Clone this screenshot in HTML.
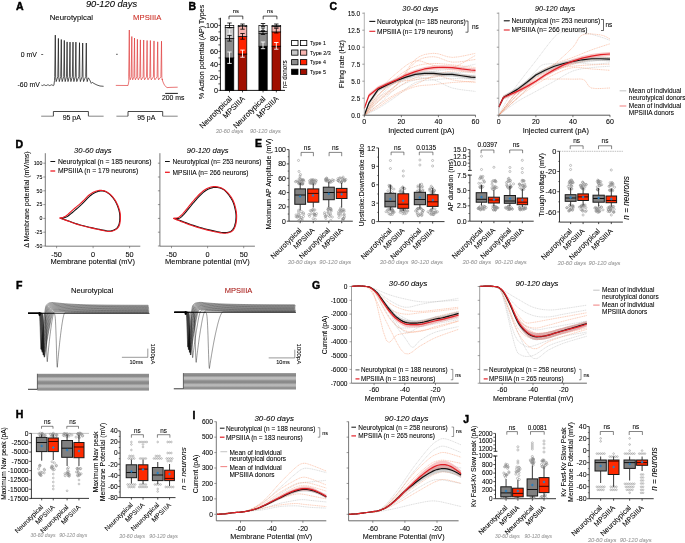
<!DOCTYPE html>
<html><head><meta charset="utf-8"><style>
html,body{margin:0;padding:0;background:#fff;overflow:hidden}
svg{display:block;will-change:transform}
text{font-family:"Liberation Sans", sans-serif}
</style></head><body>
<svg width="685" height="543" viewBox="0 0 685 543">
<rect width="685" height="543" fill="#fff"/>
<text x="16.00" y="10.20" font-size="10.5" text-anchor="start" fill="#000" stroke="#000" stroke-width="0.45" font-weight="bold">A</text>
<text x="111.50" y="6.60" font-size="9.3" text-anchor="middle" fill="#000" stroke="#000" stroke-width="0.07" font-style="italic">90-120 days</text>
<text x="71.40" y="20.00" font-size="7.8" text-anchor="middle" fill="#000" stroke="#000" stroke-width="0.07">Neurotypical</text>
<text x="147.20" y="20.00" font-size="7.7" text-anchor="middle" fill="#cc2b22" stroke="#cc2b22" stroke-width="0.07">MPSIIIA</text>
<text x="36.80" y="56.60" font-size="6.9" text-anchor="end" fill="#000" stroke="#000" stroke-width="0.07">0 mV</text>
<text x="39.80" y="87.30" font-size="6.9" text-anchor="end" fill="#000" stroke="#000" stroke-width="0.07">-60 mV</text>
<line x1="41.20" y1="54.50" x2="43.20" y2="54.50" stroke="#000" stroke-width="0.6"/>
<line x1="116.00" y1="54.30" x2="117.80" y2="54.30" stroke="#000" stroke-width="0.6"/>
<polyline points="41.40,85.20 42.10,85.57 42.80,85.48 43.50,85.03 44.20,84.80 44.90,85.07 45.60,85.50 46.30,85.56 47.00,85.16 47.70,84.82 48.40,84.95 49.10,85.40 49.80,85.60 50.50,85.29 51.20,84.87 51.90,84.86 52.60,85.28 53.30,85.59 53.90,85.20 54.50,80.60 54.70,76.50 55.30,35.10 55.65,77.50 56.20,81.60 57.80,76.50 58.40,38.40 58.75,77.50 59.30,81.60 60.70,76.50 61.30,39.50 61.65,77.50 62.20,81.60 63.70,76.50 64.30,40.40 64.65,77.50 65.20,81.60 66.50,76.50 67.10,41.90 67.45,77.50 68.00,81.60 69.40,76.50 70.00,42.10 70.35,77.50 70.90,81.60 72.40,76.50 73.00,42.10 73.35,77.50 73.90,81.60 75.30,76.50 75.90,42.10 76.25,77.50 76.80,81.60 78.90,76.50 79.50,42.70 79.85,77.50 80.40,81.60 82.10,76.50 82.70,43.00 83.05,77.50 83.60,81.60 85.70,76.50 86.30,43.00 86.65,77.50 87.20,81.60 88.30,77.80 89.50,79.50 91.30,83.40 92.30,82.30 94.00,83.50 97.00,85.00 100.00,86.00 103.60,86.30" stroke="#111" stroke-width="0.7" fill="none" stroke-linejoin="round"/>
<polyline points="115.80,85.40 128.00,85.50 128.90,81.00 128.70,76.80 129.30,30.00 129.65,77.50 130.20,79.80 131.20,76.80 131.80,36.50 132.15,77.50 132.70,79.80 133.90,76.80 134.50,38.00 134.85,77.50 135.40,79.80 136.80,76.80 137.40,39.30 137.75,77.50 138.30,79.80 139.80,76.80 140.40,39.90 140.75,77.50 141.30,79.80 143.10,76.80 143.70,40.00 144.05,77.50 144.60,79.80 146.50,76.80 147.10,40.50 147.45,77.50 148.00,79.80 149.80,76.80 150.40,40.50 150.75,77.50 151.30,79.80 153.40,76.80 154.00,40.90 154.35,77.50 154.90,79.80 157.10,76.80 157.70,41.80 158.05,77.50 158.60,79.80 160.90,76.80 161.50,41.20 161.85,77.50 162.40,79.80 162.10,79.00 163.00,82.00 164.60,85.40 167.00,87.60 170.00,87.40 177.70,87.20" stroke="#e03c3c" stroke-width="0.7" fill="none" stroke-linejoin="round"/>
<line x1="165.20" y1="93.40" x2="177.90" y2="93.40" stroke="#000" stroke-width="0.9"/>
<text x="173.20" y="100.00" font-size="6.9" text-anchor="middle" fill="#000" stroke="#000" stroke-width="0.07">200 ms</text>
<polyline points="41.20,116.20 53.40,116.20" stroke="#666" stroke-width="0.8" fill="none" stroke-linejoin="round"/>
<polyline points="53.40,116.20 53.40,111.50 88.40,111.50 88.40,116.20" stroke="#1a1a1a" stroke-width="0.8" fill="none" stroke-linejoin="round"/>
<polyline points="88.40,116.20 103.60,116.20" stroke="#666" stroke-width="0.8" fill="none" stroke-linejoin="round"/>
<text x="71.80" y="119.50" font-size="7" text-anchor="middle" fill="#000" stroke="#000" stroke-width="0.07">95 pA</text>
<polyline points="116.40,116.20 128.00,116.20" stroke="#666" stroke-width="0.8" fill="none" stroke-linejoin="round"/>
<polyline points="128.00,116.20 128.00,111.50 162.70,111.50 162.70,116.20" stroke="#1a1a1a" stroke-width="0.8" fill="none" stroke-linejoin="round"/>
<polyline points="162.70,116.20 177.70,116.20" stroke="#666" stroke-width="0.8" fill="none" stroke-linejoin="round"/>
<text x="146.30" y="119.50" font-size="7" text-anchor="middle" fill="#000" stroke="#000" stroke-width="0.07">95 pA</text>
<text x="188.60" y="9.80" font-size="10.5" text-anchor="start" fill="#000" stroke="#000" stroke-width="0.45" font-weight="bold">B</text>
<line x1="220.40" y1="17.80" x2="220.40" y2="90.70" stroke="#000" stroke-width="0.9"/>
<line x1="220.00" y1="90.40" x2="285.00" y2="90.40" stroke="#000" stroke-width="0.9"/>
<line x1="218.40" y1="90.40" x2="220.40" y2="90.40" stroke="#000" stroke-width="0.7"/>
<line x1="218.40" y1="83.90" x2="220.40" y2="83.90" stroke="#000" stroke-width="0.7"/>
<line x1="218.40" y1="77.40" x2="220.40" y2="77.40" stroke="#000" stroke-width="0.7"/>
<line x1="218.40" y1="70.90" x2="220.40" y2="70.90" stroke="#000" stroke-width="0.7"/>
<line x1="218.40" y1="64.40" x2="220.40" y2="64.40" stroke="#000" stroke-width="0.7"/>
<line x1="218.40" y1="57.90" x2="220.40" y2="57.90" stroke="#000" stroke-width="0.7"/>
<line x1="218.40" y1="51.40" x2="220.40" y2="51.40" stroke="#000" stroke-width="0.7"/>
<line x1="218.40" y1="44.90" x2="220.40" y2="44.90" stroke="#000" stroke-width="0.7"/>
<line x1="218.40" y1="38.40" x2="220.40" y2="38.40" stroke="#000" stroke-width="0.7"/>
<line x1="218.40" y1="31.90" x2="220.40" y2="31.90" stroke="#000" stroke-width="0.7"/>
<line x1="218.40" y1="25.40" x2="220.40" y2="25.40" stroke="#000" stroke-width="0.7"/>
<line x1="218.40" y1="18.90" x2="220.40" y2="18.90" stroke="#000" stroke-width="0.7"/>
<text x="217.90" y="92.90" font-size="7.2" text-anchor="end" fill="#000" stroke="#000" stroke-width="0.07">0</text>
<text x="217.90" y="79.90" font-size="7.2" text-anchor="end" fill="#000" stroke="#000" stroke-width="0.07">20</text>
<text x="217.90" y="66.90" font-size="7.2" text-anchor="end" fill="#000" stroke="#000" stroke-width="0.07">40</text>
<text x="217.90" y="53.90" font-size="7.2" text-anchor="end" fill="#000" stroke="#000" stroke-width="0.07">60</text>
<text x="217.90" y="40.90" font-size="7.2" text-anchor="end" fill="#000" stroke="#000" stroke-width="0.07">80</text>
<text x="217.90" y="27.90" font-size="7.2" text-anchor="end" fill="#000" stroke="#000" stroke-width="0.07">100</text>
<text x="204.20" y="52.00" font-size="7.2" text-anchor="middle" fill="#000" stroke="#000" stroke-width="0.07" transform="rotate(-90 204.20 52.00)">% Action potential (AP) Types</text>
<rect x="225.20" y="57.90" width="8.60" height="32.50" fill="#000" stroke="#000" stroke-width="0.7"/>
<rect x="225.20" y="38.40" width="8.60" height="19.50" fill="#8c8c8c" stroke="#000" stroke-width="0.7"/>
<rect x="225.20" y="27.35" width="8.60" height="11.05" fill="#c8c8c8" stroke="#000" stroke-width="0.7"/>
<rect x="225.20" y="25.40" width="8.60" height="1.95" fill="#fff" stroke="#000" stroke-width="0.7"/>
<line x1="229.50" y1="90.40" x2="229.50" y2="92.40" stroke="#000" stroke-width="0.7"/>
<rect x="238.20" y="54.00" width="8.60" height="36.40" fill="#a00f00" stroke="#000" stroke-width="0.7"/>
<rect x="238.20" y="36.45" width="8.60" height="17.55" fill="#ff2200" stroke="#000" stroke-width="0.7"/>
<rect x="238.20" y="26.38" width="8.60" height="10.08" fill="#f7b5b0" stroke="#000" stroke-width="0.7"/>
<rect x="238.20" y="25.40" width="8.60" height="0.97" fill="#fff" stroke="#000" stroke-width="0.7"/>
<line x1="242.50" y1="90.40" x2="242.50" y2="92.40" stroke="#000" stroke-width="0.7"/>
<rect x="258.90" y="46.20" width="8.30" height="44.20" fill="#000" stroke="#000" stroke-width="0.7"/>
<rect x="258.90" y="33.20" width="8.30" height="13.00" fill="#8c8c8c" stroke="#000" stroke-width="0.7"/>
<rect x="258.90" y="31.25" width="8.30" height="1.95" fill="#c8c8c8" stroke="#000" stroke-width="0.7"/>
<rect x="258.90" y="25.40" width="8.30" height="5.85" fill="#fff" stroke="#000" stroke-width="0.7"/>
<line x1="263.05" y1="90.40" x2="263.05" y2="92.40" stroke="#000" stroke-width="0.7"/>
<rect x="272.00" y="46.20" width="8.70" height="44.20" fill="#a00f00" stroke="#000" stroke-width="0.7"/>
<rect x="272.00" y="31.90" width="8.70" height="14.30" fill="#ff2200" stroke="#000" stroke-width="0.7"/>
<rect x="272.00" y="26.38" width="8.70" height="5.53" fill="#f7b5b0" stroke="#000" stroke-width="0.7"/>
<rect x="272.00" y="25.40" width="8.70" height="0.97" fill="#fff" stroke="#000" stroke-width="0.7"/>
<line x1="276.35" y1="90.40" x2="276.35" y2="92.40" stroke="#000" stroke-width="0.7"/>
<line x1="229.50" y1="52.00" x2="229.50" y2="63.40" stroke="#fff" stroke-width="0.9"/>
<line x1="227.30" y1="52.00" x2="231.70" y2="52.00" stroke="#fff" stroke-width="0.9"/>
<line x1="227.30" y1="63.40" x2="231.70" y2="63.40" stroke="#fff" stroke-width="0.9"/>
<line x1="229.50" y1="35.40" x2="229.50" y2="41.10" stroke="#000" stroke-width="0.8"/>
<line x1="227.30" y1="35.40" x2="231.70" y2="35.40" stroke="#000" stroke-width="0.8"/>
<line x1="227.30" y1="41.10" x2="231.70" y2="41.10" stroke="#000" stroke-width="0.8"/>
<line x1="229.50" y1="29.00" x2="229.50" y2="34.00" stroke="#fff" stroke-width="0.7"/>
<line x1="227.30" y1="29.00" x2="231.70" y2="29.00" stroke="#fff" stroke-width="0.7"/>
<line x1="227.30" y1="34.00" x2="231.70" y2="34.00" stroke="#fff" stroke-width="0.7"/>
<line x1="229.50" y1="23.00" x2="229.50" y2="27.80" stroke="#000" stroke-width="0.8"/>
<line x1="227.30" y1="23.00" x2="231.70" y2="23.00" stroke="#000" stroke-width="0.8"/>
<line x1="227.30" y1="27.80" x2="231.70" y2="27.80" stroke="#000" stroke-width="0.8"/>
<line x1="242.50" y1="50.10" x2="242.50" y2="57.20" stroke="#fff" stroke-width="0.9"/>
<line x1="240.30" y1="50.10" x2="244.70" y2="50.10" stroke="#fff" stroke-width="0.9"/>
<line x1="240.30" y1="57.20" x2="244.70" y2="57.20" stroke="#fff" stroke-width="0.9"/>
<line x1="242.50" y1="33.50" x2="242.50" y2="39.20" stroke="#000" stroke-width="0.8"/>
<line x1="240.30" y1="33.50" x2="244.70" y2="33.50" stroke="#000" stroke-width="0.8"/>
<line x1="240.30" y1="39.20" x2="244.70" y2="39.20" stroke="#000" stroke-width="0.8"/>
<line x1="242.50" y1="27.00" x2="242.50" y2="31.00" stroke="#f7b5b0" stroke-width="0.7"/>
<line x1="240.30" y1="27.00" x2="244.70" y2="27.00" stroke="#f7b5b0" stroke-width="0.7"/>
<line x1="240.30" y1="31.00" x2="244.70" y2="31.00" stroke="#f7b5b0" stroke-width="0.7"/>
<line x1="242.50" y1="24.00" x2="242.50" y2="29.20" stroke="#000" stroke-width="0.8"/>
<line x1="240.30" y1="24.00" x2="244.70" y2="24.00" stroke="#000" stroke-width="0.8"/>
<line x1="240.30" y1="29.20" x2="244.70" y2="29.20" stroke="#000" stroke-width="0.8"/>
<line x1="263.00" y1="42.00" x2="263.00" y2="48.70" stroke="#fff" stroke-width="0.9"/>
<line x1="260.80" y1="42.00" x2="265.20" y2="42.00" stroke="#fff" stroke-width="0.9"/>
<line x1="260.80" y1="48.70" x2="265.20" y2="48.70" stroke="#fff" stroke-width="0.9"/>
<line x1="263.00" y1="31.50" x2="263.00" y2="34.50" stroke="#000" stroke-width="0.8"/>
<line x1="260.80" y1="31.50" x2="265.20" y2="31.50" stroke="#000" stroke-width="0.8"/>
<line x1="260.80" y1="34.50" x2="265.20" y2="34.50" stroke="#000" stroke-width="0.8"/>
<line x1="263.00" y1="28.00" x2="263.00" y2="30.40" stroke="#000" stroke-width="0.8"/>
<line x1="260.80" y1="28.00" x2="265.20" y2="28.00" stroke="#000" stroke-width="0.8"/>
<line x1="260.80" y1="30.40" x2="265.20" y2="30.40" stroke="#000" stroke-width="0.8"/>
<line x1="263.00" y1="23.50" x2="263.00" y2="26.50" stroke="#000" stroke-width="0.8"/>
<line x1="260.80" y1="23.50" x2="265.20" y2="23.50" stroke="#000" stroke-width="0.8"/>
<line x1="260.80" y1="26.50" x2="265.20" y2="26.50" stroke="#000" stroke-width="0.8"/>
<line x1="276.30" y1="42.50" x2="276.30" y2="49.20" stroke="#fff" stroke-width="0.9"/>
<line x1="274.10" y1="42.50" x2="278.50" y2="42.50" stroke="#fff" stroke-width="0.9"/>
<line x1="274.10" y1="49.20" x2="278.50" y2="49.20" stroke="#fff" stroke-width="0.9"/>
<line x1="276.30" y1="28.30" x2="276.30" y2="33.00" stroke="#000" stroke-width="0.8"/>
<line x1="274.10" y1="28.30" x2="278.50" y2="28.30" stroke="#000" stroke-width="0.8"/>
<line x1="274.10" y1="33.00" x2="278.50" y2="33.00" stroke="#000" stroke-width="0.8"/>
<line x1="276.30" y1="24.00" x2="276.30" y2="27.00" stroke="#000" stroke-width="0.8"/>
<line x1="274.10" y1="24.00" x2="278.50" y2="24.00" stroke="#000" stroke-width="0.8"/>
<line x1="274.10" y1="27.00" x2="278.50" y2="27.00" stroke="#000" stroke-width="0.8"/>
<polyline points="229.00,19.30 229.00,16.10 242.80,16.10 242.80,19.30" stroke="#000" stroke-width="0.7" fill="none" stroke-linejoin="round"/>
<polyline points="263.20,19.30 263.20,16.10 276.90,16.10 276.90,19.30" stroke="#000" stroke-width="0.7" fill="none" stroke-linejoin="round"/>
<text x="235.90" y="12.60" font-size="5.9" text-anchor="middle" fill="#000" stroke="#000" stroke-width="0.07">ns</text>
<text x="270.00" y="12.60" font-size="5.9" text-anchor="middle" fill="#000" stroke="#000" stroke-width="0.07">ns</text>
<rect x="291.60" y="40.40" width="6.40" height="5.20" fill="#fff" stroke="#000" stroke-width="0.8"/>
<rect x="300.40" y="40.40" width="6.40" height="5.20" fill="#fff" stroke="#000" stroke-width="0.8"/>
<text x="309.90" y="45.00" font-size="5.9" text-anchor="start" fill="#000" stroke="#000" stroke-width="0.07" textLength="16.0" lengthAdjust="spacingAndGlyphs">Type 1</text>
<rect x="291.60" y="50.00" width="6.40" height="5.20" fill="#c8c8c8" stroke="#000" stroke-width="0.8"/>
<rect x="300.40" y="50.00" width="6.40" height="5.20" fill="#f7b5b0" stroke="#000" stroke-width="0.8"/>
<text x="309.90" y="54.60" font-size="5.9" text-anchor="start" fill="#000" stroke="#000" stroke-width="0.07" textLength="21.0" lengthAdjust="spacingAndGlyphs">Type 2/3</text>
<rect x="291.60" y="59.60" width="6.40" height="5.20" fill="#8c8c8c" stroke="#000" stroke-width="0.8"/>
<rect x="300.40" y="59.60" width="6.40" height="5.20" fill="#ff2200" stroke="#000" stroke-width="0.8"/>
<text x="309.90" y="64.20" font-size="5.9" text-anchor="start" fill="#000" stroke="#000" stroke-width="0.07" textLength="16.0" lengthAdjust="spacingAndGlyphs">Type 4</text>
<rect x="291.60" y="69.20" width="6.40" height="5.20" fill="#000" stroke="#000" stroke-width="0.8"/>
<rect x="300.40" y="69.20" width="6.40" height="5.20" fill="#a00f00" stroke="#000" stroke-width="0.8"/>
<text x="309.90" y="73.80" font-size="5.9" text-anchor="start" fill="#000" stroke="#000" stroke-width="0.07" textLength="16.0" lengthAdjust="spacingAndGlyphs">Type 5</text>
<text x="287.20" y="74.50" font-size="6.3" text-anchor="middle" fill="#000" stroke="#000" stroke-width="0.07" transform="rotate(-90 287.20 74.50)">n= donors</text>
<text x="232.40" y="99.20" font-size="7.6" text-anchor="end" fill="#000" stroke="#000" stroke-width="0.07" transform="rotate(-45 232.40 99.20)">Neurotypical</text>
<text x="245.40" y="99.20" font-size="7.6" text-anchor="end" fill="#000" stroke="#000" stroke-width="0.07" transform="rotate(-45 245.40 99.20)">MPSIIIA</text>
<text x="266.00" y="99.20" font-size="7.6" text-anchor="end" fill="#000" stroke="#000" stroke-width="0.07" transform="rotate(-45 266.00 99.20)">Neurotypical</text>
<text x="279.20" y="99.20" font-size="7.6" text-anchor="end" fill="#000" stroke="#000" stroke-width="0.07" transform="rotate(-45 279.20 99.20)">MPSIIIA</text>
<text x="229.50" y="133.00" font-size="5.6" text-anchor="middle" fill="#999999" stroke="#999999" stroke-width="0.07" font-style="italic">30-60 days</text>
<text x="265.40" y="133.00" font-size="5.6" text-anchor="middle" fill="#999999" stroke="#999999" stroke-width="0.07" font-style="italic">90-120 days</text>
<text x="329.40" y="10.40" font-size="10.5" text-anchor="start" fill="#000" stroke="#000" stroke-width="0.45" font-weight="bold">C</text>
<polyline points="364.30,115.20 366.69,112.84 370.09,109.46 374.07,105.56 378.20,101.60 382.50,97.35 387.17,92.68 391.99,88.21 396.73,84.60 401.36,81.98 405.99,80.01 410.62,78.64 415.26,77.80 419.89,77.55 424.52,77.89 429.16,78.69 433.79,79.84 438.31,81.56 442.76,83.84 447.36,86.15 452.32,88.00 458.33,89.26 465.06,90.21 471.21,90.90 475.48,91.40" stroke="#b8b8b8" stroke-width="0.45" fill="none" stroke-linejoin="round" stroke-dasharray="1.2,0.6"/>
<polyline points="364.30,115.20 366.69,114.11 370.09,112.56 374.07,110.64 378.20,108.40 382.50,105.75 387.17,102.70 391.99,99.44 396.73,96.16 401.36,92.60 405.99,88.77 410.62,85.23 415.26,82.56 419.89,81.08 424.52,80.44 429.16,80.17 433.79,79.84 438.31,79.36 442.76,78.95 447.36,78.64 452.32,78.48 458.33,78.52 465.06,78.73 471.21,78.99 475.48,79.16" stroke="#b8b8b8" stroke-width="0.45" fill="none" stroke-linejoin="round" stroke-dasharray="1.2,0.6"/>
<polyline points="364.30,115.20 366.69,112.15 370.09,107.76 374.07,102.85 378.20,98.20 382.50,93.71 387.17,89.06 391.99,84.73 396.73,81.20 401.36,78.70 405.99,76.95 410.62,75.62 415.26,74.40 419.89,73.28 424.52,72.40 429.16,71.67 433.79,71.00 438.31,70.46 442.76,70.07 447.36,69.63 452.32,68.96 458.33,67.85 465.06,66.45 471.21,65.12 475.48,64.20" stroke="#b8b8b8" stroke-width="0.45" fill="none" stroke-linejoin="round" stroke-dasharray="1.2,0.6"/>
<polyline points="364.30,115.20 366.69,111.41 370.09,105.94 374.07,100.00 378.20,94.80 382.50,90.49 387.17,86.47 391.99,82.88 396.73,79.84 401.36,77.38 405.99,75.42 410.62,73.98 415.26,73.04 419.89,72.81 424.52,73.21 429.16,73.87 433.79,74.40 438.31,74.79 442.76,75.21 447.36,75.56 452.32,75.76 458.33,75.72 465.06,75.51 471.21,75.25 475.48,75.08" stroke="#b8b8b8" stroke-width="0.45" fill="none" stroke-linejoin="round" stroke-dasharray="1.2,0.6"/>
<polyline points="364.30,115.20 366.69,113.53 370.09,111.16 374.07,108.27 378.20,105.00 382.50,101.02 387.17,96.37 391.99,91.79 396.73,88.00 401.36,85.21 405.99,83.03 410.62,81.29 415.26,79.84 419.89,78.81 424.52,78.23 429.16,77.77 433.79,77.12 438.31,76.13 442.76,75.00 447.36,73.90 452.32,73.04 458.33,72.48 465.06,72.10 471.21,71.86 475.48,71.68" stroke="#b8b8b8" stroke-width="0.45" fill="none" stroke-linejoin="round" stroke-dasharray="1.2,0.6"/>
<polyline points="364.30,115.20 366.69,112.07 370.09,107.55 374.07,102.61 378.20,98.20 382.50,94.83 387.17,91.91 391.99,88.73 396.73,84.60 401.36,78.68 405.99,71.55 410.62,64.66 415.26,59.44 419.89,56.33 424.52,54.55 429.16,53.69 433.79,53.32 438.31,53.81 442.76,55.23 447.36,56.71 452.32,57.40 458.33,56.86 465.06,55.62 471.21,54.24 475.48,53.32" stroke="#f7936a" stroke-width="0.45" fill="none" stroke-linejoin="round" stroke-dasharray="1.2,0.6"/>
<polyline points="364.30,115.20 366.69,110.80 370.09,104.45 374.07,97.53 378.20,91.40 382.50,86.28 387.17,81.50 391.99,77.07 396.73,73.04 401.36,69.15 405.99,65.47 410.62,62.52 415.26,60.80 419.89,60.86 424.52,62.29 429.16,64.16 433.79,65.56 438.31,66.60 442.76,67.64 447.36,68.16 452.32,67.60 458.33,65.26 465.06,61.61 471.21,57.89 475.48,55.36" stroke="#f7936a" stroke-width="0.45" fill="none" stroke-linejoin="round" stroke-dasharray="1.2,0.6"/>
<polyline points="364.30,115.20 366.69,112.76 370.09,109.25 374.07,105.32 378.20,101.60 382.50,98.12 387.17,94.59 391.99,91.16 396.73,88.00 401.36,85.05 405.99,82.26 410.62,79.79 415.26,77.80 419.89,76.26 424.52,75.12 429.16,74.47 433.79,74.40 438.31,75.20 442.76,76.74 447.36,78.46 452.32,79.84 458.33,80.78 465.06,81.54 471.21,82.13 475.48,82.56" stroke="#f7936a" stroke-width="0.45" fill="none" stroke-linejoin="round" stroke-dasharray="1.2,0.6"/>
<polyline points="364.30,115.20 366.69,113.40 370.09,110.82 374.07,107.88 378.20,105.00 382.50,102.14 387.17,99.13 391.99,96.17 396.73,93.44 401.36,91.04 405.99,88.85 410.62,86.75 415.26,84.60 419.89,82.29 424.52,79.92 429.16,77.68 433.79,75.76 438.31,74.12 442.76,72.70 447.36,71.62 452.32,71.00 458.33,71.08 465.06,71.72 471.21,72.51 475.48,73.04" stroke="#f7936a" stroke-width="0.45" fill="none" stroke-linejoin="round" stroke-dasharray="1.2,0.6"/>
<polyline points="364.30,115.20 366.69,111.78 370.09,106.87 374.07,101.37 378.20,96.16 382.50,91.21 387.17,86.13 391.99,81.31 396.73,77.12 401.36,73.64 405.99,70.66 410.62,68.20 415.26,66.24 419.89,64.89 424.52,64.12 429.16,63.72 433.79,63.52 438.31,63.54 442.76,63.86 447.36,64.35 452.32,64.88 458.33,65.53 465.06,66.33 471.21,67.08 475.48,67.60" stroke="#f7936a" stroke-width="0.45" fill="none" stroke-linejoin="round" stroke-dasharray="1.2,0.6"/>
<polyline points="364.30,115.20 366.69,111.34 370.09,105.77 374.07,99.80 378.20,94.80 382.50,90.94 387.17,87.58 391.99,84.76 396.73,82.56 401.36,81.21 405.99,80.60 410.62,80.30 415.26,79.84 419.89,79.16 424.52,78.48 429.16,77.80 433.79,77.12 438.31,76.31 442.76,75.42 447.36,74.70 452.32,74.40 458.33,74.76 465.06,75.59 471.21,76.50 475.48,77.12" stroke="#f7936a" stroke-width="0.45" fill="none" stroke-linejoin="round" stroke-dasharray="1.2,0.6"/>
<polyline points="364.30,115.20 366.69,112.51 370.09,108.66 374.07,104.33 378.20,100.24 382.50,96.69 387.17,93.27 391.99,89.59 396.73,85.28 401.36,79.66 405.99,73.12 410.62,66.89 415.26,62.16 419.89,59.30 424.52,57.66 429.16,56.90 433.79,56.72 438.31,57.51 442.76,59.27 447.36,61.12 452.32,62.16 458.33,61.99 465.06,61.14 471.21,60.12 475.48,59.44" stroke="#f7936a" stroke-width="0.45" fill="none" stroke-linejoin="round" stroke-dasharray="1.2,0.6"/>
<polyline points="364.30,115.20 366.69,113.83 370.09,111.88 374.07,109.56 378.20,107.04 382.50,104.17 387.17,100.92 391.99,97.67 396.73,94.80 401.36,92.33 405.99,90.08 410.62,88.15 415.26,86.64 419.89,85.70 424.52,85.24 429.16,84.97 433.79,84.60 438.31,84.07 442.76,83.54 447.36,83.02 452.32,82.56 458.33,82.14 465.06,81.75 471.21,81.43 475.48,81.20" stroke="#f7936a" stroke-width="0.45" fill="none" stroke-linejoin="round" stroke-dasharray="1.2,0.6"/>
<path d="M364.30,113.16 L368.93,100.92 L378.20,87.32 L387.46,82.56 L396.73,78.48 L405.99,75.08 L415.26,72.36 L424.52,71.34 L433.79,71.34 L443.05,72.36 L452.32,72.36 L461.58,73.72 L470.85,75.08 L475.48,75.42 L475.48,79.50 L470.85,79.16 L461.58,77.80 L452.32,76.44 L443.05,76.44 L433.79,75.42 L424.52,75.42 L415.26,76.44 L405.99,79.16 L396.73,82.56 L387.46,86.64 L378.20,91.40 L368.93,105.00 L364.30,117.24Z" stroke="none" stroke-width="0" fill="#9a9a9a" fill-opacity="0.45"/>
<path d="M364.30,106.36 L368.93,93.44 L378.20,85.96 L387.46,81.88 L396.73,77.80 L405.99,73.04 L415.26,69.64 L424.52,66.92 L433.79,65.56 L443.05,65.22 L452.32,65.56 L461.58,66.92 L470.85,67.94 L475.48,68.28 L475.48,72.36 L470.85,72.02 L461.58,71.00 L452.32,69.64 L443.05,69.30 L433.79,69.64 L424.52,71.00 L415.26,73.72 L405.99,77.12 L396.73,81.88 L387.46,85.96 L378.20,90.04 L368.93,97.52 L364.30,110.44Z" stroke="none" stroke-width="0" fill="#f08080" fill-opacity="0.45"/>
<polyline points="364.30,115.20 368.93,102.96 378.20,89.36 387.46,84.60 396.73,80.52 405.99,77.12 415.26,74.40 424.52,73.38 433.79,73.38 443.05,74.40 452.32,74.40 461.58,75.76 470.85,77.12 475.48,77.46" stroke="#111" stroke-width="1.2" fill="none" stroke-linejoin="round"/>
<polyline points="364.30,108.40 368.93,95.48 378.20,88.00 387.46,83.92 396.73,79.84 405.99,75.08 415.26,71.68 424.52,68.96 433.79,67.60 443.05,67.26 452.32,67.60 461.58,68.96 470.85,69.98 475.48,70.32" stroke="#e21f26" stroke-width="1.2" fill="none" stroke-linejoin="round"/>
<line x1="364.30" y1="12.50" x2="364.30" y2="115.20" stroke="#a0a0a0" stroke-width="0.8"/>
<line x1="362.30" y1="115.20" x2="364.30" y2="115.20" stroke="#777" stroke-width="0.7"/>
<text x="360.20" y="117.50" font-size="6.4" text-anchor="end" fill="#000" stroke="#000" stroke-width="0.07">0.0</text>
<line x1="362.30" y1="98.20" x2="364.30" y2="98.20" stroke="#777" stroke-width="0.7"/>
<text x="360.20" y="100.50" font-size="6.4" text-anchor="end" fill="#000" stroke="#000" stroke-width="0.07">2.5</text>
<line x1="362.30" y1="81.20" x2="364.30" y2="81.20" stroke="#777" stroke-width="0.7"/>
<text x="360.20" y="83.50" font-size="6.4" text-anchor="end" fill="#000" stroke="#000" stroke-width="0.07">5.0</text>
<line x1="362.30" y1="64.20" x2="364.30" y2="64.20" stroke="#777" stroke-width="0.7"/>
<text x="360.20" y="66.50" font-size="6.4" text-anchor="end" fill="#000" stroke="#000" stroke-width="0.07">7.5</text>
<line x1="362.30" y1="47.20" x2="364.30" y2="47.20" stroke="#777" stroke-width="0.7"/>
<text x="360.20" y="49.50" font-size="6.4" text-anchor="end" fill="#000" stroke="#000" stroke-width="0.07">10.0</text>
<line x1="362.30" y1="30.20" x2="364.30" y2="30.20" stroke="#777" stroke-width="0.7"/>
<text x="360.20" y="32.50" font-size="6.4" text-anchor="end" fill="#000" stroke="#000" stroke-width="0.07">12.5</text>
<line x1="362.30" y1="13.20" x2="364.30" y2="13.20" stroke="#777" stroke-width="0.7"/>
<text x="360.20" y="15.50" font-size="6.4" text-anchor="end" fill="#000" stroke="#000" stroke-width="0.07">15.0</text>
<line x1="364.30" y1="115.20" x2="475.60" y2="115.20" stroke="#444" stroke-width="0.9"/>
<line x1="364.30" y1="115.20" x2="364.30" y2="117.20" stroke="#444" stroke-width="0.7"/>
<text x="364.30" y="124.00" font-size="7.0" text-anchor="middle" fill="#000" stroke="#000" stroke-width="0.07">0</text>
<line x1="401.36" y1="115.20" x2="401.36" y2="117.20" stroke="#444" stroke-width="0.7"/>
<text x="401.36" y="124.00" font-size="7.0" text-anchor="middle" fill="#000" stroke="#000" stroke-width="0.07">20</text>
<line x1="438.42" y1="115.20" x2="438.42" y2="117.20" stroke="#444" stroke-width="0.7"/>
<text x="438.42" y="124.00" font-size="7.0" text-anchor="middle" fill="#000" stroke="#000" stroke-width="0.07">40</text>
<line x1="475.48" y1="115.20" x2="475.48" y2="117.20" stroke="#444" stroke-width="0.7"/>
<text x="475.48" y="124.00" font-size="7.0" text-anchor="middle" fill="#000" stroke="#000" stroke-width="0.07">60</text>
<text x="421.30" y="133.20" font-size="7.3" text-anchor="middle" fill="#000" stroke="#000" stroke-width="0.07">Injected current (pA)</text>
<text x="420.40" y="11.10" font-size="7.3" text-anchor="middle" fill="#000" stroke="#000" stroke-width="0.07" font-style="italic">30-60 days</text>
<line x1="369.30" y1="21.40" x2="375.30" y2="21.40" stroke="#111" stroke-width="1.1"/>
<line x1="369.30" y1="31.30" x2="375.30" y2="31.30" stroke="#e21f26" stroke-width="1.1"/>
<text x="376.90" y="23.70" font-size="6.6" text-anchor="start" fill="#000" stroke="#000" stroke-width="0.07">Neurotypical (n= 185 neurons)</text>
<text x="376.90" y="33.60" font-size="6.6" text-anchor="start" fill="#000" stroke="#000" stroke-width="0.07">MPSIIIA (n= 179 neurons)</text>
<polyline points="465.50,21.00 468.00,21.00 468.00,32.20 465.50,32.20" stroke="#000" stroke-width="0.6" fill="none" stroke-linejoin="round"/>
<text x="472.00" y="29.00" font-size="6.5" text-anchor="start" fill="#000" stroke="#000" stroke-width="0.07">ns</text>
<polyline points="498.80,115.20 500.46,112.07 502.85,107.55 505.53,102.61 508.06,98.20 510.16,94.80 512.12,91.83 514.36,88.64 517.33,84.60 521.31,79.37 526.02,73.34 531.01,66.99 535.86,60.80 540.71,54.40 545.70,47.71 550.41,41.61 554.39,37.00 557.14,34.36 559.02,33.13 560.90,32.65 563.65,32.24 567.64,31.79 572.34,31.65 577.34,31.79 582.19,32.24 587.03,33.13 592.03,34.41 596.73,35.79 600.72,37.00 603.90,38.03 606.51,39.00 608.53,39.82 609.98,40.40" stroke="#b8b8b8" stroke-width="0.45" fill="none" stroke-linejoin="round" stroke-dasharray="1.2,0.6"/>
<polyline points="498.80,115.20 502.13,112.15 506.91,107.76 512.26,102.85 517.33,98.20 521.96,93.79 526.60,89.27 531.23,84.97 535.86,81.20 540.49,78.09 545.12,75.46 549.76,73.15 554.39,71.00 559.02,68.98 563.65,67.17 568.29,65.58 572.92,64.20 577.55,63.03 582.19,62.08 586.82,61.33 591.45,60.80 596.52,60.56 601.87,60.59 606.65,60.72 609.98,60.80" stroke="#b8b8b8" stroke-width="0.45" fill="none" stroke-linejoin="round" stroke-dasharray="1.2,0.6"/>
<polyline points="498.80,115.20 502.13,112.68 506.91,109.04 512.26,105.08 517.33,101.60 521.96,98.81 526.60,96.29 531.23,93.87 535.86,91.40 540.49,88.85 545.12,86.30 549.76,83.75 554.39,81.20 559.02,78.49 563.65,75.67 568.29,73.07 572.92,71.00 577.55,69.62 582.19,68.75 586.82,68.15 591.45,67.60 596.52,67.08 601.87,66.71 606.65,66.44 609.98,66.24" stroke="#b8b8b8" stroke-width="0.45" fill="none" stroke-linejoin="round" stroke-dasharray="1.2,0.6"/>
<polyline points="498.80,115.20 502.13,111.50 506.91,106.19 512.26,100.28 517.33,94.80 521.96,89.74 526.60,84.64 531.23,79.87 535.86,75.76 540.49,72.43 545.12,69.68 549.76,67.42 554.39,65.56 559.02,64.10 563.65,63.10 568.29,62.47 572.92,62.16 577.55,62.37 582.19,63.05 586.82,63.80 591.45,64.20 596.52,64.07 601.87,63.65 606.65,63.16 609.98,62.84" stroke="#b8b8b8" stroke-width="0.45" fill="none" stroke-linejoin="round" stroke-dasharray="1.2,0.6"/>
<polyline points="498.80,115.20 502.13,110.84 506.91,104.58 512.26,97.67 517.33,91.40 522.18,85.74 527.17,80.14 531.88,75.06 535.86,71.00 538.39,68.20 539.91,66.37 541.72,65.15 545.12,64.20 550.55,63.70 557.29,63.73 564.89,63.83 572.92,63.52 582.40,62.51 593.19,61.10 603.10,59.71 609.98,58.76" stroke="#b8b8b8" stroke-width="0.45" fill="none" stroke-linejoin="round" stroke-dasharray="1.2,0.6"/>
<polyline points="498.80,115.20 502.13,111.45 506.91,106.06 512.26,100.14 517.33,94.80 521.96,90.23 526.60,85.88 531.23,81.73 535.86,77.80 540.49,74.24 545.12,71.00 549.76,67.76 554.39,64.20 559.24,60.08 564.23,55.62 568.94,51.20 572.92,47.20 575.67,43.52 577.55,40.02 579.43,37.05 582.19,34.96 586.38,34.00 591.45,33.94 596.52,34.39 600.72,34.96 603.90,35.79 606.51,37.00 608.53,38.21 609.98,39.04" stroke="#f7936a" stroke-width="0.45" fill="none" stroke-linejoin="round" stroke-dasharray="1.2,0.6"/>
<polyline points="498.80,115.20 502.13,110.76 506.91,104.36 512.26,97.43 517.33,91.40 521.96,86.51 526.60,82.05 531.23,78.01 535.86,74.40 540.49,71.29 545.12,68.66 549.76,66.35 554.39,64.20 559.02,62.28 563.65,60.63 568.29,59.07 572.92,57.40 577.55,55.55 582.19,53.62 586.82,51.71 591.45,49.92 596.52,48.15 601.87,46.39 606.65,44.87 609.98,43.80" stroke="#f7936a" stroke-width="0.45" fill="none" stroke-linejoin="round" stroke-dasharray="1.2,0.6"/>
<polyline points="498.80,115.20 502.13,112.15 506.91,107.76 512.26,102.85 517.33,98.20 522.18,93.60 527.17,88.77 531.88,84.40 535.86,81.20 538.39,79.59 539.91,79.12 541.72,79.18 545.12,79.16 551.16,79.00 558.91,78.99 566.71,79.06 572.92,79.16 576.96,79.11 579.75,78.99 581.91,79.13 584.04,79.84 585.89,81.55 587.28,83.96 588.90,86.36 591.45,88.00 595.74,88.57 601.18,88.51 606.39,88.19 609.98,88.00" stroke="#f7936a" stroke-width="0.45" fill="none" stroke-linejoin="round" stroke-dasharray="1.2,0.6"/>
<polyline points="498.80,115.20 502.13,110.68 506.91,104.15 512.26,97.19 517.33,91.40 521.96,87.17 526.60,83.67 531.23,80.63 535.86,77.80 540.49,75.11 545.12,72.70 549.76,70.63 554.39,68.96 559.02,67.82 563.65,67.13 568.29,66.68 572.92,66.24 577.55,65.79 582.19,65.43 586.82,65.14 591.45,64.88 596.52,64.65 601.87,64.45 606.65,64.31 609.98,64.20" stroke="#f7936a" stroke-width="0.45" fill="none" stroke-linejoin="round" stroke-dasharray="1.2,0.6"/>
<polyline points="498.80,115.20 502.13,112.07 506.91,107.55 512.26,102.61 517.33,98.20 521.96,94.48 526.60,90.98 531.23,87.68 535.86,84.60 540.49,81.73 545.12,79.08 549.76,76.63 554.39,74.40 559.02,72.27 563.65,70.28 568.29,68.65 572.92,67.60 577.55,67.37 582.19,67.77 586.82,68.43 591.45,68.96 596.52,69.33 601.87,69.73 606.65,70.08 609.98,70.32" stroke="#f7936a" stroke-width="0.45" fill="none" stroke-linejoin="round" stroke-dasharray="1.2,0.6"/>
<polyline points="498.80,115.20 502.13,111.38 506.91,105.85 512.26,99.90 517.33,94.80 521.96,90.84 526.60,87.36 531.23,84.20 535.86,81.20 540.49,78.33 545.12,75.67 549.76,73.23 554.39,71.00 559.02,69.01 563.65,67.26 568.29,65.68 572.92,64.20 577.55,62.80 582.19,61.52 586.82,60.39 591.45,59.44 596.52,58.69 601.87,58.12 606.65,57.70 609.98,57.40" stroke="#f7936a" stroke-width="0.45" fill="none" stroke-linejoin="round" stroke-dasharray="1.2,0.6"/>
<path d="M498.80,105.00 L503.43,95.48 L508.06,92.76 L517.33,87.32 L526.60,80.52 L535.86,73.04 L545.12,68.28 L554.39,64.20 L563.65,61.48 L572.92,59.44 L582.19,57.74 L591.45,56.72 L600.72,56.72 L609.98,57.06 L609.98,61.14 L600.72,60.80 L591.45,60.80 L582.19,61.82 L572.92,63.52 L563.65,65.56 L554.39,68.28 L545.12,72.36 L535.86,77.12 L526.60,84.60 L517.33,91.40 L508.06,96.84 L503.43,99.56 L498.80,109.08Z" stroke="none" stroke-width="0" fill="#9a9a9a" fill-opacity="0.45"/>
<path d="M498.80,105.00 L503.43,95.48 L508.06,93.44 L517.33,89.36 L526.60,84.60 L535.86,79.16 L545.12,73.04 L554.39,67.60 L563.65,62.84 L572.92,59.10 L582.19,56.04 L591.45,54.00 L600.72,52.64 L609.98,51.96 L609.98,56.04 L600.72,56.72 L591.45,58.08 L582.19,60.12 L572.92,63.18 L563.65,66.92 L554.39,71.68 L545.12,77.12 L535.86,83.24 L526.60,88.68 L517.33,93.44 L508.06,97.52 L503.43,99.56 L498.80,109.08Z" stroke="none" stroke-width="0" fill="#f08080" fill-opacity="0.45"/>
<polyline points="498.80,107.04 503.43,97.52 508.06,94.80 517.33,89.36 526.60,82.56 535.86,75.08 545.12,70.32 554.39,66.24 563.65,63.52 572.92,61.48 582.19,59.78 591.45,58.76 600.72,58.76 609.98,59.10" stroke="#111" stroke-width="1.2" fill="none" stroke-linejoin="round"/>
<polyline points="498.80,107.04 503.43,97.52 508.06,95.48 517.33,91.40 526.60,86.64 535.86,81.20 545.12,75.08 554.39,69.64 563.65,64.88 572.92,61.14 582.19,58.08 591.45,56.04 600.72,54.68 609.98,54.00" stroke="#e21f26" stroke-width="1.2" fill="none" stroke-linejoin="round"/>
<line x1="498.80" y1="12.50" x2="498.80" y2="115.20" stroke="#a0a0a0" stroke-width="0.8"/>
<line x1="496.80" y1="115.20" x2="498.80" y2="115.20" stroke="#777" stroke-width="0.7"/>
<line x1="496.80" y1="98.20" x2="498.80" y2="98.20" stroke="#777" stroke-width="0.7"/>
<line x1="496.80" y1="81.20" x2="498.80" y2="81.20" stroke="#777" stroke-width="0.7"/>
<line x1="496.80" y1="64.20" x2="498.80" y2="64.20" stroke="#777" stroke-width="0.7"/>
<line x1="496.80" y1="47.20" x2="498.80" y2="47.20" stroke="#777" stroke-width="0.7"/>
<line x1="496.80" y1="30.20" x2="498.80" y2="30.20" stroke="#777" stroke-width="0.7"/>
<line x1="496.80" y1="13.20" x2="498.80" y2="13.20" stroke="#777" stroke-width="0.7"/>
<line x1="498.80" y1="115.20" x2="610.10" y2="115.20" stroke="#444" stroke-width="0.9"/>
<line x1="498.80" y1="115.20" x2="498.80" y2="117.20" stroke="#444" stroke-width="0.7"/>
<text x="498.80" y="124.00" font-size="7.0" text-anchor="middle" fill="#000" stroke="#000" stroke-width="0.07">0</text>
<line x1="535.86" y1="115.20" x2="535.86" y2="117.20" stroke="#444" stroke-width="0.7"/>
<text x="535.86" y="124.00" font-size="7.0" text-anchor="middle" fill="#000" stroke="#000" stroke-width="0.07">20</text>
<line x1="572.92" y1="115.20" x2="572.92" y2="117.20" stroke="#444" stroke-width="0.7"/>
<text x="572.92" y="124.00" font-size="7.0" text-anchor="middle" fill="#000" stroke="#000" stroke-width="0.07">40</text>
<line x1="609.98" y1="115.20" x2="609.98" y2="117.20" stroke="#444" stroke-width="0.7"/>
<text x="609.98" y="124.00" font-size="7.0" text-anchor="middle" fill="#000" stroke="#000" stroke-width="0.07">60</text>
<text x="555.80" y="133.20" font-size="7.3" text-anchor="middle" fill="#000" stroke="#000" stroke-width="0.07">Injected current (pA)</text>
<text x="555.00" y="11.10" font-size="7.3" text-anchor="middle" fill="#000" stroke="#000" stroke-width="0.07" font-style="italic">90-120 days</text>
<line x1="503.80" y1="20.80" x2="509.80" y2="20.80" stroke="#111" stroke-width="1.1"/>
<line x1="503.80" y1="30.00" x2="509.80" y2="30.00" stroke="#e21f26" stroke-width="1.1"/>
<text x="511.40" y="23.10" font-size="6.6" text-anchor="start" fill="#000" stroke="#000" stroke-width="0.07">Neurotypical (n= 253 neurons)</text>
<text x="511.40" y="32.30" font-size="6.6" text-anchor="start" fill="#000" stroke="#000" stroke-width="0.07">MPSIIIA (n= 266 neurons)</text>
<polyline points="601.00,19.50 603.50,19.50 603.50,30.50 601.00,30.50" stroke="#000" stroke-width="0.6" fill="none" stroke-linejoin="round"/>
<text x="605.50" y="27.00" font-size="6.5" text-anchor="start" fill="#000" stroke="#000" stroke-width="0.07">ns</text>
<line x1="619.60" y1="90.80" x2="626.30" y2="90.80" stroke="#c8c8c8" stroke-width="1.1"/>
<line x1="619.60" y1="106.00" x2="626.30" y2="106.00" stroke="#f28a8a" stroke-width="1.1"/>
<text x="628.80" y="92.60" font-size="6.5" text-anchor="start" fill="#000" stroke="#000" stroke-width="0.07">Mean of individual</text>
<text x="628.80" y="99.90" font-size="6.5" text-anchor="start" fill="#000" stroke="#000" stroke-width="0.07">neurotypical donors</text>
<text x="628.80" y="107.80" font-size="6.5" text-anchor="start" fill="#000" stroke="#000" stroke-width="0.07">Mean of individual</text>
<text x="628.80" y="115.20" font-size="6.5" text-anchor="start" fill="#000" stroke="#000" stroke-width="0.07">MPSIIIA donors</text>
<text x="344.20" y="64.00" font-size="7.2" text-anchor="middle" fill="#000" stroke="#000" stroke-width="0.07" transform="rotate(-90 344.20 64.00)">Firing rate (Hz)</text>
<text x="15.50" y="147.60" font-size="10.5" text-anchor="start" fill="#000" stroke="#000" stroke-width="0.45" font-weight="bold">D</text>
<line x1="45.30" y1="153.20" x2="45.30" y2="246.20" stroke="#555" stroke-width="0.8"/>
<line x1="45.30" y1="246.20" x2="140.30" y2="246.20" stroke="#555" stroke-width="0.8"/>
<line x1="43.30" y1="163.20" x2="45.30" y2="163.20" stroke="#555" stroke-width="0.6"/>
<text x="42.30" y="165.00" font-size="5.2" text-anchor="end" fill="#000" stroke="#000" stroke-width="0.07">100</text>
<line x1="43.30" y1="177.00" x2="45.30" y2="177.00" stroke="#555" stroke-width="0.6"/>
<text x="42.30" y="178.80" font-size="5.2" text-anchor="end" fill="#000" stroke="#000" stroke-width="0.07">75</text>
<line x1="43.30" y1="190.80" x2="45.30" y2="190.80" stroke="#555" stroke-width="0.6"/>
<text x="42.30" y="192.60" font-size="5.2" text-anchor="end" fill="#000" stroke="#000" stroke-width="0.07">50</text>
<line x1="43.30" y1="204.60" x2="45.30" y2="204.60" stroke="#555" stroke-width="0.6"/>
<text x="42.30" y="206.40" font-size="5.2" text-anchor="end" fill="#000" stroke="#000" stroke-width="0.07">25</text>
<line x1="43.30" y1="218.40" x2="45.30" y2="218.40" stroke="#555" stroke-width="0.6"/>
<text x="42.30" y="220.20" font-size="5.2" text-anchor="end" fill="#000" stroke="#000" stroke-width="0.07">0</text>
<line x1="43.30" y1="232.20" x2="45.30" y2="232.20" stroke="#555" stroke-width="0.6"/>
<text x="42.30" y="234.00" font-size="5.2" text-anchor="end" fill="#000" stroke="#000" stroke-width="0.07">-25</text>
<line x1="43.30" y1="246.00" x2="45.30" y2="246.00" stroke="#555" stroke-width="0.6"/>
<text x="42.30" y="247.80" font-size="5.2" text-anchor="end" fill="#000" stroke="#000" stroke-width="0.07">-50</text>
<line x1="56.60" y1="246.20" x2="56.60" y2="248.20" stroke="#555" stroke-width="0.6"/>
<text x="56.60" y="256.60" font-size="7.3" text-anchor="middle" fill="#000" stroke="#000" stroke-width="0.07">-50</text>
<line x1="93.10" y1="246.20" x2="93.10" y2="248.20" stroke="#555" stroke-width="0.6"/>
<text x="93.10" y="256.60" font-size="7.3" text-anchor="middle" fill="#000" stroke="#000" stroke-width="0.07">0</text>
<line x1="129.60" y1="246.20" x2="129.60" y2="248.20" stroke="#555" stroke-width="0.6"/>
<text x="129.60" y="256.60" font-size="7.3" text-anchor="middle" fill="#000" stroke="#000" stroke-width="0.07">50</text>
<polyline points="60.61,218.12 61.27,218.03 62.16,217.95 63.22,217.83 64.39,217.62 65.61,217.28 66.82,216.74 68.05,215.98 69.36,215.03 70.72,213.93 72.11,212.76 73.49,211.56 74.85,210.40 76.20,209.25 77.57,208.07 78.93,206.86 80.28,205.64 81.61,204.43 82.88,203.22 84.11,201.98 85.31,200.70 86.48,199.41 87.62,198.18 88.74,197.04 89.81,196.04 90.86,195.20 91.86,194.47 92.83,193.84 93.78,193.28 94.72,192.79 95.66,192.35 96.59,191.94 97.51,191.60 98.42,191.32 99.32,191.11 100.22,190.97 101.13,190.91 102.04,190.92 102.95,190.99 103.87,191.14 104.78,191.37 105.69,191.69 106.60,192.12 107.53,192.68 108.47,193.34 109.41,194.10 110.34,194.93 111.23,195.83 112.08,196.76 112.89,197.75 113.68,198.80 114.44,199.92 115.16,201.08 115.84,202.28 116.46,203.50 117.04,204.77 117.58,206.11 118.08,207.48 118.53,208.86 118.92,210.21 119.23,211.50 119.48,212.73 119.66,213.92 119.77,215.08 119.83,216.23 119.85,217.37 119.82,218.51 119.75,219.69 119.64,220.90 119.48,222.10 119.26,223.26 118.99,224.34 118.65,225.30 118.25,226.14 117.79,226.88 117.28,227.54 116.70,228.14 116.06,228.67 115.36,229.16 114.60,229.62 113.76,230.02 112.86,230.37 111.91,230.65 110.92,230.86 109.89,230.99 108.86,231.01 107.84,230.95 106.77,230.81 105.62,230.62 104.34,230.37 102.88,230.10 101.21,229.79 99.33,229.41 97.33,228.98 95.27,228.53 93.20,228.07 91.20,227.62 89.26,227.18 87.31,226.73 85.37,226.28 83.42,225.80 81.47,225.30 79.52,224.75 77.51,224.12 75.41,223.42 73.32,222.69 71.29,221.97 69.42,221.30 67.77,220.72 66.32,220.22 65.02,219.78 63.87,219.39 62.87,219.04 62.02,218.75 61.34,218.51 60.89,218.34 60.65,218.23 60.58,218.18 60.59,218.16 60.63,218.14 60.61,218.12" stroke="#111" stroke-width="1.1" fill="none" stroke-linejoin="round"/>
<polyline points="59.37,218.01 60.02,217.88 60.89,217.73 61.93,217.54 63.08,217.25 64.29,216.82 65.51,216.19 66.75,215.32 68.08,214.24 69.47,213.01 70.89,211.71 72.30,210.41 73.68,209.18 75.05,208.02 76.43,206.86 77.81,205.70 79.17,204.55 80.50,203.39 81.78,202.23 83.03,201.02 84.24,199.76 85.43,198.51 86.58,197.30 87.70,196.18 88.79,195.22 89.84,194.40 90.85,193.70 91.83,193.10 92.79,192.57 93.74,192.11 94.71,191.68 95.67,191.30 96.64,190.96 97.59,190.69 98.55,190.48 99.51,190.35 100.47,190.30 101.44,190.34 102.41,190.44 103.38,190.61 104.36,190.88 105.33,191.23 106.31,191.68 107.31,192.25 108.32,192.92 109.34,193.68 110.34,194.52 111.31,195.42 112.23,196.38 113.10,197.40 113.94,198.50 114.75,199.67 115.52,200.88 116.24,202.13 116.90,203.39 117.51,204.69 118.09,206.05 118.61,207.44 119.08,208.84 119.49,210.20 119.82,211.50 120.07,212.73 120.25,213.92 120.37,215.07 120.42,216.21 120.43,217.35 120.40,218.51 120.34,219.71 120.23,220.96 120.07,222.20 119.86,223.40 119.58,224.52 119.23,225.52 118.81,226.40 118.33,227.18 117.77,227.89 117.16,228.52 116.48,229.09 115.73,229.61 114.91,230.07 114.00,230.48 113.03,230.83 112.01,231.11 110.96,231.31 109.89,231.43 108.84,231.45 107.81,231.38 106.75,231.23 105.61,231.03 104.33,230.77 102.88,230.49 101.21,230.16 99.33,229.76 97.33,229.31 95.27,228.84 93.20,228.36 91.20,227.89 89.26,227.45 87.31,227.01 85.37,226.56 83.42,226.09 81.47,225.58 79.52,225.02 77.51,224.39 75.43,223.67 73.35,222.92 71.33,222.18 69.45,221.49 67.77,220.88 66.27,220.36 64.90,219.89 63.66,219.47 62.56,219.10 61.62,218.78 60.83,218.51 60.26,218.31 59.89,218.19 59.67,218.11 59.55,218.07 59.47,218.05 59.37,218.01" stroke="#ee1c24" stroke-width="1.1" fill="none" stroke-linejoin="round"/>
<text x="92.80" y="153.20" font-size="7.6" text-anchor="middle" fill="#000" stroke="#000" stroke-width="0.07" font-style="italic">30-60 days</text>
<line x1="50.40" y1="161.50" x2="55.20" y2="161.50" stroke="#111" stroke-width="1.0"/>
<line x1="50.40" y1="171.00" x2="55.20" y2="171.00" stroke="#ee1c24" stroke-width="1.3"/>
<text x="57.90" y="163.70" font-size="6.8" text-anchor="start" fill="#000" stroke="#000" stroke-width="0.07">Neurotypical (n = 185 neurons)</text>
<text x="57.90" y="173.40" font-size="6.8" text-anchor="start" fill="#000" stroke="#000" stroke-width="0.07">MPSIIIA (n = 179 neurons)</text>
<text x="92.80" y="263.50" font-size="7.5" text-anchor="middle" fill="#000" stroke="#000" stroke-width="0.07">Membrane potential (mV)</text>
<line x1="159.90" y1="153.20" x2="159.90" y2="246.20" stroke="#555" stroke-width="0.8"/>
<line x1="159.90" y1="246.20" x2="254.90" y2="246.20" stroke="#555" stroke-width="0.8"/>
<line x1="157.90" y1="163.20" x2="159.90" y2="163.20" stroke="#555" stroke-width="0.6"/>
<line x1="157.90" y1="177.00" x2="159.90" y2="177.00" stroke="#555" stroke-width="0.6"/>
<line x1="157.90" y1="190.80" x2="159.90" y2="190.80" stroke="#555" stroke-width="0.6"/>
<line x1="157.90" y1="204.60" x2="159.90" y2="204.60" stroke="#555" stroke-width="0.6"/>
<line x1="157.90" y1="218.40" x2="159.90" y2="218.40" stroke="#555" stroke-width="0.6"/>
<line x1="157.90" y1="232.20" x2="159.90" y2="232.20" stroke="#555" stroke-width="0.6"/>
<line x1="157.90" y1="246.00" x2="159.90" y2="246.00" stroke="#555" stroke-width="0.6"/>
<line x1="171.50" y1="246.20" x2="171.50" y2="248.20" stroke="#555" stroke-width="0.6"/>
<text x="171.50" y="256.60" font-size="7.3" text-anchor="middle" fill="#000" stroke="#000" stroke-width="0.07">-50</text>
<line x1="207.60" y1="246.20" x2="207.60" y2="248.20" stroke="#555" stroke-width="0.6"/>
<text x="207.60" y="256.60" font-size="7.3" text-anchor="middle" fill="#000" stroke="#000" stroke-width="0.07">0</text>
<line x1="243.70" y1="246.20" x2="243.70" y2="248.20" stroke="#555" stroke-width="0.6"/>
<text x="243.70" y="256.60" font-size="7.3" text-anchor="middle" fill="#000" stroke="#000" stroke-width="0.07">50</text>
<polyline points="174.30,218.40 174.83,218.42 175.58,218.49 176.45,218.54 177.38,218.56 178.29,218.49 179.10,218.30 179.80,217.99 180.45,217.60 181.08,217.12 181.71,216.57 182.38,215.92 183.10,215.20 183.89,214.37 184.72,213.43 185.58,212.41 186.46,211.33 187.37,210.22 188.30,209.10 189.26,207.94 190.25,206.73 191.26,205.48 192.28,204.22 193.30,202.99 194.30,201.80 195.28,200.66 196.25,199.53 197.22,198.43 198.19,197.35 199.18,196.30 200.20,195.30 201.23,194.31 202.27,193.34 203.32,192.41 204.41,191.52 205.53,190.71 206.70,190.00 207.93,189.36 209.23,188.78 210.56,188.27 211.92,187.86 213.27,187.56 214.60,187.40 215.95,187.38 217.34,187.49 218.73,187.71 220.08,188.03 221.35,188.43 222.50,188.90 223.50,189.44 224.38,190.05 225.17,190.75 225.93,191.54 226.69,192.42 227.50,193.40 228.38,194.50 229.31,195.73 230.24,197.06 231.14,198.44 231.97,199.87 232.70,201.30 233.32,202.78 233.86,204.34 234.33,205.94 234.74,207.53 235.10,209.06 235.40,210.50 235.64,211.82 235.83,213.05 235.95,214.23 236.02,215.39 236.04,216.57 236.00,217.80 235.92,219.11 235.78,220.49 235.59,221.88 235.35,223.24 235.05,224.53 234.70,225.70 234.29,226.76 233.84,227.76 233.34,228.68 232.77,229.52 232.13,230.26 231.40,230.90 230.57,231.41 229.66,231.82 228.68,232.13 227.63,232.35 226.53,232.51 225.40,232.60 224.26,232.62 223.13,232.57 221.95,232.44 220.67,232.25 219.23,232.00 217.60,231.70 215.71,231.33 213.60,230.89 211.33,230.39 208.99,229.85 206.66,229.28 204.40,228.70 202.18,228.09 199.93,227.44 197.68,226.76 195.47,226.06 193.33,225.37 191.30,224.70 189.34,224.02 187.42,223.32 185.57,222.62 183.82,221.96 182.22,221.34 180.80,220.80 179.55,220.34 178.46,219.93 177.51,219.58 176.69,219.28 175.99,219.02 175.40,218.80 174.95,218.63 174.67,218.53 174.51,218.47 174.43,218.44 174.37,218.42 174.30,218.40" stroke="#111" stroke-width="1.1" fill="none" stroke-linejoin="round"/>
<polyline points="173.10,218.40 173.66,218.33 174.44,218.25 175.35,218.14 176.32,218.00 177.27,217.79 178.10,217.50 178.81,217.15 179.46,216.74 180.09,216.27 180.71,215.74 181.37,215.11 182.10,214.40 182.89,213.57 183.71,212.63 184.57,211.61 185.46,210.53 186.37,209.42 187.30,208.30 188.25,207.14 189.24,205.93 190.25,204.67 191.27,203.42 192.29,202.19 193.30,201.00 194.28,199.86 195.25,198.73 196.22,197.62 197.19,196.55 198.19,195.50 199.20,194.50 200.24,193.51 201.27,192.54 202.33,191.60 203.41,190.72 204.53,189.91 205.70,189.20 206.94,188.56 208.23,187.98 209.56,187.47 210.92,187.06 212.27,186.76 213.60,186.60 214.93,186.57 216.28,186.67 217.63,186.87 218.96,187.19 220.26,187.60 221.50,188.10 222.69,188.70 223.85,189.40 224.97,190.20 226.05,191.09 227.09,192.06 228.10,193.10 229.07,194.24 230.03,195.47 230.94,196.79 231.81,198.16 232.60,199.58 233.30,201.00 233.92,202.47 234.47,204.02 234.94,205.60 235.35,207.18 235.70,208.72 236.00,210.20 236.25,211.59 236.43,212.93 236.55,214.23 236.62,215.52 236.64,216.80 236.60,218.10 236.52,219.45 236.38,220.84 236.20,222.22 235.95,223.57 235.66,224.84 235.30,226.00 234.91,227.06 234.47,228.05 233.99,228.97 233.42,229.80 232.77,230.55 232.00,231.20 231.11,231.75 230.09,232.21 228.98,232.58 227.81,232.87 226.61,233.07 225.40,233.20 224.23,233.24 223.09,233.19 221.91,233.06 220.64,232.86 219.23,232.60 217.60,232.30 215.71,231.93 213.60,231.49 211.33,230.99 208.99,230.45 206.66,229.88 204.40,229.30 202.18,228.69 199.93,228.04 197.68,227.36 195.47,226.66 193.33,225.97 191.30,225.30 189.35,224.63 187.46,223.94 185.64,223.26 183.91,222.60 182.29,221.97 180.80,221.40 179.41,220.86 178.11,220.35 176.91,219.88 175.85,219.45 174.94,219.09 174.20,218.80 173.69,218.60 173.39,218.49 173.24,218.44 173.18,218.42 173.16,218.42 173.10,218.40" stroke="#ee1c24" stroke-width="1.1" fill="none" stroke-linejoin="round"/>
<text x="207.60" y="153.20" font-size="7.6" text-anchor="middle" fill="#000" stroke="#000" stroke-width="0.07" font-style="italic">90-120 days</text>
<line x1="165.00" y1="161.50" x2="169.80" y2="161.50" stroke="#111" stroke-width="1.0"/>
<line x1="165.00" y1="172.30" x2="169.80" y2="172.30" stroke="#ee1c24" stroke-width="1.3"/>
<text x="172.50" y="163.70" font-size="6.6" text-anchor="start" fill="#000" stroke="#000" stroke-width="0.07">Neurotypical (n= 253 neurons)</text>
<text x="172.50" y="174.70" font-size="6.6" text-anchor="start" fill="#000" stroke="#000" stroke-width="0.07">MPSIIIA (n= 266 neurons)</text>
<text x="207.40" y="263.50" font-size="7.5" text-anchor="middle" fill="#000" stroke="#000" stroke-width="0.07">Membrane potential (mV)</text>
<text x="29.20" y="199.60" font-size="7.0" text-anchor="middle" fill="#000" stroke="#000" stroke-width="0.07" transform="rotate(-90 29.20 199.60)">Δ Membrane potential (mV/ms)</text>
<text x="255.00" y="146.80" font-size="10.5" text-anchor="start" fill="#000" stroke="#000" stroke-width="0.45" font-weight="bold">E</text>
<line x1="289.00" y1="149.60" x2="289.00" y2="221.20" stroke="#222" stroke-width="0.9"/>
<line x1="286.80" y1="221.20" x2="289.00" y2="221.20" stroke="#222" stroke-width="0.8"/>
<line x1="286.80" y1="206.88" x2="289.00" y2="206.88" stroke="#222" stroke-width="0.8"/>
<line x1="286.80" y1="192.56" x2="289.00" y2="192.56" stroke="#222" stroke-width="0.8"/>
<line x1="286.80" y1="178.24" x2="289.00" y2="178.24" stroke="#222" stroke-width="0.8"/>
<line x1="286.80" y1="163.92" x2="289.00" y2="163.92" stroke="#222" stroke-width="0.8"/>
<line x1="286.80" y1="149.60" x2="289.00" y2="149.60" stroke="#222" stroke-width="0.8"/>
<line x1="287.70" y1="214.04" x2="289.00" y2="214.04" stroke="#222" stroke-width="0.6"/>
<line x1="287.70" y1="199.72" x2="289.00" y2="199.72" stroke="#222" stroke-width="0.6"/>
<line x1="287.70" y1="185.40" x2="289.00" y2="185.40" stroke="#222" stroke-width="0.6"/>
<line x1="287.70" y1="171.08" x2="289.00" y2="171.08" stroke="#222" stroke-width="0.6"/>
<line x1="287.70" y1="156.76" x2="289.00" y2="156.76" stroke="#222" stroke-width="0.6"/>
<text x="285.80" y="223.68" font-size="6.9" text-anchor="end" fill="#000" stroke="#000" stroke-width="0.07">0</text>
<text x="285.80" y="209.36" font-size="6.9" text-anchor="end" fill="#000" stroke="#000" stroke-width="0.07">20</text>
<text x="285.80" y="195.04" font-size="6.9" text-anchor="end" fill="#000" stroke="#000" stroke-width="0.07">40</text>
<text x="285.80" y="180.72" font-size="6.9" text-anchor="end" fill="#000" stroke="#000" stroke-width="0.07">60</text>
<text x="285.80" y="166.40" font-size="6.9" text-anchor="end" fill="#000" stroke="#000" stroke-width="0.07">80</text>
<text x="285.80" y="152.08" font-size="6.9" text-anchor="end" fill="#000" stroke="#000" stroke-width="0.07">100</text>
<line x1="289.00" y1="221.20" x2="352.80" y2="221.20" stroke="#222" stroke-width="0.9"/>
<line x1="300.20" y1="221.20" x2="300.20" y2="223.20" stroke="#222" stroke-width="0.8"/>
<line x1="313.25" y1="221.20" x2="313.25" y2="223.20" stroke="#222" stroke-width="0.8"/>
<line x1="328.80" y1="221.20" x2="328.80" y2="223.20" stroke="#222" stroke-width="0.8"/>
<line x1="341.65" y1="221.20" x2="341.65" y2="223.20" stroke="#222" stroke-width="0.8"/>
<circle cx="301.77" cy="183.60" r="1.05" fill="none" stroke="#8a8a8a" stroke-width="0.5"/>
<circle cx="297.94" cy="180.89" r="1.05" fill="none" stroke="#8a8a8a" stroke-width="0.5"/>
<circle cx="299.23" cy="181.47" r="1.05" fill="none" stroke="#8a8a8a" stroke-width="0.5"/>
<circle cx="298.86" cy="183.22" r="1.05" fill="none" stroke="#8a8a8a" stroke-width="0.5"/>
<circle cx="301.04" cy="181.25" r="1.05" fill="none" stroke="#8a8a8a" stroke-width="0.5"/>
<circle cx="300.22" cy="184.01" r="1.05" fill="none" stroke="#8a8a8a" stroke-width="0.5"/>
<circle cx="302.15" cy="180.00" r="1.05" fill="none" stroke="#8a8a8a" stroke-width="0.5"/>
<circle cx="297.98" cy="182.16" r="1.05" fill="none" stroke="#8a8a8a" stroke-width="0.5"/>
<circle cx="302.74" cy="184.02" r="1.05" fill="none" stroke="#8a8a8a" stroke-width="0.5"/>
<circle cx="302.81" cy="183.39" r="1.05" fill="none" stroke="#8a8a8a" stroke-width="0.5"/>
<circle cx="302.04" cy="180.18" r="1.05" fill="none" stroke="#8a8a8a" stroke-width="0.5"/>
<circle cx="301.19" cy="183.95" r="1.05" fill="none" stroke="#8a8a8a" stroke-width="0.5"/>
<circle cx="296.21" cy="181.22" r="1.05" fill="none" stroke="#8a8a8a" stroke-width="0.5"/>
<circle cx="301.26" cy="180.98" r="1.05" fill="none" stroke="#8a8a8a" stroke-width="0.5"/>
<circle cx="302.64" cy="184.04" r="1.05" fill="none" stroke="#8a8a8a" stroke-width="0.5"/>
<circle cx="303.88" cy="181.25" r="1.05" fill="none" stroke="#8a8a8a" stroke-width="0.5"/>
<circle cx="302.45" cy="179.87" r="1.05" fill="none" stroke="#8a8a8a" stroke-width="0.5"/>
<circle cx="295.46" cy="181.71" r="1.05" fill="none" stroke="#8a8a8a" stroke-width="0.5"/>
<circle cx="299.43" cy="182.81" r="1.05" fill="none" stroke="#8a8a8a" stroke-width="0.5"/>
<circle cx="301.26" cy="183.48" r="1.05" fill="none" stroke="#8a8a8a" stroke-width="0.5"/>
<circle cx="300.17" cy="178.21" r="1.05" fill="none" stroke="#8a8a8a" stroke-width="0.5"/>
<circle cx="298.72" cy="183.75" r="1.05" fill="none" stroke="#8a8a8a" stroke-width="0.5"/>
<circle cx="303.23" cy="180.28" r="1.05" fill="none" stroke="#8a8a8a" stroke-width="0.5"/>
<circle cx="300.64" cy="179.42" r="1.05" fill="none" stroke="#8a8a8a" stroke-width="0.5"/>
<circle cx="303.52" cy="179.73" r="1.05" fill="none" stroke="#8a8a8a" stroke-width="0.5"/>
<circle cx="299.86" cy="183.34" r="1.05" fill="none" stroke="#8a8a8a" stroke-width="0.5"/>
<circle cx="299.28" cy="178.71" r="1.05" fill="none" stroke="#8a8a8a" stroke-width="0.5"/>
<circle cx="315.27" cy="180.10" r="1.05" fill="none" stroke="#8a8a8a" stroke-width="0.5"/>
<circle cx="311.52" cy="182.94" r="1.05" fill="none" stroke="#8a8a8a" stroke-width="0.5"/>
<circle cx="312.73" cy="181.73" r="1.05" fill="none" stroke="#8a8a8a" stroke-width="0.5"/>
<circle cx="315.69" cy="182.43" r="1.05" fill="none" stroke="#8a8a8a" stroke-width="0.5"/>
<circle cx="310.75" cy="179.92" r="1.05" fill="none" stroke="#8a8a8a" stroke-width="0.5"/>
<circle cx="312.83" cy="183.26" r="1.05" fill="none" stroke="#8a8a8a" stroke-width="0.5"/>
<circle cx="309.72" cy="182.93" r="1.05" fill="none" stroke="#8a8a8a" stroke-width="0.5"/>
<circle cx="315.39" cy="181.50" r="1.05" fill="none" stroke="#8a8a8a" stroke-width="0.5"/>
<circle cx="316.36" cy="180.53" r="1.05" fill="none" stroke="#8a8a8a" stroke-width="0.5"/>
<circle cx="310.73" cy="183.56" r="1.05" fill="none" stroke="#8a8a8a" stroke-width="0.5"/>
<circle cx="313.43" cy="179.61" r="1.05" fill="none" stroke="#8a8a8a" stroke-width="0.5"/>
<circle cx="312.67" cy="183.73" r="1.05" fill="none" stroke="#8a8a8a" stroke-width="0.5"/>
<circle cx="312.72" cy="180.47" r="1.05" fill="none" stroke="#8a8a8a" stroke-width="0.5"/>
<circle cx="312.00" cy="179.63" r="1.05" fill="none" stroke="#8a8a8a" stroke-width="0.5"/>
<circle cx="313.21" cy="181.47" r="1.05" fill="none" stroke="#8a8a8a" stroke-width="0.5"/>
<circle cx="311.36" cy="180.55" r="1.05" fill="none" stroke="#8a8a8a" stroke-width="0.5"/>
<circle cx="312.97" cy="180.48" r="1.05" fill="none" stroke="#8a8a8a" stroke-width="0.5"/>
<circle cx="309.55" cy="180.80" r="1.05" fill="none" stroke="#8a8a8a" stroke-width="0.5"/>
<circle cx="313.60" cy="183.27" r="1.05" fill="none" stroke="#8a8a8a" stroke-width="0.5"/>
<circle cx="310.55" cy="182.39" r="1.05" fill="none" stroke="#8a8a8a" stroke-width="0.5"/>
<circle cx="314.77" cy="183.97" r="1.05" fill="none" stroke="#8a8a8a" stroke-width="0.5"/>
<circle cx="330.90" cy="182.30" r="1.05" fill="none" stroke="#8a8a8a" stroke-width="0.5"/>
<circle cx="326.79" cy="178.25" r="1.05" fill="none" stroke="#8a8a8a" stroke-width="0.5"/>
<circle cx="330.26" cy="181.76" r="1.05" fill="none" stroke="#8a8a8a" stroke-width="0.5"/>
<circle cx="327.22" cy="181.01" r="1.05" fill="none" stroke="#8a8a8a" stroke-width="0.5"/>
<circle cx="329.76" cy="180.73" r="1.05" fill="none" stroke="#8a8a8a" stroke-width="0.5"/>
<circle cx="325.61" cy="180.62" r="1.05" fill="none" stroke="#8a8a8a" stroke-width="0.5"/>
<circle cx="327.79" cy="179.94" r="1.05" fill="none" stroke="#8a8a8a" stroke-width="0.5"/>
<circle cx="332.55" cy="181.25" r="1.05" fill="none" stroke="#8a8a8a" stroke-width="0.5"/>
<circle cx="329.01" cy="182.27" r="1.05" fill="none" stroke="#8a8a8a" stroke-width="0.5"/>
<circle cx="326.56" cy="180.00" r="1.05" fill="none" stroke="#8a8a8a" stroke-width="0.5"/>
<circle cx="326.63" cy="178.16" r="1.05" fill="none" stroke="#8a8a8a" stroke-width="0.5"/>
<circle cx="327.00" cy="180.09" r="1.05" fill="none" stroke="#8a8a8a" stroke-width="0.5"/>
<circle cx="332.27" cy="179.71" r="1.05" fill="none" stroke="#8a8a8a" stroke-width="0.5"/>
<circle cx="329.41" cy="180.37" r="1.05" fill="none" stroke="#8a8a8a" stroke-width="0.5"/>
<circle cx="325.43" cy="179.06" r="1.05" fill="none" stroke="#8a8a8a" stroke-width="0.5"/>
<circle cx="325.83" cy="179.46" r="1.05" fill="none" stroke="#8a8a8a" stroke-width="0.5"/>
<circle cx="333.90" cy="180.30" r="1.05" fill="none" stroke="#8a8a8a" stroke-width="0.5"/>
<circle cx="326.20" cy="181.04" r="1.05" fill="none" stroke="#8a8a8a" stroke-width="0.5"/>
<circle cx="341.96" cy="178.31" r="1.05" fill="none" stroke="#8a8a8a" stroke-width="0.5"/>
<circle cx="342.56" cy="179.03" r="1.05" fill="none" stroke="#8a8a8a" stroke-width="0.5"/>
<circle cx="337.83" cy="180.44" r="1.05" fill="none" stroke="#8a8a8a" stroke-width="0.5"/>
<circle cx="343.10" cy="177.07" r="1.05" fill="none" stroke="#8a8a8a" stroke-width="0.5"/>
<circle cx="339.69" cy="178.43" r="1.05" fill="none" stroke="#8a8a8a" stroke-width="0.5"/>
<circle cx="341.53" cy="182.48" r="1.05" fill="none" stroke="#8a8a8a" stroke-width="0.5"/>
<circle cx="341.50" cy="181.60" r="1.05" fill="none" stroke="#8a8a8a" stroke-width="0.5"/>
<circle cx="338.64" cy="180.51" r="1.05" fill="none" stroke="#8a8a8a" stroke-width="0.5"/>
<circle cx="344.84" cy="180.49" r="1.05" fill="none" stroke="#8a8a8a" stroke-width="0.5"/>
<circle cx="344.08" cy="179.88" r="1.05" fill="none" stroke="#8a8a8a" stroke-width="0.5"/>
<circle cx="338.07" cy="180.69" r="1.05" fill="none" stroke="#8a8a8a" stroke-width="0.5"/>
<circle cx="342.30" cy="181.17" r="1.05" fill="none" stroke="#8a8a8a" stroke-width="0.5"/>
<circle cx="337.95" cy="178.66" r="1.05" fill="none" stroke="#8a8a8a" stroke-width="0.5"/>
<circle cx="341.49" cy="181.76" r="1.05" fill="none" stroke="#8a8a8a" stroke-width="0.5"/>
<circle cx="344.54" cy="180.95" r="1.05" fill="none" stroke="#8a8a8a" stroke-width="0.5"/>
<circle cx="344.89" cy="180.93" r="1.05" fill="none" stroke="#8a8a8a" stroke-width="0.5"/>
<circle cx="344.37" cy="179.17" r="1.05" fill="none" stroke="#8a8a8a" stroke-width="0.5"/>
<circle cx="345.86" cy="179.45" r="1.05" fill="none" stroke="#8a8a8a" stroke-width="0.5"/>
<circle cx="339.38" cy="181.83" r="1.05" fill="none" stroke="#8a8a8a" stroke-width="0.5"/>
<circle cx="340.00" cy="177.75" r="1.05" fill="none" stroke="#8a8a8a" stroke-width="0.5"/>
<circle cx="341.36" cy="182.31" r="1.05" fill="none" stroke="#8a8a8a" stroke-width="0.5"/>
<circle cx="299.53" cy="216.37" r="1.05" fill="none" stroke="#8a8a8a" stroke-width="0.5"/>
<circle cx="297.44" cy="216.44" r="1.05" fill="none" stroke="#8a8a8a" stroke-width="0.5"/>
<circle cx="302.29" cy="218.98" r="1.05" fill="none" stroke="#8a8a8a" stroke-width="0.5"/>
<circle cx="297.33" cy="217.26" r="1.05" fill="none" stroke="#8a8a8a" stroke-width="0.5"/>
<circle cx="298.46" cy="215.82" r="1.05" fill="none" stroke="#8a8a8a" stroke-width="0.5"/>
<circle cx="303.48" cy="212.90" r="1.05" fill="none" stroke="#8a8a8a" stroke-width="0.5"/>
<circle cx="298.29" cy="220.96" r="1.05" fill="none" stroke="#8a8a8a" stroke-width="0.5"/>
<circle cx="300.81" cy="219.49" r="1.05" fill="none" stroke="#8a8a8a" stroke-width="0.5"/>
<circle cx="298.28" cy="214.32" r="1.05" fill="none" stroke="#8a8a8a" stroke-width="0.5"/>
<circle cx="299.85" cy="217.49" r="1.05" fill="none" stroke="#8a8a8a" stroke-width="0.5"/>
<circle cx="301.50" cy="217.61" r="1.05" fill="none" stroke="#8a8a8a" stroke-width="0.5"/>
<circle cx="301.75" cy="211.64" r="1.05" fill="none" stroke="#8a8a8a" stroke-width="0.5"/>
<circle cx="302.25" cy="220.81" r="1.05" fill="none" stroke="#8a8a8a" stroke-width="0.5"/>
<circle cx="296.12" cy="216.82" r="1.05" fill="none" stroke="#8a8a8a" stroke-width="0.5"/>
<circle cx="298.67" cy="210.24" r="1.05" fill="none" stroke="#8a8a8a" stroke-width="0.5"/>
<circle cx="299.24" cy="220.36" r="1.05" fill="none" stroke="#8a8a8a" stroke-width="0.5"/>
<circle cx="303.66" cy="214.15" r="1.05" fill="none" stroke="#8a8a8a" stroke-width="0.5"/>
<circle cx="300.59" cy="213.60" r="1.05" fill="none" stroke="#8a8a8a" stroke-width="0.5"/>
<circle cx="296.04" cy="214.91" r="1.05" fill="none" stroke="#8a8a8a" stroke-width="0.5"/>
<circle cx="303.40" cy="216.51" r="1.05" fill="none" stroke="#8a8a8a" stroke-width="0.5"/>
<circle cx="298.52" cy="211.89" r="1.05" fill="none" stroke="#8a8a8a" stroke-width="0.5"/>
<circle cx="313.83" cy="213.75" r="1.05" fill="none" stroke="#8a8a8a" stroke-width="0.5"/>
<circle cx="313.08" cy="218.70" r="1.05" fill="none" stroke="#8a8a8a" stroke-width="0.5"/>
<circle cx="314.15" cy="214.33" r="1.05" fill="none" stroke="#8a8a8a" stroke-width="0.5"/>
<circle cx="313.33" cy="210.94" r="1.05" fill="none" stroke="#8a8a8a" stroke-width="0.5"/>
<circle cx="315.81" cy="215.61" r="1.05" fill="none" stroke="#8a8a8a" stroke-width="0.5"/>
<circle cx="312.21" cy="209.99" r="1.05" fill="none" stroke="#8a8a8a" stroke-width="0.5"/>
<circle cx="314.88" cy="209.95" r="1.05" fill="none" stroke="#8a8a8a" stroke-width="0.5"/>
<circle cx="309.61" cy="216.28" r="1.05" fill="none" stroke="#8a8a8a" stroke-width="0.5"/>
<circle cx="315.28" cy="219.31" r="1.05" fill="none" stroke="#8a8a8a" stroke-width="0.5"/>
<circle cx="314.23" cy="215.87" r="1.05" fill="none" stroke="#8a8a8a" stroke-width="0.5"/>
<circle cx="310.29" cy="210.65" r="1.05" fill="none" stroke="#8a8a8a" stroke-width="0.5"/>
<circle cx="308.85" cy="214.55" r="1.05" fill="none" stroke="#8a8a8a" stroke-width="0.5"/>
<circle cx="311.57" cy="211.00" r="1.05" fill="none" stroke="#8a8a8a" stroke-width="0.5"/>
<circle cx="313.09" cy="209.32" r="1.05" fill="none" stroke="#8a8a8a" stroke-width="0.5"/>
<circle cx="316.54" cy="213.63" r="1.05" fill="none" stroke="#8a8a8a" stroke-width="0.5"/>
<circle cx="314.67" cy="214.45" r="1.05" fill="none" stroke="#8a8a8a" stroke-width="0.5"/>
<circle cx="314.93" cy="214.25" r="1.05" fill="none" stroke="#8a8a8a" stroke-width="0.5"/>
<circle cx="311.07" cy="213.80" r="1.05" fill="none" stroke="#8a8a8a" stroke-width="0.5"/>
<circle cx="330.38" cy="213.83" r="1.05" fill="none" stroke="#8a8a8a" stroke-width="0.5"/>
<circle cx="325.84" cy="216.26" r="1.05" fill="none" stroke="#8a8a8a" stroke-width="0.5"/>
<circle cx="328.26" cy="207.94" r="1.05" fill="none" stroke="#8a8a8a" stroke-width="0.5"/>
<circle cx="331.14" cy="211.28" r="1.05" fill="none" stroke="#8a8a8a" stroke-width="0.5"/>
<circle cx="329.61" cy="216.57" r="1.05" fill="none" stroke="#8a8a8a" stroke-width="0.5"/>
<circle cx="330.35" cy="214.89" r="1.05" fill="none" stroke="#8a8a8a" stroke-width="0.5"/>
<circle cx="328.44" cy="209.65" r="1.05" fill="none" stroke="#8a8a8a" stroke-width="0.5"/>
<circle cx="331.30" cy="209.86" r="1.05" fill="none" stroke="#8a8a8a" stroke-width="0.5"/>
<circle cx="330.35" cy="208.55" r="1.05" fill="none" stroke="#8a8a8a" stroke-width="0.5"/>
<circle cx="329.75" cy="208.75" r="1.05" fill="none" stroke="#8a8a8a" stroke-width="0.5"/>
<circle cx="328.01" cy="212.08" r="1.05" fill="none" stroke="#8a8a8a" stroke-width="0.5"/>
<circle cx="325.86" cy="218.50" r="1.05" fill="none" stroke="#8a8a8a" stroke-width="0.5"/>
<circle cx="330.83" cy="208.57" r="1.05" fill="none" stroke="#8a8a8a" stroke-width="0.5"/>
<circle cx="324.61" cy="214.26" r="1.05" fill="none" stroke="#8a8a8a" stroke-width="0.5"/>
<circle cx="330.72" cy="220.34" r="1.05" fill="none" stroke="#8a8a8a" stroke-width="0.5"/>
<circle cx="328.37" cy="209.23" r="1.05" fill="none" stroke="#8a8a8a" stroke-width="0.5"/>
<circle cx="327.71" cy="209.52" r="1.05" fill="none" stroke="#8a8a8a" stroke-width="0.5"/>
<circle cx="325.83" cy="215.69" r="1.05" fill="none" stroke="#8a8a8a" stroke-width="0.5"/>
<circle cx="325.25" cy="216.65" r="1.05" fill="none" stroke="#8a8a8a" stroke-width="0.5"/>
<circle cx="330.78" cy="209.97" r="1.05" fill="none" stroke="#8a8a8a" stroke-width="0.5"/>
<circle cx="328.06" cy="212.89" r="1.05" fill="none" stroke="#8a8a8a" stroke-width="0.5"/>
<circle cx="328.59" cy="215.37" r="1.05" fill="none" stroke="#8a8a8a" stroke-width="0.5"/>
<circle cx="324.61" cy="212.68" r="1.05" fill="none" stroke="#8a8a8a" stroke-width="0.5"/>
<circle cx="332.32" cy="217.02" r="1.05" fill="none" stroke="#8a8a8a" stroke-width="0.5"/>
<circle cx="343.01" cy="211.22" r="1.05" fill="none" stroke="#8a8a8a" stroke-width="0.5"/>
<circle cx="344.47" cy="216.83" r="1.05" fill="none" stroke="#8a8a8a" stroke-width="0.5"/>
<circle cx="339.91" cy="210.25" r="1.05" fill="none" stroke="#8a8a8a" stroke-width="0.5"/>
<circle cx="340.01" cy="209.74" r="1.05" fill="none" stroke="#8a8a8a" stroke-width="0.5"/>
<circle cx="338.90" cy="217.49" r="1.05" fill="none" stroke="#8a8a8a" stroke-width="0.5"/>
<circle cx="338.80" cy="214.81" r="1.05" fill="none" stroke="#8a8a8a" stroke-width="0.5"/>
<circle cx="341.12" cy="211.69" r="1.05" fill="none" stroke="#8a8a8a" stroke-width="0.5"/>
<circle cx="342.32" cy="218.86" r="1.05" fill="none" stroke="#8a8a8a" stroke-width="0.5"/>
<circle cx="340.68" cy="207.99" r="1.05" fill="none" stroke="#8a8a8a" stroke-width="0.5"/>
<circle cx="343.86" cy="209.74" r="1.05" fill="none" stroke="#8a8a8a" stroke-width="0.5"/>
<circle cx="343.64" cy="218.49" r="1.05" fill="none" stroke="#8a8a8a" stroke-width="0.5"/>
<circle cx="343.19" cy="218.71" r="1.05" fill="none" stroke="#8a8a8a" stroke-width="0.5"/>
<circle cx="343.05" cy="220.33" r="1.05" fill="none" stroke="#8a8a8a" stroke-width="0.5"/>
<circle cx="344.21" cy="211.19" r="1.05" fill="none" stroke="#8a8a8a" stroke-width="0.5"/>
<circle cx="344.25" cy="214.23" r="1.05" fill="none" stroke="#8a8a8a" stroke-width="0.5"/>
<circle cx="340.98" cy="215.25" r="1.05" fill="none" stroke="#8a8a8a" stroke-width="0.5"/>
<circle cx="341.04" cy="212.61" r="1.05" fill="none" stroke="#8a8a8a" stroke-width="0.5"/>
<circle cx="338.57" cy="211.94" r="1.05" fill="none" stroke="#8a8a8a" stroke-width="0.5"/>
<circle cx="343.55" cy="218.62" r="1.05" fill="none" stroke="#8a8a8a" stroke-width="0.5"/>
<circle cx="342.47" cy="220.81" r="1.05" fill="none" stroke="#8a8a8a" stroke-width="0.5"/>
<circle cx="344.05" cy="215.12" r="1.05" fill="none" stroke="#8a8a8a" stroke-width="0.5"/>
<circle cx="342.68" cy="209.58" r="1.05" fill="none" stroke="#8a8a8a" stroke-width="0.5"/>
<circle cx="338.53" cy="213.65" r="1.05" fill="none" stroke="#8a8a8a" stroke-width="0.5"/>
<circle cx="341.80" cy="210.47" r="1.05" fill="none" stroke="#8a8a8a" stroke-width="0.5"/>
<circle cx="298.50" cy="160.40" r="1.05" fill="none" stroke="#8a8a8a" stroke-width="0.5"/>
<circle cx="299.00" cy="171.50" r="1.05" fill="none" stroke="#8a8a8a" stroke-width="0.5"/>
<circle cx="300.50" cy="174.50" r="1.05" fill="none" stroke="#8a8a8a" stroke-width="0.5"/>
<circle cx="300.00" cy="176.00" r="1.05" fill="none" stroke="#8a8a8a" stroke-width="0.5"/>
<line x1="300.20" y1="183.10" x2="300.20" y2="188.90" stroke="#222" stroke-width="0.9"/>
<line x1="300.20" y1="204.30" x2="300.20" y2="210.50" stroke="#222" stroke-width="0.9"/>
<rect x="294.80" y="188.90" width="10.80" height="15.40" fill="#808080" stroke="#1a1a1a" stroke-width="1.0"/>
<line x1="294.80" y1="195.00" x2="305.60" y2="195.00" stroke="#111" stroke-width="1.0"/>
<path d="M298.60,196.40 L300.10,194.90 L301.60,196.40 L300.10,197.90Z" fill="#2a7fc0"/>
<line x1="313.25" y1="183.50" x2="313.25" y2="188.90" stroke="#222" stroke-width="0.9"/>
<line x1="313.25" y1="202.20" x2="313.25" y2="207.50" stroke="#222" stroke-width="0.9"/>
<rect x="307.70" y="188.90" width="11.10" height="13.30" fill="#ff2a00" stroke="#1a1a1a" stroke-width="1.0"/>
<line x1="307.70" y1="193.40" x2="318.80" y2="193.40" stroke="#3a0800" stroke-width="1.0"/>
<path d="M311.50,195.50 L313.00,194.00 L314.50,195.50 L313.00,197.00Z" fill="#2a7fc0"/>
<line x1="328.80" y1="182.00" x2="328.80" y2="187.20" stroke="#222" stroke-width="0.9"/>
<line x1="328.80" y1="199.70" x2="328.80" y2="207.50" stroke="#222" stroke-width="0.9"/>
<rect x="323.30" y="187.20" width="11.00" height="12.50" fill="#808080" stroke="#1a1a1a" stroke-width="1.0"/>
<line x1="323.30" y1="192.50" x2="334.30" y2="192.50" stroke="#111" stroke-width="1.0"/>
<path d="M327.30,193.80 L328.80,192.30 L330.30,193.80 L328.80,195.30Z" fill="#2a7fc0"/>
<line x1="341.65" y1="183.00" x2="341.65" y2="188.40" stroke="#222" stroke-width="0.9"/>
<line x1="341.65" y1="198.50" x2="341.65" y2="207.50" stroke="#222" stroke-width="0.9"/>
<rect x="336.30" y="188.40" width="10.70" height="10.10" fill="#ff2a00" stroke="#1a1a1a" stroke-width="1.0"/>
<line x1="336.30" y1="192.20" x2="347.00" y2="192.20" stroke="#3a0800" stroke-width="1.0"/>
<path d="M340.10,194.30 L341.60,192.80 L343.10,194.30 L341.60,195.80Z" fill="#2a7fc0"/>
<polyline points="301.10,156.20 301.10,152.40 313.40,152.40 313.40,156.20" stroke="#333" stroke-width="0.6" fill="none" stroke-linejoin="round"/>
<text x="307.25" y="150.00" font-size="6.5" text-anchor="middle" fill="#000" stroke="#000" stroke-width="0.07">ns</text>
<polyline points="329.10,156.20 329.10,152.40 341.70,152.40 341.70,156.20" stroke="#333" stroke-width="0.6" fill="none" stroke-linejoin="round"/>
<text x="335.40" y="150.00" font-size="6.5" text-anchor="middle" fill="#000" stroke="#000" stroke-width="0.07">ns</text>
<text x="271.10" y="184.00" font-size="7.0" text-anchor="middle" fill="#000" stroke="#000" stroke-width="0.07" transform="rotate(-90 271.10 184.00)">Maximum AP Amplitude (mV)</text>
<text x="302.00" y="230.80" font-size="7.25" text-anchor="end" fill="#000" stroke="#000" stroke-width="0.07" transform="rotate(-45 302.00 230.80)">Neurotypical</text>
<text x="315.05" y="230.80" font-size="7.25" text-anchor="end" fill="#000" stroke="#000" stroke-width="0.07" transform="rotate(-45 315.05 230.80)">MPSIIIA</text>
<text x="330.60" y="230.80" font-size="7.25" text-anchor="end" fill="#000" stroke="#000" stroke-width="0.07" transform="rotate(-45 330.60 230.80)">Neurotypical</text>
<text x="343.45" y="230.80" font-size="7.25" text-anchor="end" fill="#000" stroke="#000" stroke-width="0.07" transform="rotate(-45 343.45 230.80)">MPSIIIA</text>
<text x="302.00" y="264.20" font-size="5.8" text-anchor="middle" fill="#999999" stroke="#999999" stroke-width="0.07" font-style="italic">30-60 days</text>
<text x="335.30" y="264.20" font-size="5.8" text-anchor="middle" fill="#999999" stroke="#999999" stroke-width="0.07" font-style="italic">90-120 days</text>
<line x1="378.50" y1="147.90" x2="378.50" y2="221.60" stroke="#222" stroke-width="0.9"/>
<line x1="376.30" y1="221.60" x2="378.50" y2="221.60" stroke="#222" stroke-width="0.8"/>
<line x1="376.30" y1="203.18" x2="378.50" y2="203.18" stroke="#222" stroke-width="0.8"/>
<line x1="376.30" y1="184.76" x2="378.50" y2="184.76" stroke="#222" stroke-width="0.8"/>
<line x1="376.30" y1="166.34" x2="378.50" y2="166.34" stroke="#222" stroke-width="0.8"/>
<line x1="376.30" y1="147.92" x2="378.50" y2="147.92" stroke="#222" stroke-width="0.8"/>
<line x1="377.20" y1="212.39" x2="378.50" y2="212.39" stroke="#222" stroke-width="0.6"/>
<line x1="377.20" y1="193.97" x2="378.50" y2="193.97" stroke="#222" stroke-width="0.6"/>
<line x1="377.20" y1="175.55" x2="378.50" y2="175.55" stroke="#222" stroke-width="0.6"/>
<line x1="377.20" y1="157.13" x2="378.50" y2="157.13" stroke="#222" stroke-width="0.6"/>
<text x="375.30" y="224.26" font-size="7.4" text-anchor="end" fill="#000" stroke="#000" stroke-width="0.07">0</text>
<text x="375.30" y="205.84" font-size="7.4" text-anchor="end" fill="#000" stroke="#000" stroke-width="0.07">3</text>
<text x="375.30" y="187.42" font-size="7.4" text-anchor="end" fill="#000" stroke="#000" stroke-width="0.07">6</text>
<text x="375.30" y="169.00" font-size="7.4" text-anchor="end" fill="#000" stroke="#000" stroke-width="0.07">9</text>
<text x="375.30" y="150.58" font-size="7.4" text-anchor="end" fill="#000" stroke="#000" stroke-width="0.07">12</text>
<line x1="378.50" y1="221.60" x2="444.50" y2="221.60" stroke="#222" stroke-width="0.9"/>
<line x1="390.35" y1="221.60" x2="390.35" y2="223.60" stroke="#222" stroke-width="0.8"/>
<line x1="403.25" y1="221.60" x2="403.25" y2="223.60" stroke="#222" stroke-width="0.8"/>
<line x1="419.90" y1="221.60" x2="419.90" y2="223.60" stroke="#222" stroke-width="0.8"/>
<line x1="432.65" y1="221.60" x2="432.65" y2="223.60" stroke="#222" stroke-width="0.8"/>
<circle cx="391.12" cy="194.06" r="1.05" fill="none" stroke="#8a8a8a" stroke-width="0.5"/>
<circle cx="392.57" cy="192.67" r="1.05" fill="none" stroke="#8a8a8a" stroke-width="0.5"/>
<circle cx="391.13" cy="187.60" r="1.05" fill="none" stroke="#8a8a8a" stroke-width="0.5"/>
<circle cx="391.89" cy="194.05" r="1.05" fill="none" stroke="#8a8a8a" stroke-width="0.5"/>
<circle cx="387.92" cy="190.73" r="1.05" fill="none" stroke="#8a8a8a" stroke-width="0.5"/>
<circle cx="393.90" cy="189.12" r="1.05" fill="none" stroke="#8a8a8a" stroke-width="0.5"/>
<circle cx="389.59" cy="186.03" r="1.05" fill="none" stroke="#8a8a8a" stroke-width="0.5"/>
<circle cx="390.16" cy="194.50" r="1.05" fill="none" stroke="#8a8a8a" stroke-width="0.5"/>
<circle cx="389.39" cy="187.09" r="1.05" fill="none" stroke="#8a8a8a" stroke-width="0.5"/>
<circle cx="389.68" cy="194.09" r="1.05" fill="none" stroke="#8a8a8a" stroke-width="0.5"/>
<circle cx="391.29" cy="189.27" r="1.05" fill="none" stroke="#8a8a8a" stroke-width="0.5"/>
<circle cx="390.31" cy="193.06" r="1.05" fill="none" stroke="#8a8a8a" stroke-width="0.5"/>
<circle cx="390.64" cy="185.81" r="1.05" fill="none" stroke="#8a8a8a" stroke-width="0.5"/>
<circle cx="388.91" cy="185.35" r="1.05" fill="none" stroke="#8a8a8a" stroke-width="0.5"/>
<circle cx="391.33" cy="186.90" r="1.05" fill="none" stroke="#8a8a8a" stroke-width="0.5"/>
<circle cx="404.16" cy="188.32" r="1.05" fill="none" stroke="#8a8a8a" stroke-width="0.5"/>
<circle cx="403.11" cy="192.08" r="1.05" fill="none" stroke="#8a8a8a" stroke-width="0.5"/>
<circle cx="404.80" cy="188.73" r="1.05" fill="none" stroke="#8a8a8a" stroke-width="0.5"/>
<circle cx="403.31" cy="193.46" r="1.05" fill="none" stroke="#8a8a8a" stroke-width="0.5"/>
<circle cx="401.14" cy="191.04" r="1.05" fill="none" stroke="#8a8a8a" stroke-width="0.5"/>
<circle cx="402.83" cy="187.03" r="1.05" fill="none" stroke="#8a8a8a" stroke-width="0.5"/>
<circle cx="400.14" cy="191.68" r="1.05" fill="none" stroke="#8a8a8a" stroke-width="0.5"/>
<circle cx="401.85" cy="193.35" r="1.05" fill="none" stroke="#8a8a8a" stroke-width="0.5"/>
<circle cx="400.75" cy="188.86" r="1.05" fill="none" stroke="#8a8a8a" stroke-width="0.5"/>
<circle cx="404.02" cy="194.98" r="1.05" fill="none" stroke="#8a8a8a" stroke-width="0.5"/>
<circle cx="403.76" cy="194.00" r="1.05" fill="none" stroke="#8a8a8a" stroke-width="0.5"/>
<circle cx="402.64" cy="187.27" r="1.05" fill="none" stroke="#8a8a8a" stroke-width="0.5"/>
<circle cx="400.17" cy="190.98" r="1.05" fill="none" stroke="#8a8a8a" stroke-width="0.5"/>
<circle cx="418.60" cy="193.58" r="1.05" fill="none" stroke="#8a8a8a" stroke-width="0.5"/>
<circle cx="421.62" cy="184.24" r="1.05" fill="none" stroke="#8a8a8a" stroke-width="0.5"/>
<circle cx="418.00" cy="185.84" r="1.05" fill="none" stroke="#8a8a8a" stroke-width="0.5"/>
<circle cx="418.88" cy="190.51" r="1.05" fill="none" stroke="#8a8a8a" stroke-width="0.5"/>
<circle cx="418.75" cy="192.90" r="1.05" fill="none" stroke="#8a8a8a" stroke-width="0.5"/>
<circle cx="419.25" cy="193.59" r="1.05" fill="none" stroke="#8a8a8a" stroke-width="0.5"/>
<circle cx="422.96" cy="190.01" r="1.05" fill="none" stroke="#8a8a8a" stroke-width="0.5"/>
<circle cx="422.55" cy="190.85" r="1.05" fill="none" stroke="#8a8a8a" stroke-width="0.5"/>
<circle cx="417.17" cy="191.08" r="1.05" fill="none" stroke="#8a8a8a" stroke-width="0.5"/>
<circle cx="420.29" cy="192.81" r="1.05" fill="none" stroke="#8a8a8a" stroke-width="0.5"/>
<circle cx="417.97" cy="187.11" r="1.05" fill="none" stroke="#8a8a8a" stroke-width="0.5"/>
<circle cx="420.29" cy="192.50" r="1.05" fill="none" stroke="#8a8a8a" stroke-width="0.5"/>
<circle cx="420.95" cy="193.38" r="1.05" fill="none" stroke="#8a8a8a" stroke-width="0.5"/>
<circle cx="420.14" cy="193.61" r="1.05" fill="none" stroke="#8a8a8a" stroke-width="0.5"/>
<circle cx="420.59" cy="190.98" r="1.05" fill="none" stroke="#8a8a8a" stroke-width="0.5"/>
<circle cx="422.51" cy="186.58" r="1.05" fill="none" stroke="#8a8a8a" stroke-width="0.5"/>
<circle cx="421.65" cy="187.12" r="1.05" fill="none" stroke="#8a8a8a" stroke-width="0.5"/>
<circle cx="420.45" cy="193.55" r="1.05" fill="none" stroke="#8a8a8a" stroke-width="0.5"/>
<circle cx="434.42" cy="194.32" r="1.05" fill="none" stroke="#8a8a8a" stroke-width="0.5"/>
<circle cx="430.88" cy="194.03" r="1.05" fill="none" stroke="#8a8a8a" stroke-width="0.5"/>
<circle cx="432.10" cy="191.33" r="1.05" fill="none" stroke="#8a8a8a" stroke-width="0.5"/>
<circle cx="429.78" cy="190.77" r="1.05" fill="none" stroke="#8a8a8a" stroke-width="0.5"/>
<circle cx="432.37" cy="187.73" r="1.05" fill="none" stroke="#8a8a8a" stroke-width="0.5"/>
<circle cx="432.41" cy="187.99" r="1.05" fill="none" stroke="#8a8a8a" stroke-width="0.5"/>
<circle cx="431.22" cy="186.22" r="1.05" fill="none" stroke="#8a8a8a" stroke-width="0.5"/>
<circle cx="432.18" cy="192.39" r="1.05" fill="none" stroke="#8a8a8a" stroke-width="0.5"/>
<circle cx="434.51" cy="190.61" r="1.05" fill="none" stroke="#8a8a8a" stroke-width="0.5"/>
<circle cx="429.69" cy="189.23" r="1.05" fill="none" stroke="#8a8a8a" stroke-width="0.5"/>
<circle cx="433.12" cy="193.05" r="1.05" fill="none" stroke="#8a8a8a" stroke-width="0.5"/>
<circle cx="433.44" cy="191.92" r="1.05" fill="none" stroke="#8a8a8a" stroke-width="0.5"/>
<circle cx="432.17" cy="194.74" r="1.05" fill="none" stroke="#8a8a8a" stroke-width="0.5"/>
<circle cx="431.92" cy="192.84" r="1.05" fill="none" stroke="#8a8a8a" stroke-width="0.5"/>
<circle cx="433.83" cy="191.15" r="1.05" fill="none" stroke="#8a8a8a" stroke-width="0.5"/>
<circle cx="430.06" cy="188.83" r="1.05" fill="none" stroke="#8a8a8a" stroke-width="0.5"/>
<circle cx="434.35" cy="190.27" r="1.05" fill="none" stroke="#8a8a8a" stroke-width="0.5"/>
<circle cx="432.27" cy="191.32" r="1.05" fill="none" stroke="#8a8a8a" stroke-width="0.5"/>
<circle cx="388.27" cy="211.73" r="1.05" fill="none" stroke="#8a8a8a" stroke-width="0.5"/>
<circle cx="391.04" cy="208.68" r="1.05" fill="none" stroke="#8a8a8a" stroke-width="0.5"/>
<circle cx="388.71" cy="209.76" r="1.05" fill="none" stroke="#8a8a8a" stroke-width="0.5"/>
<circle cx="391.63" cy="210.88" r="1.05" fill="none" stroke="#8a8a8a" stroke-width="0.5"/>
<circle cx="390.19" cy="214.43" r="1.05" fill="none" stroke="#8a8a8a" stroke-width="0.5"/>
<circle cx="392.43" cy="214.46" r="1.05" fill="none" stroke="#8a8a8a" stroke-width="0.5"/>
<circle cx="387.29" cy="209.96" r="1.05" fill="none" stroke="#8a8a8a" stroke-width="0.5"/>
<circle cx="392.44" cy="209.46" r="1.05" fill="none" stroke="#8a8a8a" stroke-width="0.5"/>
<circle cx="394.15" cy="212.10" r="1.05" fill="none" stroke="#8a8a8a" stroke-width="0.5"/>
<circle cx="391.04" cy="214.33" r="1.05" fill="none" stroke="#8a8a8a" stroke-width="0.5"/>
<circle cx="386.06" cy="211.71" r="1.05" fill="none" stroke="#8a8a8a" stroke-width="0.5"/>
<circle cx="391.70" cy="208.64" r="1.05" fill="none" stroke="#8a8a8a" stroke-width="0.5"/>
<circle cx="392.51" cy="212.53" r="1.05" fill="none" stroke="#8a8a8a" stroke-width="0.5"/>
<circle cx="392.01" cy="211.89" r="1.05" fill="none" stroke="#8a8a8a" stroke-width="0.5"/>
<circle cx="393.76" cy="212.33" r="1.05" fill="none" stroke="#8a8a8a" stroke-width="0.5"/>
<circle cx="390.32" cy="209.17" r="1.05" fill="none" stroke="#8a8a8a" stroke-width="0.5"/>
<circle cx="392.98" cy="210.36" r="1.05" fill="none" stroke="#8a8a8a" stroke-width="0.5"/>
<circle cx="388.94" cy="213.76" r="1.05" fill="none" stroke="#8a8a8a" stroke-width="0.5"/>
<circle cx="389.03" cy="208.98" r="1.05" fill="none" stroke="#8a8a8a" stroke-width="0.5"/>
<circle cx="392.52" cy="210.39" r="1.05" fill="none" stroke="#8a8a8a" stroke-width="0.5"/>
<circle cx="392.66" cy="210.96" r="1.05" fill="none" stroke="#8a8a8a" stroke-width="0.5"/>
<circle cx="401.59" cy="209.06" r="1.05" fill="none" stroke="#8a8a8a" stroke-width="0.5"/>
<circle cx="404.91" cy="210.96" r="1.05" fill="none" stroke="#8a8a8a" stroke-width="0.5"/>
<circle cx="400.98" cy="209.69" r="1.05" fill="none" stroke="#8a8a8a" stroke-width="0.5"/>
<circle cx="405.06" cy="210.16" r="1.05" fill="none" stroke="#8a8a8a" stroke-width="0.5"/>
<circle cx="404.69" cy="209.74" r="1.05" fill="none" stroke="#8a8a8a" stroke-width="0.5"/>
<circle cx="400.22" cy="212.31" r="1.05" fill="none" stroke="#8a8a8a" stroke-width="0.5"/>
<circle cx="402.73" cy="211.68" r="1.05" fill="none" stroke="#8a8a8a" stroke-width="0.5"/>
<circle cx="407.85" cy="211.06" r="1.05" fill="none" stroke="#8a8a8a" stroke-width="0.5"/>
<circle cx="400.71" cy="209.47" r="1.05" fill="none" stroke="#8a8a8a" stroke-width="0.5"/>
<circle cx="402.78" cy="213.70" r="1.05" fill="none" stroke="#8a8a8a" stroke-width="0.5"/>
<circle cx="402.13" cy="209.99" r="1.05" fill="none" stroke="#8a8a8a" stroke-width="0.5"/>
<circle cx="407.20" cy="210.82" r="1.05" fill="none" stroke="#8a8a8a" stroke-width="0.5"/>
<circle cx="401.34" cy="210.05" r="1.05" fill="none" stroke="#8a8a8a" stroke-width="0.5"/>
<circle cx="403.69" cy="211.92" r="1.05" fill="none" stroke="#8a8a8a" stroke-width="0.5"/>
<circle cx="404.85" cy="213.77" r="1.05" fill="none" stroke="#8a8a8a" stroke-width="0.5"/>
<circle cx="400.72" cy="210.78" r="1.05" fill="none" stroke="#8a8a8a" stroke-width="0.5"/>
<circle cx="406.27" cy="213.18" r="1.05" fill="none" stroke="#8a8a8a" stroke-width="0.5"/>
<circle cx="404.31" cy="209.15" r="1.05" fill="none" stroke="#8a8a8a" stroke-width="0.5"/>
<circle cx="418.44" cy="208.62" r="1.05" fill="none" stroke="#8a8a8a" stroke-width="0.5"/>
<circle cx="423.06" cy="210.43" r="1.05" fill="none" stroke="#8a8a8a" stroke-width="0.5"/>
<circle cx="422.17" cy="211.97" r="1.05" fill="none" stroke="#8a8a8a" stroke-width="0.5"/>
<circle cx="419.95" cy="208.80" r="1.05" fill="none" stroke="#8a8a8a" stroke-width="0.5"/>
<circle cx="420.04" cy="214.74" r="1.05" fill="none" stroke="#8a8a8a" stroke-width="0.5"/>
<circle cx="421.74" cy="215.56" r="1.05" fill="none" stroke="#8a8a8a" stroke-width="0.5"/>
<circle cx="415.53" cy="210.97" r="1.05" fill="none" stroke="#8a8a8a" stroke-width="0.5"/>
<circle cx="417.22" cy="214.04" r="1.05" fill="none" stroke="#8a8a8a" stroke-width="0.5"/>
<circle cx="420.88" cy="208.08" r="1.05" fill="none" stroke="#8a8a8a" stroke-width="0.5"/>
<circle cx="421.95" cy="214.74" r="1.05" fill="none" stroke="#8a8a8a" stroke-width="0.5"/>
<circle cx="418.49" cy="215.63" r="1.05" fill="none" stroke="#8a8a8a" stroke-width="0.5"/>
<circle cx="417.95" cy="208.65" r="1.05" fill="none" stroke="#8a8a8a" stroke-width="0.5"/>
<circle cx="418.19" cy="215.82" r="1.05" fill="none" stroke="#8a8a8a" stroke-width="0.5"/>
<circle cx="416.96" cy="209.28" r="1.05" fill="none" stroke="#8a8a8a" stroke-width="0.5"/>
<circle cx="417.71" cy="208.39" r="1.05" fill="none" stroke="#8a8a8a" stroke-width="0.5"/>
<circle cx="417.03" cy="210.82" r="1.05" fill="none" stroke="#8a8a8a" stroke-width="0.5"/>
<circle cx="423.32" cy="210.48" r="1.05" fill="none" stroke="#8a8a8a" stroke-width="0.5"/>
<circle cx="421.86" cy="209.34" r="1.05" fill="none" stroke="#8a8a8a" stroke-width="0.5"/>
<circle cx="420.41" cy="213.91" r="1.05" fill="none" stroke="#8a8a8a" stroke-width="0.5"/>
<circle cx="422.44" cy="212.61" r="1.05" fill="none" stroke="#8a8a8a" stroke-width="0.5"/>
<circle cx="417.39" cy="212.70" r="1.05" fill="none" stroke="#8a8a8a" stroke-width="0.5"/>
<circle cx="433.90" cy="212.21" r="1.05" fill="none" stroke="#8a8a8a" stroke-width="0.5"/>
<circle cx="431.22" cy="213.81" r="1.05" fill="none" stroke="#8a8a8a" stroke-width="0.5"/>
<circle cx="435.96" cy="212.74" r="1.05" fill="none" stroke="#8a8a8a" stroke-width="0.5"/>
<circle cx="431.00" cy="214.41" r="1.05" fill="none" stroke="#8a8a8a" stroke-width="0.5"/>
<circle cx="433.64" cy="212.74" r="1.05" fill="none" stroke="#8a8a8a" stroke-width="0.5"/>
<circle cx="437.46" cy="211.77" r="1.05" fill="none" stroke="#8a8a8a" stroke-width="0.5"/>
<circle cx="432.10" cy="211.93" r="1.05" fill="none" stroke="#8a8a8a" stroke-width="0.5"/>
<circle cx="433.31" cy="214.63" r="1.05" fill="none" stroke="#8a8a8a" stroke-width="0.5"/>
<circle cx="431.15" cy="210.46" r="1.05" fill="none" stroke="#8a8a8a" stroke-width="0.5"/>
<circle cx="428.04" cy="211.72" r="1.05" fill="none" stroke="#8a8a8a" stroke-width="0.5"/>
<circle cx="434.78" cy="212.45" r="1.05" fill="none" stroke="#8a8a8a" stroke-width="0.5"/>
<circle cx="435.92" cy="211.27" r="1.05" fill="none" stroke="#8a8a8a" stroke-width="0.5"/>
<circle cx="432.93" cy="214.53" r="1.05" fill="none" stroke="#8a8a8a" stroke-width="0.5"/>
<circle cx="429.55" cy="212.93" r="1.05" fill="none" stroke="#8a8a8a" stroke-width="0.5"/>
<circle cx="434.97" cy="208.86" r="1.05" fill="none" stroke="#8a8a8a" stroke-width="0.5"/>
<circle cx="430.45" cy="210.35" r="1.05" fill="none" stroke="#8a8a8a" stroke-width="0.5"/>
<circle cx="434.00" cy="214.33" r="1.05" fill="none" stroke="#8a8a8a" stroke-width="0.5"/>
<circle cx="431.64" cy="209.30" r="1.05" fill="none" stroke="#8a8a8a" stroke-width="0.5"/>
<circle cx="431.02" cy="210.08" r="1.05" fill="none" stroke="#8a8a8a" stroke-width="0.5"/>
<circle cx="432.75" cy="208.54" r="1.05" fill="none" stroke="#8a8a8a" stroke-width="0.5"/>
<circle cx="431.81" cy="210.48" r="1.05" fill="none" stroke="#8a8a8a" stroke-width="0.5"/>
<circle cx="390.40" cy="160.50" r="1.05" fill="none" stroke="#8a8a8a" stroke-width="0.5"/>
<circle cx="390.40" cy="168.50" r="1.05" fill="none" stroke="#8a8a8a" stroke-width="0.5"/>
<circle cx="403.30" cy="171.00" r="1.05" fill="none" stroke="#8a8a8a" stroke-width="0.5"/>
<circle cx="403.30" cy="176.00" r="1.05" fill="none" stroke="#8a8a8a" stroke-width="0.5"/>
<circle cx="419.90" cy="160.00" r="1.05" fill="none" stroke="#8a8a8a" stroke-width="0.5"/>
<circle cx="419.90" cy="165.00" r="1.05" fill="none" stroke="#8a8a8a" stroke-width="0.5"/>
<circle cx="432.60" cy="160.50" r="1.05" fill="none" stroke="#8a8a8a" stroke-width="0.5"/>
<circle cx="432.60" cy="166.00" r="1.05" fill="none" stroke="#8a8a8a" stroke-width="0.5"/>
<line x1="390.35" y1="184.70" x2="390.35" y2="193.30" stroke="#222" stroke-width="0.9"/>
<line x1="390.35" y1="206.90" x2="390.35" y2="210.40" stroke="#222" stroke-width="0.9"/>
<rect x="384.90" y="193.30" width="10.90" height="13.60" fill="#808080" stroke="#1a1a1a" stroke-width="1.0"/>
<line x1="384.90" y1="201.30" x2="395.80" y2="201.30" stroke="#111" stroke-width="1.0"/>
<path d="M388.90,199.00 L390.40,197.50 L391.90,199.00 L390.40,200.50Z" fill="#2a7fc0"/>
<line x1="403.25" y1="187.00" x2="403.25" y2="193.80" stroke="#222" stroke-width="0.9"/>
<line x1="403.25" y1="208.30" x2="403.25" y2="211.00" stroke="#222" stroke-width="0.9"/>
<rect x="397.80" y="193.80" width="10.90" height="14.50" fill="#ff2a00" stroke="#1a1a1a" stroke-width="1.0"/>
<line x1="397.80" y1="204.20" x2="408.70" y2="204.20" stroke="#3a0800" stroke-width="1.0"/>
<path d="M401.70,200.70 L403.20,199.20 L404.70,200.70 L403.20,202.20Z" fill="#2a7fc0"/>
<line x1="419.90" y1="183.50" x2="419.90" y2="192.30" stroke="#222" stroke-width="0.9"/>
<line x1="419.90" y1="204.70" x2="419.90" y2="208.50" stroke="#222" stroke-width="0.9"/>
<rect x="414.30" y="192.30" width="11.20" height="12.40" fill="#808080" stroke="#1a1a1a" stroke-width="1.0"/>
<line x1="414.30" y1="199.50" x2="425.50" y2="199.50" stroke="#111" stroke-width="1.0"/>
<path d="M418.30,197.60 L419.80,196.10 L421.30,197.60 L419.80,199.10Z" fill="#2a7fc0"/>
<line x1="432.65" y1="188.00" x2="432.65" y2="194.70" stroke="#222" stroke-width="0.9"/>
<line x1="432.65" y1="206.40" x2="432.65" y2="209.00" stroke="#222" stroke-width="0.9"/>
<rect x="427.20" y="194.70" width="10.90" height="11.70" fill="#ff2a00" stroke="#1a1a1a" stroke-width="1.0"/>
<line x1="427.20" y1="201.80" x2="438.10" y2="201.80" stroke="#3a0800" stroke-width="1.0"/>
<path d="M431.40,199.90 L432.90,198.40 L434.40,199.90 L432.90,201.40Z" fill="#2a7fc0"/>
<polyline points="391.10,155.20 391.10,152.10 403.90,152.10 403.90,155.20" stroke="#333" stroke-width="0.6" fill="none" stroke-linejoin="round"/>
<text x="397.50" y="149.70" font-size="6.5" text-anchor="middle" fill="#000" stroke="#000" stroke-width="0.07">ns</text>
<polyline points="419.30,155.20 419.30,152.10 432.90,152.10 432.90,155.20" stroke="#333" stroke-width="0.6" fill="none" stroke-linejoin="round"/>
<text x="426.10" y="149.70" font-size="6.5" text-anchor="middle" fill="#000" stroke="#000" stroke-width="0.07">0.0135</text>
<text x="364.20" y="185.00" font-size="7.0" text-anchor="middle" fill="#000" stroke="#000" stroke-width="0.07" transform="rotate(-90 364.20 185.00)">Upstroke:Downstroke ratio</text>
<text x="392.15" y="231.20" font-size="7.25" text-anchor="end" fill="#000" stroke="#000" stroke-width="0.07" transform="rotate(-45 392.15 231.20)">Neurotypical</text>
<text x="405.05" y="231.20" font-size="7.25" text-anchor="end" fill="#000" stroke="#000" stroke-width="0.07" transform="rotate(-45 405.05 231.20)">MPSIIIA</text>
<text x="421.70" y="231.20" font-size="7.25" text-anchor="end" fill="#000" stroke="#000" stroke-width="0.07" transform="rotate(-45 421.70 231.20)">Neurotypical</text>
<text x="434.45" y="231.20" font-size="7.25" text-anchor="end" fill="#000" stroke="#000" stroke-width="0.07" transform="rotate(-45 434.45 231.20)">MPSIIIA</text>
<text x="394.00" y="264.40" font-size="5.8" text-anchor="middle" fill="#999999" stroke="#999999" stroke-width="0.07" font-style="italic">30-60 days</text>
<text x="427.00" y="264.40" font-size="5.8" text-anchor="middle" fill="#999999" stroke="#999999" stroke-width="0.07" font-style="italic">90-120 days</text>
<line x1="469.90" y1="149.60" x2="469.90" y2="170.40" stroke="#222" stroke-width="0.9"/>
<line x1="469.90" y1="175.10" x2="469.90" y2="221.20" stroke="#222" stroke-width="0.9"/>
<line x1="468.00" y1="170.40" x2="471.80" y2="170.40" stroke="#222" stroke-width="0.9"/>
<line x1="468.00" y1="175.10" x2="471.80" y2="175.10" stroke="#222" stroke-width="0.9"/>
<line x1="468.40" y1="153.00" x2="469.90" y2="153.00" stroke="#222" stroke-width="0.6"/>
<line x1="468.40" y1="159.80" x2="469.90" y2="159.80" stroke="#222" stroke-width="0.6"/>
<line x1="468.40" y1="166.60" x2="469.90" y2="166.60" stroke="#222" stroke-width="0.6"/>
<line x1="468.40" y1="213.51" x2="469.90" y2="213.51" stroke="#222" stroke-width="0.6"/>
<line x1="468.40" y1="198.14" x2="469.90" y2="198.14" stroke="#222" stroke-width="0.6"/>
<line x1="468.40" y1="182.76" x2="469.90" y2="182.76" stroke="#222" stroke-width="0.6"/>
<line x1="467.70" y1="221.20" x2="469.90" y2="221.20" stroke="#222" stroke-width="0.8"/>
<text x="466.70" y="223.70" font-size="6.9" text-anchor="end" fill="#000" stroke="#000" stroke-width="0.07">0.0</text>
<line x1="467.70" y1="205.82" x2="469.90" y2="205.82" stroke="#222" stroke-width="0.8"/>
<text x="466.70" y="208.32" font-size="6.9" text-anchor="end" fill="#000" stroke="#000" stroke-width="0.07">2.5</text>
<line x1="467.70" y1="190.45" x2="469.90" y2="190.45" stroke="#222" stroke-width="0.8"/>
<text x="466.70" y="192.95" font-size="6.9" text-anchor="end" fill="#000" stroke="#000" stroke-width="0.07">5.0</text>
<line x1="467.70" y1="175.07" x2="469.90" y2="175.07" stroke="#222" stroke-width="0.8"/>
<text x="466.70" y="177.57" font-size="6.9" text-anchor="end" fill="#000" stroke="#000" stroke-width="0.07">7.5</text>
<line x1="467.70" y1="163.20" x2="469.90" y2="163.20" stroke="#222" stroke-width="0.8"/>
<text x="466.70" y="165.70" font-size="6.9" text-anchor="end" fill="#000" stroke="#000" stroke-width="0.07">10.0</text>
<line x1="467.70" y1="156.40" x2="469.90" y2="156.40" stroke="#222" stroke-width="0.8"/>
<text x="466.70" y="158.90" font-size="6.9" text-anchor="end" fill="#000" stroke="#000" stroke-width="0.07">12.5</text>
<line x1="467.70" y1="149.60" x2="469.90" y2="149.60" stroke="#222" stroke-width="0.8"/>
<text x="466.70" y="152.10" font-size="6.9" text-anchor="end" fill="#000" stroke="#000" stroke-width="0.07">15.0</text>
<line x1="469.90" y1="221.20" x2="533.70" y2="221.20" stroke="#222" stroke-width="0.9"/>
<line x1="481.50" y1="221.20" x2="481.50" y2="223.20" stroke="#222" stroke-width="0.8"/>
<line x1="493.90" y1="221.20" x2="493.90" y2="223.20" stroke="#222" stroke-width="0.8"/>
<line x1="509.90" y1="221.20" x2="509.90" y2="223.20" stroke="#222" stroke-width="0.8"/>
<line x1="522.35" y1="221.20" x2="522.35" y2="223.20" stroke="#222" stroke-width="0.8"/>
<circle cx="484.39" cy="181.50" r="1.05" fill="none" stroke="#8a8a8a" stroke-width="0.5"/>
<circle cx="480.73" cy="176.38" r="1.05" fill="none" stroke="#8a8a8a" stroke-width="0.5"/>
<circle cx="482.09" cy="187.54" r="1.05" fill="none" stroke="#8a8a8a" stroke-width="0.5"/>
<circle cx="480.82" cy="177.54" r="1.05" fill="none" stroke="#8a8a8a" stroke-width="0.5"/>
<circle cx="481.24" cy="186.56" r="1.05" fill="none" stroke="#8a8a8a" stroke-width="0.5"/>
<circle cx="482.89" cy="176.34" r="1.05" fill="none" stroke="#8a8a8a" stroke-width="0.5"/>
<circle cx="482.13" cy="177.56" r="1.05" fill="none" stroke="#8a8a8a" stroke-width="0.5"/>
<circle cx="481.23" cy="183.43" r="1.05" fill="none" stroke="#8a8a8a" stroke-width="0.5"/>
<circle cx="480.34" cy="187.54" r="1.05" fill="none" stroke="#8a8a8a" stroke-width="0.5"/>
<circle cx="478.78" cy="183.26" r="1.05" fill="none" stroke="#8a8a8a" stroke-width="0.5"/>
<circle cx="480.24" cy="187.59" r="1.05" fill="none" stroke="#8a8a8a" stroke-width="0.5"/>
<circle cx="484.14" cy="182.16" r="1.05" fill="none" stroke="#8a8a8a" stroke-width="0.5"/>
<circle cx="479.75" cy="186.60" r="1.05" fill="none" stroke="#8a8a8a" stroke-width="0.5"/>
<circle cx="483.01" cy="186.53" r="1.05" fill="none" stroke="#8a8a8a" stroke-width="0.5"/>
<circle cx="483.11" cy="179.79" r="1.05" fill="none" stroke="#8a8a8a" stroke-width="0.5"/>
<circle cx="479.63" cy="178.72" r="1.05" fill="none" stroke="#8a8a8a" stroke-width="0.5"/>
<circle cx="480.58" cy="177.95" r="1.05" fill="none" stroke="#8a8a8a" stroke-width="0.5"/>
<circle cx="481.31" cy="185.91" r="1.05" fill="none" stroke="#8a8a8a" stroke-width="0.5"/>
<circle cx="492.04" cy="184.19" r="1.05" fill="none" stroke="#8a8a8a" stroke-width="0.5"/>
<circle cx="495.90" cy="181.83" r="1.05" fill="none" stroke="#8a8a8a" stroke-width="0.5"/>
<circle cx="495.29" cy="186.36" r="1.05" fill="none" stroke="#8a8a8a" stroke-width="0.5"/>
<circle cx="493.02" cy="186.08" r="1.05" fill="none" stroke="#8a8a8a" stroke-width="0.5"/>
<circle cx="494.34" cy="188.05" r="1.05" fill="none" stroke="#8a8a8a" stroke-width="0.5"/>
<circle cx="494.76" cy="188.59" r="1.05" fill="none" stroke="#8a8a8a" stroke-width="0.5"/>
<circle cx="493.61" cy="189.23" r="1.05" fill="none" stroke="#8a8a8a" stroke-width="0.5"/>
<circle cx="492.25" cy="181.71" r="1.05" fill="none" stroke="#8a8a8a" stroke-width="0.5"/>
<circle cx="491.94" cy="187.95" r="1.05" fill="none" stroke="#8a8a8a" stroke-width="0.5"/>
<circle cx="494.69" cy="187.20" r="1.05" fill="none" stroke="#8a8a8a" stroke-width="0.5"/>
<circle cx="494.98" cy="180.65" r="1.05" fill="none" stroke="#8a8a8a" stroke-width="0.5"/>
<circle cx="495.20" cy="180.36" r="1.05" fill="none" stroke="#8a8a8a" stroke-width="0.5"/>
<circle cx="492.55" cy="189.25" r="1.05" fill="none" stroke="#8a8a8a" stroke-width="0.5"/>
<circle cx="495.26" cy="187.99" r="1.05" fill="none" stroke="#8a8a8a" stroke-width="0.5"/>
<circle cx="494.65" cy="181.38" r="1.05" fill="none" stroke="#8a8a8a" stroke-width="0.5"/>
<circle cx="495.72" cy="181.36" r="1.05" fill="none" stroke="#8a8a8a" stroke-width="0.5"/>
<circle cx="496.89" cy="187.58" r="1.05" fill="none" stroke="#8a8a8a" stroke-width="0.5"/>
<circle cx="493.22" cy="180.59" r="1.05" fill="none" stroke="#8a8a8a" stroke-width="0.5"/>
<circle cx="506.72" cy="185.03" r="1.05" fill="none" stroke="#8a8a8a" stroke-width="0.5"/>
<circle cx="508.27" cy="181.03" r="1.05" fill="none" stroke="#8a8a8a" stroke-width="0.5"/>
<circle cx="510.92" cy="186.10" r="1.05" fill="none" stroke="#8a8a8a" stroke-width="0.5"/>
<circle cx="508.14" cy="187.81" r="1.05" fill="none" stroke="#8a8a8a" stroke-width="0.5"/>
<circle cx="506.47" cy="182.64" r="1.05" fill="none" stroke="#8a8a8a" stroke-width="0.5"/>
<circle cx="509.93" cy="180.41" r="1.05" fill="none" stroke="#8a8a8a" stroke-width="0.5"/>
<circle cx="508.85" cy="178.29" r="1.05" fill="none" stroke="#8a8a8a" stroke-width="0.5"/>
<circle cx="510.20" cy="185.15" r="1.05" fill="none" stroke="#8a8a8a" stroke-width="0.5"/>
<circle cx="510.38" cy="180.42" r="1.05" fill="none" stroke="#8a8a8a" stroke-width="0.5"/>
<circle cx="507.40" cy="186.90" r="1.05" fill="none" stroke="#8a8a8a" stroke-width="0.5"/>
<circle cx="510.91" cy="186.86" r="1.05" fill="none" stroke="#8a8a8a" stroke-width="0.5"/>
<circle cx="507.66" cy="181.74" r="1.05" fill="none" stroke="#8a8a8a" stroke-width="0.5"/>
<circle cx="509.31" cy="188.53" r="1.05" fill="none" stroke="#8a8a8a" stroke-width="0.5"/>
<circle cx="508.24" cy="179.02" r="1.05" fill="none" stroke="#8a8a8a" stroke-width="0.5"/>
<circle cx="510.39" cy="187.32" r="1.05" fill="none" stroke="#8a8a8a" stroke-width="0.5"/>
<circle cx="511.07" cy="186.88" r="1.05" fill="none" stroke="#8a8a8a" stroke-width="0.5"/>
<circle cx="513.54" cy="183.90" r="1.05" fill="none" stroke="#8a8a8a" stroke-width="0.5"/>
<circle cx="510.26" cy="182.16" r="1.05" fill="none" stroke="#8a8a8a" stroke-width="0.5"/>
<circle cx="510.48" cy="187.12" r="1.05" fill="none" stroke="#8a8a8a" stroke-width="0.5"/>
<circle cx="510.25" cy="187.48" r="1.05" fill="none" stroke="#8a8a8a" stroke-width="0.5"/>
<circle cx="507.14" cy="185.75" r="1.05" fill="none" stroke="#8a8a8a" stroke-width="0.5"/>
<circle cx="523.05" cy="180.42" r="1.05" fill="none" stroke="#8a8a8a" stroke-width="0.5"/>
<circle cx="522.18" cy="181.58" r="1.05" fill="none" stroke="#8a8a8a" stroke-width="0.5"/>
<circle cx="524.22" cy="187.39" r="1.05" fill="none" stroke="#8a8a8a" stroke-width="0.5"/>
<circle cx="522.34" cy="184.99" r="1.05" fill="none" stroke="#8a8a8a" stroke-width="0.5"/>
<circle cx="522.12" cy="180.21" r="1.05" fill="none" stroke="#8a8a8a" stroke-width="0.5"/>
<circle cx="524.75" cy="184.10" r="1.05" fill="none" stroke="#8a8a8a" stroke-width="0.5"/>
<circle cx="524.29" cy="186.02" r="1.05" fill="none" stroke="#8a8a8a" stroke-width="0.5"/>
<circle cx="519.95" cy="184.77" r="1.05" fill="none" stroke="#8a8a8a" stroke-width="0.5"/>
<circle cx="523.84" cy="189.36" r="1.05" fill="none" stroke="#8a8a8a" stroke-width="0.5"/>
<circle cx="519.58" cy="184.13" r="1.05" fill="none" stroke="#8a8a8a" stroke-width="0.5"/>
<circle cx="522.32" cy="185.64" r="1.05" fill="none" stroke="#8a8a8a" stroke-width="0.5"/>
<circle cx="522.88" cy="188.50" r="1.05" fill="none" stroke="#8a8a8a" stroke-width="0.5"/>
<circle cx="522.95" cy="185.57" r="1.05" fill="none" stroke="#8a8a8a" stroke-width="0.5"/>
<circle cx="519.26" cy="184.15" r="1.05" fill="none" stroke="#8a8a8a" stroke-width="0.5"/>
<circle cx="524.03" cy="180.67" r="1.05" fill="none" stroke="#8a8a8a" stroke-width="0.5"/>
<circle cx="521.38" cy="189.23" r="1.05" fill="none" stroke="#8a8a8a" stroke-width="0.5"/>
<circle cx="522.45" cy="189.78" r="1.05" fill="none" stroke="#8a8a8a" stroke-width="0.5"/>
<circle cx="523.85" cy="181.13" r="1.05" fill="none" stroke="#8a8a8a" stroke-width="0.5"/>
<circle cx="525.48" cy="186.43" r="1.05" fill="none" stroke="#8a8a8a" stroke-width="0.5"/>
<circle cx="519.79" cy="187.47" r="1.05" fill="none" stroke="#8a8a8a" stroke-width="0.5"/>
<circle cx="524.32" cy="186.85" r="1.05" fill="none" stroke="#8a8a8a" stroke-width="0.5"/>
<circle cx="479.09" cy="207.74" r="1.05" fill="none" stroke="#8a8a8a" stroke-width="0.5"/>
<circle cx="479.27" cy="208.37" r="1.05" fill="none" stroke="#8a8a8a" stroke-width="0.5"/>
<circle cx="486.21" cy="207.63" r="1.05" fill="none" stroke="#8a8a8a" stroke-width="0.5"/>
<circle cx="480.55" cy="205.88" r="1.05" fill="none" stroke="#8a8a8a" stroke-width="0.5"/>
<circle cx="478.12" cy="208.54" r="1.05" fill="none" stroke="#8a8a8a" stroke-width="0.5"/>
<circle cx="483.47" cy="206.19" r="1.05" fill="none" stroke="#8a8a8a" stroke-width="0.5"/>
<circle cx="480.71" cy="209.91" r="1.05" fill="none" stroke="#8a8a8a" stroke-width="0.5"/>
<circle cx="484.56" cy="206.35" r="1.05" fill="none" stroke="#8a8a8a" stroke-width="0.5"/>
<circle cx="482.35" cy="206.98" r="1.05" fill="none" stroke="#8a8a8a" stroke-width="0.5"/>
<circle cx="482.72" cy="208.23" r="1.05" fill="none" stroke="#8a8a8a" stroke-width="0.5"/>
<circle cx="483.90" cy="209.62" r="1.05" fill="none" stroke="#8a8a8a" stroke-width="0.5"/>
<circle cx="484.08" cy="208.62" r="1.05" fill="none" stroke="#8a8a8a" stroke-width="0.5"/>
<circle cx="482.46" cy="209.07" r="1.05" fill="none" stroke="#8a8a8a" stroke-width="0.5"/>
<circle cx="478.91" cy="207.44" r="1.05" fill="none" stroke="#8a8a8a" stroke-width="0.5"/>
<circle cx="484.70" cy="206.70" r="1.05" fill="none" stroke="#8a8a8a" stroke-width="0.5"/>
<circle cx="478.40" cy="208.65" r="1.05" fill="none" stroke="#8a8a8a" stroke-width="0.5"/>
<circle cx="480.30" cy="209.60" r="1.05" fill="none" stroke="#8a8a8a" stroke-width="0.5"/>
<circle cx="481.18" cy="208.62" r="1.05" fill="none" stroke="#8a8a8a" stroke-width="0.5"/>
<circle cx="493.92" cy="206.97" r="1.05" fill="none" stroke="#8a8a8a" stroke-width="0.5"/>
<circle cx="495.88" cy="206.65" r="1.05" fill="none" stroke="#8a8a8a" stroke-width="0.5"/>
<circle cx="494.27" cy="206.93" r="1.05" fill="none" stroke="#8a8a8a" stroke-width="0.5"/>
<circle cx="493.38" cy="209.71" r="1.05" fill="none" stroke="#8a8a8a" stroke-width="0.5"/>
<circle cx="494.95" cy="209.87" r="1.05" fill="none" stroke="#8a8a8a" stroke-width="0.5"/>
<circle cx="495.16" cy="208.19" r="1.05" fill="none" stroke="#8a8a8a" stroke-width="0.5"/>
<circle cx="492.60" cy="208.34" r="1.05" fill="none" stroke="#8a8a8a" stroke-width="0.5"/>
<circle cx="493.50" cy="209.99" r="1.05" fill="none" stroke="#8a8a8a" stroke-width="0.5"/>
<circle cx="495.43" cy="209.94" r="1.05" fill="none" stroke="#8a8a8a" stroke-width="0.5"/>
<circle cx="492.81" cy="206.11" r="1.05" fill="none" stroke="#8a8a8a" stroke-width="0.5"/>
<circle cx="497.07" cy="207.91" r="1.05" fill="none" stroke="#8a8a8a" stroke-width="0.5"/>
<circle cx="494.64" cy="206.71" r="1.05" fill="none" stroke="#8a8a8a" stroke-width="0.5"/>
<circle cx="496.39" cy="207.47" r="1.05" fill="none" stroke="#8a8a8a" stroke-width="0.5"/>
<circle cx="495.22" cy="209.71" r="1.05" fill="none" stroke="#8a8a8a" stroke-width="0.5"/>
<circle cx="495.60" cy="206.77" r="1.05" fill="none" stroke="#8a8a8a" stroke-width="0.5"/>
<circle cx="497.13" cy="207.75" r="1.05" fill="none" stroke="#8a8a8a" stroke-width="0.5"/>
<circle cx="497.96" cy="207.88" r="1.05" fill="none" stroke="#8a8a8a" stroke-width="0.5"/>
<circle cx="495.30" cy="209.94" r="1.05" fill="none" stroke="#8a8a8a" stroke-width="0.5"/>
<circle cx="507.94" cy="209.42" r="1.05" fill="none" stroke="#8a8a8a" stroke-width="0.5"/>
<circle cx="509.78" cy="208.54" r="1.05" fill="none" stroke="#8a8a8a" stroke-width="0.5"/>
<circle cx="509.45" cy="209.30" r="1.05" fill="none" stroke="#8a8a8a" stroke-width="0.5"/>
<circle cx="508.15" cy="209.22" r="1.05" fill="none" stroke="#8a8a8a" stroke-width="0.5"/>
<circle cx="509.53" cy="209.48" r="1.05" fill="none" stroke="#8a8a8a" stroke-width="0.5"/>
<circle cx="508.91" cy="206.64" r="1.05" fill="none" stroke="#8a8a8a" stroke-width="0.5"/>
<circle cx="505.84" cy="208.21" r="1.05" fill="none" stroke="#8a8a8a" stroke-width="0.5"/>
<circle cx="505.52" cy="207.36" r="1.05" fill="none" stroke="#8a8a8a" stroke-width="0.5"/>
<circle cx="508.25" cy="206.24" r="1.05" fill="none" stroke="#8a8a8a" stroke-width="0.5"/>
<circle cx="508.32" cy="206.81" r="1.05" fill="none" stroke="#8a8a8a" stroke-width="0.5"/>
<circle cx="509.32" cy="208.72" r="1.05" fill="none" stroke="#8a8a8a" stroke-width="0.5"/>
<circle cx="512.26" cy="209.00" r="1.05" fill="none" stroke="#8a8a8a" stroke-width="0.5"/>
<circle cx="512.34" cy="209.13" r="1.05" fill="none" stroke="#8a8a8a" stroke-width="0.5"/>
<circle cx="511.51" cy="208.02" r="1.05" fill="none" stroke="#8a8a8a" stroke-width="0.5"/>
<circle cx="510.15" cy="209.09" r="1.05" fill="none" stroke="#8a8a8a" stroke-width="0.5"/>
<circle cx="510.02" cy="206.50" r="1.05" fill="none" stroke="#8a8a8a" stroke-width="0.5"/>
<circle cx="506.70" cy="207.86" r="1.05" fill="none" stroke="#8a8a8a" stroke-width="0.5"/>
<circle cx="508.23" cy="206.32" r="1.05" fill="none" stroke="#8a8a8a" stroke-width="0.5"/>
<circle cx="525.82" cy="208.66" r="1.05" fill="none" stroke="#8a8a8a" stroke-width="0.5"/>
<circle cx="524.42" cy="208.10" r="1.05" fill="none" stroke="#8a8a8a" stroke-width="0.5"/>
<circle cx="522.45" cy="209.78" r="1.05" fill="none" stroke="#8a8a8a" stroke-width="0.5"/>
<circle cx="524.05" cy="209.07" r="1.05" fill="none" stroke="#8a8a8a" stroke-width="0.5"/>
<circle cx="519.62" cy="209.50" r="1.05" fill="none" stroke="#8a8a8a" stroke-width="0.5"/>
<circle cx="525.45" cy="207.09" r="1.05" fill="none" stroke="#8a8a8a" stroke-width="0.5"/>
<circle cx="520.61" cy="209.11" r="1.05" fill="none" stroke="#8a8a8a" stroke-width="0.5"/>
<circle cx="519.92" cy="209.10" r="1.05" fill="none" stroke="#8a8a8a" stroke-width="0.5"/>
<circle cx="521.84" cy="207.76" r="1.05" fill="none" stroke="#8a8a8a" stroke-width="0.5"/>
<circle cx="519.82" cy="207.30" r="1.05" fill="none" stroke="#8a8a8a" stroke-width="0.5"/>
<circle cx="523.86" cy="208.28" r="1.05" fill="none" stroke="#8a8a8a" stroke-width="0.5"/>
<circle cx="523.65" cy="207.61" r="1.05" fill="none" stroke="#8a8a8a" stroke-width="0.5"/>
<circle cx="520.41" cy="209.94" r="1.05" fill="none" stroke="#8a8a8a" stroke-width="0.5"/>
<circle cx="519.24" cy="207.47" r="1.05" fill="none" stroke="#8a8a8a" stroke-width="0.5"/>
<circle cx="521.64" cy="208.87" r="1.05" fill="none" stroke="#8a8a8a" stroke-width="0.5"/>
<circle cx="519.92" cy="208.04" r="1.05" fill="none" stroke="#8a8a8a" stroke-width="0.5"/>
<circle cx="524.14" cy="209.22" r="1.05" fill="none" stroke="#8a8a8a" stroke-width="0.5"/>
<circle cx="525.50" cy="208.07" r="1.05" fill="none" stroke="#8a8a8a" stroke-width="0.5"/>
<circle cx="481.50" cy="156.20" r="1.05" fill="none" stroke="#8a8a8a" stroke-width="0.5"/>
<circle cx="481.50" cy="169.50" r="1.05" fill="none" stroke="#8a8a8a" stroke-width="0.5"/>
<circle cx="493.90" cy="167.30" r="1.05" fill="none" stroke="#8a8a8a" stroke-width="0.5"/>
<circle cx="509.90" cy="167.50" r="1.05" fill="none" stroke="#8a8a8a" stroke-width="0.5"/>
<circle cx="509.90" cy="171.50" r="1.05" fill="none" stroke="#8a8a8a" stroke-width="0.5"/>
<circle cx="522.30" cy="160.30" r="1.05" fill="none" stroke="#8a8a8a" stroke-width="0.5"/>
<circle cx="522.30" cy="168.50" r="1.05" fill="none" stroke="#8a8a8a" stroke-width="0.5"/>
<circle cx="522.30" cy="172.50" r="1.05" fill="none" stroke="#8a8a8a" stroke-width="0.5"/>
<line x1="481.50" y1="185.00" x2="481.50" y2="192.70" stroke="#222" stroke-width="0.9"/>
<line x1="481.50" y1="202.20" x2="481.50" y2="205.50" stroke="#222" stroke-width="0.9"/>
<rect x="476.20" y="192.70" width="10.60" height="9.50" fill="#808080" stroke="#1a1a1a" stroke-width="1.0"/>
<line x1="476.20" y1="199.30" x2="486.80" y2="199.30" stroke="#111" stroke-width="1.0"/>
<path d="M480.00,197.00 L481.50,195.50 L483.00,197.00 L481.50,198.50Z" fill="#2a7fc0"/>
<line x1="493.90" y1="190.00" x2="493.90" y2="197.20" stroke="#222" stroke-width="0.9"/>
<line x1="493.90" y1="203.00" x2="493.90" y2="206.00" stroke="#222" stroke-width="0.9"/>
<rect x="488.40" y="197.20" width="11.00" height="5.80" fill="#ff2a00" stroke="#1a1a1a" stroke-width="1.0"/>
<line x1="488.40" y1="200.00" x2="499.40" y2="200.00" stroke="#3a0800" stroke-width="1.0"/>
<path d="M492.50,199.50 L494.00,198.00 L495.50,199.50 L494.00,201.00Z" fill="#2a7fc0"/>
<line x1="509.90" y1="186.00" x2="509.90" y2="195.50" stroke="#222" stroke-width="0.9"/>
<line x1="509.90" y1="203.30" x2="509.90" y2="206.00" stroke="#222" stroke-width="0.9"/>
<rect x="504.30" y="195.50" width="11.20" height="7.80" fill="#808080" stroke="#1a1a1a" stroke-width="1.0"/>
<line x1="504.30" y1="201.00" x2="515.50" y2="201.00" stroke="#111" stroke-width="1.0"/>
<path d="M508.50,198.50 L510.00,197.00 L511.50,198.50 L510.00,200.00Z" fill="#2a7fc0"/>
<line x1="522.35" y1="189.00" x2="522.35" y2="198.00" stroke="#222" stroke-width="0.9"/>
<line x1="522.35" y1="204.70" x2="522.35" y2="207.00" stroke="#222" stroke-width="0.9"/>
<rect x="517.10" y="198.00" width="10.50" height="6.70" fill="#ff2a00" stroke="#1a1a1a" stroke-width="1.0"/>
<line x1="517.10" y1="202.20" x2="527.60" y2="202.20" stroke="#3a0800" stroke-width="1.0"/>
<path d="M520.80,200.00 L522.30,198.50 L523.80,200.00 L522.30,201.50Z" fill="#2a7fc0"/>
<polyline points="481.10,153.20 481.10,150.00 493.90,150.00 493.90,153.20" stroke="#333" stroke-width="0.6" fill="none" stroke-linejoin="round"/>
<text x="487.50" y="146.60" font-size="6.5" text-anchor="middle" fill="#000" stroke="#000" stroke-width="0.07">0.0397</text>
<polyline points="509.70,153.20 509.70,150.00 522.60,150.00 522.60,153.20" stroke="#333" stroke-width="0.6" fill="none" stroke-linejoin="round"/>
<text x="516.15" y="146.60" font-size="6.5" text-anchor="middle" fill="#000" stroke="#000" stroke-width="0.07">ns</text>
<text x="453.00" y="185.00" font-size="7.0" text-anchor="middle" fill="#000" stroke="#000" stroke-width="0.07" transform="rotate(-90 453.00 185.00)">AP duration (ms)</text>
<text x="483.30" y="230.80" font-size="7.25" text-anchor="end" fill="#000" stroke="#000" stroke-width="0.07" transform="rotate(-45 483.30 230.80)">Neurotypical</text>
<text x="495.70" y="230.80" font-size="7.25" text-anchor="end" fill="#000" stroke="#000" stroke-width="0.07" transform="rotate(-45 495.70 230.80)">MPSIIIA</text>
<text x="511.70" y="230.80" font-size="7.25" text-anchor="end" fill="#000" stroke="#000" stroke-width="0.07" transform="rotate(-45 511.70 230.80)">Neurotypical</text>
<text x="524.15" y="230.80" font-size="7.25" text-anchor="end" fill="#000" stroke="#000" stroke-width="0.07" transform="rotate(-45 524.15 230.80)">MPSIIIA</text>
<text x="476.80" y="264.40" font-size="5.8" text-anchor="middle" fill="#999999" stroke="#999999" stroke-width="0.07" font-style="italic">30-60 days</text>
<text x="510.80" y="264.40" font-size="5.8" text-anchor="middle" fill="#999999" stroke="#999999" stroke-width="0.07" font-style="italic">90-120 days</text>
<line x1="559.50" y1="151.30" x2="622.90" y2="151.30" stroke="#b0b0b0" stroke-width="0.8" stroke-dasharray="1.5,0.8"/>
<line x1="559.50" y1="151.30" x2="559.50" y2="222.10" stroke="#222" stroke-width="0.9"/>
<line x1="557.30" y1="151.30" x2="559.50" y2="151.30" stroke="#222" stroke-width="0.8"/>
<line x1="557.30" y1="171.50" x2="559.50" y2="171.50" stroke="#222" stroke-width="0.8"/>
<line x1="557.30" y1="191.70" x2="559.50" y2="191.70" stroke="#222" stroke-width="0.8"/>
<line x1="557.30" y1="211.90" x2="559.50" y2="211.90" stroke="#222" stroke-width="0.8"/>
<line x1="558.20" y1="161.40" x2="559.50" y2="161.40" stroke="#222" stroke-width="0.6"/>
<line x1="558.20" y1="181.60" x2="559.50" y2="181.60" stroke="#222" stroke-width="0.6"/>
<line x1="558.20" y1="201.80" x2="559.50" y2="201.80" stroke="#222" stroke-width="0.6"/>
<line x1="558.20" y1="222.00" x2="559.50" y2="222.00" stroke="#222" stroke-width="0.6"/>
<text x="556.30" y="153.96" font-size="7.4" text-anchor="end" fill="#000" stroke="#000" stroke-width="0.07">0</text>
<text x="556.30" y="174.16" font-size="7.4" text-anchor="end" fill="#000" stroke="#000" stroke-width="0.07">-20</text>
<text x="556.30" y="194.36" font-size="7.4" text-anchor="end" fill="#000" stroke="#000" stroke-width="0.07">-40</text>
<text x="556.30" y="214.56" font-size="7.4" text-anchor="end" fill="#000" stroke="#000" stroke-width="0.07">-60</text>
<line x1="559.50" y1="222.10" x2="622.90" y2="222.10" stroke="#222" stroke-width="0.9"/>
<line x1="570.65" y1="222.10" x2="570.65" y2="224.10" stroke="#222" stroke-width="0.8"/>
<line x1="583.10" y1="222.10" x2="583.10" y2="224.10" stroke="#222" stroke-width="0.8"/>
<line x1="598.65" y1="222.10" x2="598.65" y2="224.10" stroke="#222" stroke-width="0.8"/>
<line x1="611.30" y1="222.10" x2="611.30" y2="224.10" stroke="#222" stroke-width="0.8"/>
<circle cx="571.13" cy="183.08" r="1.05" fill="none" stroke="#8a8a8a" stroke-width="0.5"/>
<circle cx="572.43" cy="182.66" r="1.05" fill="none" stroke="#8a8a8a" stroke-width="0.5"/>
<circle cx="569.35" cy="184.67" r="1.05" fill="none" stroke="#8a8a8a" stroke-width="0.5"/>
<circle cx="571.88" cy="188.97" r="1.05" fill="none" stroke="#8a8a8a" stroke-width="0.5"/>
<circle cx="571.41" cy="188.60" r="1.05" fill="none" stroke="#8a8a8a" stroke-width="0.5"/>
<circle cx="570.10" cy="181.85" r="1.05" fill="none" stroke="#8a8a8a" stroke-width="0.5"/>
<circle cx="572.27" cy="182.39" r="1.05" fill="none" stroke="#8a8a8a" stroke-width="0.5"/>
<circle cx="571.61" cy="180.09" r="1.05" fill="none" stroke="#8a8a8a" stroke-width="0.5"/>
<circle cx="569.71" cy="181.67" r="1.05" fill="none" stroke="#8a8a8a" stroke-width="0.5"/>
<circle cx="571.84" cy="186.29" r="1.05" fill="none" stroke="#8a8a8a" stroke-width="0.5"/>
<circle cx="571.10" cy="185.12" r="1.05" fill="none" stroke="#8a8a8a" stroke-width="0.5"/>
<circle cx="571.37" cy="185.89" r="1.05" fill="none" stroke="#8a8a8a" stroke-width="0.5"/>
<circle cx="569.80" cy="181.08" r="1.05" fill="none" stroke="#8a8a8a" stroke-width="0.5"/>
<circle cx="570.88" cy="180.20" r="1.05" fill="none" stroke="#8a8a8a" stroke-width="0.5"/>
<circle cx="569.09" cy="182.95" r="1.05" fill="none" stroke="#8a8a8a" stroke-width="0.5"/>
<circle cx="573.24" cy="182.74" r="1.05" fill="none" stroke="#8a8a8a" stroke-width="0.5"/>
<circle cx="572.44" cy="181.28" r="1.05" fill="none" stroke="#8a8a8a" stroke-width="0.5"/>
<circle cx="569.42" cy="189.03" r="1.05" fill="none" stroke="#8a8a8a" stroke-width="0.5"/>
<circle cx="569.17" cy="188.30" r="1.05" fill="none" stroke="#8a8a8a" stroke-width="0.5"/>
<circle cx="568.14" cy="186.46" r="1.05" fill="none" stroke="#8a8a8a" stroke-width="0.5"/>
<circle cx="570.61" cy="183.18" r="1.05" fill="none" stroke="#8a8a8a" stroke-width="0.5"/>
<circle cx="583.55" cy="185.96" r="1.05" fill="none" stroke="#8a8a8a" stroke-width="0.5"/>
<circle cx="582.19" cy="188.48" r="1.05" fill="none" stroke="#8a8a8a" stroke-width="0.5"/>
<circle cx="584.32" cy="184.57" r="1.05" fill="none" stroke="#8a8a8a" stroke-width="0.5"/>
<circle cx="581.99" cy="185.89" r="1.05" fill="none" stroke="#8a8a8a" stroke-width="0.5"/>
<circle cx="581.89" cy="185.24" r="1.05" fill="none" stroke="#8a8a8a" stroke-width="0.5"/>
<circle cx="583.74" cy="183.34" r="1.05" fill="none" stroke="#8a8a8a" stroke-width="0.5"/>
<circle cx="583.90" cy="189.15" r="1.05" fill="none" stroke="#8a8a8a" stroke-width="0.5"/>
<circle cx="582.00" cy="187.08" r="1.05" fill="none" stroke="#8a8a8a" stroke-width="0.5"/>
<circle cx="580.46" cy="185.47" r="1.05" fill="none" stroke="#8a8a8a" stroke-width="0.5"/>
<circle cx="581.91" cy="187.83" r="1.05" fill="none" stroke="#8a8a8a" stroke-width="0.5"/>
<circle cx="586.00" cy="184.33" r="1.05" fill="none" stroke="#8a8a8a" stroke-width="0.5"/>
<circle cx="586.22" cy="184.72" r="1.05" fill="none" stroke="#8a8a8a" stroke-width="0.5"/>
<circle cx="584.90" cy="186.94" r="1.05" fill="none" stroke="#8a8a8a" stroke-width="0.5"/>
<circle cx="580.91" cy="187.02" r="1.05" fill="none" stroke="#8a8a8a" stroke-width="0.5"/>
<circle cx="581.65" cy="187.70" r="1.05" fill="none" stroke="#8a8a8a" stroke-width="0.5"/>
<circle cx="580.45" cy="185.26" r="1.05" fill="none" stroke="#8a8a8a" stroke-width="0.5"/>
<circle cx="582.60" cy="182.47" r="1.05" fill="none" stroke="#8a8a8a" stroke-width="0.5"/>
<circle cx="582.71" cy="182.11" r="1.05" fill="none" stroke="#8a8a8a" stroke-width="0.5"/>
<circle cx="597.37" cy="189.28" r="1.05" fill="none" stroke="#8a8a8a" stroke-width="0.5"/>
<circle cx="597.73" cy="189.71" r="1.05" fill="none" stroke="#8a8a8a" stroke-width="0.5"/>
<circle cx="601.72" cy="184.65" r="1.05" fill="none" stroke="#8a8a8a" stroke-width="0.5"/>
<circle cx="598.70" cy="183.56" r="1.05" fill="none" stroke="#8a8a8a" stroke-width="0.5"/>
<circle cx="600.85" cy="181.62" r="1.05" fill="none" stroke="#8a8a8a" stroke-width="0.5"/>
<circle cx="597.55" cy="189.85" r="1.05" fill="none" stroke="#8a8a8a" stroke-width="0.5"/>
<circle cx="598.53" cy="181.23" r="1.05" fill="none" stroke="#8a8a8a" stroke-width="0.5"/>
<circle cx="600.82" cy="185.19" r="1.05" fill="none" stroke="#8a8a8a" stroke-width="0.5"/>
<circle cx="599.24" cy="183.43" r="1.05" fill="none" stroke="#8a8a8a" stroke-width="0.5"/>
<circle cx="597.28" cy="181.60" r="1.05" fill="none" stroke="#8a8a8a" stroke-width="0.5"/>
<circle cx="598.83" cy="180.79" r="1.05" fill="none" stroke="#8a8a8a" stroke-width="0.5"/>
<circle cx="599.52" cy="185.63" r="1.05" fill="none" stroke="#8a8a8a" stroke-width="0.5"/>
<circle cx="597.91" cy="189.36" r="1.05" fill="none" stroke="#8a8a8a" stroke-width="0.5"/>
<circle cx="598.41" cy="183.43" r="1.05" fill="none" stroke="#8a8a8a" stroke-width="0.5"/>
<circle cx="597.93" cy="189.46" r="1.05" fill="none" stroke="#8a8a8a" stroke-width="0.5"/>
<circle cx="598.21" cy="182.90" r="1.05" fill="none" stroke="#8a8a8a" stroke-width="0.5"/>
<circle cx="597.28" cy="186.90" r="1.05" fill="none" stroke="#8a8a8a" stroke-width="0.5"/>
<circle cx="599.78" cy="181.73" r="1.05" fill="none" stroke="#8a8a8a" stroke-width="0.5"/>
<circle cx="599.23" cy="185.75" r="1.05" fill="none" stroke="#8a8a8a" stroke-width="0.5"/>
<circle cx="597.81" cy="180.14" r="1.05" fill="none" stroke="#8a8a8a" stroke-width="0.5"/>
<circle cx="598.08" cy="181.02" r="1.05" fill="none" stroke="#8a8a8a" stroke-width="0.5"/>
<circle cx="609.75" cy="186.01" r="1.05" fill="none" stroke="#8a8a8a" stroke-width="0.5"/>
<circle cx="611.24" cy="190.18" r="1.05" fill="none" stroke="#8a8a8a" stroke-width="0.5"/>
<circle cx="612.32" cy="182.78" r="1.05" fill="none" stroke="#8a8a8a" stroke-width="0.5"/>
<circle cx="610.13" cy="182.68" r="1.05" fill="none" stroke="#8a8a8a" stroke-width="0.5"/>
<circle cx="611.80" cy="182.67" r="1.05" fill="none" stroke="#8a8a8a" stroke-width="0.5"/>
<circle cx="611.83" cy="189.58" r="1.05" fill="none" stroke="#8a8a8a" stroke-width="0.5"/>
<circle cx="613.15" cy="184.00" r="1.05" fill="none" stroke="#8a8a8a" stroke-width="0.5"/>
<circle cx="610.53" cy="189.84" r="1.05" fill="none" stroke="#8a8a8a" stroke-width="0.5"/>
<circle cx="612.32" cy="184.46" r="1.05" fill="none" stroke="#8a8a8a" stroke-width="0.5"/>
<circle cx="612.74" cy="190.75" r="1.05" fill="none" stroke="#8a8a8a" stroke-width="0.5"/>
<circle cx="612.25" cy="189.89" r="1.05" fill="none" stroke="#8a8a8a" stroke-width="0.5"/>
<circle cx="611.91" cy="184.05" r="1.05" fill="none" stroke="#8a8a8a" stroke-width="0.5"/>
<circle cx="612.32" cy="185.85" r="1.05" fill="none" stroke="#8a8a8a" stroke-width="0.5"/>
<circle cx="608.97" cy="186.39" r="1.05" fill="none" stroke="#8a8a8a" stroke-width="0.5"/>
<circle cx="609.35" cy="190.08" r="1.05" fill="none" stroke="#8a8a8a" stroke-width="0.5"/>
<circle cx="610.19" cy="185.07" r="1.05" fill="none" stroke="#8a8a8a" stroke-width="0.5"/>
<circle cx="609.94" cy="190.70" r="1.05" fill="none" stroke="#8a8a8a" stroke-width="0.5"/>
<circle cx="614.53" cy="187.20" r="1.05" fill="none" stroke="#8a8a8a" stroke-width="0.5"/>
<circle cx="569.57" cy="210.46" r="1.05" fill="none" stroke="#8a8a8a" stroke-width="0.5"/>
<circle cx="567.07" cy="207.76" r="1.05" fill="none" stroke="#8a8a8a" stroke-width="0.5"/>
<circle cx="569.20" cy="210.97" r="1.05" fill="none" stroke="#8a8a8a" stroke-width="0.5"/>
<circle cx="571.45" cy="209.04" r="1.05" fill="none" stroke="#8a8a8a" stroke-width="0.5"/>
<circle cx="569.96" cy="209.29" r="1.05" fill="none" stroke="#8a8a8a" stroke-width="0.5"/>
<circle cx="569.76" cy="207.28" r="1.05" fill="none" stroke="#8a8a8a" stroke-width="0.5"/>
<circle cx="569.74" cy="205.44" r="1.05" fill="none" stroke="#8a8a8a" stroke-width="0.5"/>
<circle cx="572.77" cy="206.65" r="1.05" fill="none" stroke="#8a8a8a" stroke-width="0.5"/>
<circle cx="566.74" cy="207.68" r="1.05" fill="none" stroke="#8a8a8a" stroke-width="0.5"/>
<circle cx="569.95" cy="205.19" r="1.05" fill="none" stroke="#8a8a8a" stroke-width="0.5"/>
<circle cx="568.60" cy="210.91" r="1.05" fill="none" stroke="#8a8a8a" stroke-width="0.5"/>
<circle cx="573.27" cy="207.70" r="1.05" fill="none" stroke="#8a8a8a" stroke-width="0.5"/>
<circle cx="572.36" cy="205.73" r="1.05" fill="none" stroke="#8a8a8a" stroke-width="0.5"/>
<circle cx="572.47" cy="210.30" r="1.05" fill="none" stroke="#8a8a8a" stroke-width="0.5"/>
<circle cx="573.15" cy="205.80" r="1.05" fill="none" stroke="#8a8a8a" stroke-width="0.5"/>
<circle cx="572.74" cy="206.37" r="1.05" fill="none" stroke="#8a8a8a" stroke-width="0.5"/>
<circle cx="570.80" cy="209.78" r="1.05" fill="none" stroke="#8a8a8a" stroke-width="0.5"/>
<circle cx="572.62" cy="209.51" r="1.05" fill="none" stroke="#8a8a8a" stroke-width="0.5"/>
<circle cx="584.08" cy="207.27" r="1.05" fill="none" stroke="#8a8a8a" stroke-width="0.5"/>
<circle cx="585.15" cy="205.06" r="1.05" fill="none" stroke="#8a8a8a" stroke-width="0.5"/>
<circle cx="586.27" cy="210.76" r="1.05" fill="none" stroke="#8a8a8a" stroke-width="0.5"/>
<circle cx="580.87" cy="206.84" r="1.05" fill="none" stroke="#8a8a8a" stroke-width="0.5"/>
<circle cx="581.62" cy="205.38" r="1.05" fill="none" stroke="#8a8a8a" stroke-width="0.5"/>
<circle cx="583.95" cy="205.17" r="1.05" fill="none" stroke="#8a8a8a" stroke-width="0.5"/>
<circle cx="585.84" cy="207.56" r="1.05" fill="none" stroke="#8a8a8a" stroke-width="0.5"/>
<circle cx="582.03" cy="210.32" r="1.05" fill="none" stroke="#8a8a8a" stroke-width="0.5"/>
<circle cx="582.15" cy="206.17" r="1.05" fill="none" stroke="#8a8a8a" stroke-width="0.5"/>
<circle cx="583.77" cy="205.21" r="1.05" fill="none" stroke="#8a8a8a" stroke-width="0.5"/>
<circle cx="580.82" cy="206.33" r="1.05" fill="none" stroke="#8a8a8a" stroke-width="0.5"/>
<circle cx="582.75" cy="211.22" r="1.05" fill="none" stroke="#8a8a8a" stroke-width="0.5"/>
<circle cx="585.41" cy="211.62" r="1.05" fill="none" stroke="#8a8a8a" stroke-width="0.5"/>
<circle cx="581.02" cy="209.65" r="1.05" fill="none" stroke="#8a8a8a" stroke-width="0.5"/>
<circle cx="581.59" cy="206.03" r="1.05" fill="none" stroke="#8a8a8a" stroke-width="0.5"/>
<circle cx="583.19" cy="210.16" r="1.05" fill="none" stroke="#8a8a8a" stroke-width="0.5"/>
<circle cx="579.32" cy="207.09" r="1.05" fill="none" stroke="#8a8a8a" stroke-width="0.5"/>
<circle cx="582.19" cy="207.46" r="1.05" fill="none" stroke="#8a8a8a" stroke-width="0.5"/>
<circle cx="599.13" cy="206.48" r="1.05" fill="none" stroke="#8a8a8a" stroke-width="0.5"/>
<circle cx="597.98" cy="212.43" r="1.05" fill="none" stroke="#8a8a8a" stroke-width="0.5"/>
<circle cx="597.42" cy="209.54" r="1.05" fill="none" stroke="#8a8a8a" stroke-width="0.5"/>
<circle cx="600.02" cy="210.81" r="1.05" fill="none" stroke="#8a8a8a" stroke-width="0.5"/>
<circle cx="602.99" cy="209.89" r="1.05" fill="none" stroke="#8a8a8a" stroke-width="0.5"/>
<circle cx="597.42" cy="210.57" r="1.05" fill="none" stroke="#8a8a8a" stroke-width="0.5"/>
<circle cx="599.83" cy="208.47" r="1.05" fill="none" stroke="#8a8a8a" stroke-width="0.5"/>
<circle cx="596.44" cy="210.50" r="1.05" fill="none" stroke="#8a8a8a" stroke-width="0.5"/>
<circle cx="598.31" cy="211.26" r="1.05" fill="none" stroke="#8a8a8a" stroke-width="0.5"/>
<circle cx="595.80" cy="211.02" r="1.05" fill="none" stroke="#8a8a8a" stroke-width="0.5"/>
<circle cx="594.75" cy="208.06" r="1.05" fill="none" stroke="#8a8a8a" stroke-width="0.5"/>
<circle cx="596.36" cy="208.71" r="1.05" fill="none" stroke="#8a8a8a" stroke-width="0.5"/>
<circle cx="596.29" cy="208.25" r="1.05" fill="none" stroke="#8a8a8a" stroke-width="0.5"/>
<circle cx="599.46" cy="211.54" r="1.05" fill="none" stroke="#8a8a8a" stroke-width="0.5"/>
<circle cx="598.63" cy="208.27" r="1.05" fill="none" stroke="#8a8a8a" stroke-width="0.5"/>
<circle cx="601.50" cy="207.20" r="1.05" fill="none" stroke="#8a8a8a" stroke-width="0.5"/>
<circle cx="599.03" cy="211.89" r="1.05" fill="none" stroke="#8a8a8a" stroke-width="0.5"/>
<circle cx="601.39" cy="207.00" r="1.05" fill="none" stroke="#8a8a8a" stroke-width="0.5"/>
<circle cx="595.61" cy="207.41" r="1.05" fill="none" stroke="#8a8a8a" stroke-width="0.5"/>
<circle cx="597.51" cy="208.72" r="1.05" fill="none" stroke="#8a8a8a" stroke-width="0.5"/>
<circle cx="596.53" cy="211.53" r="1.05" fill="none" stroke="#8a8a8a" stroke-width="0.5"/>
<circle cx="611.32" cy="207.96" r="1.05" fill="none" stroke="#8a8a8a" stroke-width="0.5"/>
<circle cx="610.93" cy="209.95" r="1.05" fill="none" stroke="#8a8a8a" stroke-width="0.5"/>
<circle cx="611.18" cy="210.11" r="1.05" fill="none" stroke="#8a8a8a" stroke-width="0.5"/>
<circle cx="608.28" cy="209.63" r="1.05" fill="none" stroke="#8a8a8a" stroke-width="0.5"/>
<circle cx="609.95" cy="206.77" r="1.05" fill="none" stroke="#8a8a8a" stroke-width="0.5"/>
<circle cx="608.04" cy="211.46" r="1.05" fill="none" stroke="#8a8a8a" stroke-width="0.5"/>
<circle cx="610.64" cy="208.47" r="1.05" fill="none" stroke="#8a8a8a" stroke-width="0.5"/>
<circle cx="610.66" cy="209.87" r="1.05" fill="none" stroke="#8a8a8a" stroke-width="0.5"/>
<circle cx="613.90" cy="211.99" r="1.05" fill="none" stroke="#8a8a8a" stroke-width="0.5"/>
<circle cx="608.47" cy="209.98" r="1.05" fill="none" stroke="#8a8a8a" stroke-width="0.5"/>
<circle cx="613.32" cy="212.13" r="1.05" fill="none" stroke="#8a8a8a" stroke-width="0.5"/>
<circle cx="614.25" cy="209.25" r="1.05" fill="none" stroke="#8a8a8a" stroke-width="0.5"/>
<circle cx="613.81" cy="212.19" r="1.05" fill="none" stroke="#8a8a8a" stroke-width="0.5"/>
<circle cx="609.33" cy="207.60" r="1.05" fill="none" stroke="#8a8a8a" stroke-width="0.5"/>
<circle cx="609.79" cy="211.62" r="1.05" fill="none" stroke="#8a8a8a" stroke-width="0.5"/>
<circle cx="607.90" cy="207.92" r="1.05" fill="none" stroke="#8a8a8a" stroke-width="0.5"/>
<circle cx="609.43" cy="211.34" r="1.05" fill="none" stroke="#8a8a8a" stroke-width="0.5"/>
<circle cx="612.01" cy="207.19" r="1.05" fill="none" stroke="#8a8a8a" stroke-width="0.5"/>
<circle cx="612.78" cy="206.59" r="1.05" fill="none" stroke="#8a8a8a" stroke-width="0.5"/>
<circle cx="613.73" cy="206.57" r="1.05" fill="none" stroke="#8a8a8a" stroke-width="0.5"/>
<circle cx="609.23" cy="206.92" r="1.05" fill="none" stroke="#8a8a8a" stroke-width="0.5"/>
<circle cx="570.60" cy="165.40" r="1.05" fill="none" stroke="#8a8a8a" stroke-width="0.5"/>
<circle cx="570.60" cy="169.50" r="1.05" fill="none" stroke="#8a8a8a" stroke-width="0.5"/>
<circle cx="583.10" cy="215.00" r="1.05" fill="none" stroke="#8a8a8a" stroke-width="0.5"/>
<circle cx="611.30" cy="170.00" r="1.05" fill="none" stroke="#8a8a8a" stroke-width="0.5"/>
<circle cx="611.30" cy="184.00" r="1.05" fill="none" stroke="#8a8a8a" stroke-width="0.5"/>
<circle cx="611.30" cy="215.00" r="1.05" fill="none" stroke="#8a8a8a" stroke-width="0.5"/>
<line x1="570.65" y1="187.70" x2="570.65" y2="194.70" stroke="#222" stroke-width="0.9"/>
<line x1="570.65" y1="201.30" x2="570.65" y2="205.90" stroke="#222" stroke-width="0.9"/>
<rect x="565.20" y="194.70" width="10.90" height="6.60" fill="#808080" stroke="#1a1a1a" stroke-width="1.0"/>
<line x1="565.20" y1="198.00" x2="576.10" y2="198.00" stroke="#111" stroke-width="1.0"/>
<path d="M569.10,197.50 L570.60,196.00 L572.10,197.50 L570.60,199.00Z" fill="#2a7fc0"/>
<line x1="583.10" y1="187.70" x2="583.10" y2="193.90" stroke="#222" stroke-width="0.9"/>
<line x1="583.10" y1="200.50" x2="583.10" y2="205.50" stroke="#222" stroke-width="0.9"/>
<rect x="577.80" y="193.90" width="10.60" height="6.60" fill="#ff2a00" stroke="#1a1a1a" stroke-width="1.0"/>
<line x1="577.80" y1="196.90" x2="588.40" y2="196.90" stroke="#3a0800" stroke-width="1.0"/>
<path d="M581.60,197.00 L583.10,195.50 L584.60,197.00 L583.10,198.50Z" fill="#2a7fc0"/>
<line x1="598.65" y1="188.00" x2="598.65" y2="195.20" stroke="#222" stroke-width="0.9"/>
<line x1="598.65" y1="202.20" x2="598.65" y2="206.50" stroke="#222" stroke-width="0.9"/>
<rect x="593.00" y="195.20" width="11.30" height="7.00" fill="#808080" stroke="#1a1a1a" stroke-width="1.0"/>
<line x1="593.00" y1="198.50" x2="604.30" y2="198.50" stroke="#111" stroke-width="1.0"/>
<path d="M597.10,198.00 L598.60,196.50 L600.10,198.00 L598.60,199.50Z" fill="#2a7fc0"/>
<line x1="611.30" y1="188.50" x2="611.30" y2="196.00" stroke="#222" stroke-width="0.9"/>
<line x1="611.30" y1="202.70" x2="611.30" y2="206.50" stroke="#222" stroke-width="0.9"/>
<rect x="606.00" y="196.00" width="10.60" height="6.70" fill="#ff2a00" stroke="#1a1a1a" stroke-width="1.0"/>
<line x1="606.00" y1="200.50" x2="616.60" y2="200.50" stroke="#3a0800" stroke-width="1.0"/>
<path d="M609.80,199.00 L611.30,197.50 L612.80,199.00 L611.30,200.50Z" fill="#2a7fc0"/>
<polyline points="570.20,149.10 570.20,145.80 583.10,145.80 583.10,149.10" stroke="#333" stroke-width="0.6" fill="none" stroke-linejoin="round"/>
<text x="576.65" y="143.30" font-size="6.5" text-anchor="middle" fill="#000" stroke="#000" stroke-width="0.07">ns</text>
<polyline points="598.50,149.10 598.50,145.80 611.60,145.80 611.60,149.10" stroke="#333" stroke-width="0.6" fill="none" stroke-linejoin="round"/>
<text x="605.05" y="143.30" font-size="6.5" text-anchor="middle" fill="#000" stroke="#000" stroke-width="0.07">ns</text>
<text x="543.50" y="185.00" font-size="7.0" text-anchor="middle" fill="#000" stroke="#000" stroke-width="0.07" transform="rotate(-90 543.50 185.00)">Trough voltage (mV)</text>
<text x="572.45" y="231.70" font-size="7.25" text-anchor="end" fill="#000" stroke="#000" stroke-width="0.07" transform="rotate(-45 572.45 231.70)">Neurotypical</text>
<text x="584.90" y="231.70" font-size="7.25" text-anchor="end" fill="#000" stroke="#000" stroke-width="0.07" transform="rotate(-45 584.90 231.70)">MPSIIIA</text>
<text x="600.45" y="231.70" font-size="7.25" text-anchor="end" fill="#000" stroke="#000" stroke-width="0.07" transform="rotate(-45 600.45 231.70)">Neurotypical</text>
<text x="613.10" y="231.70" font-size="7.25" text-anchor="end" fill="#000" stroke="#000" stroke-width="0.07" transform="rotate(-45 613.10 231.70)">MPSIIIA</text>
<text x="571.80" y="264.80" font-size="5.8" text-anchor="middle" fill="#999999" stroke="#999999" stroke-width="0.07" font-style="italic">30-60 days</text>
<text x="604.50" y="264.80" font-size="5.8" text-anchor="middle" fill="#999999" stroke="#999999" stroke-width="0.07" font-style="italic">90-120 days</text>
<text x="629.20" y="197.90" font-size="8.2" text-anchor="middle" fill="#000" stroke="#000" stroke-width="0.07" font-style="italic" transform="rotate(-90 629.20 197.90)">n = neurons</text>
<text x="15.90" y="288.60" font-size="10.5" text-anchor="start" fill="#000" stroke="#000" stroke-width="0.45" font-weight="bold">F</text>
<text x="92.20" y="293.30" font-size="7.6" text-anchor="middle" fill="#000" stroke="#000" stroke-width="0.07">Neurotypical</text>
<text x="238.50" y="293.20" font-size="7.5" text-anchor="middle" fill="#a81a16" stroke="#a81a16" stroke-width="0.07">MPSIIIA</text>
<polyline points="28.00,313.30 38.50,313.30 38.50,313.30 38.70,313.30 38.90,313.30 39.10,313.30 39.30,313.30 39.50,313.30 39.70,313.30 39.90,313.30 40.10,313.30 40.30,313.30 40.50,313.30 40.70,313.30 40.90,313.30 41.10,313.30 41.30,313.30 41.50,313.30 41.70,313.30 41.90,313.30 42.10,313.30 42.30,313.30 42.50,313.30 42.70,313.30 42.90,313.30 43.10,313.30 43.30,313.30 43.50,313.30 43.70,313.30 43.90,313.30 44.10,313.30 44.30,313.30 44.50,313.30 44.70,313.30 44.90,313.30 45.10,313.30 45.30,313.30 45.50,313.30 45.70,313.30 45.90,313.30 46.10,313.30 46.30,313.30 46.50,313.30 46.70,313.30 46.90,313.30 47.10,313.30 47.30,313.30 47.50,313.30 47.70,313.30 47.90,313.30 48.10,313.30 48.30,313.30 48.50,313.30 48.70,313.30 48.90,313.30 49.10,313.30 49.30,313.30 49.50,313.30 49.70,313.30 49.90,313.30 50.10,313.30 50.30,313.30 50.50,313.30 50.70,313.30 50.90,313.30 51.10,313.30 51.30,313.30 51.50,313.30 51.70,313.30 51.90,313.30 52.10,313.30 52.30,313.30 52.50,313.30 52.70,313.30 52.90,313.30 53.10,313.30 53.30,313.30 53.50,313.31 53.70,313.33 53.90,313.36 54.10,313.43 54.30,313.56 54.50,313.82 54.70,314.29 54.90,315.09 55.10,316.38 55.30,318.36 55.50,321.24 55.70,325.17 55.90,330.23 56.10,336.33 56.30,343.18 56.50,350.28 56.70,356.94 56.90,362.42 57.10,366.04 57.30,367.30 57.50,365.01 57.70,362.77 57.90,360.56 58.10,358.38 58.30,356.25 58.50,354.15 58.70,352.10 58.90,350.08 59.10,348.11 59.30,346.18 59.50,344.28 59.70,342.43 59.90,340.63 60.10,338.87 60.30,337.15 60.50,335.47 60.70,333.85 60.90,332.27 61.10,330.73 61.30,329.25 61.50,327.79 61.70,326.35 61.90,324.96 62.10,323.64 62.30,322.37 62.50,321.17 62.70,320.03 62.90,318.95 63.10,317.95 63.30,317.01 63.50,316.14 63.70,315.36 63.90,314.65 64.10,314.03 64.30,313.51 64.50,313.10 64.70,312.83 64.90,312.77 65.10,312.76 65.30,312.75 65.50,312.75 65.70,312.74 65.90,312.74 66.10,312.73 66.30,312.73 66.50,312.72 66.70,312.72 66.90,312.72 67.10,312.72 67.30,312.72 67.50,312.71 67.70,312.71 67.90,312.71 68.10,312.71 68.30,312.71 68.50,312.71 68.70,312.71 68.90,312.71 69.10,312.71 69.30,312.71 69.50,312.71 69.70,312.71 69.90,312.72 70.10,312.72 70.30,312.72 70.50,312.72 70.70,312.72 70.90,312.72 72.40,312.73 73.90,312.74 75.40,312.75 76.90,312.76 78.40,312.77 79.90,312.78 81.40,312.78 82.90,312.79 84.40,312.80 85.90,312.80 87.40,312.81 88.90,312.81 90.40,312.82 91.90,312.82 93.40,312.83 94.90,312.83 96.40,312.83 97.90,312.84 99.40,312.84 100.90,312.84 102.40,312.85 103.90,312.85 105.40,312.85 106.90,312.85 108.40,312.86 109.90,312.86 111.40,312.86 112.90,312.86 114.40,312.86 115.90,312.86 117.40,312.86 118.90,312.87 120.40,312.87 121.90,312.87 123.40,312.87 124.90,312.87 126.40,312.87 127.90,312.87 129.40,312.87 130.90,312.87 132.40,312.87 133.90,312.87 135.40,312.87 136.90,312.88 138.40,312.88 139.90,312.88 141.40,312.88 142.90,312.88 144.40,312.88 145.90,312.88 147.40,312.88 148.90,312.88" stroke="#000" stroke-width="0.4" fill="none" stroke-linejoin="round"/>
<polyline points="28.00,313.30 38.50,313.30 38.50,313.30 38.70,313.30 38.90,313.30 39.10,313.30 39.30,313.30 39.50,313.30 39.70,313.30 39.90,313.30 40.10,313.30 40.30,313.30 40.50,313.30 40.70,313.30 40.90,313.30 41.10,313.30 41.30,313.30 41.50,313.30 41.70,313.30 41.90,313.30 42.10,313.30 42.30,313.30 42.50,313.30 42.70,313.30 42.90,313.30 43.10,313.30 43.30,313.30 43.50,313.30 43.70,313.31 43.90,313.32 44.10,313.34 44.30,313.39 44.50,313.51 44.70,313.74 44.90,314.19 45.10,314.98 45.30,316.31 45.50,318.40 45.70,321.48 45.90,325.71 46.10,331.11 46.30,337.47 46.50,344.33 46.70,350.99 46.90,356.61 47.10,360.37 47.30,361.70 47.50,359.51 47.70,357.35 47.90,355.23 48.10,353.16 48.30,351.12 48.50,349.12 48.70,347.17 48.90,345.25 49.10,343.38 49.30,341.55 49.50,339.77 49.70,338.02 49.90,336.33 50.10,334.67 50.30,333.07 50.50,331.51 50.70,330.00 50.90,328.54 51.10,327.13 51.30,325.65 51.50,324.20 51.70,322.82 51.90,321.50 52.10,320.26 52.30,319.09 52.50,317.99 52.70,316.96 52.90,316.02 53.10,315.15 53.30,314.37 53.50,313.67 53.70,313.08 53.90,312.58 54.10,312.22 54.30,312.02 54.50,312.00 54.70,311.97 54.90,311.95 55.10,311.94 55.30,311.92 55.50,311.91 55.70,311.90 55.90,311.89 56.10,311.88 56.30,311.87 56.50,311.87 56.70,311.86 56.90,311.86 57.10,311.86 57.30,311.86 57.50,311.85 57.70,311.85 57.90,311.85 58.10,311.85 58.30,311.86 58.50,311.86 58.70,311.86 58.90,311.86 59.10,311.86 59.30,311.87 59.50,311.87 59.70,311.87 59.90,311.87 60.10,311.88 60.30,311.88 61.80,311.91 63.30,311.94 64.80,311.97 66.30,312.00 67.80,312.02 69.30,312.05 70.80,312.07 72.30,312.09 73.80,312.11 75.30,312.13 76.80,312.15 78.30,312.17 79.80,312.18 81.30,312.19 82.80,312.21 84.30,312.22 85.80,312.23 87.30,312.24 88.80,312.25 90.30,312.26 91.80,312.27 93.30,312.27 94.80,312.28 96.30,312.29 97.80,312.29 99.30,312.30 100.80,312.30 102.30,312.31 103.80,312.31 105.30,312.32 106.80,312.32 108.30,312.32 109.80,312.33 111.30,312.33 112.80,312.33 114.30,312.34 115.80,312.34 117.30,312.34 118.80,312.34 120.30,312.35 121.80,312.35 123.30,312.35 124.80,312.35 126.30,312.35 127.80,312.35 129.30,312.35 130.80,312.36 132.30,312.36 133.80,312.36 135.30,312.36 136.80,312.36 138.30,312.36 139.80,312.36 141.30,312.36 142.80,312.36 144.30,312.36 145.80,312.36 147.30,312.36 148.80,312.36" stroke="#000" stroke-width="0.4" fill="none" stroke-linejoin="round"/>
<polyline points="28.00,313.30 38.50,313.30 38.50,313.30 38.70,313.30 38.90,313.30 39.10,313.30 39.30,313.30 39.50,313.30 39.70,313.30 39.90,313.30 40.10,313.30 40.30,313.30 40.50,313.30 40.70,313.30 40.90,313.30 41.10,313.30 41.30,313.30 41.50,313.30 41.70,313.30 41.90,313.31 42.10,313.32 42.30,313.36 42.50,313.49 42.70,313.81 42.90,314.55 43.10,316.05 43.30,318.79 43.50,323.22 43.70,329.56 43.90,337.44 44.10,345.76 44.30,352.85 44.50,356.96 44.70,356.76 44.90,355.29 45.10,353.84 45.30,352.41 45.50,350.99 45.70,349.60 45.90,348.23 46.10,346.87 46.30,345.54 46.50,344.23 46.70,342.94 46.90,341.67 47.10,340.42 47.30,339.19 47.50,337.98 47.70,336.79 47.90,335.63 48.10,334.49 48.30,333.37 48.50,332.27 48.70,331.20 48.90,330.15 49.10,329.13 49.30,328.13 49.50,327.15 49.70,326.20 49.90,325.18 50.10,324.05 50.30,322.97 50.50,321.93 50.70,320.94 50.90,319.99 51.10,319.09 51.30,318.23 51.50,317.42 51.70,316.65 51.90,315.92 52.10,315.23 52.30,314.60 52.50,314.00 52.70,313.46 52.90,312.96 53.10,312.51 53.30,312.11 53.50,311.76 53.70,311.48 53.90,311.27 54.10,311.15 54.30,311.14 54.50,311.12 54.70,311.11 54.90,311.09 55.10,311.08 55.30,311.08 55.50,311.07 55.70,311.07 55.90,311.06 56.10,311.06 56.30,311.06 56.50,311.06 56.70,311.06 56.90,311.06 57.10,311.06 57.30,311.06 57.50,311.06 57.70,311.07 57.90,311.07 58.10,311.08 58.30,311.08 58.50,311.08 58.70,311.09 58.90,311.09 59.10,311.10 59.30,311.10 59.50,311.11 59.70,311.12 59.90,311.12 60.10,311.13 61.60,311.17 63.10,311.21 64.60,311.26 66.10,311.30 67.60,311.33 69.10,311.37 70.60,311.40 72.10,311.43 73.60,311.46 75.10,311.49 76.60,311.51 78.10,311.53 79.60,311.55 81.10,311.57 82.60,311.59 84.10,311.61 85.60,311.62 87.10,311.64 88.60,311.65 90.10,311.66 91.60,311.67 93.10,311.68 94.60,311.69 96.10,311.70 97.60,311.71 99.10,311.72 100.60,311.73 102.10,311.73 103.60,311.74 105.10,311.74 106.60,311.75 108.10,311.75 109.60,311.76 111.10,311.76 112.60,311.77 114.10,311.77 115.60,311.77 117.10,311.78 118.60,311.78 120.10,311.78 121.60,311.79 123.10,311.79 124.60,311.79 126.10,311.79 127.60,311.79 129.10,311.80 130.60,311.80 132.10,311.80 133.60,311.80 135.10,311.80 136.60,311.80 138.10,311.80 139.60,311.81 141.10,311.81 142.60,311.81 144.10,311.81 145.60,311.81 147.10,311.81 148.60,311.81" stroke="#000" stroke-width="0.4" fill="none" stroke-linejoin="round"/>
<polyline points="28.00,313.30 38.50,313.30 38.50,313.30 38.70,313.30 38.90,313.30 39.10,313.30 39.30,313.30 39.50,313.30 39.70,313.30 39.90,313.30 40.10,313.30 40.30,313.30 40.50,313.30 40.70,313.30 40.90,313.30 41.10,313.30 41.30,313.30 41.50,313.30 41.70,313.32 41.90,313.35 42.10,313.46 42.30,313.73 42.50,314.36 42.70,315.68 42.90,318.15 43.10,322.24 43.30,328.25 43.50,335.93 43.70,344.35 43.90,351.88 44.10,356.74 44.30,357.33 44.50,355.77 44.70,354.24 44.90,352.72 45.10,351.23 45.30,349.76 45.50,348.31 45.70,346.88 45.90,345.48 46.10,344.10 46.30,342.74 46.50,341.40 46.70,340.09 46.90,338.80 47.10,337.53 47.30,336.29 47.50,335.08 47.70,333.89 47.90,332.72 48.10,331.58 48.30,330.47 48.50,329.38 48.70,328.32 48.90,327.29 49.10,326.28 49.30,325.17 49.50,323.91 49.70,322.71 49.90,321.57 50.10,320.48 50.30,319.45 50.50,318.47 50.70,317.54 50.90,316.66 51.10,315.83 51.30,315.05 51.50,314.33 51.70,313.65 51.90,313.02 52.10,312.45 52.30,311.95 52.50,311.50 52.70,311.11 52.90,310.79 53.10,310.55 53.30,310.43 53.50,310.40 53.70,310.37 53.90,310.35 54.10,310.33 54.30,310.31 54.50,310.30 54.70,310.29 54.90,310.28 55.10,310.27 55.30,310.27 55.50,310.26 55.70,310.26 55.90,310.26 56.10,310.26 56.30,310.26 56.50,310.26 56.70,310.27 56.90,310.27 57.10,310.27 57.30,310.28 57.50,310.28 57.70,310.29 57.90,310.29 58.10,310.30 58.30,310.30 58.50,310.31 58.70,310.32 58.90,310.32 59.10,310.33 59.30,310.34 60.80,310.39 62.30,310.45 63.80,310.51 65.30,310.56 66.80,310.61 68.30,310.65 69.80,310.69 71.30,310.73 72.80,310.77 74.30,310.80 75.80,310.84 77.30,310.86 78.80,310.89 80.30,310.92 81.80,310.94 83.30,310.96 84.80,310.98 86.30,311.00 87.80,311.02 89.30,311.03 90.80,311.05 92.30,311.06 93.80,311.07 95.30,311.09 96.80,311.10 98.30,311.11 99.80,311.12 101.30,311.12 102.80,311.13 104.30,311.14 105.80,311.15 107.30,311.15 108.80,311.16 110.30,311.17 111.80,311.17 113.30,311.18 114.80,311.18 116.30,311.18 117.80,311.19 119.30,311.19 120.80,311.19 122.30,311.20 123.80,311.20 125.30,311.20 126.80,311.21 128.30,311.21 129.80,311.21 131.30,311.21 132.80,311.21 134.30,311.22 135.80,311.22 137.30,311.22 138.80,311.22 140.30,311.22 141.80,311.22 143.30,311.22 144.80,311.22 146.30,311.23 147.80,311.23 149.30,311.23" stroke="#000" stroke-width="0.4" fill="none" stroke-linejoin="round"/>
<polyline points="28.00,313.30 38.50,313.30 38.50,313.30 38.70,313.30 38.90,313.30 39.10,313.30 39.30,313.30 39.50,313.30 39.70,313.30 39.90,313.30 40.10,313.30 40.30,313.30 40.50,313.30 40.70,313.30 40.90,313.30 41.10,313.30 41.30,313.31 41.50,313.34 41.70,313.42 41.90,313.64 42.10,314.15 42.30,315.24 42.50,317.34 42.70,320.90 42.90,326.25 43.10,333.31 43.30,341.29 43.50,348.78 43.70,354.04 43.90,355.54 44.10,353.98 44.30,352.44 44.50,350.92 44.70,349.42 44.90,347.94 45.10,346.49 45.30,345.07 45.50,343.66 45.70,342.28 45.90,340.93 46.10,339.60 46.30,338.29 46.50,337.01 46.70,335.75 46.90,334.52 47.10,333.32 47.30,332.14 47.50,330.99 47.70,329.87 47.90,328.77 48.10,327.71 48.30,326.67 48.50,325.66 48.70,324.49 48.90,323.16 49.10,321.90 49.30,320.70 49.50,319.56 49.70,318.48 49.90,317.47 50.10,316.51 50.30,315.60 50.50,314.76 50.70,313.97 50.90,313.23 51.10,312.56 51.30,311.94 51.50,311.38 51.70,310.88 51.90,310.45 52.10,310.10 52.30,309.84 52.50,309.71 52.70,309.66 52.90,309.63 53.10,309.59 53.30,309.56 53.50,309.54 53.70,309.52 53.90,309.50 54.10,309.49 54.30,309.48 54.50,309.47 54.70,309.46 54.90,309.45 55.10,309.45 55.30,309.45 55.50,309.45 55.70,309.45 55.90,309.45 56.10,309.45 56.30,309.46 56.50,309.46 56.70,309.47 56.90,309.47 57.10,309.48 57.30,309.48 57.50,309.49 57.70,309.50 57.90,309.51 58.10,309.51 58.30,309.52 58.50,309.53 60.00,309.60 61.50,309.67 63.00,309.73 64.50,309.80 66.00,309.86 67.50,309.91 69.00,309.97 70.50,310.01 72.00,310.06 73.50,310.10 75.00,310.14 76.50,310.17 78.00,310.21 79.50,310.24 81.00,310.27 82.50,310.29 84.00,310.32 85.50,310.34 87.00,310.36 88.50,310.38 90.00,310.40 91.50,310.42 93.00,310.43 94.50,310.45 96.00,310.46 97.50,310.47 99.00,310.48 100.50,310.50 102.00,310.51 103.50,310.51 105.00,310.52 106.50,310.53 108.00,310.54 109.50,310.55 111.00,310.55 112.50,310.56 114.00,310.56 115.50,310.57 117.00,310.57 118.50,310.58 120.00,310.58 121.50,310.59 123.00,310.59 124.50,310.59 126.00,310.60 127.50,310.60 129.00,310.60 130.50,310.60 132.00,310.61 133.50,310.61 135.00,310.61 136.50,310.61 138.00,310.61 139.50,310.61 141.00,310.62 142.50,310.62 144.00,310.62 145.50,310.62 147.00,310.62 148.50,310.62" stroke="#000" stroke-width="0.4" fill="none" stroke-linejoin="round"/>
<polyline points="28.00,313.30 38.50,313.30 38.50,313.30 38.70,313.30 38.90,313.30 39.10,313.30 39.30,313.30 39.50,313.30 39.70,313.30 39.90,313.30 40.10,313.30 40.30,313.30 40.50,313.30 40.70,313.30 40.90,313.31 41.10,313.33 41.30,313.39 41.50,313.57 41.70,314.00 41.90,314.93 42.10,316.74 42.30,319.91 42.50,324.79 42.70,331.39 42.90,339.12 43.10,346.68 43.30,352.39 43.50,354.78 43.70,353.34 43.90,351.75 44.10,350.18 44.30,348.63 44.50,347.11 44.70,345.61 44.90,344.14 45.10,342.70 45.30,341.28 45.50,339.89 45.70,338.52 45.90,337.18 46.10,335.87 46.30,334.59 46.50,333.33 46.70,332.11 46.90,330.91 47.10,329.75 47.30,328.61 47.50,327.50 47.70,326.43 47.90,325.39 48.10,324.14 48.30,322.70 48.50,321.34 48.70,320.06 48.90,318.85 49.10,317.70 49.30,316.63 49.50,315.62 49.70,314.67 49.90,313.79 50.10,312.98 50.30,312.23 50.50,311.54 50.70,310.92 50.90,310.37 51.10,309.89 51.30,309.49 51.50,309.19 51.70,309.02 51.90,308.95 52.10,308.89 52.30,308.84 52.50,308.80 52.70,308.76 52.90,308.73 53.10,308.71 53.30,308.69 53.50,308.67 53.70,308.65 53.90,308.64 54.10,308.63 54.30,308.63 54.50,308.62 54.70,308.62 54.90,308.62 55.10,308.62 55.30,308.62 55.50,308.62 55.70,308.63 55.90,308.63 56.10,308.64 56.30,308.64 56.50,308.65 56.70,308.66 56.90,308.67 57.10,308.68 57.30,308.68 57.50,308.69 57.70,308.70 59.20,308.78 60.70,308.86 62.20,308.94 63.70,309.02 65.20,309.09 66.70,309.15 68.20,309.22 69.70,309.27 71.20,309.33 72.70,309.38 74.20,309.42 75.70,309.47 77.20,309.50 78.70,309.54 80.20,309.58 81.70,309.61 83.20,309.64 84.70,309.66 86.20,309.69 87.70,309.71 89.20,309.73 90.70,309.75 92.20,309.77 93.70,309.79 95.20,309.81 96.70,309.82 98.20,309.83 99.70,309.85 101.20,309.86 102.70,309.87 104.20,309.88 105.70,309.89 107.20,309.90 108.70,309.91 110.20,309.91 111.70,309.92 113.20,309.93 114.70,309.93 116.20,309.94 117.70,309.95 119.20,309.95 120.70,309.95 122.20,309.96 123.70,309.96 125.20,309.97 126.70,309.97 128.20,309.97 129.70,309.98 131.20,309.98 132.70,309.98 134.20,309.98 135.70,309.98 137.20,309.99 138.70,309.99 140.20,309.99 141.70,309.99 143.20,309.99 144.70,309.99 146.20,310.00 147.70,310.00 149.20,310.00" stroke="#000" stroke-width="0.4" fill="none" stroke-linejoin="round"/>
<polyline points="28.00,313.30 38.50,313.30 38.50,313.30 38.70,313.30 38.90,313.30 39.10,313.30 39.30,313.30 39.50,313.30 39.70,313.30 39.90,313.30 40.10,313.30 40.30,313.30 40.50,313.31 40.70,313.32 40.90,313.38 41.10,313.52 41.30,313.88 41.50,314.69 41.70,316.31 41.90,319.19 42.10,323.74 42.30,330.07 42.50,337.71 42.70,345.49 42.90,351.75 43.10,354.91 43.30,353.89 43.50,352.19 43.70,350.51 43.90,348.86 44.10,347.24 44.30,345.65 44.50,344.08 44.70,342.55 44.90,341.05 45.10,339.57 45.30,338.13 45.50,336.71 45.70,335.33 45.90,333.98 46.10,332.66 46.30,331.38 46.50,330.13 46.70,328.91 46.90,327.72 47.10,326.58 47.30,325.46 47.50,324.09 47.70,322.52 47.90,321.03 48.10,319.64 48.30,318.32 48.50,317.09 48.70,315.93 48.90,314.85 49.10,313.84 49.30,312.91 49.50,312.05 49.70,311.27 49.90,310.56 50.10,309.94 50.30,309.39 50.50,308.94 50.70,308.60 50.90,308.40 51.10,308.31 51.30,308.22 51.50,308.14 51.70,308.07 51.90,308.00 52.10,307.95 52.30,307.91 52.50,307.88 52.70,307.86 52.90,307.84 53.10,307.82 53.30,307.81 53.50,307.79 53.70,307.79 53.90,307.78 54.10,307.78 54.30,307.77 54.50,307.77 54.70,307.78 54.90,307.78 55.10,307.78 55.30,307.79 55.50,307.79 55.70,307.80 55.90,307.81 56.10,307.82 56.30,307.83 56.50,307.84 56.70,307.85 56.90,307.86 58.40,307.95 59.90,308.04 61.40,308.13 62.90,308.22 64.40,308.30 65.90,308.38 67.40,308.45 68.90,308.52 70.40,308.58 71.90,308.64 73.40,308.69 74.90,308.74 76.40,308.78 77.90,308.83 79.40,308.87 80.90,308.90 82.40,308.94 83.90,308.97 85.40,309.00 86.90,309.03 88.40,309.05 89.90,309.07 91.40,309.10 92.90,309.12 94.40,309.13 95.90,309.15 97.40,309.17 98.90,309.18 100.40,309.20 101.90,309.21 103.40,309.22 104.90,309.23 106.40,309.24 107.90,309.25 109.40,309.26 110.90,309.27 112.40,309.28 113.90,309.28 115.40,309.29 116.90,309.30 118.40,309.30 119.90,309.31 121.40,309.31 122.90,309.32 124.40,309.32 125.90,309.32 127.40,309.33 128.90,309.33 130.40,309.33 131.90,309.34 133.40,309.34 134.90,309.34 136.40,309.34 137.90,309.35 139.40,309.35 140.90,309.35 142.40,309.35 143.90,309.35 145.40,309.36 146.90,309.36 148.40,309.36" stroke="#000" stroke-width="0.4" fill="none" stroke-linejoin="round"/>
<polyline points="28.00,313.30 38.50,313.30 38.50,313.30 38.70,313.30 38.90,313.30 39.10,313.30 39.30,313.30 39.50,313.30 39.70,313.30 39.90,313.30 40.10,313.30 40.30,313.32 40.50,313.36 40.70,313.47 40.90,313.76 41.10,314.42 41.30,315.77 41.50,318.23 41.70,322.21 41.90,327.90 42.10,334.98 42.30,342.46 42.50,348.83 42.70,352.51 42.90,352.13 43.10,350.40 43.30,348.71 43.50,347.05 43.70,345.41 43.90,343.81 44.10,342.24 44.30,340.70 44.50,339.19 44.70,337.71 44.90,336.27 45.10,334.86 45.30,333.48 45.50,332.14 45.70,330.83 45.90,329.56 46.10,328.32 46.30,327.13 46.50,325.97 46.70,324.84 46.90,323.39 47.10,321.74 47.30,320.19 47.50,318.73 47.70,317.37 47.90,316.09 48.10,314.90 48.30,313.79 48.50,312.77 48.70,311.83 48.90,310.97 49.10,310.20 49.30,309.51 49.50,308.92 49.70,308.42 49.90,308.04 50.10,307.82 50.30,307.70 50.50,307.59 50.70,307.49 50.90,307.40 51.10,307.31 51.30,307.24 51.50,307.17 51.70,307.11 51.90,307.06 52.10,307.02 52.30,306.99 52.50,306.97 52.70,306.95 52.90,306.94 53.10,306.93 53.30,306.92 53.50,306.92 53.70,306.92 53.90,306.92 54.10,306.92 54.30,306.92 54.50,306.93 54.70,306.93 54.90,306.94 55.10,306.95 55.30,306.96 55.50,306.96 55.70,306.98 55.90,306.99 56.10,307.00 57.60,307.09 59.10,307.20 60.60,307.30 62.10,307.40 63.60,307.50 65.10,307.58 66.60,307.67 68.10,307.74 69.60,307.81 71.10,307.88 72.60,307.94 74.10,308.00 75.60,308.05 77.10,308.10 78.60,308.14 80.10,308.18 81.60,308.22 83.10,308.26 84.60,308.29 86.10,308.32 87.60,308.35 89.10,308.38 90.60,308.40 92.10,308.43 93.60,308.45 95.10,308.47 96.60,308.49 98.10,308.50 99.60,308.52 101.10,308.53 102.60,308.55 104.10,308.56 105.60,308.57 107.10,308.58 108.60,308.59 110.10,308.60 111.60,308.61 113.10,308.62 114.60,308.63 116.10,308.63 117.60,308.64 119.10,308.65 120.60,308.65 122.10,308.66 123.60,308.66 125.10,308.67 126.60,308.67 128.10,308.67 129.60,308.68 131.10,308.68 132.60,308.68 134.10,308.69 135.60,308.69 137.10,308.69 138.60,308.69 140.10,308.70 141.60,308.70 143.10,308.70 144.60,308.70 146.10,308.70 147.60,308.70 149.10,308.71" stroke="#000" stroke-width="0.4" fill="none" stroke-linejoin="round"/>
<polyline points="28.00,313.30 38.50,313.30 38.50,313.30 38.70,313.30 38.90,313.30 39.10,313.30 39.30,313.30 39.50,313.30 39.70,313.30 39.90,313.31 40.10,313.34 40.30,313.44 40.50,313.67 40.70,314.22 40.90,315.38 41.10,317.53 41.30,321.10 41.50,326.33 41.70,333.03 41.90,340.37 42.10,346.94 42.30,351.17 42.50,351.55 42.70,349.75 42.90,347.99 43.10,346.25 43.30,344.55 43.50,342.89 43.70,341.25 43.90,339.66 44.10,338.09 44.30,336.57 44.50,335.08 44.70,333.63 44.90,332.21 45.10,330.84 45.30,329.50 45.50,328.21 45.70,326.95 45.90,325.74 46.10,324.57 46.30,323.00 46.50,321.24 46.70,319.58 46.90,318.04 47.10,316.59 47.30,315.25 47.50,314.00 47.70,312.85 47.90,311.79 48.10,310.83 48.30,309.96 48.50,309.19 48.70,308.52 48.90,307.96 49.10,307.53 49.30,307.28 49.50,307.13 49.70,306.99 49.90,306.87 50.10,306.76 50.30,306.66 50.50,306.56 50.70,306.48 50.90,306.40 51.10,306.34 51.30,306.27 51.50,306.22 51.70,306.17 51.90,306.12 52.10,306.09 52.30,306.08 52.50,306.06 52.70,306.06 52.90,306.05 53.10,306.05 53.30,306.05 53.50,306.05 53.70,306.05 53.90,306.06 54.10,306.06 54.30,306.07 54.50,306.08 54.70,306.09 54.90,306.10 55.10,306.11 55.30,306.12 56.80,306.23 58.30,306.34 59.80,306.46 61.30,306.57 62.80,306.68 64.30,306.78 65.80,306.87 67.30,306.95 68.80,307.03 70.30,307.11 71.80,307.18 73.30,307.24 74.80,307.30 76.30,307.35 77.80,307.41 79.30,307.45 80.80,307.50 82.30,307.54 83.80,307.57 85.30,307.61 86.80,307.64 88.30,307.67 89.80,307.70 91.30,307.73 92.80,307.75 94.30,307.77 95.80,307.79 97.30,307.81 98.80,307.83 100.30,307.85 101.80,307.86 103.30,307.88 104.80,307.89 106.30,307.90 107.80,307.91 109.30,307.92 110.80,307.93 112.30,307.94 113.80,307.95 115.30,307.96 116.80,307.97 118.30,307.97 119.80,307.98 121.30,307.98 122.80,307.99 124.30,307.99 125.80,308.00 127.30,308.00 128.80,308.01 130.30,308.01 131.80,308.01 133.30,308.02 134.80,308.02 136.30,308.02 137.80,308.03 139.30,308.03 140.80,308.03 142.30,308.03 143.80,308.03 145.30,308.04 146.80,308.04 148.30,308.04" stroke="#000" stroke-width="0.4" fill="none" stroke-linejoin="round"/>
<polyline points="28.00,313.30 38.50,313.30 38.50,313.30 38.70,313.30 38.90,313.30 39.10,313.30 39.30,313.30 39.50,313.31 39.70,313.34 39.90,313.41 40.10,313.61 40.30,314.08 40.50,315.09 40.70,317.02 40.90,320.31 41.10,325.25 41.30,331.75 41.50,339.11 41.70,346.02 41.90,350.87 42.10,352.20 42.30,350.26 42.50,348.35 42.70,346.47 42.90,344.64 43.10,342.85 43.30,341.09 43.50,339.38 43.70,337.71 43.90,336.08 44.10,334.49 44.30,332.95 44.50,331.45 44.70,329.99 44.90,328.58 45.10,327.22 45.30,325.91 45.50,324.64 45.70,322.91 45.90,320.99 46.10,319.20 46.30,317.53 46.50,315.98 46.70,314.54 46.90,313.21 47.10,311.99 47.30,310.88 47.50,309.87 47.70,308.99 47.90,308.22 48.10,307.57 48.30,307.08 48.50,306.80 48.70,306.61 48.90,306.44 49.10,306.29 49.30,306.15 49.50,306.03 49.70,305.91 49.90,305.81 50.10,305.72 50.30,305.63 50.50,305.56 50.70,305.49 50.90,305.43 51.10,305.37 51.30,305.32 51.50,305.28 51.70,305.23 51.90,305.20 52.10,305.17 52.30,305.17 52.50,305.16 52.70,305.16 52.90,305.16 53.10,305.17 53.30,305.17 53.50,305.18 53.70,305.19 53.90,305.20 54.10,305.21 54.30,305.22 54.50,305.23 56.00,305.34 57.50,305.47 59.00,305.60 60.50,305.72 62.00,305.84 63.50,305.95 65.00,306.06 66.50,306.15 68.00,306.24 69.50,306.32 71.00,306.40 72.50,306.47 74.00,306.54 75.50,306.60 77.00,306.65 78.50,306.71 80.00,306.76 81.50,306.80 83.00,306.84 84.50,306.88 86.00,306.92 87.50,306.95 89.00,306.98 90.50,307.01 92.00,307.04 93.50,307.06 95.00,307.09 96.50,307.11 98.00,307.13 99.50,307.15 101.00,307.16 102.50,307.18 104.00,307.19 105.50,307.21 107.00,307.22 108.50,307.23 110.00,307.24 111.50,307.25 113.00,307.26 114.50,307.27 116.00,307.28 117.50,307.29 119.00,307.29 120.50,307.30 122.00,307.31 123.50,307.31 125.00,307.32 126.50,307.32 128.00,307.33 129.50,307.33 131.00,307.33 132.50,307.34 134.00,307.34 135.50,307.34 137.00,307.35 138.50,307.35 140.00,307.35 141.50,307.35 143.00,307.36 144.50,307.36 146.00,307.36 147.50,307.36 149.00,307.36" stroke="#000" stroke-width="0.4" fill="none" stroke-linejoin="round"/>
<polyline points="28.00,313.30 38.50,313.30 38.50,313.30 38.70,313.30 38.90,313.30 39.10,313.31 39.30,313.33 39.50,313.38 39.70,313.54 39.90,313.92 40.10,314.75 40.30,316.37 40.50,319.19 40.70,323.54 40.90,329.43 41.10,336.32 41.30,343.06 41.50,348.15 41.70,350.28 41.90,348.51 42.10,346.56 42.30,344.65 42.50,342.79 42.70,340.97 42.90,339.19 43.10,337.46 43.30,335.77 43.50,334.13 43.70,332.54 43.90,330.99 44.10,329.49 44.30,328.05 44.50,326.65 44.70,325.31 44.90,324.02 45.10,322.18 45.30,320.17 45.50,318.31 45.70,316.58 45.90,314.97 46.10,313.49 46.30,312.14 46.50,310.90 46.70,309.79 46.90,308.81 47.10,307.95 47.30,307.24 47.50,306.69 47.70,306.36 47.90,306.14 48.10,305.93 48.30,305.75 48.50,305.58 48.70,305.43 48.90,305.29 49.10,305.17 49.30,305.06 49.50,304.96 49.70,304.86 49.90,304.78 50.10,304.71 50.30,304.64 50.50,304.58 50.70,304.52 50.90,304.47 51.10,304.43 51.30,304.38 51.50,304.35 51.70,304.31 51.90,304.28 52.10,304.27 52.30,304.27 52.50,304.27 52.70,304.28 52.90,304.29 53.10,304.29 53.30,304.30 53.50,304.32 53.70,304.33 55.20,304.45 56.70,304.58 58.20,304.73 59.70,304.86 61.20,304.99 62.70,305.11 64.20,305.23 65.70,305.33 67.20,305.43 68.70,305.52 70.20,305.61 71.70,305.69 73.20,305.76 74.70,305.83 76.20,305.89 77.70,305.95 79.20,306.00 80.70,306.05 82.20,306.10 83.70,306.14 85.20,306.18 86.70,306.22 88.20,306.26 89.70,306.29 91.20,306.32 92.70,306.34 94.20,306.37 95.70,306.39 97.20,306.42 98.70,306.44 100.20,306.46 101.70,306.47 103.20,306.49 104.70,306.50 106.20,306.52 107.70,306.53 109.20,306.54 110.70,306.55 112.20,306.56 113.70,306.57 115.20,306.58 116.70,306.59 118.20,306.60 119.70,306.61 121.20,306.61 122.70,306.62 124.20,306.63 125.70,306.63 127.20,306.64 128.70,306.64 130.20,306.64 131.70,306.65 133.20,306.65 134.70,306.65 136.20,306.66 137.70,306.66 139.20,306.66 140.70,306.67 142.20,306.67 143.70,306.67 145.20,306.67 146.70,306.67 148.20,306.68" stroke="#000" stroke-width="0.4" fill="none" stroke-linejoin="round"/>
<polyline points="28.00,313.30 38.50,313.30 38.50,313.30 38.70,313.31 38.90,313.32 39.10,313.37 39.30,313.49 39.50,313.80 39.70,314.50 39.90,315.90 40.10,318.38 40.30,322.32 40.50,327.79 40.70,334.38 40.90,341.10 41.10,346.51 41.30,349.24 41.50,347.93 41.70,345.86 41.90,343.85 42.10,341.88 42.30,339.97 42.50,338.10 42.70,336.28 42.90,334.52 43.10,332.81 43.30,331.16 43.50,329.56 43.70,328.01 43.90,326.53 44.10,325.10 44.30,323.74 44.50,321.74 44.70,319.61 44.90,317.63 45.10,315.80 45.30,314.11 45.50,312.57 45.70,311.17 45.90,309.90 46.10,308.78 46.30,307.81 46.50,306.99 46.70,306.36 46.90,305.99 47.10,305.72 47.30,305.48 47.50,305.26 47.70,305.06 47.90,304.87 48.10,304.71 48.30,304.56 48.50,304.43 48.70,304.30 48.90,304.19 49.10,304.09 49.30,304.00 49.50,303.92 49.70,303.85 49.90,303.78 50.10,303.72 50.30,303.67 50.50,303.62 50.70,303.57 50.90,303.53 51.10,303.49 51.30,303.46 51.50,303.43 51.70,303.40 51.90,303.38 52.10,303.37 52.30,303.38 52.50,303.39 52.70,303.40 52.90,303.41 54.40,303.53 55.90,303.68 57.40,303.84 58.90,303.99 60.40,304.13 61.90,304.26 63.40,304.39 64.90,304.50 66.40,304.61 67.90,304.71 69.40,304.81 70.90,304.89 72.40,304.97 73.90,305.05 75.40,305.12 76.90,305.18 78.40,305.24 79.90,305.30 81.40,305.35 82.90,305.39 84.40,305.44 85.90,305.48 87.40,305.52 88.90,305.55 90.40,305.58 91.90,305.61 93.40,305.64 94.90,305.67 96.40,305.69 97.90,305.72 99.40,305.74 100.90,305.76 102.40,305.77 103.90,305.79 105.40,305.81 106.90,305.82 108.40,305.83 109.90,305.85 111.40,305.86 112.90,305.87 114.40,305.88 115.90,305.89 117.40,305.89 118.90,305.90 120.40,305.91 121.90,305.92 123.40,305.92 124.90,305.93 126.40,305.93 127.90,305.94 129.40,305.94 130.90,305.95 132.40,305.95 133.90,305.96 135.40,305.96 136.90,305.96 138.40,305.97 139.90,305.97 141.40,305.97 142.90,305.97 144.40,305.98 145.90,305.98 147.40,305.98 148.90,305.98" stroke="#000" stroke-width="0.4" fill="none" stroke-linejoin="round"/>
<polyline points="28.00,313.30 38.50,313.30 38.50,313.32 38.70,313.35 38.90,313.46 39.10,313.72 39.30,314.33 39.50,315.56 39.70,317.82 39.90,321.47 40.10,326.69 40.30,333.18 40.50,340.03 40.70,345.87 40.90,349.25 41.10,348.54 41.30,346.27 41.50,344.05 41.70,341.90 41.90,339.80 42.10,337.76 42.30,335.78 42.50,333.87 42.70,332.02 42.90,330.24 43.10,328.53 43.30,326.88 43.50,325.31 43.70,323.81 43.90,321.59 44.10,319.27 44.30,317.13 44.50,315.16 44.70,313.36 44.90,311.72 45.10,310.24 45.30,308.93 45.50,307.80 45.70,306.85 45.90,306.12 46.10,305.70 46.30,305.37 46.50,305.08 46.70,304.82 46.90,304.58 47.10,304.36 47.30,304.16 47.50,303.99 47.70,303.83 47.90,303.68 48.10,303.55 48.30,303.43 48.50,303.32 48.70,303.23 48.90,303.14 49.10,303.06 49.30,302.99 49.50,302.92 49.70,302.86 49.90,302.81 50.10,302.76 50.30,302.72 50.50,302.68 50.70,302.64 50.90,302.61 51.10,302.58 51.30,302.55 51.50,302.53 51.70,302.51 51.90,302.49 52.10,302.48 53.60,302.61 55.10,302.77 56.60,302.93 58.10,303.10 59.60,303.25 61.10,303.40 62.60,303.53 64.10,303.66 65.60,303.78 67.10,303.89 68.60,303.99 70.10,304.09 71.60,304.17 73.10,304.26 74.60,304.33 76.10,304.40 77.60,304.47 79.10,304.53 80.60,304.58 82.10,304.63 83.60,304.68 85.10,304.73 86.60,304.77 88.10,304.81 89.60,304.84 91.10,304.88 92.60,304.91 94.10,304.93 95.60,304.96 97.10,304.99 98.60,305.01 100.10,305.03 101.60,305.05 103.10,305.07 104.60,305.08 106.10,305.10 107.60,305.11 109.10,305.13 110.60,305.14 112.10,305.15 113.60,305.16 115.10,305.17 116.60,305.18 118.10,305.19 119.60,305.20 121.10,305.21 122.60,305.21 124.10,305.22 125.60,305.22 127.10,305.23 128.60,305.23 130.10,305.24 131.60,305.24 133.10,305.25 134.60,305.25 136.10,305.26 137.60,305.26 139.10,305.26 140.60,305.26 142.10,305.27 143.60,305.27 145.10,305.27 146.60,305.27 148.10,305.28" stroke="#000" stroke-width="0.4" fill="none" stroke-linejoin="round"/>
<line x1="28.00" y1="313.30" x2="149.50" y2="313.30" stroke="#000" stroke-width="0.8"/>
<ellipse cx="39.60" cy="313.90" rx="1.2" ry="2.0" fill="#000"/>
<polyline points="174.30,312.30 184.60,312.30 184.60,312.30 184.80,312.30 185.00,312.30 185.20,312.30 185.40,312.30 185.60,312.30 185.80,312.30 186.00,312.30 186.20,312.30 186.40,312.30 186.60,312.30 186.80,312.30 187.00,312.30 187.20,312.30 187.40,312.30 187.60,312.30 187.80,312.30 188.00,312.30 188.20,312.30 188.40,312.30 188.60,312.30 188.80,312.30 189.00,312.30 189.20,312.30 189.40,312.30 189.60,312.30 189.80,312.30 190.00,312.30 190.20,312.30 190.40,312.30 190.60,312.30 190.80,312.30 191.00,312.30 191.20,312.30 191.40,312.30 191.60,312.30 191.80,312.30 192.00,312.30 192.20,312.30 192.40,312.30 192.60,312.30 192.80,312.30 193.00,312.30 193.20,312.30 193.40,312.30 193.60,312.30 193.80,312.30 194.00,312.30 194.20,312.30 194.40,312.30 194.60,312.30 194.80,312.30 195.00,312.30 195.20,312.30 195.40,312.30 195.60,312.30 195.80,312.30 196.00,312.30 196.20,312.30 196.40,312.30 196.60,312.30 196.80,312.30 197.00,312.30 197.20,312.30 197.40,312.30 197.60,312.30 197.80,312.30 198.00,312.30 198.20,312.30 198.40,312.30 198.60,312.30 198.80,312.30 199.00,312.30 199.20,312.30 199.40,312.30 199.60,312.30 199.80,312.30 200.00,312.30 200.20,312.30 200.40,312.30 200.60,312.30 200.80,312.30 201.00,312.30 201.20,312.30 201.40,312.30 201.60,312.30 201.80,312.30 202.00,312.30 202.20,312.30 202.40,312.30 202.60,312.30 202.80,312.30 203.00,312.30 203.20,312.30 203.40,312.30 203.60,312.30 203.80,312.30 204.00,312.30 204.20,312.30 204.40,312.30 204.60,312.30 204.80,312.30 205.00,312.31 205.20,312.32 205.40,312.35 205.60,312.39 205.80,312.48 206.00,312.63 206.20,312.89 206.40,313.33 206.60,314.02 206.80,315.09 207.00,316.64 207.20,318.84 207.40,321.80 207.60,325.62 207.80,330.31 208.00,335.82 208.20,341.93 208.40,348.33 208.60,354.59 208.80,360.19 209.00,364.64 209.20,367.51 209.40,368.50 209.60,367.17 209.80,365.86 210.00,364.56 210.20,363.27 210.40,361.99 210.60,360.72 210.80,359.47 211.00,358.23 211.20,357.00 211.40,355.78 211.60,354.58 211.80,353.39 212.00,352.21 212.20,351.05 212.40,349.89 212.60,348.75 212.80,347.63 213.00,346.52 213.20,345.42 213.40,344.33 213.60,343.26 213.80,342.20 214.00,341.16 214.20,340.12 214.40,339.11 214.60,338.11 214.80,337.12 215.00,336.15 215.20,335.19 215.40,334.24 215.60,333.31 215.80,332.40 216.00,331.50 216.20,330.62 216.40,329.75 216.60,328.90 216.80,328.07 217.00,327.20 217.20,326.35 217.40,325.52 217.60,324.71 217.80,323.92 218.00,323.16 218.20,322.41 218.40,321.69 218.60,320.99 218.80,320.31 219.00,319.65 219.20,319.01 219.40,318.39 219.60,317.79 219.80,317.22 220.00,316.67 220.20,316.14 220.40,315.64 220.60,315.16 220.80,314.70 221.00,314.27 221.20,313.87 221.40,313.50 221.60,313.15 221.80,312.84 222.00,312.55 222.20,312.31 222.40,312.10 222.60,311.94 222.80,311.83 223.00,311.81 223.20,311.80 223.40,311.80 223.60,311.80 223.80,311.80 224.00,311.80 224.20,311.80 224.40,311.80 224.60,311.80 224.80,311.80 225.00,311.80 225.20,311.80 225.40,311.80 225.60,311.80 225.80,311.80 226.00,311.80 226.20,311.81 226.40,311.81 226.60,311.81 226.80,311.81 227.00,311.81 227.20,311.81 227.40,311.81 227.60,311.81 227.80,311.81 228.00,311.81 228.20,311.81 228.40,311.81 228.60,311.81 228.80,311.81 229.00,311.82 230.50,311.82 232.00,311.83 233.50,311.83 235.00,311.84 236.50,311.84 238.00,311.85 239.50,311.85 241.00,311.86 242.50,311.86 244.00,311.86 245.50,311.87 247.00,311.87 248.50,311.87 250.00,311.87 251.50,311.88 253.00,311.88 254.50,311.88 256.00,311.88 257.50,311.88 259.00,311.89 260.50,311.89 262.00,311.89 263.50,311.89 265.00,311.89 266.50,311.89 268.00,311.89 269.50,311.90 271.00,311.90 272.50,311.90 274.00,311.90 275.50,311.90 277.00,311.90 278.50,311.90 280.00,311.90 281.50,311.90 283.00,311.90 284.50,311.90 286.00,311.90 287.50,311.90 289.00,311.90 290.50,311.90 292.00,311.90 293.50,311.90 295.00,311.90" stroke="#000" stroke-width="0.4" fill="none" stroke-linejoin="round"/>
<polyline points="174.30,312.30 184.60,312.30 184.60,312.30 184.80,312.30 185.00,312.30 185.20,312.30 185.40,312.30 185.60,312.30 185.80,312.30 186.00,312.30 186.20,312.30 186.40,312.30 186.60,312.30 186.80,312.30 187.00,312.30 187.20,312.30 187.40,312.30 187.60,312.30 187.80,312.30 188.00,312.30 188.20,312.30 188.40,312.30 188.60,312.30 188.80,312.30 189.00,312.30 189.20,312.30 189.40,312.30 189.60,312.30 189.80,312.30 190.00,312.30 190.20,312.30 190.40,312.30 190.60,312.30 190.80,312.30 191.00,312.30 191.20,312.30 191.40,312.30 191.60,312.30 191.80,312.30 192.00,312.30 192.20,312.30 192.40,312.31 192.60,312.32 192.80,312.35 193.00,312.42 193.20,312.54 193.40,312.78 193.60,313.22 193.80,313.96 194.00,315.16 194.20,317.00 194.40,319.67 194.60,323.31 194.80,328.01 195.00,333.67 195.20,340.02 195.40,346.61 195.60,352.79 195.80,357.87 196.00,361.23 196.20,362.40 196.40,360.63 196.60,358.89 196.80,357.16 197.00,355.47 197.20,353.79 197.40,352.15 197.60,350.53 197.80,348.93 198.00,347.36 198.20,345.81 198.40,344.29 198.60,342.80 198.80,341.34 199.00,339.90 199.20,338.49 199.40,337.10 199.60,335.75 199.80,334.42 200.00,333.13 200.20,331.86 200.40,330.62 200.60,329.42 200.80,328.24 201.00,327.10 201.20,325.95 201.40,324.73 201.60,323.56 201.80,322.43 202.00,321.36 202.20,320.33 202.40,319.34 202.60,318.40 202.80,317.51 203.00,316.67 203.20,315.87 203.40,315.13 203.60,314.43 203.80,313.79 204.00,313.20 204.20,312.66 204.40,312.19 204.60,311.78 204.80,311.45 205.00,311.20 205.20,311.07 205.40,311.06 205.60,311.05 205.80,311.04 206.00,311.03 206.20,311.03 206.40,311.02 206.60,311.01 206.80,311.01 207.00,311.01 207.20,311.01 207.40,311.00 207.60,311.00 207.80,311.00 208.00,311.00 208.20,311.00 208.40,311.00 208.60,311.00 208.80,311.01 209.00,311.01 209.20,311.01 209.40,311.01 209.60,311.01 209.80,311.02 210.00,311.02 210.20,311.02 210.40,311.02 210.60,311.03 210.80,311.03 211.00,311.03 211.20,311.04 211.40,311.04 212.90,311.06 214.40,311.09 215.90,311.11 217.40,311.14 218.90,311.16 220.40,311.18 221.90,311.19 223.40,311.21 224.90,311.23 226.40,311.24 227.90,311.25 229.40,311.27 230.90,311.28 232.40,311.29 233.90,311.30 235.40,311.31 236.90,311.32 238.40,311.33 239.90,311.33 241.40,311.34 242.90,311.35 244.40,311.35 245.90,311.36 247.40,311.36 248.90,311.37 250.40,311.37 251.90,311.38 253.40,311.38 254.90,311.38 256.40,311.39 257.90,311.39 259.40,311.39 260.90,311.40 262.40,311.40 263.90,311.40 265.40,311.40 266.90,311.40 268.40,311.41 269.90,311.41 271.40,311.41 272.90,311.41 274.40,311.41 275.90,311.41 277.40,311.41 278.90,311.42 280.40,311.42 281.90,311.42 283.40,311.42 284.90,311.42 286.40,311.42 287.90,311.42 289.40,311.42 290.90,311.42 292.40,311.42 293.90,311.42 295.40,311.42" stroke="#000" stroke-width="0.4" fill="none" stroke-linejoin="round"/>
<polyline points="174.30,312.30 184.60,312.30 184.60,312.30 184.80,312.30 185.00,312.30 185.20,312.30 185.40,312.30 185.60,312.30 185.80,312.30 186.00,312.30 186.20,312.30 186.40,312.30 186.60,312.30 186.80,312.30 187.00,312.30 187.20,312.30 187.40,312.30 187.60,312.30 187.80,312.30 188.00,312.30 188.20,312.30 188.40,312.30 188.60,312.30 188.80,312.30 189.00,312.30 189.20,312.30 189.40,312.31 189.60,312.32 189.80,312.34 190.00,312.41 190.20,312.56 190.40,312.88 190.60,313.50 190.80,314.62 191.00,316.50 191.20,319.43 191.40,323.63 191.60,329.15 191.80,335.75 192.00,342.85 192.20,349.55 192.40,354.82 192.60,357.72 192.80,357.24 193.00,355.54 193.20,353.87 193.40,352.22 193.60,350.59 193.80,348.99 194.00,347.42 194.20,345.87 194.40,344.35 194.60,342.85 194.80,341.39 195.00,339.95 195.20,338.53 195.40,337.15 195.60,335.79 195.80,334.46 196.00,333.16 196.20,331.90 196.40,330.66 196.60,329.45 196.80,328.27 197.00,327.12 197.20,326.01 197.40,324.90 197.60,323.64 197.80,322.43 198.00,321.28 198.20,320.17 198.40,319.12 198.60,318.13 198.80,317.18 199.00,316.28 199.20,315.44 199.40,314.65 199.60,313.92 199.80,313.23 200.00,312.61 200.20,312.05 200.40,311.54 200.60,311.11 200.80,310.75 201.00,310.48 201.20,310.34 201.40,310.32 201.60,310.30 201.80,310.28 202.00,310.26 202.20,310.25 202.40,310.24 202.60,310.23 202.80,310.22 203.00,310.21 203.20,310.21 203.40,310.20 203.60,310.20 203.80,310.20 204.00,310.20 204.20,310.20 204.40,310.20 204.60,310.20 204.80,310.20 205.00,310.21 205.20,310.21 205.40,310.21 205.60,310.22 205.80,310.22 206.00,310.22 206.20,310.23 206.40,310.23 206.60,310.24 206.80,310.24 207.00,310.25 207.20,310.25 207.40,310.26 208.90,310.30 210.40,310.34 211.90,310.38 213.40,310.42 214.90,310.45 216.40,310.49 217.90,310.52 219.40,310.54 220.90,310.57 222.40,310.60 223.90,310.62 225.40,310.64 226.90,310.66 228.40,310.68 229.90,310.69 231.40,310.71 232.90,310.72 234.40,310.74 235.90,310.75 237.40,310.76 238.90,310.77 240.40,310.78 241.90,310.79 243.40,310.80 244.90,310.81 246.40,310.82 247.90,310.82 249.40,310.83 250.90,310.84 252.40,310.84 253.90,310.85 255.40,310.85 256.90,310.85 258.40,310.86 259.90,310.86 261.40,310.87 262.90,310.87 264.40,310.87 265.90,310.88 267.40,310.88 268.90,310.88 270.40,310.88 271.90,310.88 273.40,310.89 274.90,310.89 276.40,310.89 277.90,310.89 279.40,310.89 280.90,310.89 282.40,310.90 283.90,310.90 285.40,310.90 286.90,310.90 288.40,310.90 289.90,310.90 291.40,310.90 292.90,310.90 294.40,310.90 295.90,310.90" stroke="#000" stroke-width="0.4" fill="none" stroke-linejoin="round"/>
<polyline points="174.30,312.30 184.60,312.30 184.60,312.30 184.80,312.30 185.00,312.30 185.20,312.30 185.40,312.30 185.60,312.30 185.80,312.30 186.00,312.30 186.20,312.30 186.40,312.30 186.60,312.30 186.80,312.30 187.00,312.30 187.20,312.30 187.40,312.30 187.60,312.30 187.80,312.30 188.00,312.30 188.20,312.31 188.40,312.33 188.60,312.41 188.80,312.61 189.00,313.08 189.20,314.11 189.40,316.10 189.60,319.52 189.80,324.72 190.00,331.68 190.20,339.68 190.40,347.35 190.60,352.94 190.80,355.00 191.00,353.40 191.20,351.83 191.40,350.28 191.60,348.75 191.80,347.25 192.00,345.77 192.20,344.32 192.40,342.89 192.60,341.48 192.80,340.10 193.00,338.74 193.20,337.41 193.40,336.11 193.60,334.83 193.80,333.58 194.00,332.35 194.20,331.16 194.40,329.99 194.60,328.85 194.80,327.73 195.00,326.65 195.20,325.60 195.40,324.58 195.60,323.40 195.80,322.16 196.00,320.99 196.20,319.87 196.40,318.80 196.60,317.79 196.80,316.84 197.00,315.93 197.20,315.08 197.40,314.28 197.60,313.54 197.80,312.85 198.00,312.21 198.20,311.63 198.40,311.11 198.60,310.65 198.80,310.27 199.00,309.95 199.20,309.74 199.40,309.66 199.60,309.61 199.80,309.58 200.00,309.54 200.20,309.51 200.40,309.49 200.60,309.46 200.80,309.44 201.00,309.42 201.20,309.41 201.40,309.40 201.60,309.40 201.80,309.40 202.00,309.39 202.20,309.39 202.40,309.39 202.60,309.40 202.80,309.40 203.00,309.40 203.20,309.40 203.40,309.41 203.60,309.41 203.80,309.42 204.00,309.42 204.20,309.43 204.40,309.44 204.60,309.44 204.80,309.45 205.00,309.45 205.20,309.46 205.40,309.47 206.90,309.52 208.40,309.58 209.90,309.64 211.40,309.69 212.90,309.74 214.40,309.78 215.90,309.82 217.40,309.86 218.90,309.90 220.40,309.93 221.90,309.96 223.40,309.99 224.90,310.02 226.40,310.05 227.90,310.07 229.40,310.09 230.90,310.11 232.40,310.13 233.90,310.15 235.40,310.16 236.90,310.18 238.40,310.19 239.90,310.20 241.40,310.21 242.90,310.23 244.40,310.24 245.90,310.25 247.40,310.25 248.90,310.26 250.40,310.27 251.90,310.28 253.40,310.28 254.90,310.29 256.40,310.29 257.90,310.30 259.40,310.30 260.90,310.31 262.40,310.31 263.90,310.32 265.40,310.32 266.90,310.32 268.40,310.33 269.90,310.33 271.40,310.33 272.90,310.33 274.40,310.34 275.90,310.34 277.40,310.34 278.90,310.34 280.40,310.34 281.90,310.35 283.40,310.35 284.90,310.35 286.40,310.35 287.90,310.35 289.40,310.35 290.90,310.35 292.40,310.35 293.90,310.36 295.40,310.36" stroke="#000" stroke-width="0.4" fill="none" stroke-linejoin="round"/>
<polyline points="174.30,312.30 184.60,312.30 184.60,312.30 184.80,312.30 185.00,312.30 185.20,312.30 185.40,312.30 185.60,312.30 185.80,312.30 186.00,312.30 186.20,312.30 186.40,312.30 186.60,312.30 186.80,312.30 187.00,312.30 187.20,312.30 187.40,312.30 187.60,312.30 187.80,312.31 188.00,312.32 188.20,312.37 188.40,312.52 188.60,312.87 188.80,313.67 189.00,315.28 189.20,318.17 189.40,322.76 189.60,329.19 189.80,337.00 190.00,345.04 190.20,351.60 190.40,355.04 190.60,354.20 190.80,352.53 191.00,350.89 191.20,349.27 191.40,347.68 191.60,346.11 191.80,344.57 192.00,343.06 192.20,341.58 192.40,340.12 192.60,338.69 192.80,337.29 193.00,335.92 193.20,334.58 193.40,333.26 193.60,331.98 193.80,330.73 194.00,329.51 194.20,328.32 194.40,327.16 194.60,326.04 194.80,324.95 195.00,323.75 195.20,322.38 195.40,321.07 195.60,319.83 195.80,318.66 196.00,317.55 196.20,316.51 196.40,315.52 196.60,314.60 196.80,313.73 197.00,312.93 197.20,312.19 197.40,311.51 197.60,310.90 197.80,310.36 198.00,309.90 198.20,309.51 198.40,309.22 198.60,309.07 198.80,309.01 199.00,308.96 199.20,308.91 199.40,308.86 199.60,308.83 199.80,308.79 200.00,308.76 200.20,308.73 200.40,308.70 200.60,308.68 200.80,308.66 201.00,308.64 201.20,308.63 201.40,308.63 201.60,308.63 201.80,308.63 202.00,308.63 202.20,308.63 202.40,308.63 202.60,308.64 202.80,308.64 203.00,308.65 203.20,308.65 203.40,308.66 203.60,308.67 203.80,308.67 204.00,308.68 204.20,308.69 204.40,308.70 204.60,308.70 206.10,308.77 207.60,308.84 209.10,308.91 210.60,308.97 212.10,309.03 213.60,309.08 215.10,309.14 216.60,309.18 218.10,309.23 219.60,309.27 221.10,309.31 222.60,309.34 224.10,309.38 225.60,309.41 227.10,309.44 228.60,309.46 230.10,309.49 231.60,309.51 233.10,309.53 234.60,309.55 236.10,309.57 237.60,309.58 239.10,309.60 240.60,309.61 242.10,309.63 243.60,309.64 245.10,309.65 246.60,309.66 248.10,309.67 249.60,309.68 251.10,309.69 252.60,309.70 254.10,309.71 255.60,309.71 257.10,309.72 258.60,309.72 260.10,309.73 261.60,309.74 263.10,309.74 264.60,309.74 266.10,309.75 267.60,309.75 269.10,309.76 270.60,309.76 272.10,309.76 273.60,309.76 275.10,309.77 276.60,309.77 278.10,309.77 279.60,309.77 281.10,309.78 282.60,309.78 284.10,309.78 285.60,309.78 287.10,309.78 288.60,309.78 290.10,309.78 291.60,309.79 293.10,309.79 294.60,309.79" stroke="#000" stroke-width="0.4" fill="none" stroke-linejoin="round"/>
<polyline points="174.30,312.30 184.60,312.30 184.60,312.30 184.80,312.30 185.00,312.30 185.20,312.30 185.40,312.30 185.60,312.30 185.80,312.30 186.00,312.30 186.20,312.30 186.40,312.30 186.60,312.30 186.80,312.30 187.00,312.30 187.20,312.30 187.40,312.30 187.60,312.31 187.80,312.35 188.00,312.44 188.20,312.69 188.40,313.27 188.60,314.49 188.80,316.76 189.00,320.52 189.20,326.04 189.40,333.10 189.60,340.83 189.80,347.76 190.00,352.22 190.20,352.69 190.40,351.01 190.60,349.36 190.80,347.74 191.00,346.14 191.20,344.57 191.40,343.03 191.60,341.52 191.80,340.03 192.00,338.58 192.20,337.15 192.40,335.76 192.60,334.39 192.80,333.06 193.00,331.76 193.20,330.49 193.40,329.25 193.60,328.04 193.80,326.87 194.00,325.74 194.20,324.63 194.40,323.51 194.60,322.05 194.80,320.66 195.00,319.35 195.20,318.12 195.40,316.95 195.60,315.86 195.80,314.83 196.00,313.87 196.20,312.98 196.40,312.16 196.60,311.40 196.80,310.72 197.00,310.11 197.20,309.57 197.40,309.12 197.60,308.76 197.80,308.53 198.00,308.44 198.20,308.37 198.40,308.30 198.60,308.24 198.80,308.19 199.00,308.14 199.20,308.10 199.40,308.06 199.60,308.02 199.80,307.99 200.00,307.96 200.20,307.94 200.40,307.91 200.60,307.89 200.80,307.87 201.00,307.85 201.20,307.85 201.40,307.85 201.60,307.85 201.80,307.86 202.00,307.86 202.20,307.86 202.40,307.87 202.60,307.88 202.80,307.88 203.00,307.89 203.20,307.90 203.40,307.91 203.60,307.92 203.80,307.92 204.00,307.93 205.50,308.01 207.00,308.09 208.50,308.17 210.00,308.24 211.50,308.31 213.00,308.38 214.50,308.44 216.00,308.49 217.50,308.55 219.00,308.59 220.50,308.64 222.00,308.68 223.50,308.72 225.00,308.76 226.50,308.79 228.00,308.82 229.50,308.85 231.00,308.88 232.50,308.90 234.00,308.92 235.50,308.94 237.00,308.96 238.50,308.98 240.00,309.00 241.50,309.02 243.00,309.03 244.50,309.04 246.00,309.06 247.50,309.07 249.00,309.08 250.50,309.09 252.00,309.10 253.50,309.11 255.00,309.11 256.50,309.12 258.00,309.13 259.50,309.14 261.00,309.14 262.50,309.15 264.00,309.15 265.50,309.16 267.00,309.16 268.50,309.17 270.00,309.17 271.50,309.17 273.00,309.18 274.50,309.18 276.00,309.18 277.50,309.18 279.00,309.19 280.50,309.19 282.00,309.19 283.50,309.19 285.00,309.19 286.50,309.20 288.00,309.20 289.50,309.20 291.00,309.20 292.50,309.20 294.00,309.20 295.50,309.20" stroke="#000" stroke-width="0.4" fill="none" stroke-linejoin="round"/>
<polyline points="174.30,312.30 184.60,312.30 184.60,312.30 184.80,312.30 185.00,312.30 185.20,312.30 185.40,312.30 185.60,312.30 185.80,312.30 186.00,312.30 186.20,312.30 186.40,312.30 186.60,312.30 186.80,312.30 187.00,312.30 187.20,312.31 187.40,312.33 187.60,312.40 187.80,312.57 188.00,313.00 188.20,313.93 188.40,315.74 188.60,318.86 188.80,323.65 189.00,330.09 189.20,337.57 189.40,344.80 189.60,350.18 189.80,352.30 190.00,350.65 190.20,348.94 190.40,347.25 190.60,345.60 190.80,343.98 191.00,342.39 191.20,340.83 191.40,339.30 191.60,337.80 191.80,336.34 192.00,334.91 192.20,333.51 192.40,332.14 192.60,330.81 192.80,329.52 193.00,328.25 193.20,327.03 193.40,325.84 193.60,324.69 193.80,323.58 194.00,322.06 194.20,320.56 194.40,319.15 194.60,317.82 194.80,316.57 195.00,315.40 195.20,314.30 195.40,313.29 195.60,312.35 195.80,311.48 196.00,310.69 196.20,309.99 196.40,309.36 196.60,308.83 196.80,308.39 197.00,308.06 197.20,307.91 197.40,307.82 197.60,307.73 197.80,307.65 198.00,307.58 198.20,307.52 198.40,307.46 198.60,307.41 198.80,307.36 199.00,307.32 199.20,307.28 199.40,307.25 199.60,307.22 199.80,307.19 200.00,307.16 200.20,307.14 200.40,307.12 200.60,307.10 200.80,307.08 201.00,307.06 201.20,307.07 201.40,307.07 201.60,307.08 201.80,307.08 202.00,307.09 202.20,307.09 202.40,307.10 202.60,307.11 202.80,307.12 203.00,307.13 203.20,307.14 204.70,307.23 206.20,307.32 207.70,307.41 209.20,307.49 210.70,307.57 212.20,307.65 213.70,307.72 215.20,307.78 216.70,307.84 218.20,307.90 219.70,307.95 221.20,308.00 222.70,308.04 224.20,308.09 225.70,308.12 227.20,308.16 228.70,308.19 230.20,308.22 231.70,308.25 233.20,308.28 234.70,308.30 236.20,308.33 237.70,308.35 239.20,308.37 240.70,308.39 242.20,308.40 243.70,308.42 245.20,308.43 246.70,308.45 248.20,308.46 249.70,308.47 251.20,308.48 252.70,308.49 254.20,308.50 255.70,308.51 257.20,308.52 258.70,308.52 260.20,308.53 261.70,308.54 263.20,308.54 264.70,308.55 266.20,308.55 267.70,308.56 269.20,308.56 270.70,308.57 272.20,308.57 273.70,308.57 275.20,308.58 276.70,308.58 278.20,308.58 279.70,308.59 281.20,308.59 282.70,308.59 284.20,308.59 285.70,308.59 287.20,308.60 288.70,308.60 290.20,308.60 291.70,308.60 293.20,308.60 294.70,308.60" stroke="#000" stroke-width="0.4" fill="none" stroke-linejoin="round"/>
<polyline points="174.30,312.30 184.60,312.30 184.60,312.30 184.80,312.30 185.00,312.30 185.20,312.30 185.40,312.30 185.60,312.30 185.80,312.30 186.00,312.30 186.20,312.30 186.40,312.30 186.60,312.30 186.80,312.31 187.00,312.32 187.20,312.37 187.40,312.49 187.60,312.81 187.80,313.54 188.00,315.00 188.20,317.63 188.40,321.85 188.60,327.79 188.80,335.07 189.00,342.62 189.20,348.88 189.40,352.28 189.60,351.48 189.80,349.65 190.00,347.85 190.20,346.09 190.40,344.35 190.60,342.66 190.80,340.99 191.00,339.36 191.20,337.77 191.40,336.22 191.60,334.70 191.80,333.22 192.00,331.78 192.20,330.37 192.40,329.01 192.60,327.69 192.80,326.40 193.00,325.17 193.20,323.97 193.40,322.44 193.60,320.79 193.80,319.23 194.00,317.77 194.20,316.40 194.40,315.12 194.60,313.93 194.80,312.83 195.00,311.81 195.20,310.89 195.40,310.05 195.60,309.30 195.80,308.65 196.00,308.11 196.20,307.69 196.40,307.44 196.60,307.31 196.80,307.20 197.00,307.10 197.20,307.01 197.40,306.93 197.60,306.85 197.80,306.79 198.00,306.73 198.20,306.67 198.40,306.62 198.60,306.58 198.80,306.53 199.00,306.50 199.20,306.46 199.40,306.43 199.60,306.41 199.80,306.38 200.00,306.36 200.20,306.34 200.40,306.32 200.60,306.30 200.80,306.29 201.00,306.28 201.20,306.28 201.40,306.29 201.60,306.30 201.80,306.30 202.00,306.31 202.20,306.32 202.40,306.33 203.90,306.43 205.40,306.53 206.90,306.63 208.40,306.73 209.90,306.82 211.40,306.90 212.90,306.98 214.40,307.06 215.90,307.12 217.40,307.19 218.90,307.25 220.40,307.30 221.90,307.35 223.40,307.40 224.90,307.44 226.40,307.49 227.90,307.52 229.40,307.56 230.90,307.59 232.40,307.62 233.90,307.65 235.40,307.68 236.90,307.70 238.40,307.72 239.90,307.74 241.40,307.76 242.90,307.78 244.40,307.80 245.90,307.81 247.40,307.83 248.90,307.84 250.40,307.85 251.90,307.86 253.40,307.87 254.90,307.88 256.40,307.89 257.90,307.90 259.40,307.91 260.90,307.92 262.40,307.92 263.90,307.93 265.40,307.93 266.90,307.94 268.40,307.94 269.90,307.95 271.40,307.95 272.90,307.96 274.40,307.96 275.90,307.96 277.40,307.97 278.90,307.97 280.40,307.97 281.90,307.98 283.40,307.98 284.90,307.98 286.40,307.98 287.90,307.98 289.40,307.99 290.90,307.99 292.40,307.99 293.90,307.99 295.40,307.99" stroke="#000" stroke-width="0.4" fill="none" stroke-linejoin="round"/>
<polyline points="174.30,312.30 184.60,312.30 184.60,312.30 184.80,312.30 185.00,312.30 185.20,312.30 185.40,312.30 185.60,312.30 185.80,312.30 186.00,312.30 186.20,312.30 186.40,312.30 186.60,312.31 186.80,312.34 187.00,312.43 187.20,312.65 187.40,313.17 187.60,314.27 187.80,316.33 188.00,319.76 188.20,324.84 188.40,331.38 188.60,338.59 188.80,345.14 189.00,349.45 189.20,350.03 189.40,348.18 189.60,346.36 189.80,344.57 190.00,342.83 190.20,341.12 190.40,339.44 190.60,337.81 190.80,336.21 191.00,334.65 191.20,333.13 191.40,331.66 191.60,330.22 191.80,328.82 192.00,327.47 192.20,326.16 192.40,324.90 192.60,323.68 192.80,322.26 193.00,320.50 193.20,318.85 193.40,317.31 193.60,315.88 193.80,314.54 194.00,313.30 194.20,312.15 194.40,311.11 194.60,310.15 194.80,309.30 195.00,308.56 195.20,307.92 195.40,307.40 195.60,307.04 195.80,306.86 196.00,306.72 196.20,306.60 196.40,306.48 196.60,306.37 196.80,306.28 197.00,306.19 197.20,306.12 197.40,306.05 197.60,305.98 197.80,305.92 198.00,305.87 198.20,305.83 198.40,305.78 198.60,305.74 198.80,305.71 199.00,305.68 199.20,305.65 199.40,305.62 199.60,305.60 199.80,305.58 200.00,305.56 200.20,305.54 200.40,305.53 200.60,305.51 200.80,305.50 201.00,305.49 201.20,305.50 201.40,305.51 201.60,305.52 201.80,305.53 203.30,305.63 204.80,305.74 206.30,305.85 207.80,305.96 209.30,306.06 210.80,306.16 212.30,306.24 213.80,306.33 215.30,306.40 216.80,306.47 218.30,306.54 219.80,306.60 221.30,306.66 222.80,306.71 224.30,306.76 225.80,306.80 227.30,306.85 228.80,306.89 230.30,306.92 231.80,306.96 233.30,306.99 234.80,307.02 236.30,307.04 237.80,307.07 239.30,307.09 240.80,307.11 242.30,307.13 243.80,307.15 245.30,307.17 246.80,307.18 248.30,307.20 249.80,307.21 251.30,307.22 252.80,307.24 254.30,307.25 255.80,307.26 257.30,307.27 258.80,307.27 260.30,307.28 261.80,307.29 263.30,307.30 264.80,307.30 266.30,307.31 267.80,307.32 269.30,307.32 270.80,307.33 272.30,307.33 273.80,307.33 275.30,307.34 276.80,307.34 278.30,307.34 279.80,307.35 281.30,307.35 282.80,307.35 284.30,307.36 285.80,307.36 287.30,307.36 288.80,307.36 290.30,307.36 291.80,307.36 293.30,307.37 294.80,307.37" stroke="#000" stroke-width="0.4" fill="none" stroke-linejoin="round"/>
<polyline points="174.30,312.30 184.60,312.30 184.60,312.30 184.80,312.30 185.00,312.30 185.20,312.30 185.40,312.30 185.60,312.30 185.80,312.30 186.00,312.30 186.20,312.31 186.40,312.33 186.60,312.38 186.80,312.54 187.00,312.92 187.20,313.76 187.40,315.39 187.60,318.24 187.80,322.62 188.00,328.56 188.20,335.51 188.40,342.30 188.60,347.44 188.80,349.58 189.00,347.85 189.20,345.95 189.40,344.09 189.60,342.27 189.80,340.48 190.00,338.74 190.20,337.05 190.40,335.39 190.60,333.78 190.80,332.21 191.00,330.68 191.20,329.21 191.40,327.78 191.60,326.39 191.80,325.06 192.00,323.78 192.20,322.45 192.40,320.55 192.60,318.77 192.80,317.11 193.00,315.57 193.20,314.14 193.40,312.81 193.60,311.60 193.80,310.50 194.00,309.50 194.20,308.62 194.40,307.86 194.60,307.23 194.80,306.75 195.00,306.48 195.20,306.30 195.40,306.14 195.60,306.00 195.80,305.86 196.00,305.74 196.20,305.64 196.40,305.54 196.60,305.45 196.80,305.37 197.00,305.30 197.20,305.23 197.40,305.17 197.60,305.12 197.80,305.07 198.00,305.03 198.20,304.99 198.40,304.95 198.60,304.92 198.80,304.89 199.00,304.86 199.20,304.84 199.40,304.82 199.60,304.80 199.80,304.78 200.00,304.76 200.20,304.75 200.40,304.73 200.60,304.72 200.80,304.71 201.00,304.70 202.50,304.81 204.00,304.93 205.50,305.05 207.00,305.17 208.50,305.28 210.00,305.39 211.50,305.48 213.00,305.58 214.50,305.66 216.00,305.74 217.50,305.81 219.00,305.88 220.50,305.94 222.00,306.00 223.50,306.06 225.00,306.11 226.50,306.15 228.00,306.20 229.50,306.24 231.00,306.27 232.50,306.31 234.00,306.34 235.50,306.37 237.00,306.40 238.50,306.42 240.00,306.45 241.50,306.47 243.00,306.49 244.50,306.51 246.00,306.53 247.50,306.54 249.00,306.56 250.50,306.57 252.00,306.59 253.50,306.60 255.00,306.61 256.50,306.62 258.00,306.63 259.50,306.64 261.00,306.65 262.50,306.65 264.00,306.66 265.50,306.67 267.00,306.67 268.50,306.68 270.00,306.69 271.50,306.69 273.00,306.69 274.50,306.70 276.00,306.70 277.50,306.71 279.00,306.71 280.50,306.71 282.00,306.72 283.50,306.72 285.00,306.72 286.50,306.72 288.00,306.73 289.50,306.73 291.00,306.73 292.50,306.73 294.00,306.73 295.50,306.73" stroke="#000" stroke-width="0.4" fill="none" stroke-linejoin="round"/>
<polyline points="174.30,312.30 184.60,312.30 184.60,312.30 184.80,312.30 185.00,312.30 185.20,312.30 185.40,312.30 185.60,312.30 185.80,312.30 186.00,312.32 186.20,312.36 186.40,312.47 186.60,312.76 186.80,313.41 187.00,314.73 187.20,317.12 187.40,320.97 187.60,326.44 187.80,333.19 188.00,340.25 188.20,346.19 188.40,349.53 188.60,348.75 188.80,346.68 189.00,344.66 189.20,342.69 189.40,340.77 189.60,338.89 189.80,337.06 190.00,335.28 190.20,333.55 190.40,331.87 190.60,330.24 190.80,328.67 191.00,327.15 191.20,325.69 191.40,324.29 191.60,322.94 191.80,320.95 192.00,318.99 192.20,317.17 192.40,315.47 192.60,313.91 192.80,312.47 193.00,311.16 193.20,309.97 193.40,308.91 193.60,307.99 193.80,307.21 194.00,306.58 194.20,306.17 194.40,305.95 194.60,305.75 194.80,305.57 195.00,305.40 195.20,305.25 195.40,305.12 195.60,305.00 195.80,304.89 196.00,304.79 196.20,304.70 196.40,304.62 196.60,304.54 196.80,304.47 197.00,304.41 197.20,304.36 197.40,304.31 197.60,304.27 197.80,304.22 198.00,304.19 198.20,304.15 198.40,304.12 198.60,304.10 198.80,304.07 199.00,304.05 199.20,304.03 199.40,304.01 199.60,304.00 199.80,303.98 200.00,303.97 200.20,303.95 201.70,303.97 203.20,304.10 204.70,304.23 206.20,304.36 207.70,304.49 209.20,304.60 210.70,304.71 212.20,304.81 213.70,304.91 215.20,304.99 216.70,305.07 218.20,305.15 219.70,305.22 221.20,305.28 222.70,305.34 224.20,305.40 225.70,305.45 227.20,305.50 228.70,305.54 230.20,305.58 231.70,305.62 233.20,305.66 234.70,305.69 236.20,305.72 237.70,305.75 239.20,305.77 240.70,305.80 242.20,305.82 243.70,305.84 245.20,305.86 246.70,305.88 248.20,305.90 249.70,305.91 251.20,305.93 252.70,305.94 254.20,305.95 255.70,305.96 257.20,305.97 258.70,305.98 260.20,305.99 261.70,306.00 263.20,306.01 264.70,306.02 266.20,306.02 267.70,306.03 269.20,306.04 270.70,306.04 272.20,306.05 273.70,306.05 275.20,306.06 276.70,306.06 278.20,306.06 279.70,306.07 281.20,306.07 282.70,306.07 284.20,306.08 285.70,306.08 287.20,306.08 288.70,306.08 290.20,306.08 291.70,306.09 293.20,306.09 294.70,306.09" stroke="#000" stroke-width="0.4" fill="none" stroke-linejoin="round"/>
<polyline points="174.30,312.30 184.60,312.30 184.60,312.30 184.80,312.30 185.00,312.30 185.20,312.30 185.40,312.30 185.60,312.31 185.80,312.34 186.00,312.41 186.20,312.61 186.40,313.08 186.60,314.06 186.80,315.92 187.00,319.04 187.20,323.68 187.40,329.70 187.60,336.40 187.80,342.55 188.00,346.70 188.20,347.37 188.40,345.26 188.60,343.20 188.80,341.19 189.00,339.24 189.20,337.33 189.40,335.48 189.60,333.68 189.80,331.93 190.00,330.24 190.20,328.61 190.40,327.04 190.60,325.53 190.80,324.08 191.00,322.70 191.20,320.82 191.40,318.74 191.60,316.82 191.80,315.03 192.00,313.39 192.20,311.89 192.40,310.53 192.60,309.31 192.80,308.23 193.00,307.31 193.20,306.54 193.40,305.98 193.60,305.68 193.80,305.43 194.00,305.21 194.20,305.00 194.40,304.82 194.60,304.65 194.80,304.50 195.00,304.37 195.20,304.24 195.40,304.13 195.60,304.03 195.80,303.94 196.00,303.86 196.20,303.78 196.40,303.71 196.60,303.65 196.80,303.60 197.00,303.55 197.20,303.50 197.40,303.46 197.60,303.42 197.80,303.39 198.00,303.36 198.20,303.33 198.40,303.31 198.60,303.28 198.80,303.26 199.00,303.24 199.20,303.23 199.40,303.21 199.60,303.20 201.10,303.14 202.60,303.28 204.10,303.43 205.60,303.57 207.10,303.70 208.60,303.83 210.10,303.94 211.60,304.05 213.10,304.15 214.60,304.25 216.10,304.34 217.60,304.42 219.10,304.49 220.60,304.56 222.10,304.63 223.60,304.69 225.10,304.74 226.60,304.79 228.10,304.84 229.60,304.89 231.10,304.93 232.60,304.97 234.10,305.00 235.60,305.04 237.10,305.07 238.60,305.09 240.10,305.12 241.60,305.15 243.10,305.17 244.60,305.19 246.10,305.21 247.60,305.23 249.10,305.24 250.60,305.26 252.10,305.27 253.60,305.29 255.10,305.30 256.60,305.31 258.10,305.32 259.60,305.33 261.10,305.34 262.60,305.35 264.10,305.36 265.60,305.36 267.10,305.37 268.60,305.38 270.10,305.38 271.60,305.39 273.10,305.39 274.60,305.40 276.10,305.40 277.60,305.41 279.10,305.41 280.60,305.41 282.10,305.42 283.60,305.42 285.10,305.42 286.60,305.43 288.10,305.43 289.60,305.43 291.10,305.43 292.60,305.44 294.10,305.44 295.60,305.44" stroke="#000" stroke-width="0.4" fill="none" stroke-linejoin="round"/>
<polyline points="174.30,312.30 184.60,312.30 184.60,312.30 184.80,312.30 185.00,312.30 185.20,312.31 185.40,312.32 185.60,312.37 185.80,312.51 186.00,312.85 186.20,313.60 186.40,315.07 186.60,317.64 186.80,321.64 187.00,327.08 187.20,333.50 187.40,339.84 187.60,344.71 187.80,346.86 188.00,345.00 188.20,342.82 188.40,340.69 188.60,338.62 188.80,336.61 189.00,334.66 189.20,332.77 189.40,330.95 189.60,329.19 189.80,327.50 190.00,325.87 190.20,324.32 190.40,322.83 190.60,321.06 190.80,318.81 191.00,316.73 191.20,314.81 191.40,313.05 191.60,311.45 191.80,310.01 192.00,308.73 192.20,307.61 192.40,306.68 192.60,305.95 192.80,305.51 193.00,305.20 193.20,304.93 193.40,304.68 193.60,304.45 193.80,304.24 194.00,304.06 194.20,303.89 194.40,303.74 194.60,303.60 194.80,303.48 195.00,303.37 195.20,303.27 195.40,303.17 195.60,303.09 195.80,303.02 196.00,302.95 196.20,302.89 196.40,302.83 196.60,302.78 196.80,302.73 197.00,302.69 197.20,302.66 197.40,302.62 197.60,302.59 197.80,302.56 198.00,302.54 198.20,302.52 198.40,302.49 198.60,302.48 198.80,302.46 200.30,302.38 201.80,302.43 203.30,302.59 204.80,302.74 206.30,302.89 207.80,303.02 209.30,303.15 210.80,303.27 212.30,303.38 213.80,303.48 215.30,303.58 216.80,303.67 218.30,303.75 219.80,303.82 221.30,303.89 222.80,303.96 224.30,304.02 225.80,304.08 227.30,304.13 228.80,304.18 230.30,304.22 231.80,304.26 233.30,304.30 234.80,304.34 236.30,304.37 237.80,304.40 239.30,304.43 240.80,304.46 242.30,304.48 243.80,304.51 245.30,304.53 246.80,304.55 248.30,304.57 249.80,304.58 251.30,304.60 252.80,304.61 254.30,304.63 255.80,304.64 257.30,304.65 258.80,304.66 260.30,304.67 261.80,304.68 263.30,304.69 264.80,304.70 266.30,304.70 267.80,304.71 269.30,304.72 270.80,304.72 272.30,304.73 273.80,304.73 275.30,304.74 276.80,304.74 278.30,304.75 279.80,304.75 281.30,304.75 282.80,304.76 284.30,304.76 285.80,304.76 287.30,304.77 288.80,304.77 290.30,304.77 291.80,304.77 293.30,304.78 294.80,304.78" stroke="#000" stroke-width="0.4" fill="none" stroke-linejoin="round"/>
<line x1="174.30" y1="312.30" x2="296.00" y2="312.30" stroke="#000" stroke-width="0.8"/>
<ellipse cx="185.70" cy="312.90" rx="1.2" ry="2.0" fill="#000"/>
<defs><linearGradient id="g37" x1="0" y1="0" x2="0" y2="1"><stop offset="0" stop-color="#909090"/><stop offset="0.15" stop-color="#888"/><stop offset="0.27" stop-color="#bcbcbc"/><stop offset="0.36" stop-color="#bdbdbd"/><stop offset="0.48" stop-color="#8b8b8b"/><stop offset="0.58" stop-color="#8a8a8a"/><stop offset="0.7" stop-color="#b7b7b7"/><stop offset="0.78" stop-color="#b8b8b8"/><stop offset="0.88" stop-color="#929292"/><stop offset="1.0" stop-color="#8e8e8e"/></linearGradient></defs>
<rect x="37.40" y="373.80" width="111.60" height="16.80" fill="url(#g37)" stroke="none" stroke-width="0.8"/>
<line x1="28.00" y1="389.30" x2="37.40" y2="389.30" stroke="#222" stroke-width="0.9"/>
<line x1="37.40" y1="389.30" x2="37.40" y2="373.80" stroke="#333" stroke-width="0.7"/>
<defs><linearGradient id="g183" x1="0" y1="0" x2="0" y2="1"><stop offset="0" stop-color="#909090"/><stop offset="0.15" stop-color="#888"/><stop offset="0.27" stop-color="#bcbcbc"/><stop offset="0.36" stop-color="#bdbdbd"/><stop offset="0.48" stop-color="#8b8b8b"/><stop offset="0.58" stop-color="#8a8a8a"/><stop offset="0.7" stop-color="#b7b7b7"/><stop offset="0.78" stop-color="#b8b8b8"/><stop offset="0.88" stop-color="#929292"/><stop offset="1.0" stop-color="#8e8e8e"/></linearGradient></defs>
<rect x="183.40" y="373.10" width="112.60" height="16.40" fill="url(#g183)" stroke="none" stroke-width="0.8"/>
<line x1="173.80" y1="388.80" x2="183.40" y2="388.80" stroke="#222" stroke-width="0.9"/>
<line x1="183.40" y1="388.80" x2="183.40" y2="373.10" stroke="#333" stroke-width="0.7"/>
<line x1="121.90" y1="357.30" x2="147.80" y2="357.30" stroke="#333" stroke-width="0.5"/>
<line x1="147.80" y1="348.60" x2="147.80" y2="357.30" stroke="#333" stroke-width="0.5"/>
<text x="136.30" y="363.50" font-size="5.6" text-anchor="middle" fill="#000" stroke="#000" stroke-width="0.07">10ms</text>
<text x="150.90" y="353.80" font-size="6.0" text-anchor="middle" fill="#000" stroke="#000" stroke-width="0.07" transform="rotate(90 150.90 353.80)">1000pA</text>
<line x1="268.70" y1="357.90" x2="294.80" y2="357.90" stroke="#333" stroke-width="0.5"/>
<line x1="294.80" y1="349.70" x2="294.80" y2="357.90" stroke="#333" stroke-width="0.5"/>
<text x="283.00" y="363.50" font-size="5.6" text-anchor="middle" fill="#000" stroke="#000" stroke-width="0.07">10ms</text>
<text x="297.00" y="353.80" font-size="6.0" text-anchor="middle" fill="#000" stroke="#000" stroke-width="0.07" transform="rotate(90 297.00 353.80)">1000pA</text>
<text x="312.10" y="288.70" font-size="10.5" text-anchor="start" fill="#000" stroke="#000" stroke-width="0.45" font-weight="bold">G</text>
<polyline points="351.08,286.50 354.01,286.45 358.27,286.37 362.77,286.35 366.43,286.50 368.70,286.78 370.26,287.15 371.82,287.71 374.10,288.57 377.40,289.88 381.30,291.55 385.43,293.29 389.45,294.79 393.29,296.01 397.13,297.08 400.96,298.05 404.80,298.94 408.64,299.79 412.48,300.58 416.31,301.24 420.15,301.70 423.99,301.94 427.83,302.00 431.66,301.91 435.50,301.70 439.52,301.31 443.65,300.75 447.55,300.15 450.85,299.63 453.49,299.20 455.65,298.81 457.33,298.48 458.53,298.25" stroke="#b5b5b5" stroke-width="0.45" fill="none" stroke-linejoin="round" stroke-dasharray="1.2,0.6"/>
<polyline points="351.08,286.50 354.01,286.44 358.27,286.33 362.77,286.31 366.43,286.50 368.70,286.80 370.26,287.19 371.82,287.93 374.10,289.26 377.40,291.54 381.30,294.53 385.43,297.65 389.45,300.32 393.29,302.57 397.13,304.64 400.96,306.28 404.80,307.23 408.64,307.22 412.48,306.45 416.31,305.38 420.15,304.47 423.81,303.74 427.35,303.00 431.12,302.30 435.50,301.70 441.26,301.23 447.97,300.84 454.21,300.54 458.53,300.32" stroke="#b5b5b5" stroke-width="0.45" fill="none" stroke-linejoin="round" stroke-dasharray="1.2,0.6"/>
<polyline points="351.08,286.50 354.01,286.40 358.27,286.24 362.77,286.21 366.43,286.50 368.70,286.86 370.26,287.28 371.82,288.35 374.10,290.65 377.40,294.66 381.30,299.97 385.43,305.80 389.45,311.38 393.29,317.17 397.13,323.38 400.96,328.77 404.80,332.11 408.64,332.54 412.48,330.90 416.31,328.48 420.15,326.58 423.81,325.44 427.35,324.42 431.12,323.44 435.50,322.43 441.26,321.30 447.97,320.10 454.21,319.03 458.53,318.29" stroke="#b5b5b5" stroke-width="0.45" fill="none" stroke-linejoin="round" stroke-dasharray="1.2,0.6"/>
<polyline points="351.08,286.50 354.01,286.40 358.27,286.24 362.77,286.21 366.43,286.50 368.70,286.82 370.26,287.19 371.82,288.25 374.10,290.65 377.58,295.11 381.78,301.10 385.97,307.39 389.45,312.76 391.91,317.09 393.77,320.96 395.39,324.19 397.12,326.58 398.86,327.86 400.48,328.22 402.34,328.10 404.80,327.96 408.10,327.84 412.00,327.53 416.13,327.09 420.15,326.58 423.81,326.02 427.35,325.37 431.12,324.63 435.50,323.81 441.26,322.78 447.97,321.57 454.21,320.45 458.53,319.67" stroke="#b5b5b5" stroke-width="0.45" fill="none" stroke-linejoin="round" stroke-dasharray="1.2,0.6"/>
<polyline points="351.08,286.50 354.01,286.37 358.27,286.15 362.77,286.11 366.43,286.50 368.70,287.04 370.26,287.71 371.82,289.16 374.10,292.03 377.40,296.98 381.30,303.52 385.43,310.52 389.45,316.90 393.47,322.64 397.60,328.22 401.50,333.33 404.80,337.63 407.26,341.22 409.12,344.20 410.74,346.31 412.48,347.31 414.21,346.78 415.83,344.98 417.69,342.61 420.15,340.40 423.27,338.36 426.87,336.17 430.94,334.02 435.50,332.11 441.26,330.40 447.97,328.82 454.21,327.51 458.53,326.58" stroke="#b5b5b5" stroke-width="0.45" fill="none" stroke-linejoin="round" stroke-dasharray="1.2,0.6"/>
<polyline points="351.08,286.50 354.01,286.42 358.27,286.28 362.77,286.26 366.43,286.50 368.70,286.80 370.26,287.15 371.82,288.04 374.10,289.95 377.40,293.45 381.30,298.12 385.43,303.02 389.45,307.23 393.29,310.59 397.13,313.58 400.96,316.15 404.80,318.29 408.64,319.94 412.48,321.14 416.31,321.95 420.15,322.43 423.81,322.54 427.35,322.26 431.12,321.72 435.50,321.05 441.26,320.11 447.97,318.89 454.21,317.71 458.53,316.90" stroke="#b5b5b5" stroke-width="0.45" fill="none" stroke-linejoin="round" stroke-dasharray="1.2,0.6"/>
<polyline points="351.08,286.50 354.01,286.44 358.27,286.33 362.77,286.31 366.43,286.50 368.70,286.74 370.26,287.02 371.82,287.73 374.10,289.26 377.40,292.10 381.30,295.91 385.43,299.86 389.45,303.08 393.29,305.43 397.13,307.32 400.96,308.82 404.80,309.99 408.64,310.79 412.48,311.20 416.31,311.35 420.15,311.38 423.81,311.26 427.35,310.94 431.12,310.50 435.50,309.99 441.26,309.34 447.97,308.53 454.21,307.76 458.53,307.23" stroke="#f7936a" stroke-width="0.45" fill="none" stroke-linejoin="round" stroke-dasharray="1.2,0.6"/>
<polyline points="351.08,286.50 354.01,286.40 358.27,286.24 362.77,286.21 366.43,286.50 368.70,286.92 370.26,287.45 371.82,288.54 374.10,290.65 377.40,294.46 381.30,299.54 385.43,304.67 389.45,308.61 393.29,311.03 397.13,312.59 400.96,313.54 404.80,314.14 408.64,314.28 412.48,313.88 416.31,313.27 420.15,312.76 423.81,312.44 427.35,312.15 431.12,311.82 435.50,311.38 441.26,310.72 447.97,309.91 454.21,309.14 458.53,308.61" stroke="#f7936a" stroke-width="0.45" fill="none" stroke-linejoin="round" stroke-dasharray="1.2,0.6"/>
<polyline points="351.08,286.50 354.01,286.46 358.27,286.37 362.77,286.52 366.43,287.19 368.78,287.71 370.45,288.18 372.04,290.06 374.10,294.79 376.88,304.72 380.05,318.42 383.31,331.70 386.38,340.40 389.07,342.55 391.56,340.66 394.15,337.26 397.12,334.87 400.46,334.02 404.03,333.40 407.99,332.83 412.48,332.11 417.69,331.23 423.51,330.29 429.56,329.22 435.50,327.96 441.80,326.26 448.45,324.25 454.39,322.36 458.53,321.05" stroke="#f7936a" stroke-width="0.45" fill="none" stroke-linejoin="round" stroke-dasharray="1.2,0.6"/>
<polyline points="351.08,286.50 354.01,286.43 358.27,286.28 362.77,286.42 366.43,287.19 368.70,288.32 370.26,289.74 371.82,292.13 374.10,296.17 377.40,302.66 381.30,311.03 385.43,319.92 389.45,327.96 393.29,335.57 397.13,343.21 400.96,349.61 404.80,353.53 408.64,353.98 412.48,351.84 416.31,348.65 420.15,345.93 423.81,343.90 427.35,341.82 431.12,339.72 435.50,337.63 441.26,335.37 447.97,332.97 454.21,330.83 458.53,329.34" stroke="#f7936a" stroke-width="0.45" fill="none" stroke-linejoin="round" stroke-dasharray="1.2,0.6"/>
<polyline points="351.08,286.50 354.01,286.40 358.27,286.24 362.77,286.21 366.43,286.50 368.70,286.82 370.26,287.19 371.82,288.25 374.10,290.65 377.40,295.17 381.30,301.27 385.43,307.59 389.45,312.76 393.29,316.62 397.13,319.84 400.96,322.28 404.80,323.81 408.64,324.09 412.48,323.30 416.31,322.06 420.15,321.05 423.81,320.39 427.35,319.75 431.12,319.07 435.50,318.29 441.26,317.25 447.97,316.04 454.21,314.92 458.53,314.14" stroke="#f7936a" stroke-width="0.45" fill="none" stroke-linejoin="round" stroke-dasharray="1.2,0.6"/>
<polyline points="351.08,286.50 354.01,286.40 358.27,286.24 362.77,286.21 366.43,286.50 368.70,286.69 370.26,286.85 371.82,287.86 374.10,290.65 377.40,296.26 381.30,303.95 385.43,311.89 389.45,318.29 393.29,322.74 397.13,326.19 400.96,328.80 404.80,330.72 408.64,331.85 412.48,332.15 416.31,331.91 420.15,331.42 423.81,330.61 427.35,329.39 431.12,327.97 435.50,326.58 441.26,325.12 447.97,323.51 454.21,322.06 458.53,321.05" stroke="#f7936a" stroke-width="0.45" fill="none" stroke-linejoin="round" stroke-dasharray="1.2,0.6"/>
<polyline points="351.08,286.50 354.01,286.42 358.27,286.28 362.77,286.26 366.43,286.50 368.70,286.70 370.26,286.89 371.82,287.75 374.10,289.95 377.40,294.29 381.30,300.19 385.43,306.33 389.45,311.38 393.29,315.13 397.13,318.24 400.96,320.69 404.80,322.43 408.64,323.34 412.48,323.47 416.31,323.08 420.15,322.43 423.81,321.44 427.35,320.01 431.12,318.42 435.50,316.90 441.26,315.39 447.97,313.79 454.21,312.37 458.53,311.38" stroke="#f7936a" stroke-width="0.45" fill="none" stroke-linejoin="round" stroke-dasharray="1.2,0.6"/>
<path d="M351.08,286.09 L352.45,285.95 L354.43,285.76 L356.65,285.58 L358.75,285.50 L360.74,285.55 L362.78,285.67 L364.72,285.86 L366.43,286.09 L367.76,286.28 L368.82,286.49 L369.84,286.81 L371.03,287.38 L372.49,288.26 L374.10,289.37 L375.71,290.63 L377.17,291.93 L378.36,293.21 L379.38,294.53 L380.44,296.01 L381.78,297.78 L383.48,299.98 L385.42,302.53 L387.46,305.13 L389.45,307.52 L391.37,309.69 L393.29,311.76 L395.21,313.66 L397.12,315.31 L399.04,316.71 L400.96,317.89 L402.88,318.85 L404.80,319.60 L406.72,320.10 L408.64,320.35 L410.56,320.45 L412.48,320.51 L414.39,320.53 L416.31,320.47 L418.23,320.33 L420.15,320.12 L422.07,319.82 L423.99,319.44 L425.91,319.01 L427.83,318.56 L429.74,318.09 L431.66,317.57 L433.58,317.06 L435.50,316.61 L437.42,316.26 L439.34,315.96 L441.26,315.67 L443.18,315.31 L445.09,314.87 L447.01,314.38 L448.93,313.87 L450.85,313.37 L452.95,312.83 L455.17,312.27 L457.15,311.77 L458.53,311.42 L458.53,315.48 L457.15,315.88 L455.17,316.44 L452.95,317.08 L450.85,317.68 L448.93,318.24 L447.01,318.82 L445.09,319.38 L443.18,319.88 L441.26,320.28 L439.34,320.61 L437.42,320.94 L435.50,321.34 L433.58,321.85 L431.66,322.42 L429.74,323.00 L427.83,323.54 L425.91,324.04 L423.99,324.53 L422.07,324.96 L420.15,325.30 L418.23,325.53 L416.31,325.69 L414.39,325.76 L412.48,325.73 L410.56,325.67 L408.64,325.55 L406.72,325.27 L404.80,324.71 L402.88,323.86 L400.96,322.78 L399.04,321.45 L397.12,319.88 L395.21,318.01 L393.29,315.87 L391.37,313.53 L389.45,311.09 L387.46,308.39 L385.42,305.45 L383.48,302.59 L381.78,300.10 L380.44,298.11 L379.38,296.44 L378.36,294.95 L377.17,293.51 L375.71,292.04 L374.10,290.62 L372.49,289.37 L371.03,288.38 L369.84,287.73 L368.82,287.36 L367.76,287.13 L366.43,286.91 L364.72,286.69 L362.78,286.53 L360.74,286.43 L358.75,286.39 L356.65,286.46 L354.43,286.62 L352.45,286.80 L351.08,286.91Z" stroke="none" stroke-width="0" fill="#9a9a9a" fill-opacity="0.45"/>
<path d="M351.08,286.09 L352.45,285.95 L354.43,285.76 L356.65,285.58 L358.75,285.50 L360.74,285.54 L362.78,285.66 L364.72,285.84 L366.43,286.09 L367.76,286.32 L368.82,286.58 L369.84,286.98 L371.03,287.64 L372.49,288.66 L374.10,289.95 L375.71,291.38 L377.17,292.84 L378.36,294.23 L379.38,295.63 L380.44,297.20 L381.78,299.08 L383.48,301.45 L385.42,304.19 L387.46,306.97 L389.45,309.47 L391.37,311.63 L393.29,313.63 L395.21,315.42 L397.12,317.00 L399.04,318.36 L400.96,319.50 L402.88,320.44 L404.80,321.16 L406.72,321.62 L408.64,321.83 L410.56,321.90 L412.48,321.94 L414.39,321.98 L416.31,321.96 L418.23,321.86 L420.15,321.68 L422.07,321.39 L423.99,321.00 L425.91,320.56 L427.83,320.12 L429.74,319.68 L431.66,319.21 L433.58,318.75 L435.50,318.30 L437.42,317.90 L439.34,317.52 L441.26,317.15 L443.18,316.74 L445.09,316.31 L447.01,315.86 L448.93,315.39 L450.85,314.92 L452.95,314.40 L455.17,313.84 L457.15,313.33 L458.53,312.98 L458.53,317.24 L457.15,317.64 L455.17,318.21 L452.95,318.85 L450.85,319.44 L448.93,319.97 L447.01,320.49 L445.09,321.00 L443.18,321.49 L441.26,321.94 L439.34,322.37 L437.42,322.79 L435.50,323.24 L433.58,323.74 L431.66,324.27 L429.74,324.80 L427.83,325.30 L425.91,325.79 L423.99,326.28 L422.07,326.72 L420.15,327.05 L418.23,327.26 L416.31,327.36 L414.39,327.39 L412.48,327.35 L410.56,327.30 L408.64,327.22 L406.72,326.98 L404.80,326.47 L402.88,325.65 L400.96,324.60 L399.04,323.31 L397.12,321.78 L395.21,320.00 L393.29,317.97 L391.37,315.72 L389.45,313.28 L387.46,310.47 L385.42,307.33 L383.48,304.24 L381.78,301.56 L380.44,299.45 L379.38,297.68 L378.36,296.10 L377.17,294.53 L375.71,292.89 L374.10,291.27 L372.49,289.82 L371.03,288.67 L369.84,287.92 L368.82,287.46 L367.76,287.17 L366.43,286.91 L364.72,286.67 L362.78,286.51 L360.74,286.42 L358.75,286.39 L356.65,286.46 L354.43,286.62 L352.45,286.80 L351.08,286.91Z" stroke="none" stroke-width="0" fill="#f08080" fill-opacity="0.45"/>
<polyline points="351.08,286.50 352.45,286.37 354.43,286.19 356.65,286.02 358.75,285.95 360.74,285.99 362.78,286.10 364.72,286.28 366.43,286.50 367.76,286.71 368.82,286.92 369.84,287.27 371.03,287.88 372.49,288.82 374.10,290.00 375.71,291.33 377.17,292.72 378.36,294.08 379.38,295.48 380.44,297.06 381.78,298.94 383.48,301.29 385.42,303.99 387.46,306.76 389.45,309.30 391.37,311.61 393.29,313.81 395.21,315.83 397.12,317.60 399.04,319.08 400.96,320.33 402.88,321.36 404.80,322.16 406.72,322.68 408.64,322.95 410.56,323.06 412.48,323.12 414.39,323.15 416.31,323.08 418.23,322.93 420.15,322.71 422.07,322.39 423.99,321.98 425.91,321.52 427.83,321.05 429.74,320.54 431.66,320.00 433.58,319.46 435.50,318.98 437.42,318.60 439.34,318.29 441.26,317.97 443.18,317.60 445.09,317.13 447.01,316.60 448.93,316.06 450.85,315.52 452.95,314.96 455.17,314.36 457.15,313.82 458.53,313.45" stroke="#111" stroke-width="1.2" fill="none" stroke-linejoin="round"/>
<polyline points="351.08,286.50 352.45,286.37 354.43,286.19 356.65,286.02 358.75,285.95 360.74,285.98 362.78,286.09 364.72,286.26 366.43,286.50 367.76,286.75 368.82,287.02 369.84,287.45 371.03,288.16 372.49,289.24 374.10,290.61 375.71,292.14 377.17,293.69 378.36,295.16 379.38,296.66 380.44,298.32 381.78,300.32 383.48,302.84 385.42,305.76 387.46,308.72 389.45,311.38 391.37,313.68 393.29,315.80 395.21,317.71 397.12,319.39 399.04,320.83 400.96,322.05 402.88,323.05 404.80,323.81 406.72,324.30 408.64,324.52 410.56,324.60 412.48,324.64 414.39,324.68 416.31,324.66 418.23,324.56 420.15,324.37 422.07,324.06 423.99,323.64 425.91,323.17 427.83,322.71 429.74,322.24 431.66,321.74 433.58,321.24 435.50,320.77 437.42,320.35 439.34,319.94 441.26,319.54 443.18,319.12 445.09,318.65 447.01,318.17 448.93,317.68 450.85,317.18 452.95,316.62 455.17,316.02 457.15,315.48 458.53,315.11" stroke="#e21f26" stroke-width="1.2" fill="none" stroke-linejoin="round"/>
<line x1="351.50" y1="286.00" x2="351.50" y2="383.20" stroke="#888" stroke-width="0.8"/>
<line x1="349.50" y1="286.50" x2="351.50" y2="286.50" stroke="#666" stroke-width="0.6"/>
<text x="347.50" y="288.80" font-size="6.6" text-anchor="end" fill="#000" stroke="#000" stroke-width="0.07">0</text>
<line x1="349.50" y1="300.32" x2="351.50" y2="300.32" stroke="#666" stroke-width="0.6"/>
<text x="347.50" y="302.62" font-size="6.6" text-anchor="end" fill="#000" stroke="#000" stroke-width="0.07">-1000</text>
<line x1="349.50" y1="314.14" x2="351.50" y2="314.14" stroke="#666" stroke-width="0.6"/>
<text x="347.50" y="316.44" font-size="6.6" text-anchor="end" fill="#000" stroke="#000" stroke-width="0.07">-2000</text>
<line x1="349.50" y1="327.96" x2="351.50" y2="327.96" stroke="#666" stroke-width="0.6"/>
<text x="347.50" y="330.26" font-size="6.6" text-anchor="end" fill="#000" stroke="#000" stroke-width="0.07">-3000</text>
<line x1="349.50" y1="341.78" x2="351.50" y2="341.78" stroke="#666" stroke-width="0.6"/>
<text x="347.50" y="344.08" font-size="6.6" text-anchor="end" fill="#000" stroke="#000" stroke-width="0.07">-4000</text>
<line x1="349.50" y1="355.60" x2="351.50" y2="355.60" stroke="#666" stroke-width="0.6"/>
<text x="347.50" y="357.90" font-size="6.6" text-anchor="end" fill="#000" stroke="#000" stroke-width="0.07">-5000</text>
<line x1="349.50" y1="369.42" x2="351.50" y2="369.42" stroke="#666" stroke-width="0.6"/>
<text x="347.50" y="371.72" font-size="6.6" text-anchor="end" fill="#000" stroke="#000" stroke-width="0.07">-6000</text>
<line x1="349.50" y1="383.24" x2="351.50" y2="383.24" stroke="#666" stroke-width="0.6"/>
<text x="347.50" y="385.54" font-size="6.6" text-anchor="end" fill="#000" stroke="#000" stroke-width="0.07">-7000</text>
<line x1="351.50" y1="383.20" x2="458.70" y2="383.20" stroke="#444" stroke-width="0.8"/>
<line x1="374.10" y1="383.20" x2="374.10" y2="385.20" stroke="#444" stroke-width="0.6"/>
<text x="374.10" y="392.30" font-size="6.9" text-anchor="middle" fill="#000" stroke="#000" stroke-width="0.07">-60</text>
<line x1="404.80" y1="383.20" x2="404.80" y2="385.20" stroke="#444" stroke-width="0.6"/>
<text x="404.80" y="392.30" font-size="6.9" text-anchor="middle" fill="#000" stroke="#000" stroke-width="0.07">-40</text>
<line x1="435.50" y1="383.20" x2="435.50" y2="385.20" stroke="#444" stroke-width="0.6"/>
<text x="435.50" y="392.30" font-size="6.9" text-anchor="middle" fill="#000" stroke="#000" stroke-width="0.07">-20</text>
<text x="405.00" y="400.50" font-size="7.05" text-anchor="middle" fill="#000" stroke="#000" stroke-width="0.07">Membrane Potential (mV)</text>
<text x="408.10" y="285.80" font-size="7.8" text-anchor="middle" fill="#000" stroke="#000" stroke-width="0.07" font-style="italic">30-60 days</text>
<line x1="355.50" y1="369.90" x2="359.50" y2="369.90" stroke="#444" stroke-width="0.9"/>
<line x1="355.50" y1="378.90" x2="359.50" y2="378.90" stroke="#e21f26" stroke-width="1.2"/>
<text x="360.90" y="372.20" font-size="6.3" text-anchor="start" fill="#000" stroke="#000" stroke-width="0.07">Neurotypical (n = 188 neurons)</text>
<text x="360.90" y="381.20" font-size="6.3" text-anchor="start" fill="#000" stroke="#000" stroke-width="0.07">MPSIIIA (n = 183 neurons)</text>
<polyline points="450.80,369.40 452.80,369.40 452.80,379.80 450.80,379.80" stroke="#333" stroke-width="0.5" fill="none" stroke-linejoin="round"/>
<text x="455.20" y="377.30" font-size="5.6" text-anchor="start" fill="#000" stroke="#000" stroke-width="0.07">ns</text>
<polyline points="479.28,286.50 482.21,286.42 486.47,286.28 490.97,286.26 494.62,286.50 496.90,286.99 498.46,287.67 500.02,288.62 502.30,289.95 505.60,291.83 509.50,294.14 513.63,296.61 517.65,298.94 521.49,301.19 525.32,303.47 529.16,305.56 533.00,307.23 536.84,308.41 540.67,309.22 544.51,309.72 548.35,309.99 552.01,309.99 555.55,309.69 559.32,309.20 563.70,308.61 569.46,307.81 576.17,306.80 582.41,305.83 586.73,305.16" stroke="#b5b5b5" stroke-width="0.45" fill="none" stroke-linejoin="round" stroke-dasharray="1.2,0.6"/>
<polyline points="479.28,286.50 482.21,286.40 486.47,286.24 490.97,286.21 494.62,286.50 496.90,286.95 498.46,287.54 500.02,288.64 502.30,290.65 505.60,294.11 509.50,298.68 513.63,303.38 517.65,307.23 521.49,310.05 525.32,312.33 529.16,314.13 533.00,315.52 536.84,316.45 540.67,316.90 544.51,317.01 548.35,316.90 552.01,316.54 555.55,315.87 559.32,315.03 563.70,314.14 569.46,313.10 576.17,311.89 582.41,310.77 586.73,309.99" stroke="#b5b5b5" stroke-width="0.45" fill="none" stroke-linejoin="round" stroke-dasharray="1.2,0.6"/>
<polyline points="479.28,286.50 482.21,286.49 486.47,286.46 490.97,286.61 494.62,287.19 496.98,287.53 498.65,287.75 500.24,289.25 502.30,293.41 505.08,302.01 508.25,313.84 511.51,325.82 514.58,334.87 517.45,340.03 520.24,342.99 522.89,344.65 525.33,345.93 527.28,346.83 528.87,346.96 530.61,346.57 533.00,345.93 536.30,344.90 540.20,343.42 544.33,341.81 548.35,340.40 552.01,339.26 555.55,338.24 559.32,337.26 563.70,336.25 569.46,335.12 576.17,333.92 582.41,332.85 586.73,332.11" stroke="#b5b5b5" stroke-width="0.45" fill="none" stroke-linejoin="round" stroke-dasharray="1.2,0.6"/>
<polyline points="479.28,286.50 482.21,286.46 486.47,286.37 490.97,286.52 494.62,287.19 496.98,287.62 498.65,287.93 500.24,289.77 502.30,294.79 505.19,305.19 508.54,319.50 511.83,333.89 514.58,344.54 516.40,350.13 517.65,352.79 518.90,353.92 520.72,354.91 523.29,356.00 526.28,356.51 529.57,356.38 533.00,355.60 536.62,353.81 540.48,351.15 544.44,348.30 548.35,345.93 552.01,344.28 555.55,342.99 559.32,341.78 563.70,340.40 569.46,338.61 576.17,336.60 582.41,334.76 586.73,333.49" stroke="#b5b5b5" stroke-width="0.45" fill="none" stroke-linejoin="round" stroke-dasharray="1.2,0.6"/>
<polyline points="479.28,286.50 482.21,286.49 486.47,286.46 490.97,286.61 494.62,287.19 496.90,287.60 498.46,287.93 500.02,289.44 502.30,293.41 505.60,301.09 509.50,311.51 513.63,322.55 517.65,332.11 521.49,340.35 525.32,348.17 529.16,354.52 533.00,358.36 536.84,358.69 540.67,356.29 544.51,352.86 548.35,350.07 552.01,348.25 555.55,346.53 559.32,344.86 563.70,343.16 569.46,341.27 576.17,339.28 582.41,337.49 586.73,336.25" stroke="#b5b5b5" stroke-width="0.45" fill="none" stroke-linejoin="round" stroke-dasharray="1.2,0.6"/>
<polyline points="479.28,286.50 482.21,286.40 486.47,286.24 490.97,286.21 494.62,286.50 496.90,286.69 498.46,286.85 500.02,287.86 502.30,290.65 505.60,296.29 509.50,304.03 513.63,311.99 517.65,318.29 521.49,322.51 525.32,325.63 529.16,327.84 533.00,329.34 536.84,329.90 540.67,329.51 544.51,328.69 548.35,327.96 552.01,327.40 555.55,326.75 559.32,326.02 563.70,325.20 569.46,324.16 576.17,322.95 582.41,321.83 586.73,321.05" stroke="#b5b5b5" stroke-width="0.45" fill="none" stroke-linejoin="round" stroke-dasharray="1.2,0.6"/>
<polyline points="479.28,286.50 482.21,286.40 486.47,286.24 490.97,286.21 494.62,286.50 496.90,286.79 498.46,287.10 500.02,288.15 502.30,290.65 505.78,295.52 509.97,302.13 514.17,308.88 517.65,314.14 520.11,317.48 521.97,319.75 523.59,321.30 525.33,322.43 527.06,323.08 528.68,323.12 530.54,322.82 533.00,322.43 536.30,321.94 540.20,321.22 544.33,320.42 548.35,319.67 552.01,319.01 555.55,318.37 559.32,317.69 563.70,316.90 569.46,315.87 576.17,314.66 582.41,313.54 586.73,312.76" stroke="#f7936a" stroke-width="0.45" fill="none" stroke-linejoin="round" stroke-dasharray="1.2,0.6"/>
<polyline points="479.28,286.50 482.21,286.40 486.47,286.24 490.97,286.21 494.62,286.50 496.90,286.66 498.46,286.76 500.02,287.76 502.30,290.65 505.60,296.64 509.50,304.90 513.63,313.29 517.65,319.67 521.49,323.46 525.32,325.80 529.16,327.15 533.00,327.96 536.84,328.08 540.67,327.36 544.51,326.24 548.35,325.20 552.01,324.29 555.55,323.30 559.32,322.22 563.70,321.05 569.46,319.64 576.17,318.03 582.41,316.55 586.73,315.52" stroke="#f7936a" stroke-width="0.45" fill="none" stroke-linejoin="round" stroke-dasharray="1.2,0.6"/>
<polyline points="479.28,286.50 482.21,286.37 486.47,286.15 490.97,286.11 494.62,286.50 496.90,286.78 498.46,287.02 500.02,288.38 502.30,292.03 505.60,299.46 509.50,309.65 513.63,320.01 517.65,327.96 521.49,332.76 525.32,335.82 529.16,337.71 533.00,339.02 536.84,339.61 540.67,339.28 544.51,338.47 548.35,337.63 552.01,336.82 555.55,335.82 559.32,334.69 563.70,333.49 569.46,332.07 576.17,330.46 582.41,328.99 586.73,327.96" stroke="#f7936a" stroke-width="0.45" fill="none" stroke-linejoin="round" stroke-dasharray="1.2,0.6"/>
<polyline points="479.28,286.50 482.21,286.49 486.47,286.46 490.97,286.61 494.62,287.19 496.90,287.60 498.46,287.93 500.02,289.44 502.30,293.41 505.60,301.32 509.50,312.11 513.63,323.23 517.65,332.11 521.49,338.36 525.32,343.25 529.16,346.71 533.00,348.69 536.84,348.58 540.67,346.62 544.51,343.96 548.35,341.78 552.01,340.33 555.55,339.02 559.32,337.70 563.70,336.25 569.46,334.46 576.17,332.45 582.41,330.62 586.73,329.34" stroke="#f7936a" stroke-width="0.45" fill="none" stroke-linejoin="round" stroke-dasharray="1.2,0.6"/>
<polyline points="479.28,286.50 482.21,286.40 486.47,286.24 490.97,286.21 494.62,286.50 496.90,286.73 498.46,286.93 500.02,287.96 502.30,290.65 505.60,295.91 509.50,303.08 513.63,310.60 517.65,316.90 521.49,321.84 525.32,326.15 529.16,329.63 533.00,332.11 536.84,333.27 540.67,333.32 544.51,332.75 548.35,332.11 552.01,331.39 555.55,330.38 559.32,329.19 563.70,327.96 569.46,326.55 576.17,324.94 582.41,323.46 586.73,322.43" stroke="#f7936a" stroke-width="0.45" fill="none" stroke-linejoin="round" stroke-dasharray="1.2,0.6"/>
<path d="M479.28,286.09 L480.65,285.99 L482.63,285.84 L484.85,285.70 L486.95,285.65 L488.94,285.67 L490.98,285.76 L492.92,285.89 L494.62,286.09 L495.99,286.27 L497.12,286.48 L498.15,286.81 L499.23,287.38 L500.35,288.14 L501.44,289.05 L502.58,290.26 L503.84,291.93 L505.23,294.11 L506.71,296.72 L508.30,299.70 L509.98,302.97 L511.79,306.84 L513.72,311.21 L515.70,315.53 L517.65,319.21 L519.57,322.09 L521.49,324.49 L523.41,326.52 L525.33,328.31 L527.24,329.86 L529.16,331.13 L531.08,332.12 L533.00,332.85 L534.92,333.26 L536.84,333.35 L538.76,333.26 L540.67,333.11 L542.59,332.92 L544.51,332.62 L546.43,332.24 L548.35,331.81 L550.27,331.32 L552.19,330.77 L554.11,330.18 L556.02,329.60 L557.94,329.05 L559.86,328.49 L561.78,327.94 L563.70,327.40 L565.62,326.87 L567.54,326.36 L569.46,325.84 L571.38,325.32 L573.29,324.77 L575.21,324.22 L577.13,323.66 L579.05,323.11 L581.15,322.51 L583.37,321.87 L585.35,321.30 L586.73,320.90 L586.73,326.17 L585.35,326.62 L583.37,327.26 L581.15,327.98 L579.05,328.66 L577.13,329.29 L575.21,329.92 L573.29,330.54 L571.38,331.16 L569.46,331.75 L567.54,332.33 L565.62,332.91 L563.70,333.50 L561.78,334.11 L559.86,334.74 L557.94,335.36 L556.02,335.99 L554.11,336.64 L552.19,337.30 L550.27,337.93 L548.35,338.48 L546.43,338.96 L544.51,339.39 L542.59,339.73 L540.67,339.94 L538.76,340.11 L536.84,340.21 L534.92,340.11 L533.00,339.65 L531.08,338.83 L529.16,337.71 L527.24,336.28 L525.33,334.52 L523.41,332.51 L521.49,330.22 L519.57,327.52 L517.65,324.27 L515.70,320.12 L513.72,315.25 L511.79,310.31 L509.98,305.96 L508.30,302.26 L506.71,298.91 L505.23,295.97 L503.84,293.51 L502.58,291.62 L501.44,290.26 L500.35,289.23 L499.23,288.38 L498.15,287.73 L497.12,287.35 L495.99,287.12 L494.62,286.91 L492.92,286.72 L490.98,286.60 L488.94,286.54 L486.95,286.52 L484.85,286.58 L482.63,286.70 L480.65,286.83 L479.28,286.91Z" stroke="none" stroke-width="0" fill="#9a9a9a" fill-opacity="0.45"/>
<path d="M479.28,286.09 L480.65,285.99 L482.63,285.84 L484.85,285.70 L486.95,285.65 L488.94,285.67 L490.98,285.76 L492.92,285.89 L494.62,286.09 L495.99,286.29 L497.12,286.52 L498.15,286.86 L499.23,287.38 L500.35,288.02 L501.44,288.76 L502.58,289.79 L503.84,291.28 L505.23,293.29 L506.71,295.71 L508.30,298.51 L509.98,301.67 L511.79,305.48 L513.72,309.83 L515.70,314.17 L517.65,317.91 L519.57,320.93 L521.49,323.52 L523.41,325.74 L525.33,327.66 L527.24,329.25 L529.16,330.50 L531.08,331.46 L533.00,332.20 L534.92,332.68 L536.84,332.88 L538.76,332.90 L540.67,332.85 L542.59,332.74 L544.51,332.51 L546.43,332.19 L548.35,331.81 L550.27,331.34 L552.19,330.77 L554.11,330.17 L556.02,329.60 L557.94,329.10 L559.86,328.61 L561.78,328.14 L563.70,327.66 L565.62,327.17 L567.54,326.68 L569.46,326.19 L571.38,325.71 L573.29,325.23 L575.21,324.76 L577.13,324.27 L579.05,323.76 L581.15,323.15 L583.37,322.47 L585.35,321.85 L586.73,321.42 L586.73,326.76 L585.35,327.24 L583.37,327.94 L581.15,328.71 L579.05,329.40 L577.13,329.98 L575.21,330.52 L573.29,331.06 L571.38,331.59 L569.46,332.14 L567.54,332.69 L565.62,333.24 L563.70,333.79 L561.78,334.33 L559.86,334.87 L557.94,335.42 L556.02,335.99 L554.11,336.62 L552.19,337.30 L550.27,337.94 L548.35,338.48 L546.43,338.91 L544.51,339.27 L542.59,339.52 L540.67,339.65 L538.76,339.71 L536.84,339.68 L534.92,339.46 L533.00,338.92 L531.08,338.08 L529.16,337.00 L527.24,335.59 L525.33,333.79 L523.41,331.63 L521.49,329.12 L519.57,326.20 L517.65,322.81 L515.70,318.59 L513.72,313.70 L511.79,308.78 L509.98,304.49 L508.30,300.93 L506.71,297.76 L505.23,295.03 L503.84,292.77 L502.58,291.09 L501.44,289.94 L500.35,289.10 L499.23,288.38 L498.15,287.78 L497.12,287.40 L495.99,287.14 L494.62,286.91 L492.92,286.72 L490.98,286.60 L488.94,286.54 L486.95,286.52 L484.85,286.58 L482.63,286.70 L480.65,286.83 L479.28,286.91Z" stroke="none" stroke-width="0" fill="#f08080" fill-opacity="0.45"/>
<polyline points="479.28,286.50 480.65,286.41 482.63,286.27 484.85,286.14 486.95,286.09 488.94,286.11 490.98,286.18 492.92,286.31 494.62,286.50 495.99,286.70 497.12,286.91 498.15,287.27 499.23,287.88 500.35,288.69 501.44,289.65 502.58,290.94 503.84,292.72 505.23,295.04 506.71,297.82 508.30,300.98 509.98,304.47 511.79,308.57 513.72,313.23 515.70,317.83 517.65,321.74 519.57,324.81 521.49,327.36 523.41,329.51 525.33,331.42 527.24,333.07 529.16,334.42 531.08,335.48 533.00,336.25 534.92,336.68 536.84,336.78 538.76,336.68 540.67,336.53 542.59,336.32 544.51,336.00 546.43,335.60 548.35,335.15 550.27,334.63 552.19,334.03 554.11,333.41 556.02,332.80 557.94,332.21 559.86,331.61 561.78,331.03 563.70,330.45 565.62,329.89 567.54,329.34 569.46,328.80 571.38,328.24 573.29,327.66 575.21,327.07 577.13,326.48 579.05,325.89 581.15,325.24 583.37,324.57 585.35,323.96 586.73,323.54" stroke="#111" stroke-width="1.2" fill="none" stroke-linejoin="round"/>
<polyline points="479.28,286.50 480.65,286.41 482.63,286.27 484.85,286.14 486.95,286.09 488.94,286.11 490.98,286.18 492.92,286.31 494.62,286.50 495.99,286.71 497.12,286.96 498.15,287.32 499.23,287.88 500.35,288.56 501.44,289.35 502.58,290.44 503.84,292.03 505.23,294.16 506.71,296.74 508.30,299.72 509.98,303.08 511.79,307.13 513.72,311.76 515.70,316.38 517.65,320.36 519.57,323.57 521.49,326.32 523.41,328.68 525.33,330.72 527.24,332.42 529.16,333.75 531.08,334.77 533.00,335.56 534.92,336.07 536.84,336.28 538.76,336.30 540.67,336.25 542.59,336.13 544.51,335.89 546.43,335.55 548.35,335.15 550.27,334.64 552.19,334.03 554.11,333.39 556.02,332.80 557.94,332.26 559.86,331.74 561.78,331.24 563.70,330.72 565.62,330.21 567.54,329.69 569.46,329.17 571.38,328.65 573.29,328.14 575.21,327.64 577.13,327.13 579.05,326.58 581.15,325.93 583.37,325.20 585.35,324.55 586.73,324.09" stroke="#e21f26" stroke-width="1.2" fill="none" stroke-linejoin="round"/>
<line x1="479.70" y1="286.00" x2="479.70" y2="383.20" stroke="#888" stroke-width="0.8"/>
<line x1="477.70" y1="286.50" x2="479.70" y2="286.50" stroke="#666" stroke-width="0.6"/>
<line x1="477.70" y1="300.32" x2="479.70" y2="300.32" stroke="#666" stroke-width="0.6"/>
<line x1="477.70" y1="314.14" x2="479.70" y2="314.14" stroke="#666" stroke-width="0.6"/>
<line x1="477.70" y1="327.96" x2="479.70" y2="327.96" stroke="#666" stroke-width="0.6"/>
<line x1="477.70" y1="341.78" x2="479.70" y2="341.78" stroke="#666" stroke-width="0.6"/>
<line x1="477.70" y1="355.60" x2="479.70" y2="355.60" stroke="#666" stroke-width="0.6"/>
<line x1="477.70" y1="369.42" x2="479.70" y2="369.42" stroke="#666" stroke-width="0.6"/>
<line x1="477.70" y1="383.24" x2="479.70" y2="383.24" stroke="#666" stroke-width="0.6"/>
<line x1="479.70" y1="383.20" x2="586.90" y2="383.20" stroke="#444" stroke-width="0.8"/>
<line x1="502.30" y1="383.20" x2="502.30" y2="385.20" stroke="#444" stroke-width="0.6"/>
<text x="502.30" y="392.30" font-size="6.9" text-anchor="middle" fill="#000" stroke="#000" stroke-width="0.07">-60</text>
<line x1="533.00" y1="383.20" x2="533.00" y2="385.20" stroke="#444" stroke-width="0.6"/>
<text x="533.00" y="392.30" font-size="6.9" text-anchor="middle" fill="#000" stroke="#000" stroke-width="0.07">-40</text>
<line x1="563.70" y1="383.20" x2="563.70" y2="385.20" stroke="#444" stroke-width="0.6"/>
<text x="563.70" y="392.30" font-size="6.9" text-anchor="middle" fill="#000" stroke="#000" stroke-width="0.07">-20</text>
<text x="533.20" y="400.50" font-size="7.05" text-anchor="middle" fill="#000" stroke="#000" stroke-width="0.07">Membrane Potential (mV)</text>
<text x="537.00" y="285.80" font-size="7.8" text-anchor="middle" fill="#000" stroke="#000" stroke-width="0.07" font-style="italic">90-120 days</text>
<line x1="483.70" y1="369.90" x2="487.70" y2="369.90" stroke="#444" stroke-width="0.9"/>
<line x1="483.70" y1="378.90" x2="487.70" y2="378.90" stroke="#e21f26" stroke-width="1.2"/>
<text x="489.10" y="372.20" font-size="6.3" text-anchor="start" fill="#000" stroke="#000" stroke-width="0.07">Neurotypical (n = 258 neurons)</text>
<text x="489.10" y="381.20" font-size="6.3" text-anchor="start" fill="#000" stroke="#000" stroke-width="0.07">MPSIIIA (n = 265 neurons)</text>
<polyline points="579.00,369.40 581.00,369.40 581.00,379.80 579.00,379.80" stroke="#333" stroke-width="0.5" fill="none" stroke-linejoin="round"/>
<text x="583.40" y="377.30" font-size="5.6" text-anchor="start" fill="#000" stroke="#000" stroke-width="0.07">ns</text>
<text x="326.60" y="335.00" font-size="7.0" text-anchor="middle" fill="#000" stroke="#000" stroke-width="0.07" transform="rotate(-90 326.60 335.00)">Current (pA)</text>
<line x1="593.20" y1="290.20" x2="599.60" y2="290.20" stroke="#c8c8c8" stroke-width="1.1"/>
<line x1="593.20" y1="305.10" x2="599.60" y2="305.10" stroke="#f28a8a" stroke-width="1.1"/>
<text x="602.00" y="291.70" font-size="6.5" text-anchor="start" fill="#000" stroke="#000" stroke-width="0.07">Mean of individual</text>
<text x="602.00" y="299.10" font-size="6.5" text-anchor="start" fill="#000" stroke="#000" stroke-width="0.07">neurotypical donors</text>
<text x="602.00" y="306.70" font-size="6.5" text-anchor="start" fill="#000" stroke="#000" stroke-width="0.07">Mean of individual</text>
<text x="602.00" y="314.30" font-size="6.5" text-anchor="start" fill="#000" stroke="#000" stroke-width="0.07">MPSIIIA donors</text>
<text x="15.80" y="418.30" font-size="10.5" text-anchor="start" fill="#000" stroke="#000" stroke-width="0.45" font-weight="bold">H</text>
<line x1="31.40" y1="433.40" x2="89.00" y2="433.40" stroke="#b5b5b5" stroke-width="0.8"/>
<line x1="31.40" y1="433.40" x2="31.40" y2="498.60" stroke="#222" stroke-width="0.9"/>
<line x1="29.20" y1="433.40" x2="31.40" y2="433.40" stroke="#222" stroke-width="0.8"/>
<line x1="29.20" y1="442.71" x2="31.40" y2="442.71" stroke="#222" stroke-width="0.8"/>
<line x1="29.20" y1="452.02" x2="31.40" y2="452.02" stroke="#222" stroke-width="0.8"/>
<line x1="29.20" y1="461.33" x2="31.40" y2="461.33" stroke="#222" stroke-width="0.8"/>
<line x1="29.20" y1="470.64" x2="31.40" y2="470.64" stroke="#222" stroke-width="0.8"/>
<line x1="29.20" y1="479.95" x2="31.40" y2="479.95" stroke="#222" stroke-width="0.8"/>
<line x1="29.20" y1="489.26" x2="31.40" y2="489.26" stroke="#222" stroke-width="0.8"/>
<line x1="29.20" y1="498.57" x2="31.40" y2="498.57" stroke="#222" stroke-width="0.8"/>
<text x="28.60" y="435.81" font-size="6.7" text-anchor="end" fill="#000" stroke="#000" stroke-width="0.07">0</text>
<text x="28.60" y="445.12" font-size="6.7" text-anchor="end" fill="#000" stroke="#000" stroke-width="0.07">-2500</text>
<text x="28.60" y="454.43" font-size="6.7" text-anchor="end" fill="#000" stroke="#000" stroke-width="0.07">-5000</text>
<text x="28.60" y="463.74" font-size="6.7" text-anchor="end" fill="#000" stroke="#000" stroke-width="0.07">-7500</text>
<text x="28.60" y="473.05" font-size="6.7" text-anchor="end" fill="#000" stroke="#000" stroke-width="0.07">-10000</text>
<text x="28.60" y="482.36" font-size="6.7" text-anchor="end" fill="#000" stroke="#000" stroke-width="0.07">-12500</text>
<text x="28.60" y="491.67" font-size="6.7" text-anchor="end" fill="#000" stroke="#000" stroke-width="0.07">-15000</text>
<text x="28.60" y="500.98" font-size="6.7" text-anchor="end" fill="#000" stroke="#000" stroke-width="0.07">-17500</text>
<line x1="30.70" y1="498.40" x2="89.00" y2="498.40" stroke="#222" stroke-width="0.9"/>
<line x1="41.70" y1="498.40" x2="41.70" y2="500.40" stroke="#222" stroke-width="0.8"/>
<line x1="53.25" y1="498.40" x2="53.25" y2="500.40" stroke="#222" stroke-width="0.8"/>
<line x1="67.10" y1="498.40" x2="67.10" y2="500.40" stroke="#222" stroke-width="0.8"/>
<line x1="78.95" y1="498.40" x2="78.95" y2="500.40" stroke="#222" stroke-width="0.8"/>
<circle cx="42.01" cy="433.81" r="1.05" fill="none" stroke="#8a8a8a" stroke-width="0.5"/>
<circle cx="45.26" cy="435.12" r="1.05" fill="none" stroke="#8a8a8a" stroke-width="0.5"/>
<circle cx="41.99" cy="434.11" r="1.05" fill="none" stroke="#8a8a8a" stroke-width="0.5"/>
<circle cx="42.14" cy="434.12" r="1.05" fill="none" stroke="#8a8a8a" stroke-width="0.5"/>
<circle cx="44.71" cy="435.52" r="1.05" fill="none" stroke="#8a8a8a" stroke-width="0.5"/>
<circle cx="43.90" cy="435.79" r="1.05" fill="none" stroke="#8a8a8a" stroke-width="0.5"/>
<circle cx="40.45" cy="433.16" r="1.05" fill="none" stroke="#8a8a8a" stroke-width="0.5"/>
<circle cx="42.00" cy="435.84" r="1.05" fill="none" stroke="#8a8a8a" stroke-width="0.5"/>
<circle cx="42.42" cy="433.43" r="1.05" fill="none" stroke="#8a8a8a" stroke-width="0.5"/>
<circle cx="40.37" cy="435.81" r="1.05" fill="none" stroke="#8a8a8a" stroke-width="0.5"/>
<circle cx="38.91" cy="434.06" r="1.05" fill="none" stroke="#8a8a8a" stroke-width="0.5"/>
<circle cx="40.39" cy="435.93" r="1.05" fill="none" stroke="#8a8a8a" stroke-width="0.5"/>
<circle cx="52.77" cy="435.02" r="1.05" fill="none" stroke="#8a8a8a" stroke-width="0.5"/>
<circle cx="52.14" cy="435.23" r="1.05" fill="none" stroke="#8a8a8a" stroke-width="0.5"/>
<circle cx="51.14" cy="436.34" r="1.05" fill="none" stroke="#8a8a8a" stroke-width="0.5"/>
<circle cx="55.81" cy="434.80" r="1.05" fill="none" stroke="#8a8a8a" stroke-width="0.5"/>
<circle cx="56.92" cy="435.42" r="1.05" fill="none" stroke="#8a8a8a" stroke-width="0.5"/>
<circle cx="52.15" cy="434.15" r="1.05" fill="none" stroke="#8a8a8a" stroke-width="0.5"/>
<circle cx="50.34" cy="434.22" r="1.05" fill="none" stroke="#8a8a8a" stroke-width="0.5"/>
<circle cx="53.32" cy="433.30" r="1.05" fill="none" stroke="#8a8a8a" stroke-width="0.5"/>
<circle cx="53.88" cy="434.19" r="1.05" fill="none" stroke="#8a8a8a" stroke-width="0.5"/>
<circle cx="55.54" cy="436.84" r="1.05" fill="none" stroke="#8a8a8a" stroke-width="0.5"/>
<circle cx="52.09" cy="436.11" r="1.05" fill="none" stroke="#8a8a8a" stroke-width="0.5"/>
<circle cx="56.80" cy="434.54" r="1.05" fill="none" stroke="#8a8a8a" stroke-width="0.5"/>
<circle cx="67.04" cy="433.58" r="1.05" fill="none" stroke="#8a8a8a" stroke-width="0.5"/>
<circle cx="71.92" cy="435.02" r="1.05" fill="none" stroke="#8a8a8a" stroke-width="0.5"/>
<circle cx="68.98" cy="436.25" r="1.05" fill="none" stroke="#8a8a8a" stroke-width="0.5"/>
<circle cx="64.31" cy="435.72" r="1.05" fill="none" stroke="#8a8a8a" stroke-width="0.5"/>
<circle cx="66.75" cy="436.65" r="1.05" fill="none" stroke="#8a8a8a" stroke-width="0.5"/>
<circle cx="63.37" cy="435.33" r="1.05" fill="none" stroke="#8a8a8a" stroke-width="0.5"/>
<circle cx="69.82" cy="434.23" r="1.05" fill="none" stroke="#8a8a8a" stroke-width="0.5"/>
<circle cx="64.74" cy="433.50" r="1.05" fill="none" stroke="#8a8a8a" stroke-width="0.5"/>
<circle cx="65.87" cy="434.30" r="1.05" fill="none" stroke="#8a8a8a" stroke-width="0.5"/>
<circle cx="66.94" cy="434.96" r="1.05" fill="none" stroke="#8a8a8a" stroke-width="0.5"/>
<circle cx="63.91" cy="433.73" r="1.05" fill="none" stroke="#8a8a8a" stroke-width="0.5"/>
<circle cx="65.41" cy="434.43" r="1.05" fill="none" stroke="#8a8a8a" stroke-width="0.5"/>
<circle cx="67.69" cy="435.16" r="1.05" fill="none" stroke="#8a8a8a" stroke-width="0.5"/>
<circle cx="82.63" cy="435.48" r="1.05" fill="none" stroke="#8a8a8a" stroke-width="0.5"/>
<circle cx="78.31" cy="433.44" r="1.05" fill="none" stroke="#8a8a8a" stroke-width="0.5"/>
<circle cx="79.66" cy="433.25" r="1.05" fill="none" stroke="#8a8a8a" stroke-width="0.5"/>
<circle cx="77.71" cy="433.95" r="1.05" fill="none" stroke="#8a8a8a" stroke-width="0.5"/>
<circle cx="76.10" cy="437.09" r="1.05" fill="none" stroke="#8a8a8a" stroke-width="0.5"/>
<circle cx="77.75" cy="433.77" r="1.05" fill="none" stroke="#8a8a8a" stroke-width="0.5"/>
<circle cx="78.79" cy="437.06" r="1.05" fill="none" stroke="#8a8a8a" stroke-width="0.5"/>
<circle cx="82.47" cy="436.13" r="1.05" fill="none" stroke="#8a8a8a" stroke-width="0.5"/>
<circle cx="78.57" cy="434.15" r="1.05" fill="none" stroke="#8a8a8a" stroke-width="0.5"/>
<circle cx="80.70" cy="433.83" r="1.05" fill="none" stroke="#8a8a8a" stroke-width="0.5"/>
<circle cx="80.08" cy="433.10" r="1.05" fill="none" stroke="#8a8a8a" stroke-width="0.5"/>
<circle cx="79.58" cy="434.75" r="1.05" fill="none" stroke="#8a8a8a" stroke-width="0.5"/>
<circle cx="81.74" cy="433.93" r="1.05" fill="none" stroke="#8a8a8a" stroke-width="0.5"/>
<circle cx="78.58" cy="434.59" r="1.05" fill="none" stroke="#8a8a8a" stroke-width="0.5"/>
<circle cx="79.42" cy="437.69" r="1.05" fill="none" stroke="#8a8a8a" stroke-width="0.5"/>
<circle cx="39.89" cy="465.26" r="1.05" fill="none" stroke="#8a8a8a" stroke-width="0.5"/>
<circle cx="42.18" cy="472.55" r="1.05" fill="none" stroke="#8a8a8a" stroke-width="0.5"/>
<circle cx="40.86" cy="472.15" r="1.05" fill="none" stroke="#8a8a8a" stroke-width="0.5"/>
<circle cx="44.22" cy="469.22" r="1.05" fill="none" stroke="#8a8a8a" stroke-width="0.5"/>
<circle cx="40.70" cy="475.09" r="1.05" fill="none" stroke="#8a8a8a" stroke-width="0.5"/>
<circle cx="39.56" cy="466.37" r="1.05" fill="none" stroke="#8a8a8a" stroke-width="0.5"/>
<circle cx="39.41" cy="473.70" r="1.05" fill="none" stroke="#8a8a8a" stroke-width="0.5"/>
<circle cx="44.15" cy="472.86" r="1.05" fill="none" stroke="#8a8a8a" stroke-width="0.5"/>
<circle cx="41.19" cy="475.55" r="1.05" fill="none" stroke="#8a8a8a" stroke-width="0.5"/>
<circle cx="40.10" cy="474.95" r="1.05" fill="none" stroke="#8a8a8a" stroke-width="0.5"/>
<circle cx="40.21" cy="474.32" r="1.05" fill="none" stroke="#8a8a8a" stroke-width="0.5"/>
<circle cx="39.13" cy="472.87" r="1.05" fill="none" stroke="#8a8a8a" stroke-width="0.5"/>
<circle cx="44.63" cy="470.08" r="1.05" fill="none" stroke="#8a8a8a" stroke-width="0.5"/>
<circle cx="39.90" cy="465.41" r="1.05" fill="none" stroke="#8a8a8a" stroke-width="0.5"/>
<circle cx="38.61" cy="468.79" r="1.05" fill="none" stroke="#8a8a8a" stroke-width="0.5"/>
<circle cx="52.12" cy="461.75" r="1.05" fill="none" stroke="#8a8a8a" stroke-width="0.5"/>
<circle cx="51.43" cy="467.15" r="1.05" fill="none" stroke="#8a8a8a" stroke-width="0.5"/>
<circle cx="54.35" cy="469.54" r="1.05" fill="none" stroke="#8a8a8a" stroke-width="0.5"/>
<circle cx="53.08" cy="467.68" r="1.05" fill="none" stroke="#8a8a8a" stroke-width="0.5"/>
<circle cx="52.18" cy="468.44" r="1.05" fill="none" stroke="#8a8a8a" stroke-width="0.5"/>
<circle cx="52.47" cy="466.43" r="1.05" fill="none" stroke="#8a8a8a" stroke-width="0.5"/>
<circle cx="56.41" cy="465.41" r="1.05" fill="none" stroke="#8a8a8a" stroke-width="0.5"/>
<circle cx="54.41" cy="462.95" r="1.05" fill="none" stroke="#8a8a8a" stroke-width="0.5"/>
<circle cx="51.31" cy="467.90" r="1.05" fill="none" stroke="#8a8a8a" stroke-width="0.5"/>
<circle cx="53.10" cy="469.93" r="1.05" fill="none" stroke="#8a8a8a" stroke-width="0.5"/>
<circle cx="51.96" cy="465.89" r="1.05" fill="none" stroke="#8a8a8a" stroke-width="0.5"/>
<circle cx="56.21" cy="466.02" r="1.05" fill="none" stroke="#8a8a8a" stroke-width="0.5"/>
<circle cx="67.51" cy="471.63" r="1.05" fill="none" stroke="#8a8a8a" stroke-width="0.5"/>
<circle cx="67.67" cy="473.14" r="1.05" fill="none" stroke="#8a8a8a" stroke-width="0.5"/>
<circle cx="69.16" cy="475.81" r="1.05" fill="none" stroke="#8a8a8a" stroke-width="0.5"/>
<circle cx="68.79" cy="474.40" r="1.05" fill="none" stroke="#8a8a8a" stroke-width="0.5"/>
<circle cx="66.92" cy="473.27" r="1.05" fill="none" stroke="#8a8a8a" stroke-width="0.5"/>
<circle cx="69.13" cy="476.22" r="1.05" fill="none" stroke="#8a8a8a" stroke-width="0.5"/>
<circle cx="67.93" cy="473.30" r="1.05" fill="none" stroke="#8a8a8a" stroke-width="0.5"/>
<circle cx="68.29" cy="467.68" r="1.05" fill="none" stroke="#8a8a8a" stroke-width="0.5"/>
<circle cx="67.87" cy="474.06" r="1.05" fill="none" stroke="#8a8a8a" stroke-width="0.5"/>
<circle cx="67.44" cy="468.81" r="1.05" fill="none" stroke="#8a8a8a" stroke-width="0.5"/>
<circle cx="65.03" cy="473.67" r="1.05" fill="none" stroke="#8a8a8a" stroke-width="0.5"/>
<circle cx="68.60" cy="471.53" r="1.05" fill="none" stroke="#8a8a8a" stroke-width="0.5"/>
<circle cx="68.08" cy="475.58" r="1.05" fill="none" stroke="#8a8a8a" stroke-width="0.5"/>
<circle cx="69.56" cy="474.41" r="1.05" fill="none" stroke="#8a8a8a" stroke-width="0.5"/>
<circle cx="65.16" cy="475.70" r="1.05" fill="none" stroke="#8a8a8a" stroke-width="0.5"/>
<circle cx="78.93" cy="475.21" r="1.05" fill="none" stroke="#8a8a8a" stroke-width="0.5"/>
<circle cx="78.02" cy="472.09" r="1.05" fill="none" stroke="#8a8a8a" stroke-width="0.5"/>
<circle cx="78.41" cy="468.02" r="1.05" fill="none" stroke="#8a8a8a" stroke-width="0.5"/>
<circle cx="77.37" cy="468.56" r="1.05" fill="none" stroke="#8a8a8a" stroke-width="0.5"/>
<circle cx="77.04" cy="468.45" r="1.05" fill="none" stroke="#8a8a8a" stroke-width="0.5"/>
<circle cx="76.49" cy="471.98" r="1.05" fill="none" stroke="#8a8a8a" stroke-width="0.5"/>
<circle cx="78.17" cy="472.60" r="1.05" fill="none" stroke="#8a8a8a" stroke-width="0.5"/>
<circle cx="79.50" cy="475.16" r="1.05" fill="none" stroke="#8a8a8a" stroke-width="0.5"/>
<circle cx="79.64" cy="473.94" r="1.05" fill="none" stroke="#8a8a8a" stroke-width="0.5"/>
<circle cx="81.08" cy="473.77" r="1.05" fill="none" stroke="#8a8a8a" stroke-width="0.5"/>
<circle cx="78.01" cy="475.97" r="1.05" fill="none" stroke="#8a8a8a" stroke-width="0.5"/>
<circle cx="77.87" cy="469.66" r="1.05" fill="none" stroke="#8a8a8a" stroke-width="0.5"/>
<circle cx="80.16" cy="468.92" r="1.05" fill="none" stroke="#8a8a8a" stroke-width="0.5"/>
<circle cx="77.46" cy="475.29" r="1.05" fill="none" stroke="#8a8a8a" stroke-width="0.5"/>
<circle cx="80.69" cy="468.51" r="1.05" fill="none" stroke="#8a8a8a" stroke-width="0.5"/>
<circle cx="53.30" cy="474.00" r="0.9" fill="none" stroke="#8a8a8a" stroke-width="0.5"/>
<circle cx="53.30" cy="478.00" r="0.9" fill="none" stroke="#8a8a8a" stroke-width="0.5"/>
<circle cx="53.30" cy="482.00" r="0.9" fill="none" stroke="#8a8a8a" stroke-width="0.5"/>
<circle cx="53.30" cy="486.00" r="0.9" fill="none" stroke="#8a8a8a" stroke-width="0.5"/>
<circle cx="53.30" cy="489.00" r="0.9" fill="none" stroke="#8a8a8a" stroke-width="0.5"/>
<circle cx="67.10" cy="490.80" r="0.9" fill="none" stroke="#8a8a8a" stroke-width="0.5"/>
<circle cx="79.00" cy="480.00" r="0.9" fill="none" stroke="#8a8a8a" stroke-width="0.5"/>
<circle cx="79.00" cy="484.00" r="0.9" fill="none" stroke="#8a8a8a" stroke-width="0.5"/>
<line x1="41.70" y1="434.50" x2="41.70" y2="437.40" stroke="#222" stroke-width="0.9"/>
<line x1="41.70" y1="451.60" x2="41.70" y2="460.70" stroke="#222" stroke-width="0.9"/>
<rect x="36.40" y="437.40" width="10.60" height="14.20" fill="#808080" stroke="#1a1a1a" stroke-width="1.0"/>
<line x1="36.40" y1="442.50" x2="47.00" y2="442.50" stroke="#111" stroke-width="1.0"/>
<path d="M40.20,446.00 L41.70,444.50 L43.20,446.00 L41.70,447.50Z" fill="#2a7fc0"/>
<line x1="53.25" y1="434.50" x2="53.25" y2="438.00" stroke="#222" stroke-width="0.9"/>
<line x1="53.25" y1="451.60" x2="53.25" y2="460.00" stroke="#222" stroke-width="0.9"/>
<rect x="48.20" y="438.00" width="10.10" height="13.60" fill="#ff2a00" stroke="#1a1a1a" stroke-width="1.0"/>
<line x1="48.20" y1="441.50" x2="58.30" y2="441.50" stroke="#3a0800" stroke-width="1.0"/>
<path d="M51.80,447.50 L53.30,446.00 L54.80,447.50 L53.30,449.00Z" fill="#2a7fc0"/>
<line x1="67.10" y1="434.50" x2="67.10" y2="440.50" stroke="#222" stroke-width="0.9"/>
<line x1="67.10" y1="457.30" x2="67.10" y2="466.00" stroke="#222" stroke-width="0.9"/>
<rect x="61.70" y="440.50" width="10.80" height="16.80" fill="#808080" stroke="#1a1a1a" stroke-width="1.0"/>
<line x1="61.70" y1="448.20" x2="72.50" y2="448.20" stroke="#111" stroke-width="1.0"/>
<path d="M65.60,450.00 L67.10,448.50 L68.60,450.00 L67.10,451.50Z" fill="#2a7fc0"/>
<line x1="78.95" y1="435.00" x2="78.95" y2="442.50" stroke="#222" stroke-width="0.9"/>
<line x1="78.95" y1="457.70" x2="78.95" y2="466.00" stroke="#222" stroke-width="0.9"/>
<rect x="73.90" y="442.50" width="10.10" height="15.20" fill="#ff2a00" stroke="#1a1a1a" stroke-width="1.0"/>
<line x1="73.90" y1="447.00" x2="84.00" y2="447.00" stroke="#3a0800" stroke-width="1.0"/>
<path d="M77.50,451.00 L79.00,449.50 L80.50,451.00 L79.00,452.50Z" fill="#2a7fc0"/>
<polyline points="41.50,428.70 41.50,426.30 53.00,426.30 53.00,428.70" stroke="#333" stroke-width="0.6" fill="none" stroke-linejoin="round"/>
<text x="47.25" y="424.30" font-size="6.3" text-anchor="middle" fill="#000" stroke="#000" stroke-width="0.07">ns</text>
<polyline points="66.80,428.70 66.80,426.30 78.50,426.30 78.50,428.70" stroke="#333" stroke-width="0.6" fill="none" stroke-linejoin="round"/>
<text x="72.65" y="424.30" font-size="6.3" text-anchor="middle" fill="#000" stroke="#000" stroke-width="0.07">ns</text>
<text x="6.30" y="463.50" font-size="6.6" text-anchor="middle" fill="#000" stroke="#000" stroke-width="0.07" transform="rotate(-90 6.30 463.50)">Maximum Nav peak (pA)</text>
<text x="43.50" y="507.60" font-size="6.6" text-anchor="end" fill="#000" stroke="#000" stroke-width="0.07" transform="rotate(-45 43.50 507.60)">Neurotypical</text>
<text x="55.05" y="507.60" font-size="6.6" text-anchor="end" fill="#000" stroke="#000" stroke-width="0.07" transform="rotate(-45 55.05 507.60)">MPSIIIA</text>
<text x="68.90" y="507.60" font-size="6.6" text-anchor="end" fill="#000" stroke="#000" stroke-width="0.07" transform="rotate(-45 68.90 507.60)">Neurotypical</text>
<text x="80.75" y="507.60" font-size="6.6" text-anchor="end" fill="#000" stroke="#000" stroke-width="0.07" transform="rotate(-45 80.75 507.60)">MPSIIIA</text>
<text x="43.00" y="537.30" font-size="5.1" text-anchor="middle" fill="#999999" stroke="#999999" stroke-width="0.07" font-style="italic">30-60 days</text>
<text x="73.20" y="537.30" font-size="5.1" text-anchor="middle" fill="#999999" stroke="#999999" stroke-width="0.07" font-style="italic">90-120 days</text>
<line x1="120.10" y1="430.90" x2="120.10" y2="497.60" stroke="#222" stroke-width="0.9"/>
<line x1="117.90" y1="430.86" x2="120.10" y2="430.86" stroke="#222" stroke-width="0.8"/>
<line x1="117.90" y1="441.98" x2="120.10" y2="441.98" stroke="#222" stroke-width="0.8"/>
<line x1="117.90" y1="453.10" x2="120.10" y2="453.10" stroke="#222" stroke-width="0.8"/>
<line x1="117.90" y1="464.22" x2="120.10" y2="464.22" stroke="#222" stroke-width="0.8"/>
<line x1="117.90" y1="475.34" x2="120.10" y2="475.34" stroke="#222" stroke-width="0.8"/>
<line x1="117.90" y1="486.46" x2="120.10" y2="486.46" stroke="#222" stroke-width="0.8"/>
<line x1="117.90" y1="497.58" x2="120.10" y2="497.58" stroke="#222" stroke-width="0.8"/>
<line x1="118.80" y1="436.42" x2="120.10" y2="436.42" stroke="#222" stroke-width="0.6"/>
<line x1="118.80" y1="447.54" x2="120.10" y2="447.54" stroke="#222" stroke-width="0.6"/>
<line x1="118.80" y1="458.66" x2="120.10" y2="458.66" stroke="#222" stroke-width="0.6"/>
<line x1="118.80" y1="469.78" x2="120.10" y2="469.78" stroke="#222" stroke-width="0.6"/>
<line x1="118.80" y1="480.90" x2="120.10" y2="480.90" stroke="#222" stroke-width="0.6"/>
<line x1="118.80" y1="492.02" x2="120.10" y2="492.02" stroke="#222" stroke-width="0.6"/>
<text x="117.60" y="433.24" font-size="6.6" text-anchor="end" fill="#000" stroke="#000" stroke-width="0.07">40</text>
<text x="117.60" y="444.36" font-size="6.6" text-anchor="end" fill="#000" stroke="#000" stroke-width="0.07">20</text>
<text x="117.60" y="455.48" font-size="6.6" text-anchor="end" fill="#000" stroke="#000" stroke-width="0.07">0</text>
<text x="117.60" y="466.60" font-size="6.6" text-anchor="end" fill="#000" stroke="#000" stroke-width="0.07">-20</text>
<text x="117.60" y="477.72" font-size="6.6" text-anchor="end" fill="#000" stroke="#000" stroke-width="0.07">-40</text>
<text x="117.60" y="488.84" font-size="6.6" text-anchor="end" fill="#000" stroke="#000" stroke-width="0.07">-60</text>
<text x="117.60" y="499.96" font-size="6.6" text-anchor="end" fill="#000" stroke="#000" stroke-width="0.07">-80</text>
<line x1="120.10" y1="497.60" x2="175.50" y2="497.60" stroke="#222" stroke-width="0.9"/>
<line x1="131.40" y1="497.60" x2="131.40" y2="499.60" stroke="#222" stroke-width="0.8"/>
<line x1="143.05" y1="497.60" x2="143.05" y2="499.60" stroke="#222" stroke-width="0.8"/>
<line x1="157.75" y1="497.60" x2="157.75" y2="499.60" stroke="#222" stroke-width="0.8"/>
<line x1="169.55" y1="497.60" x2="169.55" y2="499.60" stroke="#222" stroke-width="0.8"/>
<circle cx="131.40" cy="442.00" r="0.85" fill="none" stroke="#8a8a8a" stroke-width="0.5"/>
<circle cx="131.40" cy="444.50" r="0.85" fill="none" stroke="#8a8a8a" stroke-width="0.5"/>
<circle cx="131.40" cy="450.00" r="0.85" fill="none" stroke="#8a8a8a" stroke-width="0.5"/>
<circle cx="129.50" cy="456.00" r="0.85" fill="none" stroke="#8a8a8a" stroke-width="0.5"/>
<circle cx="131.40" cy="456.00" r="0.85" fill="none" stroke="#8a8a8a" stroke-width="0.5"/>
<circle cx="133.30" cy="456.00" r="0.85" fill="none" stroke="#8a8a8a" stroke-width="0.5"/>
<circle cx="128.55" cy="458.50" r="0.85" fill="none" stroke="#8a8a8a" stroke-width="0.5"/>
<circle cx="130.45" cy="458.50" r="0.85" fill="none" stroke="#8a8a8a" stroke-width="0.5"/>
<circle cx="132.35" cy="458.50" r="0.85" fill="none" stroke="#8a8a8a" stroke-width="0.5"/>
<circle cx="134.25" cy="458.50" r="0.85" fill="none" stroke="#8a8a8a" stroke-width="0.5"/>
<circle cx="127.60" cy="484.50" r="0.85" fill="none" stroke="#8a8a8a" stroke-width="0.5"/>
<circle cx="129.50" cy="484.50" r="0.85" fill="none" stroke="#8a8a8a" stroke-width="0.5"/>
<circle cx="131.40" cy="484.50" r="0.85" fill="none" stroke="#8a8a8a" stroke-width="0.5"/>
<circle cx="133.30" cy="484.50" r="0.85" fill="none" stroke="#8a8a8a" stroke-width="0.5"/>
<circle cx="135.20" cy="484.50" r="0.85" fill="none" stroke="#8a8a8a" stroke-width="0.5"/>
<circle cx="128.55" cy="487.00" r="0.85" fill="none" stroke="#8a8a8a" stroke-width="0.5"/>
<circle cx="130.45" cy="487.00" r="0.85" fill="none" stroke="#8a8a8a" stroke-width="0.5"/>
<circle cx="132.35" cy="487.00" r="0.85" fill="none" stroke="#8a8a8a" stroke-width="0.5"/>
<circle cx="134.25" cy="487.00" r="0.85" fill="none" stroke="#8a8a8a" stroke-width="0.5"/>
<circle cx="139.20" cy="442.00" r="0.85" fill="none" stroke="#8a8a8a" stroke-width="0.5"/>
<circle cx="141.10" cy="442.00" r="0.85" fill="none" stroke="#8a8a8a" stroke-width="0.5"/>
<circle cx="143.00" cy="442.00" r="0.85" fill="none" stroke="#8a8a8a" stroke-width="0.5"/>
<circle cx="144.90" cy="442.00" r="0.85" fill="none" stroke="#8a8a8a" stroke-width="0.5"/>
<circle cx="146.80" cy="442.00" r="0.85" fill="none" stroke="#8a8a8a" stroke-width="0.5"/>
<circle cx="143.00" cy="444.50" r="0.85" fill="none" stroke="#8a8a8a" stroke-width="0.5"/>
<circle cx="143.00" cy="447.00" r="0.85" fill="none" stroke="#8a8a8a" stroke-width="0.5"/>
<circle cx="140.15" cy="458.50" r="0.85" fill="none" stroke="#8a8a8a" stroke-width="0.5"/>
<circle cx="142.05" cy="458.50" r="0.85" fill="none" stroke="#8a8a8a" stroke-width="0.5"/>
<circle cx="143.95" cy="458.50" r="0.85" fill="none" stroke="#8a8a8a" stroke-width="0.5"/>
<circle cx="145.85" cy="458.50" r="0.85" fill="none" stroke="#8a8a8a" stroke-width="0.5"/>
<circle cx="140.15" cy="484.50" r="0.85" fill="none" stroke="#8a8a8a" stroke-width="0.5"/>
<circle cx="142.05" cy="484.50" r="0.85" fill="none" stroke="#8a8a8a" stroke-width="0.5"/>
<circle cx="143.95" cy="484.50" r="0.85" fill="none" stroke="#8a8a8a" stroke-width="0.5"/>
<circle cx="145.85" cy="484.50" r="0.85" fill="none" stroke="#8a8a8a" stroke-width="0.5"/>
<circle cx="139.20" cy="487.00" r="0.85" fill="none" stroke="#8a8a8a" stroke-width="0.5"/>
<circle cx="141.10" cy="487.00" r="0.85" fill="none" stroke="#8a8a8a" stroke-width="0.5"/>
<circle cx="143.00" cy="487.00" r="0.85" fill="none" stroke="#8a8a8a" stroke-width="0.5"/>
<circle cx="144.90" cy="487.00" r="0.85" fill="none" stroke="#8a8a8a" stroke-width="0.5"/>
<circle cx="146.80" cy="487.00" r="0.85" fill="none" stroke="#8a8a8a" stroke-width="0.5"/>
<circle cx="157.70" cy="442.00" r="0.85" fill="none" stroke="#8a8a8a" stroke-width="0.5"/>
<circle cx="155.80" cy="456.00" r="0.85" fill="none" stroke="#8a8a8a" stroke-width="0.5"/>
<circle cx="157.70" cy="456.00" r="0.85" fill="none" stroke="#8a8a8a" stroke-width="0.5"/>
<circle cx="159.60" cy="456.00" r="0.85" fill="none" stroke="#8a8a8a" stroke-width="0.5"/>
<circle cx="153.90" cy="458.50" r="0.85" fill="none" stroke="#8a8a8a" stroke-width="0.5"/>
<circle cx="155.80" cy="458.50" r="0.85" fill="none" stroke="#8a8a8a" stroke-width="0.5"/>
<circle cx="157.70" cy="458.50" r="0.85" fill="none" stroke="#8a8a8a" stroke-width="0.5"/>
<circle cx="159.60" cy="458.50" r="0.85" fill="none" stroke="#8a8a8a" stroke-width="0.5"/>
<circle cx="161.50" cy="458.50" r="0.85" fill="none" stroke="#8a8a8a" stroke-width="0.5"/>
<circle cx="154.85" cy="484.50" r="0.85" fill="none" stroke="#8a8a8a" stroke-width="0.5"/>
<circle cx="156.75" cy="484.50" r="0.85" fill="none" stroke="#8a8a8a" stroke-width="0.5"/>
<circle cx="158.65" cy="484.50" r="0.85" fill="none" stroke="#8a8a8a" stroke-width="0.5"/>
<circle cx="160.55" cy="484.50" r="0.85" fill="none" stroke="#8a8a8a" stroke-width="0.5"/>
<circle cx="157.70" cy="489.00" r="0.85" fill="none" stroke="#8a8a8a" stroke-width="0.5"/>
<circle cx="157.70" cy="491.50" r="0.85" fill="none" stroke="#8a8a8a" stroke-width="0.5"/>
<circle cx="167.60" cy="442.00" r="0.85" fill="none" stroke="#8a8a8a" stroke-width="0.5"/>
<circle cx="169.50" cy="442.00" r="0.85" fill="none" stroke="#8a8a8a" stroke-width="0.5"/>
<circle cx="171.40" cy="442.00" r="0.85" fill="none" stroke="#8a8a8a" stroke-width="0.5"/>
<circle cx="167.60" cy="453.00" r="0.85" fill="none" stroke="#8a8a8a" stroke-width="0.5"/>
<circle cx="169.50" cy="453.00" r="0.85" fill="none" stroke="#8a8a8a" stroke-width="0.5"/>
<circle cx="171.40" cy="453.00" r="0.85" fill="none" stroke="#8a8a8a" stroke-width="0.5"/>
<circle cx="166.65" cy="458.50" r="0.85" fill="none" stroke="#8a8a8a" stroke-width="0.5"/>
<circle cx="168.55" cy="458.50" r="0.85" fill="none" stroke="#8a8a8a" stroke-width="0.5"/>
<circle cx="170.45" cy="458.50" r="0.85" fill="none" stroke="#8a8a8a" stroke-width="0.5"/>
<circle cx="172.35" cy="458.50" r="0.85" fill="none" stroke="#8a8a8a" stroke-width="0.5"/>
<circle cx="167.60" cy="461.00" r="0.85" fill="none" stroke="#8a8a8a" stroke-width="0.5"/>
<circle cx="169.50" cy="461.00" r="0.85" fill="none" stroke="#8a8a8a" stroke-width="0.5"/>
<circle cx="171.40" cy="461.00" r="0.85" fill="none" stroke="#8a8a8a" stroke-width="0.5"/>
<circle cx="165.70" cy="487.00" r="0.85" fill="none" stroke="#8a8a8a" stroke-width="0.5"/>
<circle cx="167.60" cy="487.00" r="0.85" fill="none" stroke="#8a8a8a" stroke-width="0.5"/>
<circle cx="169.50" cy="487.00" r="0.85" fill="none" stroke="#8a8a8a" stroke-width="0.5"/>
<circle cx="171.40" cy="487.00" r="0.85" fill="none" stroke="#8a8a8a" stroke-width="0.5"/>
<circle cx="173.30" cy="487.00" r="0.85" fill="none" stroke="#8a8a8a" stroke-width="0.5"/>
<line x1="131.40" y1="459.50" x2="131.40" y2="464.80" stroke="#222" stroke-width="0.9"/>
<line x1="131.40" y1="477.70" x2="131.40" y2="483.50" stroke="#222" stroke-width="0.9"/>
<rect x="126.20" y="464.80" width="10.40" height="12.90" fill="#808080" stroke="#1a1a1a" stroke-width="1.0"/>
<line x1="126.20" y1="472.50" x2="136.60" y2="472.50" stroke="#111" stroke-width="1.0"/>
<path d="M129.90,471.50 L131.40,470.00 L132.90,471.50 L131.40,473.00Z" fill="#2a7fc0"/>
<line x1="143.05" y1="459.50" x2="143.05" y2="464.80" stroke="#222" stroke-width="0.9"/>
<line x1="143.05" y1="480.60" x2="143.05" y2="484.00" stroke="#222" stroke-width="0.9"/>
<rect x="138.20" y="464.80" width="9.70" height="15.80" fill="#ff2a00" stroke="#1a1a1a" stroke-width="1.0"/>
<line x1="138.20" y1="469.10" x2="147.90" y2="469.10" stroke="#3a0800" stroke-width="1.0"/>
<path d="M141.50,469.50 L143.00,468.00 L144.50,469.50 L143.00,471.00Z" fill="#2a7fc0"/>
<line x1="157.75" y1="462.00" x2="157.75" y2="467.50" stroke="#222" stroke-width="0.9"/>
<line x1="157.75" y1="480.60" x2="157.75" y2="484.00" stroke="#222" stroke-width="0.9"/>
<rect x="152.40" y="467.50" width="10.70" height="13.10" fill="#808080" stroke="#1a1a1a" stroke-width="1.0"/>
<line x1="152.40" y1="475.00" x2="163.10" y2="475.00" stroke="#111" stroke-width="1.0"/>
<path d="M156.20,473.00 L157.70,471.50 L159.20,473.00 L157.70,474.50Z" fill="#2a7fc0"/>
<line x1="169.55" y1="464.00" x2="169.55" y2="470.20" stroke="#222" stroke-width="0.9"/>
<line x1="169.55" y1="480.60" x2="169.55" y2="486.00" stroke="#222" stroke-width="0.9"/>
<rect x="164.70" y="470.20" width="9.70" height="10.40" fill="#ff2a00" stroke="#1a1a1a" stroke-width="1.0"/>
<line x1="164.70" y1="478.40" x2="174.40" y2="478.40" stroke="#3a0800" stroke-width="1.0"/>
<path d="M168.00,474.00 L169.50,472.50 L171.00,474.00 L169.50,475.50Z" fill="#2a7fc0"/>
<polyline points="131.40,437.70 131.40,434.70 143.40,434.70 143.40,437.70" stroke="#333" stroke-width="0.6" fill="none" stroke-linejoin="round"/>
<text x="137.40" y="432.50" font-size="6.3" text-anchor="middle" fill="#000" stroke="#000" stroke-width="0.07">ns</text>
<polyline points="157.40,437.70 157.40,434.70 169.90,434.70 169.90,437.70" stroke="#333" stroke-width="0.6" fill="none" stroke-linejoin="round"/>
<text x="163.65" y="432.50" font-size="6.3" text-anchor="middle" fill="#000" stroke="#000" stroke-width="0.07">ns</text>
<text x="97.80" y="462.00" font-size="6.9" text-anchor="middle" fill="#000" stroke="#000" stroke-width="0.07" transform="rotate(-90 97.80 462.00)">Maximum Nav peak</text>
<text x="104.90" y="462.00" font-size="6.9" text-anchor="middle" fill="#000" stroke="#000" stroke-width="0.07" transform="rotate(-90 104.90 462.00)">Membrane Potential (mV)</text>
<text x="185.60" y="468.60" font-size="8.1" text-anchor="middle" fill="#000" stroke="#000" stroke-width="0.07" font-style="italic" transform="rotate(-90 185.60 468.60)">n = neurons</text>
<text x="133.20" y="505.40" font-size="6.6" text-anchor="end" fill="#000" stroke="#000" stroke-width="0.07" transform="rotate(-45 133.20 505.40)">Neurotypical</text>
<text x="144.85" y="505.40" font-size="6.6" text-anchor="end" fill="#000" stroke="#000" stroke-width="0.07" transform="rotate(-45 144.85 505.40)">MPSIIIA</text>
<text x="159.55" y="505.40" font-size="6.6" text-anchor="end" fill="#000" stroke="#000" stroke-width="0.07" transform="rotate(-45 159.55 505.40)">Neurotypical</text>
<text x="171.35" y="505.40" font-size="6.6" text-anchor="end" fill="#000" stroke="#000" stroke-width="0.07" transform="rotate(-45 171.35 505.40)">MPSIIIA</text>
<text x="132.20" y="538.40" font-size="5.2" text-anchor="middle" fill="#999999" stroke="#999999" stroke-width="0.07" font-style="italic">30-60 days</text>
<text x="163.60" y="538.40" font-size="5.2" text-anchor="middle" fill="#999999" stroke="#999999" stroke-width="0.07" font-style="italic">90-120 days</text>
<text x="192.40" y="418.60" font-size="10.5" text-anchor="start" fill="#000" stroke="#000" stroke-width="0.45" font-weight="bold">I</text>
<polyline points="217.10,514.30 219.90,514.04 223.93,513.67 228.43,513.23 232.70,512.76 236.60,512.38 240.50,512.03 244.40,511.47 248.30,510.44 252.20,508.88 256.10,506.92 260.00,504.60 263.90,501.96 267.80,498.86 271.70,495.35 275.60,491.67 279.50,488.07 283.58,484.40 287.79,480.60 291.75,477.06 295.10,474.18 297.60,472.11 299.49,470.61 301.13,469.55 302.90,468.78 304.67,468.31 306.31,468.20 308.20,468.38 310.70,468.78 314.42,469.57 318.99,470.71 323.31,471.86 326.30,472.64" stroke="#b5b5b5" stroke-width="0.45" fill="none" stroke-linejoin="round" stroke-dasharray="1.2,0.6"/>
<polyline points="217.10,514.30 219.90,514.02 223.93,513.62 228.43,513.18 232.70,512.76 236.60,512.41 240.50,512.08 244.40,511.71 248.30,511.21 252.20,510.59 256.10,509.86 260.00,509.04 263.90,508.13 267.80,507.04 271.70,505.81 275.60,504.58 279.50,503.50 283.58,502.56 287.79,501.71 291.75,500.99 295.10,500.41 297.60,500.02 299.49,499.79 301.13,499.67 302.90,499.64 304.67,499.71 306.31,499.88 308.20,500.13 310.70,500.41 314.42,500.78 318.99,501.23 323.31,501.66 326.30,501.96" stroke="#b5b5b5" stroke-width="0.45" fill="none" stroke-linejoin="round" stroke-dasharray="1.2,0.6"/>
<polyline points="217.10,514.30 219.90,514.02 223.93,513.62 228.43,513.18 232.70,512.76 236.60,512.37 240.50,511.99 244.40,511.60 248.30,511.21 252.20,510.86 256.10,510.54 260.00,510.17 263.90,509.67 267.80,508.95 271.70,508.08 275.60,507.23 279.50,506.58 283.58,506.19 287.79,505.96 291.75,505.84 295.10,505.81 297.60,505.90 299.49,506.10 301.13,506.36 302.90,506.58 304.67,506.78 306.31,506.97 308.20,507.16 310.70,507.36 314.42,507.57 318.99,507.79 323.31,507.99 326.30,508.13" stroke="#b5b5b5" stroke-width="0.45" fill="none" stroke-linejoin="round" stroke-dasharray="1.2,0.6"/>
<polyline points="217.10,514.30 219.90,514.02 223.93,513.62 228.43,513.18 232.70,512.76 236.60,512.46 240.50,512.23 244.40,511.87 248.30,511.21 252.20,510.21 256.10,508.95 260.00,507.47 263.90,505.81 267.80,503.85 271.70,501.62 275.60,499.36 279.50,497.33 283.58,495.51 287.79,493.81 291.75,492.32 295.10,491.15 297.60,490.37 299.49,489.90 301.13,489.67 302.90,489.61 304.67,489.74 306.31,490.09 308.20,490.59 310.70,491.15 314.42,491.89 318.99,492.79 323.31,493.65 326.30,494.24" stroke="#b5b5b5" stroke-width="0.45" fill="none" stroke-linejoin="round" stroke-dasharray="1.2,0.6"/>
<polyline points="217.10,514.30 219.90,514.03 223.93,513.64 228.43,513.20 232.70,512.76 236.60,512.41 240.50,512.10 244.40,511.66 248.30,510.91 252.20,509.84 256.10,508.53 260.00,506.95 263.90,505.04 267.80,502.65 271.70,499.85 275.60,496.95 279.50,494.24 283.58,491.66 287.79,489.08 291.75,486.77 295.10,484.98 297.60,483.88 299.49,483.30 301.13,482.98 302.90,482.67 304.67,482.39 306.31,482.23 308.20,482.11 310.70,481.90 314.42,481.53 318.99,481.08 323.31,480.65 326.30,480.35" stroke="#b5b5b5" stroke-width="0.45" fill="none" stroke-linejoin="round" stroke-dasharray="1.2,0.6"/>
<polyline points="217.10,514.30 219.90,514.04 223.93,513.67 228.43,513.23 232.70,512.76 236.60,512.41 240.50,512.13 244.40,511.58 248.30,510.44 252.20,508.64 256.10,506.34 260.00,503.59 263.90,500.41 267.80,496.62 271.70,492.26 275.60,487.74 279.50,483.44 283.58,479.22 287.79,474.95 291.75,471.07 295.10,468.01 297.60,465.95 299.49,464.63 301.13,463.85 302.90,463.38 304.67,463.22 306.31,463.48 308.20,464.07 310.70,464.92 314.42,466.29 318.99,468.11 323.31,469.88 326.30,471.10" stroke="#f7936a" stroke-width="0.45" fill="none" stroke-linejoin="round" stroke-dasharray="1.2,0.6"/>
<polyline points="217.10,514.30 219.90,514.04 223.93,513.67 228.43,513.23 232.70,512.76 236.60,512.38 240.50,512.03 244.40,511.47 248.30,510.44 252.20,508.85 256.10,506.83 260.00,504.49 263.90,501.96 267.80,499.07 271.70,495.83 275.60,492.57 279.50,489.61 283.58,486.94 287.79,484.40 291.75,482.16 295.10,480.35 297.60,479.04 299.49,478.14 301.13,477.57 302.90,477.27 304.67,477.22 306.31,477.46 308.20,477.99 310.70,478.81 314.42,480.17 318.99,481.99 323.31,483.77 326.30,484.98" stroke="#f7936a" stroke-width="0.45" fill="none" stroke-linejoin="round" stroke-dasharray="1.2,0.6"/>
<polyline points="217.10,514.30 219.90,514.02 223.93,513.62 228.43,513.18 232.70,512.76 236.60,512.41 240.50,512.08 244.40,511.71 248.30,511.21 252.20,510.55 256.10,509.77 260.00,508.94 263.90,508.13 267.80,507.32 271.70,506.49 275.60,505.71 279.50,505.04 283.58,504.49 287.79,504.03 291.75,503.69 295.10,503.50 297.60,503.53 299.49,503.74 301.13,504.02 302.90,504.27 304.67,504.45 306.31,504.61 308.20,504.79 310.70,505.04 314.42,505.41 318.99,505.86 323.31,506.29 326.30,506.58" stroke="#f7936a" stroke-width="0.45" fill="none" stroke-linejoin="round" stroke-dasharray="1.2,0.6"/>
<polyline points="217.10,514.30 219.90,514.02 223.93,513.62 228.43,513.18 232.70,512.76 236.60,512.44 240.50,512.18 244.40,511.82 248.30,511.21 252.20,510.35 256.10,509.29 260.00,508.03 263.90,506.58 267.80,504.80 271.70,502.73 275.60,500.65 279.50,498.87 283.58,497.39 287.79,496.07 291.75,495.00 295.10,494.24 297.60,493.88 299.49,493.86 301.13,494.02 302.90,494.24 304.67,494.48 306.31,494.82 308.20,495.25 310.70,495.78 314.42,496.52 318.99,497.42 323.31,498.28 326.30,498.87" stroke="#f7936a" stroke-width="0.45" fill="none" stroke-linejoin="round" stroke-dasharray="1.2,0.6"/>
<polyline points="217.10,514.30 219.90,514.02 223.93,513.62 228.43,513.18 232.70,512.76 236.60,512.48 240.50,512.27 244.40,511.93 248.30,511.21 252.20,510.07 256.10,508.61 260.00,506.91 263.90,505.04 267.80,502.93 271.70,500.56 275.60,498.12 279.50,495.78 283.58,493.45 287.79,491.06 291.75,488.91 295.10,487.30 297.60,486.37 299.49,485.95 301.13,485.81 302.90,485.75 304.67,485.69 306.31,485.75 308.20,486.01 310.70,486.53 314.42,487.52 318.99,488.89 323.31,490.23 326.30,491.15" stroke="#f7936a" stroke-width="0.45" fill="none" stroke-linejoin="round" stroke-dasharray="1.2,0.6"/>
<polyline points="217.10,514.30 219.90,514.04 223.93,513.67 228.43,513.23 232.70,512.76 236.60,512.34 240.50,511.94 244.40,511.36 248.30,510.44 252.20,509.12 256.10,507.50 260.00,505.61 263.90,503.50 267.80,501.02 271.70,498.19 275.60,495.33 279.50,492.70 283.58,490.25 287.79,487.88 291.75,485.79 295.10,484.21 297.60,483.28 299.49,482.86 301.13,482.73 302.90,482.67 304.67,482.61 306.31,482.67 308.20,482.92 310.70,483.44 314.42,484.43 318.99,485.80 323.31,487.15 326.30,488.07" stroke="#f7936a" stroke-width="0.45" fill="none" stroke-linejoin="round" stroke-dasharray="1.2,0.6"/>
<path d="M217.10,513.99 L218.50,513.92 L220.51,513.82 L222.77,513.68 L224.90,513.50 L226.85,513.24 L228.80,512.93 L230.75,512.61 L232.70,512.34 L234.65,512.16 L236.60,512.02 L238.55,511.88 L240.50,511.68 L242.45,511.42 L244.40,511.11 L246.35,510.76 L248.30,510.36 L250.25,509.91 L252.20,509.41 L254.15,508.85 L256.10,508.21 L258.05,507.49 L260.00,506.69 L261.95,505.82 L263.90,504.91 L265.85,503.94 L267.80,502.90 L269.75,501.83 L271.70,500.78 L273.65,499.75 L275.60,498.72 L277.55,497.69 L279.50,496.66 L281.45,495.60 L283.40,494.54 L285.35,493.50 L287.30,492.53 L289.25,491.61 L291.20,490.73 L293.15,489.93 L295.10,489.23 L297.05,488.61 L299.00,488.07 L300.95,487.66 L302.90,487.41 L304.85,487.35 L306.80,487.45 L308.75,487.70 L310.70,488.07 L312.65,488.58 L314.60,489.24 L316.55,490.01 L318.50,490.88 L320.63,491.98 L322.89,493.28 L324.90,494.50 L326.30,495.33 L326.30,498.39 L324.90,497.66 L322.89,496.61 L320.63,495.48 L318.50,494.52 L316.55,493.76 L314.60,493.09 L312.65,492.52 L310.70,492.08 L308.75,491.75 L306.80,491.54 L304.85,491.45 L302.90,491.51 L300.95,491.72 L299.00,492.08 L297.05,492.55 L295.10,493.08 L293.15,493.69 L291.20,494.39 L289.25,495.16 L287.30,495.95 L285.35,496.80 L283.40,497.70 L281.45,498.63 L279.50,499.54 L277.55,500.44 L275.60,501.33 L273.65,502.23 L271.70,503.13 L269.75,504.04 L267.80,504.97 L265.85,505.87 L263.90,506.72 L261.95,507.51 L260.00,508.26 L258.05,508.96 L256.10,509.59 L254.15,510.14 L252.20,510.63 L250.25,511.06 L248.30,511.45 L246.35,511.80 L244.40,512.11 L242.45,512.37 L240.50,512.60 L238.55,512.77 L236.60,512.90 L234.65,513.01 L232.70,513.17 L230.75,513.41 L228.80,513.68 L226.85,513.96 L224.90,514.18 L222.77,514.34 L220.51,514.46 L218.50,514.54 L217.10,514.61Z" stroke="none" stroke-width="0" fill="#9a9a9a" fill-opacity="0.45"/>
<path d="M217.10,513.99 L218.50,513.92 L220.51,513.82 L222.77,513.68 L224.90,513.50 L226.85,513.24 L228.80,512.93 L230.75,512.61 L232.70,512.34 L234.65,512.16 L236.60,512.02 L238.55,511.88 L240.50,511.68 L242.45,511.42 L244.40,511.12 L246.35,510.77 L248.30,510.36 L250.25,509.88 L252.20,509.34 L254.15,508.73 L256.10,508.05 L258.05,507.28 L260.00,506.44 L261.95,505.53 L263.90,504.58 L265.85,503.56 L267.80,502.48 L269.75,501.37 L271.70,500.29 L273.65,499.25 L275.60,498.22 L277.55,497.20 L279.50,496.16 L281.45,495.08 L283.40,493.97 L285.35,492.89 L287.30,491.87 L289.25,490.90 L291.20,489.98 L293.15,489.13 L295.10,488.40 L297.05,487.77 L299.00,487.23 L300.95,486.83 L302.90,486.58 L304.85,486.52 L306.80,486.61 L308.75,486.85 L310.70,487.25 L312.65,487.82 L314.60,488.58 L316.55,489.45 L318.50,490.38 L320.63,491.51 L322.89,492.81 L324.90,494.01 L326.30,494.84 L326.30,497.96 L324.90,497.24 L322.89,496.20 L320.63,495.07 L318.50,494.09 L316.55,493.28 L314.60,492.52 L312.65,491.87 L310.70,491.36 L308.75,491.02 L306.80,490.81 L304.85,490.73 L302.90,490.79 L300.95,491.00 L299.00,491.35 L297.05,491.82 L295.10,492.37 L293.15,493.00 L291.20,493.74 L289.25,494.54 L287.30,495.38 L285.35,496.27 L283.40,497.21 L281.45,498.17 L279.50,499.11 L277.55,500.01 L275.60,500.90 L273.65,501.79 L271.70,502.70 L269.75,503.64 L267.80,504.60 L265.85,505.54 L263.90,506.43 L261.95,507.26 L260.00,508.04 L258.05,508.78 L256.10,509.44 L254.15,510.04 L252.20,510.56 L250.25,511.03 L248.30,511.45 L246.35,511.81 L244.40,512.12 L242.45,512.37 L240.50,512.60 L238.55,512.77 L236.60,512.90 L234.65,513.01 L232.70,513.17 L230.75,513.41 L228.80,513.68 L226.85,513.96 L224.90,514.18 L222.77,514.34 L220.51,514.46 L218.50,514.54 L217.10,514.61Z" stroke="none" stroke-width="0" fill="#f08080" fill-opacity="0.45"/>
<polyline points="217.10,514.30 218.50,514.23 220.51,514.14 222.77,514.01 224.90,513.84 226.85,513.60 228.80,513.31 230.75,513.01 232.70,512.76 234.65,512.58 236.60,512.46 238.55,512.33 240.50,512.14 242.45,511.89 244.40,511.61 246.35,511.28 248.30,510.91 250.25,510.48 252.20,510.02 254.15,509.50 256.10,508.90 258.05,508.22 260.00,507.47 261.95,506.66 263.90,505.81 265.85,504.90 267.80,503.93 269.75,502.94 271.70,501.96 273.65,500.99 275.60,500.03 277.55,499.06 279.50,498.10 281.45,497.12 283.40,496.12 285.35,495.15 287.30,494.24 289.25,493.38 291.20,492.56 293.15,491.81 295.10,491.15 297.05,490.58 299.00,490.07 300.95,489.69 302.90,489.46 304.85,489.40 306.80,489.50 308.75,489.73 310.70,490.07 312.65,490.55 314.60,491.16 316.55,491.89 318.50,492.70 320.63,493.73 322.89,494.94 324.90,496.08 326.30,496.86" stroke="#111" stroke-width="1.2" fill="none" stroke-linejoin="round"/>
<polyline points="217.10,514.30 218.50,514.23 220.51,514.14 222.77,514.01 224.90,513.84 226.85,513.60 228.80,513.31 230.75,513.01 232.70,512.76 234.65,512.58 236.60,512.46 238.55,512.33 240.50,512.14 242.45,511.90 244.40,511.62 246.35,511.29 248.30,510.91 250.25,510.46 252.20,509.95 254.15,509.38 256.10,508.75 258.05,508.03 260.00,507.24 261.95,506.39 263.90,505.50 265.85,504.55 267.80,503.54 269.75,502.50 271.70,501.49 273.65,500.52 275.60,499.56 277.55,498.61 279.50,497.64 281.45,496.63 283.40,495.59 285.35,494.58 287.30,493.62 289.25,492.72 291.20,491.86 293.15,491.07 295.10,490.38 297.05,489.80 299.00,489.29 300.95,488.91 302.90,488.69 304.85,488.62 306.80,488.71 308.75,488.93 310.70,489.30 312.65,489.84 314.60,490.55 316.55,491.36 318.50,492.24 320.63,493.29 322.89,494.50 324.90,495.62 326.30,496.40" stroke="#e21f26" stroke-width="1.2" fill="none" stroke-linejoin="round"/>
<line x1="216.30" y1="421.50" x2="216.30" y2="520.80" stroke="#555" stroke-width="0.8"/>
<line x1="214.30" y1="514.30" x2="216.30" y2="514.30" stroke="#555" stroke-width="0.6"/>
<text x="212.90" y="516.60" font-size="6.6" text-anchor="end" fill="#000" stroke="#000" stroke-width="0.07">0</text>
<line x1="214.30" y1="498.87" x2="216.30" y2="498.87" stroke="#555" stroke-width="0.6"/>
<text x="212.90" y="501.17" font-size="6.6" text-anchor="end" fill="#000" stroke="#000" stroke-width="0.07">100</text>
<line x1="214.30" y1="483.44" x2="216.30" y2="483.44" stroke="#555" stroke-width="0.6"/>
<text x="212.90" y="485.74" font-size="6.6" text-anchor="end" fill="#000" stroke="#000" stroke-width="0.07">200</text>
<line x1="214.30" y1="468.01" x2="216.30" y2="468.01" stroke="#555" stroke-width="0.6"/>
<text x="212.90" y="470.31" font-size="6.6" text-anchor="end" fill="#000" stroke="#000" stroke-width="0.07">300</text>
<line x1="214.30" y1="452.58" x2="216.30" y2="452.58" stroke="#555" stroke-width="0.6"/>
<text x="212.90" y="454.88" font-size="6.6" text-anchor="end" fill="#000" stroke="#000" stroke-width="0.07">400</text>
<line x1="214.30" y1="437.15" x2="216.30" y2="437.15" stroke="#555" stroke-width="0.6"/>
<text x="212.90" y="439.45" font-size="6.6" text-anchor="end" fill="#000" stroke="#000" stroke-width="0.07">500</text>
<line x1="214.30" y1="421.72" x2="216.30" y2="421.72" stroke="#555" stroke-width="0.6"/>
<text x="212.90" y="424.02" font-size="6.6" text-anchor="end" fill="#000" stroke="#000" stroke-width="0.07">600</text>
<line x1="216.30" y1="520.80" x2="326.30" y2="520.80" stroke="#444" stroke-width="0.8"/>
<line x1="240.50" y1="520.80" x2="240.50" y2="522.80" stroke="#444" stroke-width="0.6"/>
<text x="240.50" y="530.60" font-size="7.0" text-anchor="middle" fill="#000" stroke="#000" stroke-width="0.07">-60</text>
<line x1="271.70" y1="520.80" x2="271.70" y2="522.80" stroke="#444" stroke-width="0.6"/>
<text x="271.70" y="530.60" font-size="7.0" text-anchor="middle" fill="#000" stroke="#000" stroke-width="0.07">-40</text>
<line x1="302.90" y1="520.80" x2="302.90" y2="522.80" stroke="#444" stroke-width="0.6"/>
<text x="302.90" y="530.60" font-size="7.0" text-anchor="middle" fill="#000" stroke="#000" stroke-width="0.07">-20</text>
<text x="271.30" y="538.60" font-size="7.2" text-anchor="middle" fill="#000" stroke="#000" stroke-width="0.07">Membrane Potential (mV)</text>
<text x="274.20" y="420.60" font-size="8.0" text-anchor="middle" fill="#000" stroke="#000" stroke-width="0.07" font-style="italic">30-60 days</text>
<line x1="219.90" y1="428.20" x2="224.50" y2="428.20" stroke="#111" stroke-width="1.0"/>
<line x1="219.90" y1="437.20" x2="224.50" y2="437.20" stroke="#e21f26" stroke-width="1.2"/>
<text x="225.90" y="430.60" font-size="6.5" text-anchor="start" fill="#000" stroke="#000" stroke-width="0.07">Neurotypical (n = 188 neurons)</text>
<text x="225.90" y="439.60" font-size="6.5" text-anchor="start" fill="#000" stroke="#000" stroke-width="0.07">MPSIIIA (n = 183 neurons)</text>
<polyline points="317.80,427.70 319.80,427.70 319.80,437.20 317.80,437.20" stroke="#333" stroke-width="0.5" fill="none" stroke-linejoin="round"/>
<text x="322.20" y="434.50" font-size="5.6" text-anchor="start" fill="#000" stroke="#000" stroke-width="0.07">ns</text>
<line x1="220.40" y1="451.70" x2="227.20" y2="451.70" stroke="#c8c8c8" stroke-width="1.1"/>
<line x1="220.40" y1="466.60" x2="227.20" y2="466.60" stroke="#f28a8a" stroke-width="1.1"/>
<text x="229.40" y="454.60" font-size="6.5" text-anchor="start" fill="#000" stroke="#000" stroke-width="0.07">Mean of individual</text>
<text x="229.40" y="461.40" font-size="6.5" text-anchor="start" fill="#000" stroke="#000" stroke-width="0.07">neurotypical donors</text>
<text x="229.40" y="469.60" font-size="6.5" text-anchor="start" fill="#000" stroke="#000" stroke-width="0.07">Mean of individual</text>
<text x="229.40" y="476.60" font-size="6.5" text-anchor="start" fill="#000" stroke="#000" stroke-width="0.07">MPSIIIA donors</text>
<text x="198.20" y="474.00" font-size="7.0" text-anchor="middle" fill="#000" stroke="#000" stroke-width="0.07" transform="rotate(-90 198.20 474.00)">Current (pA)</text>
<polyline points="348.73,514.30 351.61,514.08 355.75,513.77 360.39,513.34 364.78,512.76 368.79,512.28 372.80,511.84 376.81,510.89 380.82,508.90 384.84,505.57 388.85,501.23 392.86,496.30 396.88,491.15 400.89,485.68 404.90,479.73 408.91,473.71 412.93,468.01 417.13,462.47 421.45,456.97 425.53,451.97 428.98,447.95 431.55,445.18 433.49,443.37 435.18,442.11 437.00,441.01 438.82,439.90 440.51,439.03 442.45,438.57 445.02,438.69 448.85,439.78 453.55,441.63 458.00,443.56 461.08,444.86" stroke="#b5b5b5" stroke-width="0.45" fill="none" stroke-linejoin="round" stroke-dasharray="1.2,0.6"/>
<polyline points="348.73,514.30 351.61,514.06 355.75,513.72 360.39,513.29 364.78,512.76 368.79,512.38 372.80,512.08 376.81,511.35 380.82,509.67 384.84,506.83 388.85,503.11 392.86,498.82 396.88,494.24 400.89,489.20 404.90,483.63 408.91,477.97 412.93,472.64 417.13,467.50 421.45,462.42 425.53,457.81 428.98,454.12 431.55,451.60 433.49,449.98 435.18,448.88 437.00,447.95 438.82,447.06 440.51,446.41 442.45,446.14 445.02,446.41 448.85,447.55 453.55,449.40 458.00,451.29 461.08,452.58" stroke="#b5b5b5" stroke-width="0.45" fill="none" stroke-linejoin="round" stroke-dasharray="1.2,0.6"/>
<polyline points="348.73,514.30 351.61,514.02 355.75,513.62 360.39,513.18 364.78,512.76 368.79,512.41 372.80,512.08 376.81,511.71 380.82,511.21 384.84,510.57 388.85,509.82 392.86,508.99 396.88,508.13 400.89,507.20 404.90,506.20 408.91,505.20 412.93,504.27 417.13,503.37 421.45,502.49 425.53,501.72 428.98,501.18 431.55,500.93 433.49,500.90 435.18,501.00 437.00,501.18 438.82,501.41 440.51,501.71 442.45,502.14 445.02,502.73 448.85,503.62 453.55,504.75 458.00,505.84 461.08,506.58" stroke="#b5b5b5" stroke-width="0.45" fill="none" stroke-linejoin="round" stroke-dasharray="1.2,0.6"/>
<polyline points="348.73,514.30 351.61,514.04 355.75,513.67 360.39,513.23 364.78,512.76 368.79,512.38 372.80,512.03 376.81,511.47 380.82,510.44 384.84,508.81 388.85,506.73 392.86,504.39 396.88,501.96 400.89,499.38 404.90,496.60 408.91,493.80 412.93,491.15 417.13,488.57 421.45,486.00 425.53,483.69 428.98,481.90 431.55,480.76 433.49,480.11 435.18,479.78 437.00,479.58 438.82,479.50 440.51,479.63 442.45,479.93 445.02,480.35 448.85,481.04 453.55,481.95 458.00,482.83 461.08,483.44" stroke="#b5b5b5" stroke-width="0.45" fill="none" stroke-linejoin="round" stroke-dasharray="1.2,0.6"/>
<polyline points="348.73,514.30 351.61,514.04 355.75,513.67 360.39,513.23 364.78,512.76 368.79,512.45 372.80,512.23 376.81,511.69 380.82,510.44 384.84,508.25 388.85,505.38 392.86,502.14 396.88,498.87 400.89,495.56 404.90,492.07 408.91,488.51 412.93,484.98 417.13,481.29 421.45,477.46 425.53,473.92 428.98,471.10 431.55,469.22 433.49,468.01 435.18,467.19 437.00,466.47 438.82,465.76 440.51,465.21 442.45,464.91 445.02,464.92 448.85,465.44 453.55,466.37 458.00,467.35 461.08,468.01" stroke="#b5b5b5" stroke-width="0.45" fill="none" stroke-linejoin="round" stroke-dasharray="1.2,0.6"/>
<polyline points="348.73,514.30 351.61,514.06 355.75,513.72 360.39,513.29 364.78,512.76 368.79,512.38 372.80,512.08 376.81,511.35 380.82,509.67 384.84,506.79 388.85,503.02 392.86,498.71 396.88,494.24 400.89,489.44 404.90,484.21 408.91,478.98 412.93,474.18 417.13,469.75 421.45,465.50 425.53,461.74 428.98,458.75 431.55,456.76 433.49,455.57 435.18,454.81 437.00,454.12 438.82,453.38 440.51,452.77 442.45,452.46 445.02,452.58 448.85,453.41 453.55,454.80 458.00,456.23 461.08,457.21" stroke="#f7936a" stroke-width="0.45" fill="none" stroke-linejoin="round" stroke-dasharray="1.2,0.6"/>
<polyline points="348.73,514.30 351.61,514.06 355.75,513.72 360.39,513.29 364.78,512.76 368.79,512.35 372.80,511.99 376.81,511.24 380.82,509.67 384.84,507.03 388.85,503.60 392.86,499.73 396.88,495.78 400.89,491.69 404.90,487.30 408.91,482.91 412.93,478.81 417.13,474.89 421.45,471.05 425.53,467.62 428.98,464.92 431.55,463.18 433.49,462.18 435.18,461.58 437.00,461.07 438.82,460.57 440.51,460.25 442.45,460.14 445.02,460.29 448.85,460.87 453.55,461.79 458.00,462.74 461.08,463.38" stroke="#f7936a" stroke-width="0.45" fill="none" stroke-linejoin="round" stroke-dasharray="1.2,0.6"/>
<polyline points="348.73,514.30 351.61,514.04 355.75,513.67 360.39,513.23 364.78,512.76 368.79,512.41 372.80,512.13 376.81,511.58 380.82,510.44 384.84,508.53 388.85,506.05 392.86,503.26 396.88,500.41 400.89,497.45 404.90,494.29 408.91,491.10 412.93,488.07 417.13,485.10 421.45,482.14 425.53,479.44 428.98,477.27 431.55,475.76 433.49,474.76 435.18,474.05 437.00,473.41 438.82,472.74 440.51,472.16 442.45,471.82 445.02,471.87 448.85,472.54 453.55,473.70 458.00,474.91 461.08,475.72" stroke="#f7936a" stroke-width="0.45" fill="none" stroke-linejoin="round" stroke-dasharray="1.2,0.6"/>
<polyline points="348.73,514.30 351.61,514.04 355.75,513.67 360.39,513.23 364.78,512.76 368.79,512.34 372.80,511.94 376.81,511.36 380.82,510.44 384.84,509.09 388.85,507.40 392.86,505.51 396.88,503.50 400.89,501.35 404.90,499.01 408.91,496.61 412.93,494.24 417.13,491.80 421.45,489.27 425.53,486.92 428.98,484.98 431.55,483.58 433.49,482.57 435.18,481.80 437.00,481.13 438.82,480.45 440.51,479.87 442.45,479.53 445.02,479.58 448.85,480.26 453.55,481.41 458.00,482.62 461.08,483.44" stroke="#f7936a" stroke-width="0.45" fill="none" stroke-linejoin="round" stroke-dasharray="1.2,0.6"/>
<polyline points="348.73,514.30 351.61,514.04 355.75,513.67 360.39,513.23 364.78,512.76 368.79,512.49 372.80,512.32 376.81,511.80 380.82,510.44 384.84,507.94 388.85,504.61 392.86,500.91 396.88,497.33 400.89,493.87 404.90,490.34 408.91,486.82 412.93,483.44 417.13,480.03 421.45,476.59 425.53,473.49 428.98,471.10 431.55,469.60 433.49,468.78 435.18,468.35 437.00,468.01 438.82,467.72 440.51,467.62 442.45,467.72 445.02,468.01 448.85,468.64 453.55,469.55 458.00,470.47 461.08,471.10" stroke="#f7936a" stroke-width="0.45" fill="none" stroke-linejoin="round" stroke-dasharray="1.2,0.6"/>
<path d="M348.73,513.99 L350.17,513.92 L352.24,513.82 L354.56,513.68 L356.75,513.50 L358.76,513.25 L360.76,512.96 L362.77,512.64 L364.78,512.34 L366.78,512.07 L368.79,511.80 L370.79,511.52 L372.80,511.18 L374.81,510.84 L376.81,510.48 L378.82,510.02 L380.82,509.37 L382.83,508.51 L384.84,507.49 L386.84,506.30 L388.85,504.91 L390.86,503.28 L392.86,501.43 L394.87,499.47 L396.88,497.48 L398.88,495.44 L400.89,493.32 L402.89,491.22 L404.90,489.23 L406.91,487.39 L408.91,485.66 L410.92,483.97 L412.93,482.29 L414.93,480.59 L416.94,478.91 L418.94,477.26 L420.95,475.69 L422.96,474.18 L424.96,472.72 L426.97,471.34 L428.98,470.07 L430.98,468.90 L432.99,467.80 L434.99,466.86 L437.00,466.11 L439.01,465.58 L441.01,465.22 L443.02,465.07 L445.02,465.12 L447.03,465.42 L449.04,465.94 L451.04,466.63 L453.05,467.43 L455.24,468.50 L457.56,469.81 L459.63,471.04 L461.08,471.89 L461.08,478.02 L459.63,477.28 L457.56,476.20 L455.24,475.07 L453.05,474.14 L451.04,473.44 L449.04,472.84 L447.03,472.39 L445.02,472.13 L443.02,472.09 L441.01,472.22 L439.01,472.53 L437.00,472.99 L434.99,473.64 L432.99,474.46 L430.98,475.42 L428.98,476.44 L426.97,477.54 L424.96,478.73 L422.96,480.00 L420.95,481.32 L418.94,482.68 L416.94,484.12 L414.93,485.58 L412.93,487.06 L410.92,488.52 L408.91,489.98 L406.91,491.49 L404.90,493.08 L402.89,494.81 L400.89,496.64 L398.88,498.49 L396.88,500.26 L394.87,501.98 L392.86,503.69 L390.86,505.30 L388.85,506.72 L386.84,507.92 L384.84,508.96 L382.83,509.84 L380.82,510.59 L378.82,511.16 L376.81,511.56 L374.81,511.87 L372.80,512.17 L370.79,512.46 L368.79,512.71 L366.78,512.94 L364.78,513.17 L362.77,513.44 L360.76,513.71 L358.76,513.97 L356.75,514.18 L354.56,514.34 L352.24,514.46 L350.17,514.54 L348.73,514.61Z" stroke="none" stroke-width="0" fill="#9a9a9a" fill-opacity="0.45"/>
<path d="M348.73,513.99 L350.17,513.92 L352.24,513.82 L354.56,513.68 L356.75,513.50 L358.76,513.25 L360.76,512.96 L362.77,512.64 L364.78,512.34 L366.78,512.07 L368.79,511.80 L370.79,511.52 L372.80,511.18 L374.81,510.84 L376.81,510.48 L378.82,510.02 L380.82,509.37 L382.83,508.50 L384.84,507.47 L386.84,506.27 L388.85,504.91 L390.86,503.36 L392.86,501.62 L394.87,499.75 L396.88,497.81 L398.88,495.76 L400.89,493.59 L402.89,491.38 L404.90,489.23 L406.91,487.13 L408.91,485.06 L410.92,483.00 L412.93,480.97 L414.93,478.94 L416.94,476.91 L418.94,474.93 L420.95,473.05 L422.96,471.26 L424.96,469.54 L426.97,467.92 L428.98,466.44 L430.98,465.06 L432.99,463.78 L434.99,462.67 L437.00,461.82 L439.01,461.22 L441.01,460.83 L443.02,460.69 L445.02,460.83 L447.03,461.28 L449.04,462.02 L451.04,462.98 L453.05,464.13 L455.24,465.67 L457.56,467.56 L459.63,469.34 L461.08,470.57 L461.08,476.87 L459.63,475.80 L457.56,474.25 L455.24,472.61 L453.05,471.27 L451.04,470.28 L449.04,469.43 L447.03,468.79 L445.02,468.40 L443.02,468.28 L441.01,468.40 L439.01,468.74 L437.00,469.26 L434.99,470.01 L432.99,470.97 L430.98,472.08 L428.98,473.28 L426.97,474.57 L424.96,475.97 L422.96,477.46 L420.95,479.02 L418.94,480.66 L416.94,482.38 L414.93,484.14 L412.93,485.91 L410.92,487.68 L408.91,489.46 L406.91,491.26 L404.90,493.08 L402.89,494.96 L400.89,496.88 L398.88,498.76 L396.88,500.55 L394.87,502.23 L392.86,503.86 L390.86,505.37 L388.85,506.72 L386.84,507.90 L384.84,508.94 L382.83,509.84 L380.82,510.59 L378.82,511.16 L376.81,511.56 L374.81,511.87 L372.80,512.17 L370.79,512.46 L368.79,512.71 L366.78,512.94 L364.78,513.17 L362.77,513.44 L360.76,513.71 L358.76,513.97 L356.75,514.18 L354.56,514.34 L352.24,514.46 L350.17,514.54 L348.73,514.61Z" stroke="none" stroke-width="0" fill="#f08080" fill-opacity="0.45"/>
<polyline points="348.73,514.30 350.17,514.23 352.24,514.14 354.56,514.01 356.75,513.84 358.76,513.61 360.76,513.34 362.77,513.04 364.78,512.76 366.78,512.50 368.79,512.26 370.79,511.99 372.80,511.68 374.81,511.35 376.81,511.02 378.82,510.59 380.82,509.98 382.83,509.18 384.84,508.22 386.84,507.11 388.85,505.81 390.86,504.29 392.86,502.56 394.87,500.73 396.88,498.87 398.88,496.97 400.89,494.98 402.89,493.02 404.90,491.15 406.91,489.44 408.91,487.82 410.92,486.24 412.93,484.67 414.93,483.09 416.94,481.51 418.94,479.97 420.95,478.50 422.96,477.09 424.96,475.72 426.97,474.44 428.98,473.26 430.98,472.16 432.99,471.13 434.99,470.25 437.00,469.55 439.01,469.05 441.01,468.72 443.02,468.58 445.02,468.63 447.03,468.90 449.04,469.39 451.04,470.03 453.05,470.79 455.24,471.79 457.56,473.01 459.63,474.16 461.08,474.95" stroke="#111" stroke-width="1.2" fill="none" stroke-linejoin="round"/>
<polyline points="348.73,514.30 350.17,514.23 352.24,514.14 354.56,514.01 356.75,513.84 358.76,513.61 360.76,513.34 362.77,513.04 364.78,512.76 366.78,512.50 368.79,512.26 370.79,511.99 372.80,511.68 374.81,511.35 376.81,511.02 378.82,510.59 380.82,509.98 382.83,509.17 384.84,508.21 386.84,507.09 388.85,505.81 390.86,504.36 392.86,502.74 394.87,500.99 396.88,499.18 398.88,497.26 400.89,495.23 402.89,493.17 404.90,491.15 406.91,489.20 408.91,487.26 410.92,485.34 412.93,483.44 414.93,481.54 416.94,479.64 418.94,477.79 420.95,476.03 422.96,474.36 424.96,472.75 426.97,471.25 428.98,469.86 430.98,468.57 432.99,467.37 434.99,466.34 437.00,465.54 439.01,464.98 441.01,464.62 443.02,464.49 445.02,464.62 447.03,465.04 449.04,465.72 451.04,466.63 453.05,467.70 455.24,469.14 457.56,470.90 459.63,472.57 461.08,473.72" stroke="#e21f26" stroke-width="1.2" fill="none" stroke-linejoin="round"/>
<line x1="348.60" y1="421.50" x2="348.60" y2="520.80" stroke="#555" stroke-width="0.8"/>
<line x1="346.60" y1="514.30" x2="348.60" y2="514.30" stroke="#555" stroke-width="0.6"/>
<line x1="346.60" y1="498.87" x2="348.60" y2="498.87" stroke="#555" stroke-width="0.6"/>
<line x1="346.60" y1="483.44" x2="348.60" y2="483.44" stroke="#555" stroke-width="0.6"/>
<line x1="346.60" y1="468.01" x2="348.60" y2="468.01" stroke="#555" stroke-width="0.6"/>
<line x1="346.60" y1="452.58" x2="348.60" y2="452.58" stroke="#555" stroke-width="0.6"/>
<line x1="346.60" y1="437.15" x2="348.60" y2="437.15" stroke="#555" stroke-width="0.6"/>
<line x1="346.60" y1="421.72" x2="348.60" y2="421.72" stroke="#555" stroke-width="0.6"/>
<line x1="348.60" y1="520.80" x2="458.60" y2="520.80" stroke="#444" stroke-width="0.8"/>
<line x1="372.80" y1="520.80" x2="372.80" y2="522.80" stroke="#444" stroke-width="0.6"/>
<text x="372.80" y="530.60" font-size="7.0" text-anchor="middle" fill="#000" stroke="#000" stroke-width="0.07">-60</text>
<line x1="404.90" y1="520.80" x2="404.90" y2="522.80" stroke="#444" stroke-width="0.6"/>
<text x="404.90" y="530.60" font-size="7.0" text-anchor="middle" fill="#000" stroke="#000" stroke-width="0.07">-40</text>
<line x1="437.00" y1="520.80" x2="437.00" y2="522.80" stroke="#444" stroke-width="0.6"/>
<text x="437.00" y="530.60" font-size="7.0" text-anchor="middle" fill="#000" stroke="#000" stroke-width="0.07">-20</text>
<text x="403.60" y="538.60" font-size="7.2" text-anchor="middle" fill="#000" stroke="#000" stroke-width="0.07">Membrane Potential (mV)</text>
<text x="406.50" y="420.60" font-size="8.0" text-anchor="middle" fill="#000" stroke="#000" stroke-width="0.07" font-style="italic">90-120 days</text>
<line x1="351.40" y1="427.20" x2="356.00" y2="427.20" stroke="#111" stroke-width="1.0"/>
<line x1="351.40" y1="435.90" x2="356.00" y2="435.90" stroke="#e21f26" stroke-width="1.2"/>
<text x="358.20" y="429.60" font-size="6.5" text-anchor="start" fill="#000" stroke="#000" stroke-width="0.07">Neurotypical (n = 258 neurons)</text>
<text x="358.20" y="438.30" font-size="6.5" text-anchor="start" fill="#000" stroke="#000" stroke-width="0.07">MPSIIIA (n = 265 neurons)</text>
<polyline points="451.60,427.00 453.60,427.00 453.60,436.50 451.60,436.50" stroke="#333" stroke-width="0.5" fill="none" stroke-linejoin="round"/>
<text x="455.80" y="433.20" font-size="5.6" text-anchor="start" fill="#000" stroke="#000" stroke-width="0.07">ns</text>
<text x="463.20" y="423.20" font-size="10.5" text-anchor="start" fill="#000" stroke="#000" stroke-width="0.45" font-weight="bold">J</text>
<line x1="495.50" y1="433.40" x2="495.50" y2="451.30" stroke="#222" stroke-width="0.9"/>
<line x1="495.50" y1="456.00" x2="495.50" y2="498.70" stroke="#222" stroke-width="0.9"/>
<line x1="493.60" y1="451.30" x2="497.40" y2="451.30" stroke="#222" stroke-width="0.9"/>
<line x1="493.60" y1="456.00" x2="497.40" y2="456.00" stroke="#222" stroke-width="0.9"/>
<line x1="493.30" y1="448.70" x2="495.50" y2="448.70" stroke="#222" stroke-width="0.7"/>
<line x1="493.30" y1="444.88" x2="495.50" y2="444.88" stroke="#222" stroke-width="0.7"/>
<line x1="493.30" y1="441.06" x2="495.50" y2="441.06" stroke="#222" stroke-width="0.7"/>
<line x1="493.30" y1="437.24" x2="495.50" y2="437.24" stroke="#222" stroke-width="0.7"/>
<line x1="493.30" y1="433.42" x2="495.50" y2="433.42" stroke="#222" stroke-width="0.7"/>
<line x1="493.30" y1="498.70" x2="495.50" y2="498.70" stroke="#222" stroke-width="0.8"/>
<line x1="493.30" y1="490.16" x2="495.50" y2="490.16" stroke="#222" stroke-width="0.8"/>
<line x1="493.30" y1="481.62" x2="495.50" y2="481.62" stroke="#222" stroke-width="0.8"/>
<line x1="493.30" y1="473.08" x2="495.50" y2="473.08" stroke="#222" stroke-width="0.8"/>
<line x1="493.30" y1="464.54" x2="495.50" y2="464.54" stroke="#222" stroke-width="0.8"/>
<line x1="493.30" y1="456.00" x2="495.50" y2="456.00" stroke="#222" stroke-width="0.8"/>
<line x1="494.20" y1="494.43" x2="495.50" y2="494.43" stroke="#222" stroke-width="0.6"/>
<line x1="494.20" y1="485.89" x2="495.50" y2="485.89" stroke="#222" stroke-width="0.6"/>
<line x1="494.20" y1="477.35" x2="495.50" y2="477.35" stroke="#222" stroke-width="0.6"/>
<line x1="494.20" y1="468.81" x2="495.50" y2="468.81" stroke="#222" stroke-width="0.6"/>
<line x1="494.20" y1="460.27" x2="495.50" y2="460.27" stroke="#222" stroke-width="0.6"/>
<text x="492.60" y="451.00" font-size="6.4" text-anchor="end" fill="#000" stroke="#000" stroke-width="0.07">1200</text>
<text x="492.60" y="443.36" font-size="6.4" text-anchor="end" fill="#000" stroke="#000" stroke-width="0.07">1600</text>
<text x="492.60" y="435.72" font-size="6.4" text-anchor="end" fill="#000" stroke="#000" stroke-width="0.07">2000</text>
<text x="492.60" y="501.00" font-size="6.4" text-anchor="end" fill="#000" stroke="#000" stroke-width="0.07">0</text>
<text x="492.60" y="492.46" font-size="6.4" text-anchor="end" fill="#000" stroke="#000" stroke-width="0.07">200</text>
<text x="492.60" y="483.92" font-size="6.4" text-anchor="end" fill="#000" stroke="#000" stroke-width="0.07">400</text>
<text x="492.60" y="475.38" font-size="6.4" text-anchor="end" fill="#000" stroke="#000" stroke-width="0.07">600</text>
<text x="492.60" y="466.84" font-size="6.4" text-anchor="end" fill="#000" stroke="#000" stroke-width="0.07">800</text>
<text x="492.60" y="458.30" font-size="6.4" text-anchor="end" fill="#000" stroke="#000" stroke-width="0.07">1000</text>
<line x1="495.50" y1="498.70" x2="556.00" y2="498.70" stroke="#222" stroke-width="0.9"/>
<line x1="506.05" y1="498.70" x2="506.05" y2="500.70" stroke="#222" stroke-width="0.8"/>
<line x1="517.90" y1="498.70" x2="517.90" y2="500.70" stroke="#222" stroke-width="0.8"/>
<line x1="532.35" y1="498.70" x2="532.35" y2="500.70" stroke="#222" stroke-width="0.8"/>
<line x1="544.00" y1="498.70" x2="544.00" y2="500.70" stroke="#222" stroke-width="0.8"/>
<circle cx="505.86" cy="466.04" r="1.05" fill="none" stroke="#8a8a8a" stroke-width="0.5"/>
<circle cx="507.07" cy="474.79" r="1.05" fill="none" stroke="#8a8a8a" stroke-width="0.5"/>
<circle cx="505.70" cy="474.25" r="1.05" fill="none" stroke="#8a8a8a" stroke-width="0.5"/>
<circle cx="506.20" cy="475.20" r="1.05" fill="none" stroke="#8a8a8a" stroke-width="0.5"/>
<circle cx="505.89" cy="465.12" r="1.05" fill="none" stroke="#8a8a8a" stroke-width="0.5"/>
<circle cx="507.51" cy="464.67" r="1.05" fill="none" stroke="#8a8a8a" stroke-width="0.5"/>
<circle cx="505.49" cy="477.26" r="1.05" fill="none" stroke="#8a8a8a" stroke-width="0.5"/>
<circle cx="507.57" cy="468.33" r="1.05" fill="none" stroke="#8a8a8a" stroke-width="0.5"/>
<circle cx="504.52" cy="466.85" r="1.05" fill="none" stroke="#8a8a8a" stroke-width="0.5"/>
<circle cx="505.34" cy="466.64" r="1.05" fill="none" stroke="#8a8a8a" stroke-width="0.5"/>
<circle cx="508.94" cy="472.77" r="1.05" fill="none" stroke="#8a8a8a" stroke-width="0.5"/>
<circle cx="508.24" cy="466.95" r="1.05" fill="none" stroke="#8a8a8a" stroke-width="0.5"/>
<circle cx="508.81" cy="471.78" r="1.05" fill="none" stroke="#8a8a8a" stroke-width="0.5"/>
<circle cx="504.50" cy="475.45" r="1.05" fill="none" stroke="#8a8a8a" stroke-width="0.5"/>
<circle cx="503.78" cy="473.08" r="1.05" fill="none" stroke="#8a8a8a" stroke-width="0.5"/>
<circle cx="505.74" cy="464.08" r="1.05" fill="none" stroke="#8a8a8a" stroke-width="0.5"/>
<circle cx="506.38" cy="474.83" r="1.05" fill="none" stroke="#8a8a8a" stroke-width="0.5"/>
<circle cx="507.63" cy="466.70" r="1.05" fill="none" stroke="#8a8a8a" stroke-width="0.5"/>
<circle cx="515.87" cy="474.14" r="1.05" fill="none" stroke="#8a8a8a" stroke-width="0.5"/>
<circle cx="519.28" cy="479.51" r="1.05" fill="none" stroke="#8a8a8a" stroke-width="0.5"/>
<circle cx="519.06" cy="472.54" r="1.05" fill="none" stroke="#8a8a8a" stroke-width="0.5"/>
<circle cx="516.55" cy="469.00" r="1.05" fill="none" stroke="#8a8a8a" stroke-width="0.5"/>
<circle cx="518.96" cy="470.04" r="1.05" fill="none" stroke="#8a8a8a" stroke-width="0.5"/>
<circle cx="520.17" cy="468.97" r="1.05" fill="none" stroke="#8a8a8a" stroke-width="0.5"/>
<circle cx="516.81" cy="466.98" r="1.05" fill="none" stroke="#8a8a8a" stroke-width="0.5"/>
<circle cx="518.91" cy="467.24" r="1.05" fill="none" stroke="#8a8a8a" stroke-width="0.5"/>
<circle cx="517.72" cy="471.13" r="1.05" fill="none" stroke="#8a8a8a" stroke-width="0.5"/>
<circle cx="518.70" cy="470.56" r="1.05" fill="none" stroke="#8a8a8a" stroke-width="0.5"/>
<circle cx="516.00" cy="471.65" r="1.05" fill="none" stroke="#8a8a8a" stroke-width="0.5"/>
<circle cx="516.58" cy="472.02" r="1.05" fill="none" stroke="#8a8a8a" stroke-width="0.5"/>
<circle cx="519.17" cy="467.55" r="1.05" fill="none" stroke="#8a8a8a" stroke-width="0.5"/>
<circle cx="518.85" cy="475.52" r="1.05" fill="none" stroke="#8a8a8a" stroke-width="0.5"/>
<circle cx="517.48" cy="478.35" r="1.05" fill="none" stroke="#8a8a8a" stroke-width="0.5"/>
<circle cx="532.84" cy="459.19" r="1.05" fill="none" stroke="#8a8a8a" stroke-width="0.5"/>
<circle cx="533.29" cy="459.36" r="1.05" fill="none" stroke="#8a8a8a" stroke-width="0.5"/>
<circle cx="531.61" cy="462.86" r="1.05" fill="none" stroke="#8a8a8a" stroke-width="0.5"/>
<circle cx="532.77" cy="462.94" r="1.05" fill="none" stroke="#8a8a8a" stroke-width="0.5"/>
<circle cx="532.45" cy="458.35" r="1.05" fill="none" stroke="#8a8a8a" stroke-width="0.5"/>
<circle cx="532.47" cy="462.96" r="1.05" fill="none" stroke="#8a8a8a" stroke-width="0.5"/>
<circle cx="533.29" cy="465.04" r="1.05" fill="none" stroke="#8a8a8a" stroke-width="0.5"/>
<circle cx="530.64" cy="461.02" r="1.05" fill="none" stroke="#8a8a8a" stroke-width="0.5"/>
<circle cx="533.61" cy="459.02" r="1.05" fill="none" stroke="#8a8a8a" stroke-width="0.5"/>
<circle cx="532.97" cy="463.52" r="1.05" fill="none" stroke="#8a8a8a" stroke-width="0.5"/>
<circle cx="532.36" cy="461.53" r="1.05" fill="none" stroke="#8a8a8a" stroke-width="0.5"/>
<circle cx="532.50" cy="459.78" r="1.05" fill="none" stroke="#8a8a8a" stroke-width="0.5"/>
<circle cx="532.86" cy="459.16" r="1.05" fill="none" stroke="#8a8a8a" stroke-width="0.5"/>
<circle cx="533.41" cy="463.04" r="1.05" fill="none" stroke="#8a8a8a" stroke-width="0.5"/>
<circle cx="530.26" cy="459.97" r="1.05" fill="none" stroke="#8a8a8a" stroke-width="0.5"/>
<circle cx="533.45" cy="460.66" r="1.05" fill="none" stroke="#8a8a8a" stroke-width="0.5"/>
<circle cx="534.15" cy="462.08" r="1.05" fill="none" stroke="#8a8a8a" stroke-width="0.5"/>
<circle cx="531.66" cy="461.45" r="1.05" fill="none" stroke="#8a8a8a" stroke-width="0.5"/>
<circle cx="543.86" cy="467.81" r="1.05" fill="none" stroke="#8a8a8a" stroke-width="0.5"/>
<circle cx="545.27" cy="465.47" r="1.05" fill="none" stroke="#8a8a8a" stroke-width="0.5"/>
<circle cx="541.96" cy="460.93" r="1.05" fill="none" stroke="#8a8a8a" stroke-width="0.5"/>
<circle cx="541.56" cy="464.42" r="1.05" fill="none" stroke="#8a8a8a" stroke-width="0.5"/>
<circle cx="546.46" cy="462.44" r="1.05" fill="none" stroke="#8a8a8a" stroke-width="0.5"/>
<circle cx="542.45" cy="466.85" r="1.05" fill="none" stroke="#8a8a8a" stroke-width="0.5"/>
<circle cx="542.98" cy="459.74" r="1.05" fill="none" stroke="#8a8a8a" stroke-width="0.5"/>
<circle cx="541.88" cy="466.45" r="1.05" fill="none" stroke="#8a8a8a" stroke-width="0.5"/>
<circle cx="542.06" cy="461.03" r="1.05" fill="none" stroke="#8a8a8a" stroke-width="0.5"/>
<circle cx="544.10" cy="460.15" r="1.05" fill="none" stroke="#8a8a8a" stroke-width="0.5"/>
<circle cx="543.59" cy="460.65" r="1.05" fill="none" stroke="#8a8a8a" stroke-width="0.5"/>
<circle cx="545.18" cy="465.60" r="1.05" fill="none" stroke="#8a8a8a" stroke-width="0.5"/>
<circle cx="545.89" cy="462.74" r="1.05" fill="none" stroke="#8a8a8a" stroke-width="0.5"/>
<circle cx="546.20" cy="464.15" r="1.05" fill="none" stroke="#8a8a8a" stroke-width="0.5"/>
<circle cx="543.33" cy="461.24" r="1.05" fill="none" stroke="#8a8a8a" stroke-width="0.5"/>
<circle cx="546.97" cy="464.22" r="1.05" fill="none" stroke="#8a8a8a" stroke-width="0.5"/>
<circle cx="543.84" cy="464.57" r="1.05" fill="none" stroke="#8a8a8a" stroke-width="0.5"/>
<circle cx="542.87" cy="461.26" r="1.05" fill="none" stroke="#8a8a8a" stroke-width="0.5"/>
<circle cx="517.90" cy="446.80" r="1.05" fill="none" stroke="#8a8a8a" stroke-width="0.5"/>
<circle cx="517.90" cy="450.00" r="1.05" fill="none" stroke="#8a8a8a" stroke-width="0.5"/>
<circle cx="517.90" cy="461.00" r="1.05" fill="none" stroke="#8a8a8a" stroke-width="0.5"/>
<circle cx="517.90" cy="463.00" r="1.05" fill="none" stroke="#8a8a8a" stroke-width="0.5"/>
<circle cx="532.35" cy="442.90" r="1.05" fill="none" stroke="#8a8a8a" stroke-width="0.5"/>
<circle cx="532.35" cy="445.00" r="1.05" fill="none" stroke="#8a8a8a" stroke-width="0.5"/>
<circle cx="532.35" cy="447.00" r="1.05" fill="none" stroke="#8a8a8a" stroke-width="0.5"/>
<circle cx="532.35" cy="449.00" r="1.05" fill="none" stroke="#8a8a8a" stroke-width="0.5"/>
<circle cx="532.35" cy="456.50" r="1.05" fill="none" stroke="#8a8a8a" stroke-width="0.5"/>
<circle cx="544.00" cy="441.00" r="1.05" fill="none" stroke="#8a8a8a" stroke-width="0.5"/>
<circle cx="544.00" cy="444.00" r="1.05" fill="none" stroke="#8a8a8a" stroke-width="0.5"/>
<circle cx="544.00" cy="448.00" r="1.05" fill="none" stroke="#8a8a8a" stroke-width="0.5"/>
<circle cx="544.00" cy="452.00" r="1.05" fill="none" stroke="#8a8a8a" stroke-width="0.5"/>
<circle cx="505.56" cy="498.37" r="1.05" fill="none" stroke="#8a8a8a" stroke-width="0.5"/>
<circle cx="504.63" cy="498.14" r="1.05" fill="none" stroke="#8a8a8a" stroke-width="0.5"/>
<circle cx="504.01" cy="497.46" r="1.05" fill="none" stroke="#8a8a8a" stroke-width="0.5"/>
<circle cx="502.34" cy="497.58" r="1.05" fill="none" stroke="#8a8a8a" stroke-width="0.5"/>
<circle cx="504.53" cy="497.33" r="1.05" fill="none" stroke="#8a8a8a" stroke-width="0.5"/>
<circle cx="507.35" cy="496.58" r="1.05" fill="none" stroke="#8a8a8a" stroke-width="0.5"/>
<circle cx="516.29" cy="498.15" r="1.05" fill="none" stroke="#8a8a8a" stroke-width="0.5"/>
<circle cx="517.87" cy="498.39" r="1.05" fill="none" stroke="#8a8a8a" stroke-width="0.5"/>
<circle cx="518.85" cy="497.30" r="1.05" fill="none" stroke="#8a8a8a" stroke-width="0.5"/>
<circle cx="516.20" cy="496.84" r="1.05" fill="none" stroke="#8a8a8a" stroke-width="0.5"/>
<circle cx="515.65" cy="497.34" r="1.05" fill="none" stroke="#8a8a8a" stroke-width="0.5"/>
<circle cx="517.29" cy="497.84" r="1.05" fill="none" stroke="#8a8a8a" stroke-width="0.5"/>
<circle cx="533.84" cy="497.22" r="1.05" fill="none" stroke="#8a8a8a" stroke-width="0.5"/>
<circle cx="533.92" cy="497.43" r="1.05" fill="none" stroke="#8a8a8a" stroke-width="0.5"/>
<circle cx="533.55" cy="497.85" r="1.05" fill="none" stroke="#8a8a8a" stroke-width="0.5"/>
<circle cx="530.82" cy="496.74" r="1.05" fill="none" stroke="#8a8a8a" stroke-width="0.5"/>
<circle cx="531.39" cy="497.18" r="1.05" fill="none" stroke="#8a8a8a" stroke-width="0.5"/>
<circle cx="533.29" cy="497.94" r="1.05" fill="none" stroke="#8a8a8a" stroke-width="0.5"/>
<circle cx="545.48" cy="495.09" r="1.05" fill="none" stroke="#8a8a8a" stroke-width="0.5"/>
<circle cx="540.75" cy="497.17" r="1.05" fill="none" stroke="#8a8a8a" stroke-width="0.5"/>
<circle cx="541.74" cy="496.65" r="1.05" fill="none" stroke="#8a8a8a" stroke-width="0.5"/>
<circle cx="545.76" cy="497.65" r="1.05" fill="none" stroke="#8a8a8a" stroke-width="0.5"/>
<circle cx="544.69" cy="495.90" r="1.05" fill="none" stroke="#8a8a8a" stroke-width="0.5"/>
<circle cx="542.00" cy="496.48" r="1.05" fill="none" stroke="#8a8a8a" stroke-width="0.5"/>
<line x1="506.05" y1="479.00" x2="506.05" y2="486.80" stroke="#222" stroke-width="0.9"/>
<line x1="506.05" y1="496.80" x2="506.05" y2="498.30" stroke="#222" stroke-width="0.9"/>
<rect x="500.80" y="486.80" width="10.50" height="10.00" fill="#808080" stroke="#1a1a1a" stroke-width="1.0"/>
<line x1="500.80" y1="492.90" x2="511.30" y2="492.90" stroke="#111" stroke-width="1.0"/>
<path d="M504.50,491.00 L506.00,489.50 L507.50,491.00 L506.00,492.50Z" fill="#2a7fc0"/>
<line x1="517.90" y1="480.00" x2="517.90" y2="488.20" stroke="#222" stroke-width="0.9"/>
<line x1="517.90" y1="496.80" x2="517.90" y2="498.30" stroke="#222" stroke-width="0.9"/>
<rect x="512.60" y="488.20" width="10.60" height="8.60" fill="#ff2a00" stroke="#1a1a1a" stroke-width="1.0"/>
<line x1="512.60" y1="493.40" x2="523.20" y2="493.40" stroke="#3a0800" stroke-width="1.0"/>
<path d="M516.40,491.00 L517.90,489.50 L519.40,491.00 L517.90,492.50Z" fill="#2a7fc0"/>
<line x1="532.35" y1="465.50" x2="532.35" y2="478.90" stroke="#222" stroke-width="0.9"/>
<line x1="532.35" y1="496.00" x2="532.35" y2="498.30" stroke="#222" stroke-width="0.9"/>
<rect x="527.10" y="478.90" width="10.50" height="17.10" fill="#808080" stroke="#1a1a1a" stroke-width="1.0"/>
<line x1="527.10" y1="489.50" x2="537.60" y2="489.50" stroke="#111" stroke-width="1.0"/>
<path d="M530.90,485.00 L532.40,483.50 L533.90,485.00 L532.40,486.50Z" fill="#2a7fc0"/>
<line x1="544.00" y1="466.50" x2="544.00" y2="477.60" stroke="#222" stroke-width="0.9"/>
<line x1="544.00" y1="492.60" x2="544.00" y2="497.50" stroke="#222" stroke-width="0.9"/>
<rect x="539.00" y="477.60" width="10.00" height="15.00" fill="#ff2a00" stroke="#1a1a1a" stroke-width="1.0"/>
<line x1="539.00" y1="486.30" x2="549.00" y2="486.30" stroke="#3a0800" stroke-width="1.0"/>
<path d="M542.50,482.00 L544.00,480.50 L545.50,482.00 L544.00,483.50Z" fill="#2a7fc0"/>
<polyline points="506.80,434.70 506.80,431.60 517.40,431.60 517.40,434.70" stroke="#333" stroke-width="0.6" fill="none" stroke-linejoin="round"/>
<text x="512.10" y="429.60" font-size="6.3" text-anchor="middle" fill="#000" stroke="#000" stroke-width="0.07">ns</text>
<polyline points="530.50,434.70 530.50,431.60 544.20,431.60 544.20,434.70" stroke="#333" stroke-width="0.6" fill="none" stroke-linejoin="round"/>
<text x="537.35" y="429.90" font-size="6.3" text-anchor="middle" fill="#000" stroke="#000" stroke-width="0.07">0.0081</text>
<text x="475.60" y="466.40" font-size="6.8" text-anchor="middle" fill="#000" stroke="#000" stroke-width="0.07" transform="rotate(-90 475.60 466.40)">Kv Fast-Kv Slow peak (pA)</text>
<text x="507.85" y="508.30" font-size="6.8" text-anchor="end" fill="#000" stroke="#000" stroke-width="0.07" transform="rotate(-45 507.85 508.30)">Neurotypical</text>
<text x="519.70" y="508.30" font-size="6.8" text-anchor="end" fill="#000" stroke="#000" stroke-width="0.07" transform="rotate(-45 519.70 508.30)">MPSIIIA</text>
<text x="534.15" y="508.30" font-size="6.8" text-anchor="end" fill="#000" stroke="#000" stroke-width="0.07" transform="rotate(-45 534.15 508.30)">Neurotypical</text>
<text x="545.80" y="508.30" font-size="6.8" text-anchor="end" fill="#000" stroke="#000" stroke-width="0.07" transform="rotate(-45 545.80 508.30)">MPSIIIA</text>
<text x="507.40" y="537.80" font-size="5.0" text-anchor="middle" fill="#999999" stroke="#999999" stroke-width="0.07" font-style="italic">30-60 days</text>
<text x="538.30" y="537.80" font-size="5.0" text-anchor="middle" fill="#999999" stroke="#999999" stroke-width="0.07" font-style="italic">90-120 days</text>
<line x1="589.20" y1="426.50" x2="589.20" y2="498.70" stroke="#222" stroke-width="0.9"/>
<line x1="587.00" y1="426.54" x2="589.20" y2="426.54" stroke="#222" stroke-width="0.8"/>
<line x1="587.00" y1="438.57" x2="589.20" y2="438.57" stroke="#222" stroke-width="0.8"/>
<line x1="587.00" y1="450.60" x2="589.20" y2="450.60" stroke="#222" stroke-width="0.8"/>
<line x1="587.00" y1="462.63" x2="589.20" y2="462.63" stroke="#222" stroke-width="0.8"/>
<line x1="587.00" y1="474.66" x2="589.20" y2="474.66" stroke="#222" stroke-width="0.8"/>
<line x1="587.00" y1="486.69" x2="589.20" y2="486.69" stroke="#222" stroke-width="0.8"/>
<line x1="587.00" y1="498.72" x2="589.20" y2="498.72" stroke="#222" stroke-width="0.8"/>
<line x1="587.90" y1="432.56" x2="589.20" y2="432.56" stroke="#222" stroke-width="0.6"/>
<line x1="587.90" y1="444.59" x2="589.20" y2="444.59" stroke="#222" stroke-width="0.6"/>
<line x1="587.90" y1="456.62" x2="589.20" y2="456.62" stroke="#222" stroke-width="0.6"/>
<line x1="587.90" y1="468.65" x2="589.20" y2="468.65" stroke="#222" stroke-width="0.6"/>
<line x1="587.90" y1="480.68" x2="589.20" y2="480.68" stroke="#222" stroke-width="0.6"/>
<line x1="587.90" y1="492.71" x2="589.20" y2="492.71" stroke="#222" stroke-width="0.6"/>
<text x="586.60" y="429.06" font-size="7.0" text-anchor="end" fill="#000" stroke="#000" stroke-width="0.07">40</text>
<text x="586.60" y="441.09" font-size="7.0" text-anchor="end" fill="#000" stroke="#000" stroke-width="0.07">20</text>
<text x="586.60" y="453.12" font-size="7.0" text-anchor="end" fill="#000" stroke="#000" stroke-width="0.07">0</text>
<text x="586.60" y="465.15" font-size="7.0" text-anchor="end" fill="#000" stroke="#000" stroke-width="0.07">-20</text>
<text x="586.60" y="477.18" font-size="7.0" text-anchor="end" fill="#000" stroke="#000" stroke-width="0.07">-40</text>
<text x="586.60" y="489.21" font-size="7.0" text-anchor="end" fill="#000" stroke="#000" stroke-width="0.07">-60</text>
<text x="586.60" y="501.24" font-size="7.0" text-anchor="end" fill="#000" stroke="#000" stroke-width="0.07">-80</text>
<line x1="589.20" y1="498.70" x2="653.70" y2="498.70" stroke="#222" stroke-width="0.9"/>
<line x1="600.65" y1="498.70" x2="600.65" y2="500.70" stroke="#222" stroke-width="0.8"/>
<line x1="613.60" y1="498.70" x2="613.60" y2="500.70" stroke="#222" stroke-width="0.8"/>
<line x1="629.65" y1="498.70" x2="629.65" y2="500.70" stroke="#222" stroke-width="0.8"/>
<line x1="642.10" y1="498.70" x2="642.10" y2="500.70" stroke="#222" stroke-width="0.8"/>
<circle cx="600.65" cy="438.40" r="0.85" fill="none" stroke="#8a8a8a" stroke-width="0.5"/>
<circle cx="600.65" cy="441.40" r="0.85" fill="none" stroke="#8a8a8a" stroke-width="0.5"/>
<circle cx="596.85" cy="453.60" r="0.85" fill="none" stroke="#8a8a8a" stroke-width="0.5"/>
<circle cx="598.75" cy="453.60" r="0.85" fill="none" stroke="#8a8a8a" stroke-width="0.5"/>
<circle cx="600.65" cy="453.60" r="0.85" fill="none" stroke="#8a8a8a" stroke-width="0.5"/>
<circle cx="602.55" cy="453.60" r="0.85" fill="none" stroke="#8a8a8a" stroke-width="0.5"/>
<circle cx="604.45" cy="453.60" r="0.85" fill="none" stroke="#8a8a8a" stroke-width="0.5"/>
<circle cx="596.85" cy="486.80" r="0.85" fill="none" stroke="#8a8a8a" stroke-width="0.5"/>
<circle cx="598.75" cy="486.80" r="0.85" fill="none" stroke="#8a8a8a" stroke-width="0.5"/>
<circle cx="600.65" cy="486.80" r="0.85" fill="none" stroke="#8a8a8a" stroke-width="0.5"/>
<circle cx="602.55" cy="486.80" r="0.85" fill="none" stroke="#8a8a8a" stroke-width="0.5"/>
<circle cx="604.45" cy="486.80" r="0.85" fill="none" stroke="#8a8a8a" stroke-width="0.5"/>
<circle cx="597.80" cy="489.80" r="0.85" fill="none" stroke="#8a8a8a" stroke-width="0.5"/>
<circle cx="599.70" cy="489.80" r="0.85" fill="none" stroke="#8a8a8a" stroke-width="0.5"/>
<circle cx="601.60" cy="489.80" r="0.85" fill="none" stroke="#8a8a8a" stroke-width="0.5"/>
<circle cx="603.50" cy="489.80" r="0.85" fill="none" stroke="#8a8a8a" stroke-width="0.5"/>
<circle cx="613.60" cy="453.60" r="0.85" fill="none" stroke="#8a8a8a" stroke-width="0.5"/>
<circle cx="609.80" cy="456.60" r="0.85" fill="none" stroke="#8a8a8a" stroke-width="0.5"/>
<circle cx="611.70" cy="456.60" r="0.85" fill="none" stroke="#8a8a8a" stroke-width="0.5"/>
<circle cx="613.60" cy="456.60" r="0.85" fill="none" stroke="#8a8a8a" stroke-width="0.5"/>
<circle cx="615.50" cy="456.60" r="0.85" fill="none" stroke="#8a8a8a" stroke-width="0.5"/>
<circle cx="617.40" cy="456.60" r="0.85" fill="none" stroke="#8a8a8a" stroke-width="0.5"/>
<circle cx="610.75" cy="486.80" r="0.85" fill="none" stroke="#8a8a8a" stroke-width="0.5"/>
<circle cx="612.65" cy="486.80" r="0.85" fill="none" stroke="#8a8a8a" stroke-width="0.5"/>
<circle cx="614.55" cy="486.80" r="0.85" fill="none" stroke="#8a8a8a" stroke-width="0.5"/>
<circle cx="616.45" cy="486.80" r="0.85" fill="none" stroke="#8a8a8a" stroke-width="0.5"/>
<circle cx="610.75" cy="489.80" r="0.85" fill="none" stroke="#8a8a8a" stroke-width="0.5"/>
<circle cx="612.65" cy="489.80" r="0.85" fill="none" stroke="#8a8a8a" stroke-width="0.5"/>
<circle cx="614.55" cy="489.80" r="0.85" fill="none" stroke="#8a8a8a" stroke-width="0.5"/>
<circle cx="616.45" cy="489.80" r="0.85" fill="none" stroke="#8a8a8a" stroke-width="0.5"/>
<circle cx="629.65" cy="438.40" r="0.85" fill="none" stroke="#8a8a8a" stroke-width="0.5"/>
<circle cx="629.65" cy="444.50" r="0.85" fill="none" stroke="#8a8a8a" stroke-width="0.5"/>
<circle cx="629.65" cy="450.60" r="0.85" fill="none" stroke="#8a8a8a" stroke-width="0.5"/>
<circle cx="624.90" cy="453.60" r="0.85" fill="none" stroke="#8a8a8a" stroke-width="0.5"/>
<circle cx="626.80" cy="453.60" r="0.85" fill="none" stroke="#8a8a8a" stroke-width="0.5"/>
<circle cx="628.70" cy="453.60" r="0.85" fill="none" stroke="#8a8a8a" stroke-width="0.5"/>
<circle cx="630.60" cy="453.60" r="0.85" fill="none" stroke="#8a8a8a" stroke-width="0.5"/>
<circle cx="632.50" cy="453.60" r="0.85" fill="none" stroke="#8a8a8a" stroke-width="0.5"/>
<circle cx="634.40" cy="453.60" r="0.85" fill="none" stroke="#8a8a8a" stroke-width="0.5"/>
<circle cx="624.90" cy="483.80" r="0.85" fill="none" stroke="#8a8a8a" stroke-width="0.5"/>
<circle cx="626.80" cy="483.80" r="0.85" fill="none" stroke="#8a8a8a" stroke-width="0.5"/>
<circle cx="628.70" cy="483.80" r="0.85" fill="none" stroke="#8a8a8a" stroke-width="0.5"/>
<circle cx="630.60" cy="483.80" r="0.85" fill="none" stroke="#8a8a8a" stroke-width="0.5"/>
<circle cx="632.50" cy="483.80" r="0.85" fill="none" stroke="#8a8a8a" stroke-width="0.5"/>
<circle cx="634.40" cy="483.80" r="0.85" fill="none" stroke="#8a8a8a" stroke-width="0.5"/>
<circle cx="625.85" cy="486.80" r="0.85" fill="none" stroke="#8a8a8a" stroke-width="0.5"/>
<circle cx="627.75" cy="486.80" r="0.85" fill="none" stroke="#8a8a8a" stroke-width="0.5"/>
<circle cx="629.65" cy="486.80" r="0.85" fill="none" stroke="#8a8a8a" stroke-width="0.5"/>
<circle cx="631.55" cy="486.80" r="0.85" fill="none" stroke="#8a8a8a" stroke-width="0.5"/>
<circle cx="633.45" cy="486.80" r="0.85" fill="none" stroke="#8a8a8a" stroke-width="0.5"/>
<circle cx="626.80" cy="489.80" r="0.85" fill="none" stroke="#8a8a8a" stroke-width="0.5"/>
<circle cx="628.70" cy="489.80" r="0.85" fill="none" stroke="#8a8a8a" stroke-width="0.5"/>
<circle cx="630.60" cy="489.80" r="0.85" fill="none" stroke="#8a8a8a" stroke-width="0.5"/>
<circle cx="632.50" cy="489.80" r="0.85" fill="none" stroke="#8a8a8a" stroke-width="0.5"/>
<circle cx="629.65" cy="492.80" r="0.85" fill="none" stroke="#8a8a8a" stroke-width="0.5"/>
<circle cx="642.10" cy="450.60" r="0.85" fill="none" stroke="#8a8a8a" stroke-width="0.5"/>
<circle cx="639.25" cy="453.60" r="0.85" fill="none" stroke="#8a8a8a" stroke-width="0.5"/>
<circle cx="641.15" cy="453.60" r="0.85" fill="none" stroke="#8a8a8a" stroke-width="0.5"/>
<circle cx="643.05" cy="453.60" r="0.85" fill="none" stroke="#8a8a8a" stroke-width="0.5"/>
<circle cx="644.95" cy="453.60" r="0.85" fill="none" stroke="#8a8a8a" stroke-width="0.5"/>
<circle cx="641.15" cy="474.50" r="0.85" fill="none" stroke="#8a8a8a" stroke-width="0.5"/>
<circle cx="643.05" cy="474.50" r="0.85" fill="none" stroke="#8a8a8a" stroke-width="0.5"/>
<circle cx="641.15" cy="477.50" r="0.85" fill="none" stroke="#8a8a8a" stroke-width="0.5"/>
<circle cx="643.05" cy="477.50" r="0.85" fill="none" stroke="#8a8a8a" stroke-width="0.5"/>
<circle cx="641.15" cy="480.50" r="0.85" fill="none" stroke="#8a8a8a" stroke-width="0.5"/>
<circle cx="643.05" cy="480.50" r="0.85" fill="none" stroke="#8a8a8a" stroke-width="0.5"/>
<circle cx="641.15" cy="483.50" r="0.85" fill="none" stroke="#8a8a8a" stroke-width="0.5"/>
<circle cx="643.05" cy="483.50" r="0.85" fill="none" stroke="#8a8a8a" stroke-width="0.5"/>
<circle cx="641.15" cy="486.80" r="0.85" fill="none" stroke="#8a8a8a" stroke-width="0.5"/>
<circle cx="643.05" cy="486.80" r="0.85" fill="none" stroke="#8a8a8a" stroke-width="0.5"/>
<circle cx="641.15" cy="489.80" r="0.85" fill="none" stroke="#8a8a8a" stroke-width="0.5"/>
<circle cx="643.05" cy="489.80" r="0.85" fill="none" stroke="#8a8a8a" stroke-width="0.5"/>
<circle cx="641.15" cy="492.80" r="0.85" fill="none" stroke="#8a8a8a" stroke-width="0.5"/>
<circle cx="643.05" cy="492.80" r="0.85" fill="none" stroke="#8a8a8a" stroke-width="0.5"/>
<line x1="600.65" y1="456.50" x2="600.65" y2="460.00" stroke="#222" stroke-width="0.9"/>
<line x1="600.65" y1="471.00" x2="600.65" y2="483.00" stroke="#222" stroke-width="0.9"/>
<rect x="595.00" y="460.00" width="11.30" height="11.00" fill="#808080" stroke="#1a1a1a" stroke-width="1.0"/>
<line x1="595.00" y1="462.60" x2="606.30" y2="462.60" stroke="#111" stroke-width="1.0"/>
<path d="M599.10,466.00 L600.60,464.50 L602.10,466.00 L600.60,467.50Z" fill="#2a7fc0"/>
<line x1="613.60" y1="456.50" x2="613.60" y2="460.00" stroke="#222" stroke-width="0.9"/>
<line x1="613.60" y1="474.50" x2="613.60" y2="486.80" stroke="#222" stroke-width="0.9"/>
<rect x="608.20" y="460.00" width="10.80" height="14.50" fill="#ff2a00" stroke="#1a1a1a" stroke-width="1.0"/>
<line x1="608.20" y1="461.10" x2="619.00" y2="461.10" stroke="#3a0800" stroke-width="1.0"/>
<path d="M612.10,467.00 L613.60,465.50 L615.10,467.00 L613.60,468.50Z" fill="#2a7fc0"/>
<line x1="629.65" y1="456.50" x2="629.65" y2="460.00" stroke="#222" stroke-width="0.9"/>
<line x1="629.65" y1="468.40" x2="629.65" y2="480.50" stroke="#222" stroke-width="0.9"/>
<rect x="624.00" y="460.00" width="11.30" height="8.40" fill="#808080" stroke="#1a1a1a" stroke-width="1.0"/>
<line x1="624.00" y1="462.60" x2="635.30" y2="462.60" stroke="#111" stroke-width="1.0"/>
<path d="M628.20,464.00 L629.70,462.50 L631.20,464.00 L629.70,465.50Z" fill="#2a7fc0"/>
<line x1="642.10" y1="456.50" x2="642.10" y2="460.00" stroke="#222" stroke-width="0.9"/>
<line x1="642.10" y1="465.30" x2="642.10" y2="471.00" stroke="#222" stroke-width="0.9"/>
<rect x="636.60" y="460.00" width="11.00" height="5.30" fill="#ff2a00" stroke="#1a1a1a" stroke-width="1.0"/>
<line x1="636.60" y1="462.60" x2="647.60" y2="462.60" stroke="#3a0800" stroke-width="1.0"/>
<path d="M640.60,462.00 L642.10,460.50 L643.60,462.00 L642.10,463.50Z" fill="#2a7fc0"/>
<polyline points="600.30,435.00 600.30,431.50 613.40,431.50 613.40,435.00" stroke="#333" stroke-width="0.6" fill="none" stroke-linejoin="round"/>
<text x="606.85" y="429.00" font-size="6.3" text-anchor="middle" fill="#000" stroke="#000" stroke-width="0.07">ns</text>
<polyline points="629.20,435.00 629.20,431.50 642.40,431.50 642.40,435.00" stroke="#333" stroke-width="0.6" fill="none" stroke-linejoin="round"/>
<text x="635.80" y="429.00" font-size="6.3" text-anchor="middle" fill="#000" stroke="#000" stroke-width="0.07">ns</text>
<text x="565.80" y="462.00" font-size="7.0" text-anchor="middle" fill="#000" stroke="#000" stroke-width="0.07" transform="rotate(-90 565.80 462.00)">Kv Fast-Kv Slow Peak</text>
<text x="573.20" y="462.00" font-size="7.0" text-anchor="middle" fill="#000" stroke="#000" stroke-width="0.07" transform="rotate(-90 573.20 462.00)">Membrane Potential (mV)</text>
<text x="657.30" y="469.10" font-size="8.2" text-anchor="middle" fill="#000" stroke="#000" stroke-width="0.07" font-style="italic" transform="rotate(-90 657.30 469.10)">n = neurons</text>
<text x="602.45" y="508.30" font-size="7.2" text-anchor="end" fill="#000" stroke="#000" stroke-width="0.07" transform="rotate(-45 602.45 508.30)">Neurotypical</text>
<text x="615.40" y="508.30" font-size="7.2" text-anchor="end" fill="#000" stroke="#000" stroke-width="0.07" transform="rotate(-45 615.40 508.30)">MPSIIIA</text>
<text x="631.45" y="508.30" font-size="7.2" text-anchor="end" fill="#000" stroke="#000" stroke-width="0.07" transform="rotate(-45 631.45 508.30)">Neurotypical</text>
<text x="643.90" y="508.30" font-size="7.2" text-anchor="end" fill="#000" stroke="#000" stroke-width="0.07" transform="rotate(-45 643.90 508.30)">MPSIIIA</text>
<text x="602.00" y="541.50" font-size="5.8" text-anchor="middle" fill="#999999" stroke="#999999" stroke-width="0.07" font-style="italic">30-60 days</text>
<text x="635.60" y="541.50" font-size="5.8" text-anchor="middle" fill="#999999" stroke="#999999" stroke-width="0.07" font-style="italic">90-120 days</text>
</svg></body></html>
